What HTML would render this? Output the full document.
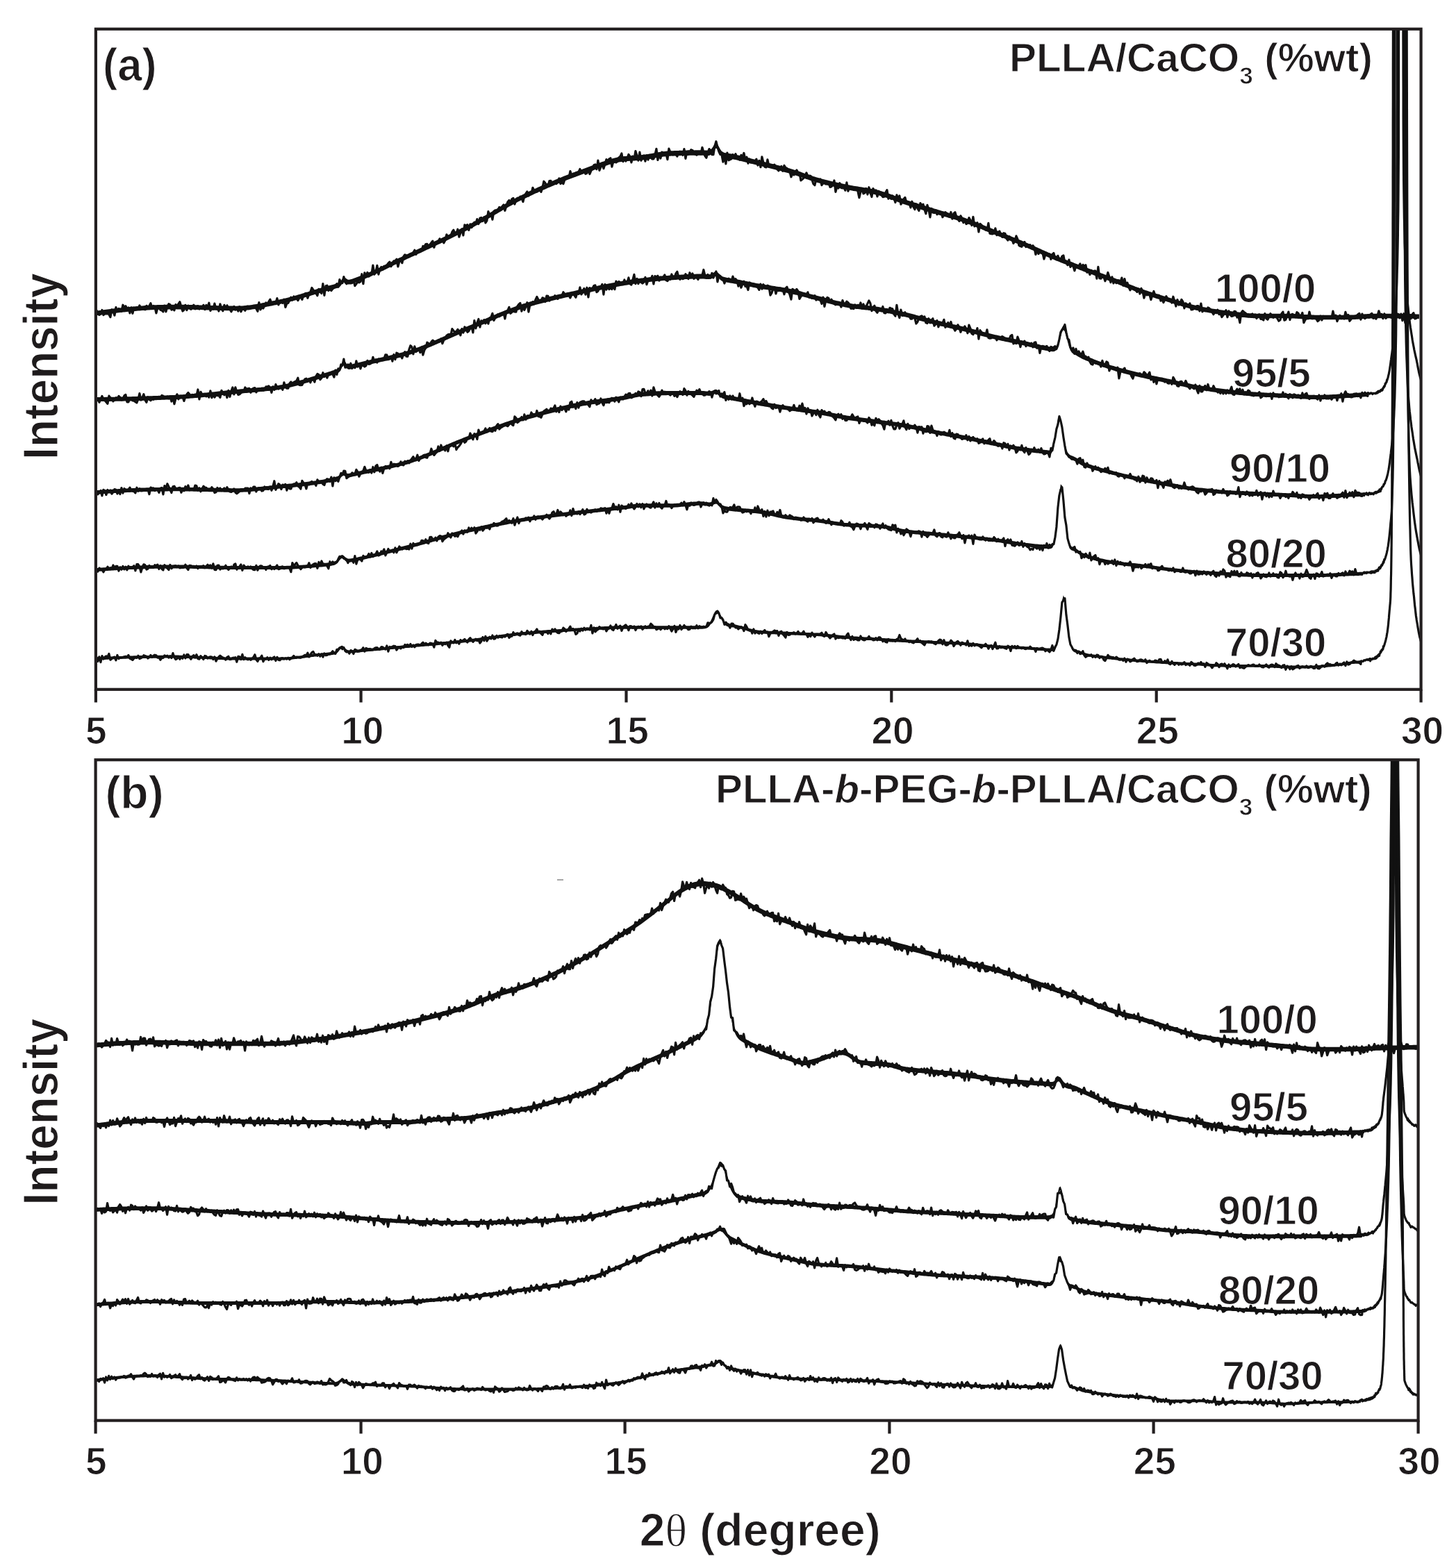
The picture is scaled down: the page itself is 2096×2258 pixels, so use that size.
<!DOCTYPE html>
<html><head><meta charset="utf-8"><title>XRD patterns</title><style>html,body{margin:0;padding:0;background:#fff}svg{display:block;filter:blur(0.55px)}</style></head><body>
<svg xmlns="http://www.w3.org/2000/svg" width="2096" height="2258" viewBox="0 0 2096 2258">
<style>
text{font-family:'Liberation Sans', Arial, Helvetica, sans-serif;font-weight:bold;fill:#1e1b1c;stroke:#fff;stroke-width:1.1px}
.tl{font-size:55px}
.lab{font-size:58px}
.ttl{font-size:58px}
.pan{font-size:66px}
.yl{font-size:70px}
.xl{font-size:66px}
</style>
<rect width="2096" height="2258" fill="#fff"/>
<defs><clipPath id="ca"><rect x="137.9" y="41.8" width="1907.6999999999998" height="951.0"/></clipPath>
<clipPath id="cb"><rect x="137.6" y="1094.2" width="1904.0" height="951.3999999999999"/></clipPath></defs>
<g clip-path="url(#ca)" stroke="#111" stroke-width="3.2" stroke-linejoin="round">
<path d="M138.9 447.7L140.9 447.4 142.9 447.1 144.9 446.9 146.9 446.6 148.9 446.3 150.9 446.1 152.9 445.8 154.9 445.6 156.9 445.3 158.9 445.1 160.9 444.8 162.9 444.6 164.9 444.3 166.9 444.1 168.9 443.9 170.9 443.6 172.9 443.4 174.9 443.2 176.9 443.0 178.9 442.8 180.9 442.6 182.9 442.3 184.9 442.1 186.9 442.0 188.9 441.8 190.9 441.6 192.9 441.4 194.9 441.2 196.9 441.0 198.9 440.9 200.9 440.7 202.9 440.6 204.9 440.4 206.9 440.3 208.9 440.1 210.9 440.0 212.9 439.9 214.9 439.7 216.9 439.6 218.9 439.5 220.9 439.4 222.9 439.3 224.9 439.2 226.9 439.1 228.9 439.1 230.9 439.0 232.9 438.9 234.9 438.9 236.9 438.8 238.9 438.8 240.9 438.7 242.9 438.7 244.9 438.7 246.9 438.7 248.9 438.7 250.9 438.7 252.9 438.7 254.9 438.7 256.9 438.7 258.9 438.7 260.9 438.7 262.9 438.8 264.9 438.8 266.9 438.8 268.9 438.9 270.9 438.9 272.9 439.0 274.9 439.0 276.9 439.1 278.9 439.1 280.9 439.2 282.9 439.3 284.9 439.3 286.9 439.4 288.9 439.4 290.9 439.5 292.9 439.6 294.9 439.6 296.9 439.7 298.9 439.8 300.9 439.8 302.9 439.9 304.9 440.0 306.9 440.0 308.9 440.1 310.9 440.1 312.9 440.2 314.9 440.3 316.9 440.3 318.9 440.4 320.9 440.4 322.9 440.5 324.9 440.5 326.9 440.5 328.9 440.6 330.9 440.6 332.9 440.6 334.9 440.6 336.9 440.7 338.9 440.7 340.9 440.7 342.9 440.6 344.9 440.6 346.9 440.5 348.9 440.4 350.9 440.3 352.9 440.1 354.9 439.9 356.9 439.7 358.9 439.5 360.9 439.2 362.9 438.9 364.9 438.6 366.9 438.3 368.9 438.0 370.9 437.6 372.9 437.3 374.9 436.9 376.9 436.5 378.9 436.1 380.9 435.7 382.9 435.3 384.9 434.9 386.9 434.5 388.9 434.1 390.9 433.7 392.9 433.3 394.9 432.9 396.9 432.5 398.9 432.1 400.9 431.7 402.9 431.3 404.9 430.8 406.9 430.4 408.9 430.0 410.9 429.5 412.9 429.0 414.9 428.5 416.9 428.0 418.9 427.4 420.9 426.9 422.9 426.3 424.9 425.8 426.9 425.2 428.9 424.6 430.9 424.0 432.9 423.4 434.9 422.8 436.9 422.2 438.9 421.6 440.9 421.0 442.9 420.4 444.9 419.7 446.9 419.1 448.9 418.5 450.9 417.9 452.9 417.3 454.9 416.7 456.9 416.1 458.9 415.5 460.9 414.9 462.9 414.4 464.9 413.8 466.9 413.2 468.9 412.7 470.9 412.1 472.9 411.6 474.9 411.0 476.9 410.5 478.9 409.9 480.9 409.4 482.9 408.8 484.9 408.3 486.9 407.6 488.9 406.4 490.9 404.2 492.9 401.3 494.9 399.4 496.9 399.9 498.9 401.6 500.9 402.7 502.9 402.8 504.9 402.3 506.9 401.7 508.9 401.0 510.9 400.3 512.9 399.6 514.9 398.8 516.9 398.1 518.9 397.3 520.9 396.5 522.9 395.7 524.9 394.9 526.9 394.0 528.9 393.2 530.9 392.3 532.9 391.4 534.9 390.5 536.9 389.6 538.9 388.7 540.9 387.8 542.9 386.8 544.9 385.9 546.9 384.9 548.9 384.0 550.9 383.0 552.9 382.0 554.9 381.1 556.9 380.1 558.9 379.1 560.9 378.2 562.9 377.2 564.9 376.2 566.9 375.2 568.9 374.2 570.9 373.3 572.9 372.3 574.9 371.3 576.9 370.4 578.9 369.4 580.9 368.5 582.9 367.5 584.9 366.6 586.9 365.7 588.9 364.7 590.9 363.8 592.9 362.9 594.9 361.9 596.9 361.0 598.9 360.1 600.9 359.2 602.9 358.2 604.9 357.3 606.9 356.4 608.9 355.4 610.9 354.5 612.9 353.6 614.9 352.7 616.9 351.7 618.9 350.8 620.9 349.9 622.9 348.9 624.9 348.0 626.9 347.0 628.9 346.1 630.9 345.1 632.9 344.2 634.9 343.2 636.9 342.3 638.9 341.3 640.9 340.4 642.9 339.4 644.9 338.5 646.9 337.5 648.9 336.5 650.9 335.5 652.9 334.6 654.9 333.6 656.9 332.6 658.9 331.6 660.9 330.6 662.9 329.6 664.9 328.6 666.9 327.6 668.9 326.5 670.9 325.5 672.9 324.5 674.9 323.4 676.9 322.4 678.9 321.3 680.9 320.2 682.9 319.1 684.9 318.0 686.9 316.9 688.9 315.8 690.9 314.7 692.9 313.5 694.9 312.4 696.9 311.2 698.9 310.1 700.9 308.9 702.9 307.7 704.9 306.6 706.9 305.4 708.9 304.2 710.9 303.1 712.9 301.9 714.9 300.7 716.9 299.6 718.9 298.4 720.9 297.3 722.9 296.1 724.9 295.0 726.9 293.8 728.9 292.7 730.9 291.6 732.9 290.4 734.9 289.3 736.9 288.2 738.9 287.1 740.9 286.1 742.9 285.0 744.9 284.0 746.9 282.9 748.9 281.9 750.9 280.9 752.9 279.9 754.9 278.9 756.9 278.0 758.9 277.0 760.9 276.1 762.9 275.1 764.9 274.2 766.9 273.3 768.9 272.3 770.9 271.4 772.9 270.5 774.9 269.6 776.9 268.7 778.9 267.8 780.9 266.9 782.9 266.0 784.9 265.1 786.9 264.2 788.9 263.4 790.9 262.5 792.9 261.6 794.9 260.8 796.9 259.9 798.9 259.1 800.9 258.2 802.9 257.4 804.9 256.6 806.9 255.7 808.9 254.9 810.9 254.1 812.9 253.3 814.9 252.5 816.9 251.7 818.9 250.9 820.9 250.2 822.9 249.4 824.9 248.6 826.9 247.9 828.9 247.1 830.9 246.4 832.9 245.6 834.9 244.9 836.9 244.2 838.9 243.4 840.9 242.7 842.9 242.0 844.9 241.3 846.9 240.6 848.9 239.8 850.9 239.1 852.9 238.3 854.9 237.6 856.9 236.8 858.9 236.1 860.9 235.3 862.9 234.6 864.9 233.8 866.9 233.1 868.9 232.4 870.9 231.7 872.9 231.0 874.9 230.4 876.9 229.8 878.9 229.2 880.9 228.6 882.9 228.1 884.9 227.5 886.9 227.1 888.9 226.6 890.9 226.2 892.9 225.9 894.9 225.6 896.9 225.3 898.9 225.1 900.9 224.9 902.9 224.8 904.9 224.6 906.9 224.5 908.9 224.3 910.9 224.2 912.9 224.1 914.9 224.0 916.9 223.8 918.9 223.7 920.9 223.5 922.9 223.3 924.9 223.1 926.9 222.9 928.9 222.6 930.9 222.3 932.9 222.0 934.9 221.6 936.9 221.3 938.9 220.9 940.9 220.6 942.9 220.2 944.9 219.8 946.9 219.5 948.9 219.2 950.9 218.8 952.9 218.5 954.9 218.2 956.9 218.0 958.9 217.8 960.9 217.6 962.9 217.4 964.9 217.3 966.9 217.2 968.9 217.2 970.9 217.1 972.9 217.0 974.9 216.9 976.9 216.9 978.9 216.8 980.9 216.7 982.9 216.7 984.9 216.6 986.9 216.6 988.9 216.5 990.9 216.5 992.9 216.5 994.9 216.4 996.9 216.4 998.9 216.4 1000.9 216.3 1002.9 216.3 1004.9 216.3 1006.9 216.3 1008.9 216.3 1010.9 216.3 1012.9 216.4 1014.9 216.5 1016.9 216.6 1018.9 216.7 1020.9 216.5 1022.9 215.6 1024.9 213.6 1026.9 210.5 1028.9 207.4 1030.9 206.1 1032.9 207.7 1034.9 211.3 1036.9 215.0 1038.9 217.7 1040.9 219.1 1042.9 219.9 1044.9 220.3 1046.9 220.7 1048.9 221.0 1050.9 221.3 1052.9 221.6 1054.9 222.0 1056.9 222.4 1058.9 222.8 1060.9 223.2 1062.9 223.6 1064.9 224.1 1066.9 224.6 1068.9 225.1 1070.9 225.6 1072.9 226.1 1074.9 226.6 1076.9 227.1 1078.9 227.7 1080.9 228.2 1082.9 228.7 1084.9 229.3 1086.9 229.8 1088.9 230.3 1090.9 230.8 1092.9 231.3 1094.9 231.8 1096.9 232.3 1098.9 232.8 1100.9 233.3 1102.9 233.8 1104.9 234.2 1106.9 234.7 1108.9 235.2 1110.9 235.7 1112.9 236.2 1114.9 236.7 1116.9 237.2 1118.9 237.7 1120.9 238.3 1122.9 238.8 1124.9 239.3 1126.9 239.8 1128.9 240.4 1130.9 240.9 1132.9 241.5 1134.9 242.0 1136.9 242.6 1138.9 243.2 1140.9 243.8 1142.9 244.5 1144.9 245.1 1146.9 245.8 1148.9 246.5 1150.9 247.1 1152.9 247.8 1154.9 248.5 1156.9 249.2 1158.9 249.9 1160.9 250.6 1162.9 251.3 1164.9 252.0 1166.9 252.7 1168.9 253.3 1170.9 254.0 1172.9 254.6 1174.9 255.2 1176.9 255.8 1178.9 256.3 1180.9 256.9 1182.9 257.4 1184.9 257.9 1186.9 258.5 1188.9 259.0 1190.9 259.5 1192.9 260.0 1194.9 260.4 1196.9 260.9 1198.9 261.4 1200.9 261.9 1202.9 262.3 1204.9 262.8 1206.9 263.2 1208.9 263.6 1210.9 264.1 1212.9 264.5 1214.9 264.9 1216.9 265.3 1218.9 265.8 1220.9 266.2 1222.9 266.6 1224.9 266.9 1226.9 267.3 1228.9 267.7 1230.9 268.0 1232.9 268.3 1234.9 268.6 1236.9 268.9 1238.9 269.3 1240.9 269.6 1242.9 269.9 1244.9 270.2 1246.9 270.5 1248.9 270.8 1250.9 271.2 1252.9 271.5 1254.9 271.9 1256.9 272.3 1258.9 272.7 1260.9 273.1 1262.9 273.6 1264.9 274.1 1266.9 274.7 1268.9 275.2 1270.9 275.9 1272.9 276.5 1274.9 277.2 1276.9 277.9 1278.9 278.6 1280.9 279.3 1282.9 280.1 1284.9 280.8 1286.9 281.6 1288.9 282.3 1290.9 283.1 1292.9 283.8 1294.9 284.6 1296.9 285.3 1298.9 286.0 1300.9 286.7 1302.9 287.4 1304.9 288.0 1306.9 288.7 1308.9 289.3 1310.9 289.9 1312.9 290.6 1314.9 291.2 1316.9 291.8 1318.9 292.5 1320.9 293.1 1322.9 293.7 1324.9 294.3 1326.9 294.9 1328.9 295.5 1330.9 296.1 1332.9 296.7 1334.9 297.4 1336.9 298.0 1338.9 298.6 1340.9 299.2 1342.9 299.8 1344.9 300.4 1346.9 301.0 1348.9 301.6 1350.9 302.2 1352.9 302.8 1354.9 303.4 1356.9 304.0 1358.9 304.5 1360.9 305.1 1362.9 305.7 1364.9 306.3 1366.9 306.9 1368.9 307.4 1370.9 308.0 1372.9 308.6 1374.9 309.2 1376.9 309.9 1378.9 310.5 1380.9 311.1 1382.9 311.8 1384.9 312.4 1386.9 313.1 1388.9 313.8 1390.9 314.5 1392.9 315.2 1394.9 315.9 1396.9 316.7 1398.9 317.4 1400.9 318.2 1402.9 319.0 1404.9 319.8 1406.9 320.6 1408.9 321.4 1410.9 322.2 1412.9 323.1 1414.9 323.9 1416.9 324.7 1418.9 325.5 1420.9 326.4 1422.9 327.2 1424.9 328.0 1426.9 328.8 1428.9 329.6 1430.9 330.4 1432.9 331.2 1434.9 332.0 1436.9 332.8 1438.9 333.6 1440.9 334.4 1442.9 335.2 1444.9 336.0 1446.9 336.8 1448.9 337.6 1450.9 338.4 1452.9 339.2 1454.9 340.0 1456.9 340.9 1458.9 341.7 1460.9 342.5 1462.9 343.3 1464.9 344.1 1466.9 345.0 1468.9 345.8 1470.9 346.6 1472.9 347.5 1474.9 348.3 1476.9 349.2 1478.9 350.1 1480.9 350.9 1482.9 351.8 1484.9 352.7 1486.9 353.6 1488.9 354.5 1490.9 355.4 1492.9 356.3 1494.9 357.2 1496.9 358.1 1498.9 359.0 1500.9 359.9 1502.9 360.8 1504.9 361.7 1506.9 362.6 1508.9 363.5 1510.9 364.4 1512.9 365.2 1514.9 366.1 1516.9 366.9 1518.9 367.7 1520.9 368.6 1522.9 369.4 1524.9 370.2 1526.9 371.0 1528.9 371.8 1530.9 372.6 1532.9 373.4 1534.9 374.2 1536.9 375.0 1538.9 375.8 1540.9 376.6 1542.9 377.3 1544.9 378.1 1546.9 378.9 1548.9 379.7 1550.9 380.5 1552.9 381.2 1554.9 382.0 1556.9 382.8 1558.9 383.5 1560.9 384.3 1562.9 385.1 1564.9 385.8 1566.9 386.6 1568.9 387.3 1570.9 388.0 1572.9 388.8 1574.9 389.5 1576.9 390.3 1578.9 391.0 1580.9 391.7 1582.9 392.5 1584.9 393.2 1586.9 393.9 1588.9 394.7 1590.9 395.4 1592.9 396.2 1594.9 396.9 1596.9 397.7 1598.9 398.4 1600.9 399.2 1602.9 399.9 1604.9 400.7 1606.9 401.5 1608.9 402.3 1610.9 403.1 1612.9 403.9 1614.9 404.7 1616.9 405.6 1618.9 406.4 1620.9 407.2 1622.9 408.0 1624.9 408.9 1626.9 409.7 1628.9 410.5 1630.9 411.3 1632.9 412.1 1634.9 412.9 1636.9 413.6 1638.9 414.4 1640.9 415.1 1642.9 415.9 1644.9 416.6 1646.9 417.3 1648.9 418.0 1650.9 418.6 1652.9 419.3 1654.9 420.0 1656.9 420.6 1658.9 421.3 1660.9 421.9 1662.9 422.5 1664.9 423.1 1666.9 423.8 1668.9 424.4 1670.9 425.0 1672.9 425.6 1674.9 426.2 1676.9 426.8 1678.9 427.4 1680.9 428.0 1682.9 428.6 1684.9 429.2 1686.9 429.8 1688.9 430.4 1690.9 431.1 1692.9 431.7 1694.9 432.3 1696.9 433.0 1698.9 433.6 1700.9 434.2 1702.9 434.8 1704.9 435.4 1706.9 436.0 1708.9 436.6 1710.9 437.2 1712.9 437.7 1714.9 438.3 1716.9 438.8 1718.9 439.3 1720.9 439.8 1722.9 440.2 1724.9 440.6 1726.9 441.1 1728.9 441.5 1730.9 441.9 1732.9 442.2 1734.9 442.6 1736.9 443.0 1738.9 443.4 1740.9 443.7 1742.9 444.0 1744.9 444.4 1746.9 444.7 1748.9 445.0 1750.9 445.3 1752.9 445.6 1754.9 445.9 1756.9 446.2 1758.9 446.5 1760.9 446.8 1762.9 447.0 1764.9 447.3 1766.9 447.5 1768.9 447.8 1770.9 448.0 1772.9 448.3 1774.9 448.5 1776.9 448.8 1778.9 449.0 1780.9 449.3 1782.9 449.5 1784.9 449.8 1786.9 450.0 1788.9 450.2 1790.9 450.5 1792.9 450.7 1794.9 450.9 1796.9 451.0 1798.9 451.2 1800.9 451.3 1802.9 451.5 1804.9 451.6 1806.9 451.6 1808.9 451.7 1810.9 451.7 1812.9 451.7 1814.9 451.7 1816.9 451.7 1818.9 451.7 1820.9 451.7 1822.9 451.7 1824.9 451.7 1826.9 451.7 1828.9 451.7 1830.9 451.7 1832.9 451.7 1834.9 451.7 1836.9 451.7 1838.9 451.7 1840.9 451.7 1842.9 451.7 1844.9 451.7 1846.9 451.7 1848.9 451.7 1850.9 451.7 1852.9 451.7 1854.9 451.7 1856.9 451.7 1858.9 451.8 1860.9 451.9 1862.9 452.0 1864.9 452.1 1866.9 452.2 1868.9 452.3 1870.9 452.4 1872.9 452.6 1874.9 452.7 1876.9 452.9 1878.9 453.0 1880.9 453.1 1882.9 453.2 1884.9 453.4 1886.9 453.5 1888.9 453.5 1890.9 453.6 1892.9 453.7 1894.9 453.7 1896.9 453.7 1898.9 453.7 1900.9 453.7 1902.9 453.7 1904.9 453.7 1906.9 453.7 1908.9 453.7 1910.9 453.7 1912.9 453.7 1914.9 453.7 1916.9 453.7 1918.9 453.7 1920.9 453.7 1922.9 453.7 1924.9 453.7 1926.9 453.7 1928.9 453.7 1930.9 453.7 1932.9 453.7 1934.9 453.7 1936.9 453.7 1938.9 453.7 1940.9 453.7 1942.9 453.6 1944.9 453.6 1946.9 453.5 1948.9 453.4 1950.9 453.3 1952.9 453.2 1954.9 453.0 1956.9 452.9 1958.9 452.8 1960.9 452.6 1962.9 452.5 1964.9 452.3 1966.9 452.2 1968.9 452.1 1970.9 452.0 1972.9 451.9 1974.9 451.8 1976.9 451.7 1978.9 451.7 1980.9 451.7 1982.9 451.7 1984.9 451.7 1986.9 451.7 1988.9 451.7 1990.9 451.7 1992.9 451.7 1994.9 451.7 1996.9 451.7 1998.9 451.7 2000.9 451.7 2002.9 451.7 2004.9 451.7 2006.9 451.7 2008.9 451.8 2010.9 451.8 2012.9 451.8 2014.9 451.8 2016.9 451.9 2018.9 451.9 2020.9 451.9 2022.9 451.9 2024.9 452.0 2026.9 452.0 2028.9 452.1 2030.9 452.1 2032.9 452.2 2034.9 452.3 2036.9 452.3 2038.9 452.4 2040.9 452.5 2042.9 452.5 2042.9 459.2 2040.9 459.1 2038.9 459.0 2036.9 459.0 2034.9 458.9 2032.9 458.8 2030.9 458.8 2028.9 458.7 2026.9 458.7 2024.9 458.6 2022.9 458.6 2020.9 458.5 2018.9 458.5 2016.9 458.5 2014.9 458.5 2012.9 458.4 2010.9 458.4 2008.9 458.4 2006.9 458.4 2004.9 458.4 2002.9 458.4 2000.9 458.3 1998.9 458.3 1996.9 458.3 1994.9 458.3 1992.9 458.3 1990.9 458.3 1988.9 458.3 1986.9 458.3 1984.9 458.3 1982.9 458.3 1980.9 458.3 1978.9 458.3 1976.9 458.4 1974.9 458.4 1972.9 458.5 1970.9 458.6 1968.9 458.7 1966.9 458.8 1964.9 459.0 1962.9 459.1 1960.9 459.3 1958.9 459.4 1956.9 459.5 1954.9 459.7 1952.9 459.8 1950.9 459.9 1948.9 460.0 1946.9 460.1 1944.9 460.2 1942.9 460.3 1940.9 460.3 1938.9 460.3 1936.9 460.3 1934.9 460.3 1932.9 460.3 1930.9 460.3 1928.9 460.3 1926.9 460.3 1924.9 460.3 1922.9 460.3 1920.9 460.3 1918.9 460.3 1916.9 460.3 1914.9 460.3 1912.9 460.3 1910.9 460.3 1908.9 460.3 1906.9 460.3 1904.9 460.3 1902.9 460.3 1900.9 460.3 1898.9 460.3 1896.9 460.3 1894.9 460.3 1892.9 460.3 1890.9 460.2 1888.9 460.2 1886.9 460.1 1884.9 460.0 1882.9 459.9 1880.9 459.7 1878.9 459.6 1876.9 459.5 1874.9 459.3 1872.9 459.2 1870.9 459.1 1868.9 458.9 1866.9 458.8 1864.9 458.7 1862.9 458.6 1860.9 458.5 1858.9 458.4 1856.9 458.4 1854.9 458.3 1852.9 458.3 1850.9 458.3 1848.9 458.3 1846.9 458.3 1844.9 458.3 1842.9 458.3 1840.9 458.3 1838.9 458.3 1836.9 458.3 1834.9 458.3 1832.9 458.3 1830.9 458.3 1828.9 458.3 1826.9 458.3 1824.9 458.3 1822.9 458.3 1820.9 458.3 1818.9 458.3 1816.9 458.3 1814.9 458.3 1812.9 458.3 1810.9 458.3 1808.9 458.3 1806.9 458.3 1804.9 458.2 1802.9 458.1 1800.9 458.0 1798.9 457.8 1796.9 457.7 1794.9 457.5 1792.9 457.3 1790.9 457.1 1788.9 456.9 1786.9 456.7 1784.9 456.4 1782.9 456.2 1780.9 455.9 1778.9 455.7 1776.9 455.4 1774.9 455.2 1772.9 454.9 1770.9 454.7 1768.9 454.4 1766.9 454.2 1764.9 453.9 1762.9 453.7 1760.9 453.4 1758.9 453.2 1756.9 452.9 1754.9 452.6 1752.9 452.3 1750.9 452.0 1748.9 451.7 1746.9 451.4 1744.9 451.0 1742.9 450.7 1740.9 450.4 1738.9 450.0 1736.9 449.7 1734.9 449.3 1732.9 448.9 1730.9 448.5 1728.9 448.1 1726.9 447.7 1724.9 447.3 1722.9 446.9 1720.9 446.4 1718.9 446.0 1716.9 445.5 1714.9 444.9 1712.9 444.4 1710.9 443.8 1708.9 443.3 1706.9 442.7 1704.9 442.1 1702.9 441.5 1700.9 440.9 1698.9 440.3 1696.9 439.7 1694.9 439.0 1692.9 438.4 1690.9 437.8 1688.9 437.2 1686.9 436.5 1684.9 435.9 1682.9 435.3 1680.9 434.7 1678.9 434.1 1676.9 433.5 1674.9 432.9 1672.9 432.3 1670.9 431.7 1668.9 431.1 1666.9 430.5 1664.9 429.9 1662.9 429.3 1660.9 428.6 1658.9 428.0 1656.9 427.4 1654.9 426.7 1652.9 426.1 1650.9 425.4 1648.9 424.7 1646.9 424.0 1644.9 423.3 1642.9 422.6 1640.9 421.9 1638.9 421.2 1636.9 420.4 1634.9 419.6 1632.9 418.9 1630.9 418.1 1628.9 417.3 1626.9 416.5 1624.9 415.6 1622.9 414.8 1620.9 414.0 1618.9 413.2 1616.9 412.4 1614.9 411.5 1612.9 410.7 1610.9 409.9 1608.9 409.1 1606.9 408.3 1604.9 407.5 1602.9 406.8 1600.9 406.0 1598.9 405.2 1596.9 404.5 1594.9 403.7 1592.9 403.0 1590.9 402.2 1588.9 401.5 1586.9 400.8 1584.9 400.0 1582.9 399.3 1580.9 398.6 1578.9 397.8 1576.9 397.1 1574.9 396.4 1572.9 395.6 1570.9 394.9 1568.9 394.2 1566.9 393.4 1564.9 392.7 1562.9 391.9 1560.9 391.2 1558.9 390.4 1556.9 389.6 1554.9 388.9 1552.9 388.1 1550.9 387.3 1548.9 386.6 1546.9 385.8 1544.9 385.0 1542.9 384.2 1540.9 383.5 1538.9 382.7 1536.9 381.9 1534.9 381.1 1532.9 380.3 1530.9 379.5 1528.9 378.7 1526.9 377.9 1524.9 377.1 1522.9 376.3 1520.9 375.5 1518.9 374.7 1516.9 373.8 1514.9 373.0 1512.9 372.2 1510.9 371.3 1508.9 370.4 1506.9 369.6 1504.9 368.7 1502.9 367.8 1500.9 366.9 1498.9 366.0 1496.9 365.1 1494.9 364.2 1492.9 363.3 1490.9 362.4 1488.9 361.5 1486.9 360.6 1484.9 359.7 1482.9 358.8 1480.9 357.9 1478.9 357.0 1476.9 356.2 1474.9 355.3 1472.9 354.4 1470.9 353.6 1468.9 352.8 1466.9 351.9 1464.9 351.1 1462.9 350.3 1460.9 349.5 1458.9 348.7 1456.9 347.9 1454.9 347.1 1452.9 346.2 1450.9 345.4 1448.9 344.6 1446.9 343.8 1444.9 343.1 1442.9 342.3 1440.9 341.5 1438.9 340.7 1436.9 339.9 1434.9 339.1 1432.9 338.3 1430.9 337.5 1428.9 336.7 1426.9 335.9 1424.9 335.1 1422.9 334.2 1420.9 333.4 1418.9 332.6 1416.9 331.8 1414.9 330.9 1412.9 330.1 1410.9 329.3 1408.9 328.5 1406.9 327.7 1404.9 326.9 1402.9 326.1 1400.9 325.3 1398.9 324.5 1396.9 323.8 1394.9 323.0 1392.9 322.3 1390.9 321.6 1388.9 320.9 1386.9 320.2 1384.9 319.5 1382.9 318.8 1380.9 318.2 1378.9 317.6 1376.9 317.0 1374.9 316.3 1372.9 315.7 1370.9 315.1 1368.9 314.6 1366.9 314.0 1364.9 313.4 1362.9 312.8 1360.9 312.2 1358.9 311.7 1356.9 311.1 1354.9 310.5 1352.9 309.9 1350.9 309.3 1348.9 308.7 1346.9 308.1 1344.9 307.5 1342.9 306.9 1340.9 306.3 1338.9 305.7 1336.9 305.1 1334.9 304.5 1332.9 303.9 1330.9 303.3 1328.9 302.7 1326.9 302.1 1324.9 301.5 1322.9 300.8 1320.9 300.2 1318.9 299.6 1316.9 299.0 1314.9 298.4 1312.9 297.7 1310.9 297.1 1308.9 296.5 1306.9 295.8 1304.9 295.2 1302.9 294.6 1300.9 293.9 1298.9 293.2 1296.9 292.5 1294.9 291.8 1292.9 291.0 1290.9 290.3 1288.9 289.5 1286.9 288.8 1284.9 288.0 1282.9 287.3 1280.9 286.5 1278.9 285.8 1276.9 285.1 1274.9 284.4 1272.9 283.7 1270.9 283.1 1268.9 282.4 1266.9 281.9 1264.9 281.3 1262.9 280.8 1260.9 280.4 1258.9 279.9 1256.9 279.5 1254.9 279.1 1252.9 278.8 1250.9 278.4 1248.9 278.1 1246.9 277.7 1244.9 277.4 1242.9 277.1 1240.9 276.8 1238.9 276.5 1236.9 276.2 1234.9 275.9 1232.9 275.5 1230.9 275.2 1228.9 274.9 1226.9 274.5 1224.9 274.2 1222.9 273.8 1220.9 273.4 1218.9 273.0 1216.9 272.6 1214.9 272.2 1212.9 271.8 1210.9 271.3 1208.9 270.9 1206.9 270.5 1204.9 270.0 1202.9 269.6 1200.9 269.1 1198.9 268.6 1196.9 268.2 1194.9 267.7 1192.9 267.2 1190.9 266.7 1188.9 266.2 1186.9 265.7 1184.9 265.2 1182.9 264.7 1180.9 264.1 1178.9 263.6 1176.9 263.0 1174.9 262.5 1172.9 261.9 1170.9 261.2 1168.9 260.6 1166.9 259.9 1164.9 259.3 1162.9 258.6 1160.9 257.9 1158.9 257.2 1156.9 256.5 1154.9 255.8 1152.9 255.1 1150.9 254.4 1148.9 253.7 1146.9 253.1 1144.9 252.4 1142.9 251.8 1140.9 251.1 1138.9 250.5 1136.9 249.9 1134.9 249.3 1132.9 248.8 1130.9 248.2 1128.9 247.7 1126.9 247.1 1124.9 246.6 1122.9 246.1 1120.9 245.6 1118.9 245.1 1116.9 244.6 1114.9 244.0 1112.9 243.5 1110.9 243.1 1108.9 242.6 1106.9 242.1 1104.9 241.6 1102.9 241.1 1100.9 240.6 1098.9 240.1 1096.9 239.6 1094.9 239.1 1092.9 238.6 1090.9 238.1 1088.9 237.6 1086.9 237.1 1084.9 236.6 1082.9 236.1 1080.9 235.5 1078.9 235.0 1076.9 234.5 1074.9 234.0 1072.9 233.4 1070.9 232.9 1068.9 232.4 1066.9 231.9 1064.9 231.5 1062.9 231.0 1060.9 230.6 1058.9 230.1 1056.9 229.7 1054.9 229.3 1052.9 229.0 1050.9 228.7 1048.9 228.4 1046.9 228.0 1044.9 227.7 1042.9 227.2 1040.9 226.5 1038.9 225.0 1036.9 222.4 1034.9 218.7 1032.9 215.1 1030.9 213.6 1028.9 214.8 1026.9 217.9 1024.9 221.0 1022.9 223.0 1020.9 223.9 1018.9 224.0 1016.9 224.0 1014.9 223.9 1012.9 223.8 1010.9 223.7 1008.9 223.7 1006.9 223.7 1004.9 223.7 1002.9 223.7 1000.9 223.7 998.9 223.7 996.9 223.8 994.9 223.8 992.9 223.8 990.9 223.9 988.9 223.9 986.9 224.0 984.9 224.0 982.9 224.1 980.9 224.1 978.9 224.2 976.9 224.3 974.9 224.3 972.9 224.4 970.9 224.5 968.9 224.5 966.9 224.6 964.9 224.7 962.9 224.8 960.9 224.9 958.9 225.1 956.9 225.4 954.9 225.6 952.9 225.9 950.9 226.2 948.9 226.5 946.9 226.9 944.9 227.2 942.9 227.6 940.9 227.9 938.9 228.3 936.9 228.7 934.9 229.0 932.9 229.3 930.9 229.7 928.9 230.0 926.9 230.2 924.9 230.5 922.9 230.7 920.9 230.9 918.9 231.0 916.9 231.2 914.9 231.3 912.9 231.4 910.9 231.6 908.9 231.7 906.9 231.8 904.9 232.0 902.9 232.1 900.9 232.3 898.9 232.5 896.9 232.7 894.9 232.9 892.9 233.3 890.9 233.6 888.9 234.0 886.9 234.4 884.9 234.9 882.9 235.4 880.9 235.9 878.9 236.5 876.9 237.1 874.9 237.7 872.9 238.4 870.9 239.1 868.9 239.7 866.9 240.5 864.9 241.2 862.9 241.9 860.9 242.6 858.9 243.4 856.9 244.1 854.9 244.9 852.9 245.7 850.9 246.4 848.9 247.2 846.9 247.9 844.9 248.6 842.9 249.3 840.9 250.0 838.9 250.8 836.9 251.5 834.9 252.2 832.9 252.9 830.9 253.7 828.9 254.4 826.9 255.2 824.9 255.9 822.9 256.7 820.9 257.4 818.9 258.2 816.9 259.0 814.9 259.8 812.9 260.6 810.9 261.4 808.9 262.2 806.9 263.0 804.9 263.8 802.9 264.7 800.9 265.5 798.9 266.3 796.9 267.2 794.9 268.0 792.9 268.9 790.9 269.7 788.9 270.6 786.9 271.5 784.9 272.4 782.9 273.2 780.9 274.1 778.9 275.0 776.9 275.9 774.9 276.8 772.9 277.7 770.9 278.6 768.9 279.6 766.9 280.5 764.9 281.4 762.9 282.3 760.9 283.3 758.9 284.2 756.9 285.2 754.9 286.1 752.9 287.1 750.9 288.1 748.9 289.1 746.9 290.1 744.9 291.1 742.9 292.2 740.9 293.2 738.9 294.3 736.9 295.4 734.9 296.5 732.9 297.6 730.9 298.7 728.9 299.8 726.9 301.0 724.9 302.1 722.9 303.3 720.9 304.4 718.9 305.6 716.9 306.7 714.9 307.9 712.9 309.0 710.9 310.2 708.9 311.4 706.9 312.5 704.9 313.7 702.9 314.9 700.9 316.0 698.9 317.2 696.9 318.3 694.9 319.5 692.9 320.6 690.9 321.7 688.9 322.9 686.9 324.0 684.9 325.1 682.9 326.2 680.9 327.3 678.9 328.4 676.9 329.4 674.9 330.5 672.9 331.5 670.9 332.6 668.9 333.6 666.9 334.6 664.9 335.6 662.9 336.6 660.9 337.6 658.9 338.6 656.9 339.6 654.9 340.6 652.9 341.6 650.9 342.6 648.9 343.5 646.9 344.5 644.9 345.5 642.9 346.4 640.9 347.4 638.9 348.3 636.9 349.3 634.9 350.2 632.9 351.2 630.9 352.1 628.9 353.1 626.9 354.0 624.9 355.0 622.9 355.9 620.9 356.8 618.9 357.8 616.9 358.7 614.9 359.6 612.9 360.6 610.9 361.5 608.9 362.4 606.9 363.3 604.9 364.3 602.9 365.2 600.9 366.1 598.9 367.0 596.9 368.0 594.9 368.9 592.9 369.8 590.9 370.7 588.9 371.7 586.9 372.6 584.9 373.5 582.9 374.4 580.9 375.4 578.9 376.3 576.9 377.3 574.9 378.2 572.9 379.2 570.9 380.2 568.9 381.1 566.9 382.1 564.9 383.1 562.9 384.1 560.9 385.0 558.9 386.0 556.9 387.0 554.9 388.0 552.9 388.9 550.9 389.9 548.9 390.8 546.9 391.8 544.9 392.7 542.9 393.7 540.9 394.6 538.9 395.5 536.9 396.4 534.9 397.4 532.9 398.2 530.9 399.1 528.9 400.0 526.9 400.8 524.9 401.7 522.9 402.5 520.9 403.3 518.9 404.1 516.9 404.9 514.9 405.6 512.9 406.4 510.9 407.1 508.9 407.8 506.9 408.5 504.9 409.1 502.9 409.6 500.9 409.5 498.9 408.5 496.9 406.7 494.9 406.2 492.9 408.1 490.9 411.0 488.9 413.2 486.9 414.4 484.9 415.1 482.9 415.6 480.9 416.2 478.9 416.7 476.9 417.3 474.9 417.8 472.9 418.4 470.9 418.9 468.9 419.5 466.9 420.0 464.9 420.6 462.9 421.1 460.9 421.7 458.9 422.3 456.9 422.9 454.9 423.5 452.9 424.1 450.9 424.7 448.9 425.3 446.9 425.9 444.9 426.5 442.9 427.1 440.9 427.7 438.9 428.3 436.9 428.9 434.9 429.5 432.9 430.1 430.9 430.7 428.9 431.3 426.9 431.9 424.9 432.5 422.9 433.0 420.9 433.6 418.9 434.1 416.9 434.7 414.9 435.2 412.9 435.7 410.9 436.2 408.9 436.7 406.9 437.1 404.9 437.6 402.9 438.0 400.9 438.4 398.9 438.8 396.9 439.2 394.9 439.6 392.9 440.0 390.9 440.4 388.9 440.8 386.9 441.2 384.9 441.6 382.9 442.0 380.9 442.4 378.9 442.8 376.9 443.2 374.9 443.6 372.9 444.0 370.9 444.3 368.9 444.7 366.9 445.0 364.9 445.3 362.9 445.6 360.9 445.9 358.9 446.1 356.9 446.4 354.9 446.6 352.9 446.8 350.9 446.9 348.9 447.1 346.9 447.2 344.9 447.3 342.9 447.3 340.9 447.3 338.9 447.3 336.9 447.3 334.9 447.3 332.9 447.3 330.9 447.3 328.9 447.2 326.9 447.2 324.9 447.2 322.9 447.1 320.9 447.1 318.9 447.0 316.9 447.0 314.9 446.9 312.9 446.9 310.9 446.8 308.9 446.8 306.9 446.7 304.9 446.6 302.9 446.6 300.9 446.5 298.9 446.5 296.9 446.4 294.9 446.3 292.9 446.3 290.9 446.2 288.9 446.1 286.9 446.1 284.9 446.0 282.9 445.9 280.9 445.9 278.9 445.8 276.9 445.8 274.9 445.7 272.9 445.7 270.9 445.6 268.9 445.6 266.9 445.5 264.9 445.5 262.9 445.4 260.9 445.4 258.9 445.4 256.9 445.4 254.9 445.4 252.9 445.3 250.9 445.3 248.9 445.3 246.9 445.4 244.9 445.4 242.9 445.4 240.9 445.4 238.9 445.5 236.9 445.5 234.9 445.6 232.9 445.6 230.9 445.7 228.9 445.7 226.9 445.8 224.9 445.9 222.9 446.0 220.9 446.1 218.9 446.2 216.9 446.3 214.9 446.4 212.9 446.5 210.9 446.7 208.9 446.8 206.9 446.9 204.9 447.1 202.9 447.2 200.9 447.4 198.9 447.6 196.9 447.7 194.9 447.9 192.9 448.1 190.9 448.2 188.9 448.4 186.9 448.6 184.9 448.8 182.9 449.0 180.9 449.2 178.9 449.4 176.9 449.6 174.9 449.9 172.9 450.1 170.9 450.3 168.9 450.5 166.9 450.8 164.9 451.0 162.9 451.2 160.9 451.5 158.9 451.7 156.9 452.0 154.9 452.2 152.9 452.5 150.9 452.7 148.9 453.0 146.9 453.3 144.9 453.5 142.9 453.8 140.9 454.1 138.9 454.3Z" fill="#111" stroke="none"/>
<path d="M138.9 446.7L140.9 451.8 142.9 453.4 144.9 452.2 146.9 446.4 148.9 453.6 150.9 452.0 152.9 451.8 154.9 451.6 156.9 452.7 158.9 456.7 160.9 445.9 162.9 448.1 164.9 454.2 166.9 442.5 168.9 448.4 170.9 444.4 172.9 446.7 174.9 448.3 176.9 439.2 178.9 442.4 180.9 440.7 182.9 444.8 184.9 442.9 186.9 450.9 188.9 442.9 190.9 451.3 192.9 443.2 194.9 445.6 196.9 444.5 198.9 444.3 200.9 439.9 202.9 445.1 204.9 445.2 206.9 444.5 208.9 445.8 210.9 440.3 212.9 442.1 214.9 440.6 216.9 436.6 218.9 444.2 220.9 440.4 222.9 442.4 224.9 450.9 226.9 443.3 228.9 442.8 230.9 446.3 232.9 446.9 234.9 448.9 236.9 440.2 238.9 448.8 240.9 441.6 242.9 437.7 244.9 438.6 246.9 446.1 248.9 444.8 250.9 446.8 252.9 438.6 254.9 440.8 256.9 437.6 258.9 434.7 260.9 442.0 262.9 448.0 264.9 446.3 266.9 439.3 268.9 446.6 270.9 440.1 272.9 443.5 274.9 445.4 276.9 440.9 278.9 439.2 280.9 444.9 282.9 441.9 284.9 440.6 286.9 445.1 288.9 442.0 290.9 444.3 292.9 439.3 294.9 445.7 296.9 439.5 298.9 441.7 300.9 436.2 302.9 447.5 304.9 443.7 306.9 445.1 308.9 437.1 310.9 444.1 312.9 442.1 314.9 448.0 316.9 437.8 318.9 445.0 320.9 447.7 322.9 439.4 324.9 444.2 326.9 439.8 328.9 444.1 330.9 445.2 332.9 448.8 334.9 444.6 336.9 441.4 338.9 446.1 340.9 444.0 342.9 448.0 344.9 441.7 346.9 448.8 348.9 444.4 350.9 444.5 352.9 447.2 354.9 441.3 356.9 441.1 358.9 444.7 360.9 442.2 362.9 442.4 364.9 440.5 366.9 440.5 368.9 444.5 370.9 448.3 372.9 435.5 374.9 445.9 376.9 442.6 378.9 444.0 380.9 439.8 382.9 435.9 384.9 437.5 386.9 434.4 388.9 431.2 390.9 436.8 392.9 437.6 394.9 435.2 396.9 436.5 398.9 429.6 400.9 439.0 402.9 434.0 404.9 434.4 406.9 436.4 408.9 431.2 410.9 442.5 412.9 437.0 414.9 436.4 416.9 431.9 418.9 428.1 420.9 432.1 422.9 427.0 424.9 430.0 426.9 429.4 428.9 432.6 430.9 429.0 432.9 427.3 434.9 431.4 436.9 425.1 438.9 423.0 440.9 422.4 442.9 429.2 444.9 423.2 446.9 420.3 448.9 414.5 450.9 417.4 452.9 421.8 454.9 422.3 456.9 425.7 458.9 416.3 460.9 420.2 462.9 422.6 464.9 408.6 466.9 425.3 468.9 411.8 470.9 411.2 472.9 418.5 474.9 416.0 476.9 418.5 478.9 415.8 480.9 413.9 482.9 411.8 484.9 408.7 486.9 413.2 488.9 402.6 490.9 406.9 492.9 407.7 494.9 398.5 496.9 406.5 498.9 408.8 500.9 406.4 502.9 405.6 504.9 407.8 506.9 407.5 508.9 403.4 510.9 411.5 512.9 408.7 514.9 406.0 516.9 406.8 518.9 405.7 520.9 394.7 522.9 408.7 524.9 392.8 526.9 398.2 528.9 392.4 530.9 398.1 532.9 396.5 534.9 394.9 536.9 382.1 538.9 395.2 540.9 392.2 542.9 382.4 544.9 395.1 546.9 387.8 548.9 384.5 550.9 388.1 552.9 383.4 554.9 386.0 556.9 382.2 558.9 379.1 560.9 377.2 562.9 383.7 564.9 380.0 566.9 375.8 568.9 375.5 570.9 373.3 572.9 384.0 574.9 376.3 576.9 374.5 578.9 378.7 580.9 369.4 582.9 366.8 584.9 368.1 586.9 369.8 588.9 367.4 590.9 365.9 592.9 366.9 594.9 363.7 596.9 360.2 598.9 366.4 600.9 361.5 602.9 360.5 604.9 362.7 606.9 361.4 608.9 354.5 610.9 355.1 612.9 351.5 614.9 351.4 616.9 356.3 618.9 352.3 620.9 349.6 622.9 347.1 624.9 356.3 626.9 348.8 628.9 350.4 630.9 348.2 632.9 343.8 634.9 348.3 636.9 346.1 638.9 349.8 640.9 346.0 642.9 337.8 644.9 341.3 646.9 340.4 648.9 339.5 650.9 334.0 652.9 331.3 654.9 336.4 656.9 337.2 658.9 330.2 660.9 341.2 662.9 335.5 664.9 330.0 666.9 338.9 668.9 323.9 670.9 324.9 672.9 323.6 674.9 331.4 676.9 322.8 678.9 327.6 680.9 324.6 682.9 320.2 684.9 321.9 686.9 315.6 688.9 322.5 690.9 314.1 692.9 313.4 694.9 318.5 696.9 312.7 698.9 320.9 700.9 317.8 702.9 304.6 704.9 310.6 706.9 308.3 708.9 316.2 710.9 304.3 712.9 302.9 714.9 303.4 716.9 302.2 718.9 298.3 720.9 301.7 722.9 297.4 724.9 295.0 726.9 303.3 728.9 296.7 730.9 290.8 732.9 288.4 734.9 291.5 736.9 286.7 738.9 285.4 740.9 294.0 742.9 287.9 744.9 285.2 746.9 287.1 748.9 283.1 750.9 284.7 752.9 290.6 754.9 282.3 756.9 279.0 758.9 276.0 760.9 282.1 762.9 278.0 764.9 279.3 766.9 270.3 768.9 274.3 770.9 275.3 772.9 276.1 774.9 274.1 776.9 271.1 778.9 276.4 780.9 270.3 782.9 261.2 784.9 263.5 786.9 267.6 788.9 267.8 790.9 260.6 792.9 260.3 794.9 265.8 796.9 264.5 798.9 264.1 800.9 264.7 802.9 261.2 804.9 256.9 806.9 264.5 808.9 262.7 810.9 264.7 812.9 258.8 814.9 256.8 816.9 256.4 818.9 256.0 820.9 246.6 822.9 252.7 824.9 251.1 826.9 253.3 828.9 252.3 830.9 249.0 832.9 247.8 834.9 243.4 836.9 249.2 838.9 245.5 840.9 245.2 842.9 250.3 844.9 249.5 846.9 243.2 848.9 250.6 850.9 245.9 852.9 242.4 854.9 237.8 856.9 237.0 858.9 243.7 860.9 231.1 862.9 245.3 864.9 240.4 866.9 235.4 868.9 242.7 870.9 236.4 872.9 229.6 874.9 231.3 876.9 228.9 878.9 227.8 880.9 240.2 882.9 232.0 884.9 230.3 886.9 233.9 888.9 232.5 890.9 226.9 892.9 225.3 894.9 221.0 896.9 232.6 898.9 227.5 900.9 232.0 902.9 228.3 904.9 222.4 906.9 225.3 908.9 233.9 910.9 225.1 912.9 229.5 914.9 217.6 916.9 224.0 918.9 231.1 920.9 219.2 922.9 231.2 924.9 224.6 926.9 223.9 928.9 232.1 930.9 223.8 932.9 230.1 934.9 223.7 936.9 226.6 938.9 229.0 940.9 228.8 942.9 223.0 944.9 214.3 946.9 230.5 948.9 220.7 950.9 228.0 952.9 219.1 954.9 220.4 956.9 222.3 958.9 221.6 960.9 229.6 962.9 214.2 964.9 219.0 966.9 222.3 968.9 222.9 970.9 221.2 972.9 221.8 974.9 225.1 976.9 218.5 978.9 218.4 980.9 220.2 982.9 223.5 984.9 214.6 986.9 228.3 988.9 218.9 990.9 217.8 992.9 218.9 994.9 215.7 996.9 216.4 998.9 218.9 1000.9 222.1 1002.9 223.2 1004.9 218.5 1006.9 218.9 1008.9 222.0 1010.9 212.3 1012.9 219.5 1014.9 224.6 1016.9 227.2 1018.9 219.6 1020.9 214.6 1022.9 216.9 1024.9 222.6 1026.9 222.7 1028.9 210.5 1030.9 203.7 1032.9 212.1 1034.9 218.3 1036.9 222.5 1038.9 223.0 1040.9 233.1 1042.9 223.6 1044.9 235.9 1046.9 220.0 1048.9 230.8 1050.9 229.7 1052.9 228.8 1054.9 222.6 1056.9 225.6 1058.9 221.6 1060.9 227.2 1062.9 228.6 1064.9 230.2 1066.9 223.4 1068.9 225.8 1070.9 220.4 1072.9 230.1 1074.9 226.1 1076.9 235.2 1078.9 229.1 1080.9 234.0 1082.9 230.9 1084.9 232.8 1086.9 232.6 1088.9 229.1 1090.9 238.0 1092.9 231.4 1094.9 240.7 1096.9 225.8 1098.9 234.4 1100.9 240.3 1102.9 240.9 1104.9 229.9 1106.9 239.1 1108.9 239.5 1110.9 240.4 1112.9 238.2 1114.9 237.1 1116.9 241.5 1118.9 243.6 1120.9 245.8 1122.9 242.0 1124.9 239.4 1126.9 246.3 1128.9 238.3 1130.9 241.5 1132.9 242.4 1134.9 245.5 1136.9 246.9 1138.9 254.8 1140.9 250.0 1142.9 251.9 1144.9 247.1 1146.9 245.0 1148.9 248.6 1150.9 248.6 1152.9 259.9 1154.9 258.2 1156.9 256.4 1158.9 253.3 1160.9 249.0 1162.9 253.7 1164.9 253.1 1166.9 253.3 1168.9 258.7 1170.9 264.8 1172.9 266.7 1174.9 258.2 1176.9 259.9 1178.9 261.4 1180.9 258.0 1182.9 266.6 1184.9 263.9 1186.9 262.7 1188.9 265.0 1190.9 261.4 1192.9 262.9 1194.9 269.4 1196.9 268.8 1198.9 265.9 1200.9 259.9 1202.9 276.3 1204.9 268.6 1206.9 271.0 1208.9 263.7 1210.9 270.4 1212.9 270.9 1214.9 270.3 1216.9 274.2 1218.9 262.8 1220.9 275.2 1222.9 269.1 1224.9 269.0 1226.9 271.3 1228.9 273.5 1230.9 272.9 1232.9 270.9 1234.9 275.1 1236.9 284.6 1238.9 276.1 1240.9 272.2 1242.9 278.9 1244.9 277.9 1246.9 271.5 1248.9 280.0 1250.9 269.7 1252.9 277.6 1254.9 283.5 1256.9 271.5 1258.9 274.9 1260.9 273.9 1262.9 283.0 1264.9 275.3 1266.9 278.2 1268.9 280.8 1270.9 283.7 1272.9 283.2 1274.9 277.2 1276.9 273.6 1278.9 286.2 1280.9 283.2 1282.9 286.3 1284.9 282.0 1286.9 285.2 1288.9 291.5 1290.9 280.8 1292.9 286.6 1294.9 282.0 1296.9 294.2 1298.9 290.3 1300.9 286.5 1302.9 284.4 1304.9 292.0 1306.9 292.8 1308.9 292.2 1310.9 298.9 1312.9 290.2 1314.9 297.9 1316.9 301.5 1318.9 293.7 1320.9 300.1 1322.9 303.4 1324.9 292.5 1326.9 296.0 1328.9 294.1 1330.9 301.8 1332.9 307.8 1334.9 295.4 1336.9 301.6 1338.9 312.8 1340.9 300.3 1342.9 305.9 1344.9 306.4 1346.9 302.6 1348.9 308.8 1350.9 307.3 1352.9 306.0 1354.9 305.9 1356.9 312.7 1358.9 308.7 1360.9 305.7 1362.9 307.3 1364.9 311.1 1366.9 312.2 1368.9 305.5 1370.9 315.2 1372.9 307.4 1374.9 305.6 1376.9 312.1 1378.9 315.4 1380.9 318.5 1382.9 310.8 1384.9 314.5 1386.9 320.7 1388.9 317.1 1390.9 322.5 1392.9 321.4 1394.9 313.6 1396.9 317.1 1398.9 324.5 1400.9 312.3 1402.9 325.9 1404.9 322.7 1406.9 320.7 1408.9 333.9 1410.9 322.3 1412.9 324.1 1414.9 326.3 1416.9 327.0 1418.9 331.2 1420.9 331.5 1422.9 321.4 1424.9 336.2 1426.9 336.7 1428.9 336.9 1430.9 335.9 1432.9 328.8 1434.9 338.6 1436.9 334.6 1438.9 333.0 1440.9 338.2 1442.9 341.4 1444.9 335.7 1446.9 336.2 1448.9 343.5 1450.9 346.0 1452.9 340.6 1454.9 344.4 1456.9 344.4 1458.9 350.4 1460.9 347.1 1462.9 339.8 1464.9 344.4 1466.9 353.3 1468.9 354.6 1470.9 355.3 1472.9 350.1 1474.9 348.4 1476.9 355.5 1478.9 353.1 1480.9 353.5 1482.9 352.7 1484.9 357.5 1486.9 353.6 1488.9 356.4 1490.9 366.5 1492.9 359.5 1494.9 365.5 1496.9 362.5 1498.9 364.1 1500.9 364.1 1502.9 373.0 1504.9 366.7 1506.9 367.2 1508.9 367.7 1510.9 365.9 1512.9 373.3 1514.9 366.4 1516.9 364.5 1518.9 372.2 1520.9 373.8 1522.9 368.3 1524.9 374.7 1526.9 374.4 1528.9 369.1 1530.9 367.9 1532.9 378.2 1534.9 377.7 1536.9 381.7 1538.9 374.1 1540.9 384.5 1542.9 381.2 1544.9 383.3 1546.9 389.8 1548.9 383.0 1550.9 383.2 1552.9 383.0 1554.9 379.9 1556.9 385.9 1558.9 381.3 1560.9 383.6 1562.9 381.6 1564.9 392.2 1566.9 389.6 1568.9 395.4 1570.9 389.3 1572.9 390.7 1574.9 390.2 1576.9 390.1 1578.9 401.1 1580.9 384.4 1582.9 400.7 1584.9 401.1 1586.9 395.6 1588.9 398.6 1590.9 404.8 1592.9 399.6 1594.9 392.5 1596.9 398.4 1598.9 406.7 1600.9 398.9 1602.9 408.0 1604.9 402.5 1606.9 407.7 1608.9 403.7 1610.9 403.9 1612.9 406.1 1614.9 400.1 1616.9 411.2 1618.9 401.6 1620.9 410.4 1622.9 407.2 1624.9 413.6 1626.9 417.9 1628.9 413.9 1630.9 413.5 1632.9 416.6 1634.9 418.0 1636.9 420.4 1638.9 416.0 1640.9 423.0 1642.9 415.4 1644.9 419.4 1646.9 429.1 1648.9 422.2 1650.9 424.9 1652.9 424.3 1654.9 424.5 1656.9 431.5 1658.9 424.9 1660.9 419.5 1662.9 425.2 1664.9 427.3 1666.9 425.1 1668.9 425.6 1670.9 433.2 1672.9 431.1 1674.9 435.6 1676.9 431.2 1678.9 426.7 1680.9 430.6 1682.9 430.9 1684.9 431.4 1686.9 436.1 1688.9 427.2 1690.9 433.9 1692.9 441.0 1694.9 431.5 1696.9 439.1 1698.9 437.1 1700.9 431.4 1702.9 434.7 1704.9 443.9 1706.9 436.8 1708.9 440.3 1710.9 440.2 1712.9 436.9 1714.9 446.0 1716.9 445.7 1718.9 444.2 1720.9 442.6 1722.9 440.5 1724.9 440.5 1726.9 447.9 1728.9 437.1 1730.9 448.9 1732.9 446.9 1734.9 447.8 1736.9 446.4 1738.9 443.0 1740.9 443.9 1742.9 446.9 1744.9 449.4 1746.9 452.7 1748.9 449.4 1750.9 450.7 1752.9 446.1 1754.9 452.6 1756.9 451.5 1758.9 456.6 1760.9 453.8 1762.9 450.6 1764.9 446.6 1766.9 456.8 1768.9 447.8 1770.9 452.6 1772.9 455.5 1774.9 455.0 1776.9 448.3 1778.9 448.9 1780.9 457.0 1782.9 455.5 1784.9 464.6 1786.9 450.5 1788.9 447.6 1790.9 449.5 1792.9 450.8 1794.9 452.8 1796.9 455.6 1798.9 455.7 1800.9 453.7 1802.9 452.0 1804.9 456.0 1806.9 453.1 1808.9 458.5 1810.9 453.8 1812.9 452.8 1814.9 459.5 1816.9 459.5 1818.9 461.0 1820.9 451.6 1822.9 458.8 1824.9 460.2 1826.9 456.0 1828.9 451.7 1830.9 454.6 1832.9 457.4 1834.9 455.5 1836.9 455.5 1838.9 458.7 1840.9 462.2 1842.9 460.8 1844.9 451.8 1846.9 449.1 1848.9 461.2 1850.9 460.3 1852.9 454.8 1854.9 449.1 1856.9 460.6 1858.9 453.3 1860.9 452.3 1862.9 454.5 1864.9 455.8 1866.9 449.7 1868.9 451.0 1870.9 455.7 1872.9 456.1 1874.9 450.4 1876.9 464.7 1878.9 460.6 1880.9 458.4 1882.9 458.9 1884.9 449.0 1886.9 457.1 1888.9 458.8 1890.9 457.3 1892.9 458.2 1894.9 459.2 1896.9 462.6 1898.9 461.0 1900.9 455.1 1902.9 461.0 1904.9 455.3 1906.9 457.8 1908.9 458.2 1910.9 457.0 1912.9 456.3 1914.9 458.0 1916.9 458.3 1918.9 448.0 1920.9 456.6 1922.9 454.1 1924.9 462.6 1926.9 457.6 1928.9 454.3 1930.9 458.7 1932.9 457.5 1934.9 459.0 1936.9 449.4 1938.9 455.7 1940.9 453.4 1942.9 462.3 1944.9 459.7 1946.9 455.9 1948.9 456.3 1950.9 456.2 1952.9 454.6 1954.9 452.8 1956.9 451.4 1958.9 460.2 1960.9 452.1 1962.9 457.3 1964.9 458.7 1966.9 457.5 1968.9 455.1 1970.9 457.4 1972.9 452.9 1974.9 451.4 1976.9 458.4 1978.9 457.3 1980.9 459.2 1982.9 455.0 1984.9 447.8 1986.9 453.2 1988.9 452.4 1990.9 458.7 1992.9 451.9 1994.9 458.4 1996.9 455.9 1998.9 456.1 2000.9 456.0 2002.9 457.3 2004.9 451.1 2006.9 459.5 2008.9 449.1 2010.9 452.5 2012.9 452.4 2014.9 457.9 2016.9 452.1 2018.9 461.7 2020.9 451.7 2022.9 465.1 2024.9 457.8 2026.9 458.7 2028.9 456.8 2030.9 458.9 2032.9 453.0 2034.9 450.6 2036.9 459.0 2038.9 458.3 2040.9 455.3 2042.9 455.0" fill="none"/>
<path d="M138.9 571.9L140.9 571.9 142.9 571.9 144.9 571.9 146.9 571.9 148.9 571.9 150.9 571.9 152.9 571.8 154.9 571.8 156.9 571.8 158.9 571.8 160.9 571.7 162.9 571.7 164.9 571.7 166.9 571.7 168.9 571.6 170.9 571.6 172.9 571.5 174.9 571.5 176.9 571.5 178.9 571.4 180.9 571.4 182.9 571.3 184.9 571.3 186.9 571.2 188.9 571.2 190.9 571.1 192.9 571.1 194.9 571.0 196.9 570.9 198.9 570.9 200.9 570.8 202.9 570.7 204.9 570.7 206.9 570.6 208.9 570.5 210.9 570.5 212.9 570.4 214.9 570.3 216.9 570.3 218.9 570.2 220.9 570.1 222.9 570.0 224.9 570.0 226.9 569.9 228.9 569.8 230.9 569.7 232.9 569.6 234.9 569.6 236.9 569.5 238.9 569.4 240.9 569.3 242.9 569.2 244.9 569.2 246.9 569.1 248.9 569.0 250.9 568.9 252.9 568.8 254.9 568.7 256.9 568.6 258.9 568.5 260.9 568.4 262.9 568.3 264.9 568.1 266.9 568.0 268.9 567.9 270.9 567.7 272.9 567.6 274.9 567.4 276.9 567.2 278.9 567.1 280.9 566.9 282.9 566.7 284.9 566.5 286.9 566.4 288.9 566.2 290.9 566.0 292.9 565.8 294.9 565.6 296.9 565.4 298.9 565.2 300.9 565.0 302.9 564.8 304.9 564.6 306.9 564.4 308.9 564.2 310.9 564.0 312.9 563.7 314.9 563.5 316.9 563.3 318.9 563.1 320.9 562.9 322.9 562.7 324.9 562.5 326.9 562.3 328.9 562.1 330.9 561.9 332.9 561.7 334.9 561.5 336.9 561.3 338.9 561.1 340.9 560.9 342.9 560.7 344.9 560.5 346.9 560.3 348.9 560.2 350.9 560.0 352.9 559.8 354.9 559.6 356.9 559.5 358.9 559.3 360.9 559.1 362.9 559.0 364.9 558.8 366.9 558.6 368.9 558.4 370.9 558.3 372.9 558.1 374.9 557.9 376.9 557.7 378.9 557.5 380.9 557.3 382.9 557.1 384.9 556.9 386.9 556.7 388.9 556.4 390.9 556.2 392.9 556.0 394.9 555.7 396.9 555.4 398.9 555.2 400.9 554.9 402.9 554.6 404.9 554.3 406.9 553.9 408.9 553.5 410.9 553.1 412.9 552.7 414.9 552.3 416.9 551.8 418.9 551.3 420.9 550.8 422.9 550.3 424.9 549.8 426.9 549.2 428.9 548.7 430.9 548.1 432.9 547.5 434.9 547.0 436.9 546.4 438.9 545.8 440.9 545.2 442.9 544.6 444.9 544.0 446.9 543.3 448.9 542.7 450.9 542.1 452.9 541.5 454.9 540.9 456.9 540.3 458.9 539.7 460.9 539.2 462.9 538.6 464.9 538.0 466.9 537.4 468.9 536.8 470.9 536.2 472.9 535.5 474.9 534.9 476.9 534.2 478.9 533.6 480.9 532.9 482.9 532.3 484.9 531.6 486.9 530.7 488.9 528.9 490.9 525.6 492.9 521.5 494.9 519.4 496.9 520.8 498.9 523.7 500.9 525.4 502.9 525.6 504.9 525.2 506.9 524.7 508.9 524.1 510.9 523.6 512.9 523.0 514.9 522.5 516.9 522.0 518.9 521.5 520.9 521.0 522.9 520.5 524.9 520.0 526.9 519.6 528.9 519.1 530.9 518.7 532.9 518.2 534.9 517.8 536.9 517.3 538.9 516.9 540.9 516.5 542.9 516.0 544.9 515.6 546.9 515.2 548.9 514.7 550.9 514.3 552.9 513.9 554.9 513.4 556.9 513.0 558.9 512.5 560.9 512.1 562.9 511.6 564.9 511.1 566.9 510.6 568.9 510.2 570.9 509.7 572.9 509.1 574.9 508.6 576.9 508.1 578.9 507.5 580.9 507.0 582.9 506.4 584.9 505.8 586.9 505.2 588.9 504.6 590.9 503.9 592.9 503.3 594.9 502.6 596.9 501.9 598.9 501.1 600.9 500.4 602.9 499.7 604.9 498.9 606.9 498.1 608.9 497.4 610.9 496.6 612.9 495.7 614.9 494.9 616.9 494.1 618.9 493.3 620.9 492.4 622.9 491.6 624.9 490.7 626.9 489.8 628.9 489.0 630.9 488.1 632.9 487.2 634.9 486.3 636.9 485.4 638.9 484.6 640.9 483.7 642.9 482.8 644.9 481.9 646.9 481.0 648.9 480.1 650.9 479.3 652.9 478.4 654.9 477.5 656.9 476.6 658.9 475.8 660.9 474.9 662.9 474.1 664.9 473.2 666.9 472.4 668.9 471.6 670.9 470.8 672.9 469.9 674.9 469.1 676.9 468.3 678.9 467.5 680.9 466.6 682.9 465.8 684.9 464.9 686.9 464.1 688.9 463.2 690.9 462.4 692.9 461.5 694.9 460.6 696.9 459.8 698.9 458.9 700.9 458.0 702.9 457.2 704.9 456.3 706.9 455.4 708.9 454.6 710.9 453.7 712.9 452.9 714.9 452.0 716.9 451.2 718.9 450.3 720.9 449.5 722.9 448.7 724.9 447.9 726.9 447.1 728.9 446.3 730.9 445.5 732.9 444.7 734.9 443.9 736.9 443.2 738.9 442.4 740.9 441.7 742.9 441.0 744.9 440.3 746.9 439.6 748.9 438.9 750.9 438.3 752.9 437.6 754.9 437.0 756.9 436.4 758.9 435.8 760.9 435.2 762.9 434.6 764.9 434.0 766.9 433.5 768.9 432.9 770.9 432.4 772.9 431.8 774.9 431.3 776.9 430.7 778.9 430.2 780.9 429.7 782.9 429.2 784.9 428.7 786.9 428.2 788.9 427.7 790.9 427.2 792.9 426.7 794.9 426.2 796.9 425.7 798.9 425.2 800.9 424.8 802.9 424.3 804.9 423.8 806.9 423.4 808.9 422.9 810.9 422.5 812.9 422.0 814.9 421.6 816.9 421.1 818.9 420.7 820.9 420.2 822.9 419.8 824.9 419.4 826.9 418.9 828.9 418.5 830.9 418.0 832.9 417.6 834.9 417.2 836.9 416.7 838.9 416.3 840.9 415.9 842.9 415.4 844.9 415.0 846.9 414.6 848.9 414.1 850.9 413.7 852.9 413.3 854.9 412.8 856.9 412.4 858.9 412.0 860.9 411.6 862.9 411.1 864.9 410.7 866.9 410.3 868.9 409.9 870.9 409.5 872.9 409.1 874.9 408.7 876.9 408.3 878.9 407.9 880.9 407.5 882.9 407.2 884.9 406.8 886.9 406.4 888.9 406.0 890.9 405.7 892.9 405.3 894.9 405.0 896.9 404.6 898.9 404.3 900.9 403.9 902.9 403.6 904.9 403.3 906.9 402.9 908.9 402.6 910.9 402.3 912.9 402.0 914.9 401.7 916.9 401.4 918.9 401.1 920.9 400.9 922.9 400.6 924.9 400.4 926.9 400.1 928.9 399.9 930.9 399.7 932.9 399.4 934.9 399.2 936.9 399.0 938.9 398.8 940.9 398.6 942.9 398.4 944.9 398.2 946.9 398.0 948.9 397.8 950.9 397.7 952.9 397.5 954.9 397.3 956.9 397.2 958.9 397.0 960.9 396.9 962.9 396.7 964.9 396.6 966.9 396.5 968.9 396.3 970.9 396.2 972.9 396.1 974.9 396.0 976.9 395.8 978.9 395.7 980.9 395.6 982.9 395.5 984.9 395.3 986.9 395.2 988.9 395.1 990.9 395.0 992.9 394.9 994.9 394.9 996.9 394.8 998.9 394.7 1000.9 394.7 1002.9 394.6 1004.9 394.6 1006.9 394.6 1008.9 394.6 1010.9 394.6 1012.9 394.7 1014.9 394.8 1016.9 395.0 1018.9 395.2 1020.9 395.2 1022.9 394.9 1024.9 394.1 1026.9 392.7 1028.9 391.4 1030.9 391.0 1032.9 391.9 1034.9 393.9 1036.9 396.0 1038.9 397.6 1040.9 398.5 1042.9 399.1 1044.9 399.5 1046.9 399.9 1048.9 400.2 1050.9 400.6 1052.9 400.9 1054.9 401.2 1056.9 401.6 1058.9 402.0 1060.9 402.3 1062.9 402.7 1064.9 403.1 1066.9 403.5 1068.9 403.9 1070.9 404.3 1072.9 404.7 1074.9 405.1 1076.9 405.5 1078.9 405.9 1080.9 406.3 1082.9 406.7 1084.9 407.1 1086.9 407.5 1088.9 407.9 1090.9 408.2 1092.9 408.6 1094.9 408.9 1096.9 409.3 1098.9 409.6 1100.9 409.9 1102.9 410.2 1104.9 410.5 1106.9 410.8 1108.9 411.1 1110.9 411.4 1112.9 411.7 1114.9 412.0 1116.9 412.4 1118.9 412.7 1120.9 413.0 1122.9 413.3 1124.9 413.6 1126.9 414.0 1128.9 414.3 1130.9 414.7 1132.9 415.0 1134.9 415.4 1136.9 415.8 1138.9 416.2 1140.9 416.7 1142.9 417.1 1144.9 417.6 1146.9 418.1 1148.9 418.6 1150.9 419.1 1152.9 419.6 1154.9 420.2 1156.9 420.7 1158.9 421.3 1160.9 421.8 1162.9 422.4 1164.9 422.9 1166.9 423.5 1168.9 424.0 1170.9 424.6 1172.9 425.1 1174.9 425.6 1176.9 426.1 1178.9 426.6 1180.9 427.1 1182.9 427.6 1184.9 428.1 1186.9 428.6 1188.9 429.1 1190.9 429.6 1192.9 430.2 1194.9 430.7 1196.9 431.2 1198.9 431.7 1200.9 432.2 1202.9 432.7 1204.9 433.2 1206.9 433.6 1208.9 434.1 1210.9 434.5 1212.9 435.0 1214.9 435.4 1216.9 435.8 1218.9 436.1 1220.9 436.5 1222.9 436.8 1224.9 437.1 1226.9 437.4 1228.9 437.7 1230.9 437.9 1232.9 438.2 1234.9 438.4 1236.9 438.6 1238.9 438.9 1240.9 439.1 1242.9 439.3 1244.9 439.5 1246.9 439.7 1248.9 440.0 1250.9 440.2 1252.9 440.4 1254.9 440.7 1256.9 440.9 1258.9 441.2 1260.9 441.5 1262.9 441.8 1264.9 442.1 1266.9 442.4 1268.9 442.8 1270.9 443.1 1272.9 443.5 1274.9 443.8 1276.9 444.2 1278.9 444.6 1280.9 445.0 1282.9 445.4 1284.9 445.8 1286.9 446.2 1288.9 446.6 1290.9 447.0 1292.9 447.5 1294.9 447.9 1296.9 448.3 1298.9 448.8 1300.9 449.2 1302.9 449.7 1304.9 450.1 1306.9 450.6 1308.9 451.1 1310.9 451.6 1312.9 452.1 1314.9 452.6 1316.9 453.1 1318.9 453.7 1320.9 454.2 1322.9 454.8 1324.9 455.3 1326.9 455.9 1328.9 456.4 1330.9 457.0 1332.9 457.5 1334.9 458.1 1336.9 458.6 1338.9 459.1 1340.9 459.7 1342.9 460.2 1344.9 460.7 1346.9 461.2 1348.9 461.6 1350.9 462.1 1352.9 462.6 1354.9 463.1 1356.9 463.5 1358.9 464.0 1360.9 464.4 1362.9 464.9 1364.9 465.4 1366.9 465.8 1368.9 466.3 1370.9 466.7 1372.9 467.2 1374.9 467.6 1376.9 468.1 1378.9 468.6 1380.9 469.0 1382.9 469.5 1384.9 470.0 1386.9 470.4 1388.9 470.9 1390.9 471.4 1392.9 471.9 1394.9 472.4 1396.9 473.0 1398.9 473.5 1400.9 474.0 1402.9 474.5 1404.9 475.1 1406.9 475.6 1408.9 476.1 1410.9 476.7 1412.9 477.2 1414.9 477.7 1416.9 478.2 1418.9 478.7 1420.9 479.3 1422.9 479.8 1424.9 480.3 1426.9 480.8 1428.9 481.2 1430.9 481.7 1432.9 482.2 1434.9 482.6 1436.9 483.1 1438.9 483.5 1440.9 484.0 1442.9 484.4 1444.9 484.8 1446.9 485.2 1448.9 485.7 1450.9 486.1 1452.9 486.5 1454.9 486.9 1456.9 487.3 1458.9 487.7 1460.9 488.2 1462.9 488.6 1464.9 489.0 1466.9 489.4 1468.9 489.9 1470.9 490.3 1472.9 490.7 1474.9 491.2 1476.9 491.6 1478.9 492.1 1480.9 492.6 1482.9 493.1 1484.9 493.6 1486.9 494.1 1488.9 494.6 1490.9 495.1 1492.9 495.6 1494.9 496.0 1496.9 496.5 1498.9 497.0 1500.9 497.4 1502.9 497.8 1504.9 498.2 1506.9 498.6 1508.9 498.9 1510.9 499.2 1512.9 499.5 1514.9 499.7 1516.9 499.7 1518.9 499.2 1520.9 497.4 1522.9 493.6 1524.9 487.1 1526.9 478.8 1528.9 471.4 1530.9 468.4 1532.9 470.9 1534.9 477.6 1536.9 485.8 1538.9 493.1 1540.9 498.3 1542.9 501.4 1544.9 503.1 1546.9 504.1 1548.9 505.2 1550.9 506.3 1552.9 507.4 1554.9 508.6 1556.9 509.8 1558.9 510.7 1560.9 511.6 1562.9 512.5 1564.9 513.3 1566.9 514.2 1568.9 515.0 1570.9 515.8 1572.9 516.6 1574.9 517.4 1576.9 518.2 1578.9 518.9 1580.9 519.7 1582.9 520.4 1584.9 521.1 1586.9 521.9 1588.9 522.6 1590.9 523.2 1592.9 523.9 1594.9 524.6 1596.9 525.2 1598.9 525.9 1600.9 526.5 1602.9 527.1 1604.9 527.7 1606.9 528.3 1608.9 528.8 1610.9 529.4 1612.9 530.0 1614.9 530.5 1616.9 531.0 1618.9 531.5 1620.9 532.1 1622.9 532.6 1624.9 533.1 1626.9 533.6 1628.9 534.1 1630.9 534.5 1632.9 535.0 1634.9 535.5 1636.9 536.0 1638.9 536.4 1640.9 536.9 1642.9 537.4 1644.9 537.8 1646.9 538.3 1648.9 538.7 1650.9 539.2 1652.9 539.6 1654.9 540.0 1656.9 540.5 1658.9 540.9 1660.9 541.3 1662.9 541.7 1664.9 542.1 1666.9 542.5 1668.9 542.9 1670.9 543.3 1672.9 543.8 1674.9 544.2 1676.9 544.6 1678.9 545.0 1680.9 545.4 1682.9 545.8 1684.9 546.3 1686.9 546.7 1688.9 547.1 1690.9 547.6 1692.9 548.0 1694.9 548.5 1696.9 549.0 1698.9 549.4 1700.9 549.9 1702.9 550.3 1704.9 550.8 1706.9 551.2 1708.9 551.7 1710.9 552.1 1712.9 552.5 1714.9 553.0 1716.9 553.4 1718.9 553.8 1720.9 554.1 1722.9 554.5 1724.9 554.9 1726.9 555.2 1728.9 555.5 1730.9 555.8 1732.9 556.2 1734.9 556.5 1736.9 556.8 1738.9 557.1 1740.9 557.4 1742.9 557.7 1744.9 558.0 1746.9 558.2 1748.9 558.5 1750.9 558.8 1752.9 559.1 1754.9 559.3 1756.9 559.6 1758.9 559.8 1760.9 560.1 1762.9 560.3 1764.9 560.5 1766.9 560.8 1768.9 561.0 1770.9 561.2 1772.9 561.4 1774.9 561.6 1776.9 561.9 1778.9 562.1 1780.9 562.3 1782.9 562.5 1784.9 562.7 1786.9 562.9 1788.9 563.1 1790.9 563.3 1792.9 563.5 1794.9 563.7 1796.9 563.8 1798.9 564.0 1800.9 564.2 1802.9 564.3 1804.9 564.5 1806.9 564.6 1808.9 564.8 1810.9 564.9 1812.9 565.0 1814.9 565.1 1816.9 565.2 1818.9 565.3 1820.9 565.5 1822.9 565.6 1824.9 565.7 1826.9 565.7 1828.9 565.8 1830.9 565.9 1832.9 566.0 1834.9 566.1 1836.9 566.2 1838.9 566.3 1840.9 566.4 1842.9 566.4 1844.9 566.5 1846.9 566.6 1848.9 566.7 1850.9 566.8 1852.9 566.9 1854.9 567.0 1856.9 567.1 1858.9 567.2 1860.9 567.3 1862.9 567.4 1864.9 567.6 1866.9 567.7 1868.9 567.8 1870.9 567.9 1872.9 568.1 1874.9 568.2 1876.9 568.3 1878.9 568.4 1880.9 568.5 1882.9 568.6 1884.9 568.7 1886.9 568.7 1888.9 568.8 1890.9 568.8 1892.9 568.9 1894.9 568.9 1896.9 568.9 1898.9 568.9 1900.9 568.9 1902.9 568.8 1904.9 568.8 1906.9 568.7 1908.9 568.6 1910.9 568.5 1912.9 568.4 1914.9 568.3 1916.9 568.2 1918.9 568.1 1920.9 568.0 1922.9 567.9 1924.9 567.7 1926.9 567.6 1928.9 567.5 1930.9 567.4 1932.9 567.2 1934.9 567.1 1936.9 567.0 1938.9 566.9 1940.9 566.8 1942.9 566.7 1944.9 566.5 1946.9 566.4 1948.9 566.2 1950.9 566.1 1952.9 565.9 1954.9 565.8 1956.9 565.6 1958.9 565.5 1960.9 565.3 1962.9 565.2 1964.9 565.1 1966.9 565.0 1968.9 564.9 1969.4 566.3 1970.2 566.3 1971.1 566.2 1971.9 566.1 1972.7 566.1 1973.4 566.0 1974.2 565.9 1974.9 565.9 1975.7 565.8 1976.4 565.7 1977.1 565.6 1977.8 565.5 1978.5 565.5 1979.2 565.4 1979.8 565.3 1980.5 565.2 1981.1 565.0 1981.8 564.9 1982.4 564.8 1982.8 564.7 1983.2 564.5 1983.6 564.4 1983.9 564.3 1984.3 564.1 1984.7 563.9 1985.0 563.8 1985.4 563.6 1985.8 563.4 1986.1 563.2 1986.5 563.0 1986.8 562.8 1987.1 562.5 1987.5 562.3 1987.8 562.0 1988.1 561.8 1988.5 561.5 1988.8 561.2 1989.1 560.9 1989.4 560.5 1989.7 560.2 1990.0 559.8 1990.3 559.4 1990.6 559.0 1990.9 558.6 1991.2 558.1 1991.5 557.7 1991.8 557.2 1992.1 556.7 1992.3 556.1 1992.6 555.5 1993.0 554.9 1993.4 554.3 1993.8 553.6 1994.2 552.9 1994.6 552.2 1995.0 551.4 1995.4 550.6 1995.7 549.7 1996.1 548.8 1996.5 547.8 1996.8 547.6 1997.2 546.5 1997.5 545.4 1997.9 544.2 1998.2 543.0 1998.5 541.7 1998.8 540.3 1999.2 538.9 1999.5 537.4 1999.8 535.8 2000.1 534.2 2000.4 532.4 2000.7 530.6 2001.0 528.6 2001.3 526.6 2001.6 524.5 2001.9 522.2 2002.2 519.8 2002.6 517.3 2002.9 514.7 2003.3 512.0 2003.7 509.1 2004.1 506.0 2004.5 502.8 2004.9 499.5 2005.3 495.9 2005.8 492.2 2006.3 488.3 2006.7 484.2 2007.2 479.8 2007.6 475.3 2007.9 470.5 2008.2 465.4 2008.5 460.1 2008.8 454.6 2009.1 448.7 2009.4 442.5 2009.7 436.0 2010.0 429.2 2010.3 422.0 2010.6 414.5 2010.9 406.6 2011.1 398.2 2011.3 389.4 2011.6 380.2 2011.8 370.5 2012.0 360.3 2012.2 349.6 2012.4 338.3 2012.5 326.4 2012.7 313.9 2012.9 300.8 2013.0 286.9 2013.1 272.4 2013.2 257.1 2013.3 241.1 2013.4 224.2 2013.5 206.4 2013.5 187.7 2013.5 168.1 2013.6 147.4 2013.6 125.6 2013.6 102.8 2013.6 78.7 2013.6 53.5 2013.7 26.9 2013.7 11.8 2013.7 11.8 2013.7 11.8 2013.7 11.8 2013.7 11.8 2013.8 11.8 2013.8 11.8 2013.8 11.8 2013.8 11.8 2013.8 11.8 2013.8 11.8 2013.8 11.8 2013.9 11.8 2013.9 11.8 2013.9 11.8 2013.9 11.8 2013.9 11.8 2014.0 11.8 2014.0 11.8 2014.0 11.8 2014.0 11.8 2014.0 11.8 2014.1 11.8 2014.1 11.8 2014.1 11.8 2014.1 11.8 2014.1 11.8 2014.2 11.8 2014.2 11.8 2014.2 11.8 2014.2 11.8 2014.2 11.8 2014.2 11.8 2014.3 11.8 2019.0 11.8 2019.1 11.8 2019.1 11.8 2019.1 11.8 2019.1 11.8 2019.1 11.8 2019.2 11.8 2019.2 11.8 2019.2 11.8 2019.2 11.8 2019.2 11.8 2019.3 11.8 2019.3 11.8 2019.3 11.8 2019.3 11.8 2019.4 11.8 2019.4 11.8 2019.4 11.8 2019.4 11.8 2019.4 11.8 2019.5 11.8 2019.5 11.8 2019.5 11.8 2019.5 11.8 2019.6 11.8 2019.6 11.8 2019.6 11.8 2019.6 11.8 2019.7 11.8 2019.7 11.8 2019.7 11.8 2019.8 11.8 2019.8 11.8 2019.8 11.8 2019.9 27.0 2019.9 53.6 2020.0 78.9 2020.0 103.0 2020.1 125.8 2020.1 147.6 2020.1 168.2 2020.2 187.9 2020.3 206.6 2020.4 224.4 2020.5 241.3 2020.6 257.4 2020.8 272.6 2021.0 287.2 2021.2 301.0 2021.4 314.2 2021.7 326.7 2022.0 338.6 2022.2 349.9 2022.6 360.6 2022.9 370.8 2023.2 380.6 2023.6 389.8 2024.0 398.6 2024.4 407.0 2024.8 414.9 2025.3 422.5 2025.9 429.7 2026.4 436.6 2027.1 443.1 2027.7 449.3 2028.3 455.2 2029.0 460.8 2029.7 466.2 2030.4 471.2 2031.2 476.1 2031.9 480.7 2032.6 485.1 2033.2 489.2 2033.9 493.2 2034.6 497.0 2035.3 500.5 2035.9 504.0 2036.6 507.2 2037.3 510.3 2037.9 513.2 2038.6 516.0 2039.2 518.7 2039.7 521.2 2040.2 523.6 2040.6 525.9 2041.0 528.1 2041.4 530.2 2041.8 532.1 2042.2 534.0 2042.5 535.8 2042.9 537.5 2043.3 539.1 2043.7 540.6 2044.1 542.1 2044.4 543.5 2044.8 544.8 2045.2 546.1 2045.5 547.3 2045.9 548.4 2046.3 549.5 2046.7 549.8 2047.1 550.7 2047.5 551.6 2047.9 552.5 2048.4 553.3 2048.8 554.1 2049.2 554.9 2049.6 555.6 2050.1 556.2 2050.5 556.9 2051.0 557.5 2051.4 558.1 2051.9 558.6 2052.4 559.1 2052.9 559.6 2053.6 560.1 2054.2 560.6 2054.8 561.0 2055.5 561.4 2056.2 561.8 2056.9 562.2 2057.5 562.5 2058.2 562.8 2059.0 563.2 2059.7 563.5 2060.4 563.7 2061.2 564.0 2061.9 564.3 2062.7 564.5 2063.5 564.8 2064.3 565.0 2065.1 565.2 2066.0 565.4 2066.8 565.6 2067.7 565.8 2068.5 565.9 2069.4 566.1 2070.3 566.3 2070.5 566.4 2070.5 566.5 2070.5 566.7 2070.5 566.8 2070.5 566.9 2070.5 567.0 2070.5 567.2 2070.5 567.3 2070.5 567.4 2070.5 567.5 2070.5 567.5 2070.5 567.6 2070.5 567.7 2070.5 567.8 2070.5 567.9 2070.5 567.9 2070.5 568.0 2070.5 568.1 2070.5 568.1 2070.5 568.2 2070.5 568.2 2070.5 568.3 2070.5 569.7 2070.5 569.7 2070.5 569.6 2070.5 569.6 2070.5 569.5 2070.5 569.4 2070.5 569.4 2070.5 569.3 2070.5 569.2 2070.5 569.1 2070.5 569.1 2070.5 569.0 2070.5 568.9 2070.5 568.8 2070.5 568.7 2070.5 568.6 2070.5 568.5 2070.5 568.4 2070.5 568.2 2070.5 568.1 2070.5 568.0 2070.5 567.8 2070.3 567.7 2069.4 567.5 2068.5 567.4 2067.7 567.2 2066.8 567.0 2066.0 566.8 2065.1 566.6 2064.3 566.4 2063.5 566.2 2062.7 566.0 2061.9 565.7 2061.2 565.5 2060.4 565.2 2059.7 564.9 2059.0 564.6 2058.2 564.3 2057.5 563.9 2056.9 563.6 2056.2 563.2 2055.5 562.8 2054.8 562.4 2054.2 562.0 2053.6 561.6 2052.9 561.1 2052.4 560.6 2051.9 560.1 2051.4 559.5 2051.0 558.9 2050.5 558.3 2050.1 557.7 2049.6 557.0 2049.2 556.3 2048.8 555.6 2048.4 554.8 2047.9 553.9 2047.5 553.1 2047.1 552.2 2046.7 551.2 2046.3 549.5 2045.9 548.4 2045.5 547.3 2045.2 546.1 2044.8 544.8 2044.4 543.5 2044.1 542.1 2043.7 540.6 2043.3 539.1 2042.9 537.5 2042.5 535.8 2042.2 534.0 2041.8 532.1 2041.4 530.2 2041.0 528.1 2040.6 525.9 2040.2 523.6 2039.7 521.2 2039.2 518.7 2038.6 516.0 2037.9 513.2 2037.3 510.3 2036.6 507.2 2035.9 504.0 2035.3 500.5 2034.6 497.0 2033.9 493.2 2033.2 489.2 2032.6 485.1 2031.9 480.7 2031.2 476.1 2030.4 471.2 2029.7 466.2 2029.0 460.8 2028.3 455.2 2027.7 449.3 2027.1 443.1 2026.4 436.6 2025.9 429.7 2025.3 422.5 2024.8 414.9 2024.4 407.0 2024.0 398.6 2023.6 389.8 2023.2 380.6 2022.9 370.8 2022.6 360.6 2022.2 349.9 2022.0 338.6 2021.7 326.7 2021.4 314.2 2021.2 301.0 2021.0 287.2 2020.8 272.6 2020.6 257.4 2020.5 241.3 2020.4 224.4 2020.3 206.6 2020.2 187.9 2020.1 168.2 2020.1 147.6 2020.1 125.8 2020.0 103.0 2020.0 78.9 2019.9 53.6 2019.9 27.0 2019.8 11.8 2019.8 11.8 2019.8 11.8 2019.7 11.8 2019.7 11.8 2019.7 11.8 2019.6 11.8 2019.6 11.8 2019.6 11.8 2019.6 11.8 2019.5 11.8 2019.5 11.8 2019.5 11.8 2019.5 11.8 2019.4 11.8 2019.4 11.8 2019.4 11.8 2019.4 11.8 2019.4 11.8 2019.3 11.8 2019.3 11.8 2019.3 11.8 2019.3 11.8 2019.2 11.8 2019.2 11.8 2019.2 11.8 2019.2 11.8 2019.2 11.8 2019.1 11.8 2019.1 11.8 2019.1 11.8 2019.1 11.8 2019.1 11.8 2019.0 11.8 2014.3 11.8 2014.2 11.8 2014.2 11.8 2014.2 11.8 2014.2 11.8 2014.2 11.8 2014.2 11.8 2014.1 11.8 2014.1 11.8 2014.1 11.8 2014.1 11.8 2014.1 11.8 2014.0 11.8 2014.0 11.8 2014.0 11.8 2014.0 11.8 2014.0 11.8 2013.9 11.8 2013.9 11.8 2013.9 11.8 2013.9 11.8 2013.9 11.8 2013.8 11.8 2013.8 11.8 2013.8 11.8 2013.8 11.8 2013.8 11.8 2013.8 11.8 2013.8 11.8 2013.7 11.8 2013.7 11.8 2013.7 11.8 2013.7 11.8 2013.7 11.8 2013.7 26.9 2013.6 53.5 2013.6 78.7 2013.6 102.8 2013.6 125.6 2013.6 147.4 2013.5 168.1 2013.5 187.7 2013.5 206.4 2013.4 224.2 2013.3 241.1 2013.2 257.1 2013.1 272.4 2013.0 286.9 2012.9 300.8 2012.7 313.9 2012.5 326.4 2012.4 338.3 2012.2 349.6 2012.0 360.3 2011.8 370.5 2011.6 380.2 2011.3 389.4 2011.1 398.2 2010.9 406.6 2010.6 414.5 2010.3 422.0 2010.0 429.2 2009.7 436.0 2009.4 442.5 2009.1 448.7 2008.8 454.6 2008.5 460.1 2008.2 465.4 2007.9 470.5 2007.6 475.3 2007.2 479.8 2006.7 484.2 2006.3 488.3 2005.8 492.2 2005.3 495.9 2004.9 499.5 2004.5 502.8 2004.1 506.0 2003.7 509.1 2003.3 512.0 2002.9 514.7 2002.6 517.3 2002.2 519.8 2001.9 522.2 2001.6 524.5 2001.3 526.6 2001.0 528.6 2000.7 530.6 2000.4 532.4 2000.1 534.2 1999.8 535.8 1999.5 537.4 1999.2 538.9 1998.8 540.3 1998.5 541.7 1998.2 543.0 1997.9 544.2 1997.5 545.4 1997.2 546.5 1996.8 547.6 1996.5 549.3 1996.1 550.2 1995.7 551.1 1995.4 552.0 1995.0 552.8 1994.6 553.6 1994.2 554.3 1993.8 555.1 1993.4 555.7 1993.0 556.4 1992.6 557.0 1992.3 557.5 1992.1 558.1 1991.8 558.6 1991.5 559.1 1991.2 559.6 1990.9 560.0 1990.6 560.5 1990.3 560.9 1990.0 561.3 1989.7 561.6 1989.4 562.0 1989.1 562.3 1988.8 562.6 1988.5 562.9 1988.1 563.2 1987.8 563.5 1987.5 563.7 1987.1 564.0 1986.8 564.2 1986.5 564.4 1986.1 564.6 1985.8 564.8 1985.4 565.0 1985.0 565.2 1984.7 565.4 1984.3 565.5 1983.9 565.7 1983.6 565.8 1983.2 566.0 1982.8 566.1 1982.4 566.2 1981.8 566.4 1981.1 566.5 1980.5 566.6 1979.8 566.7 1979.2 566.8 1978.5 566.9 1977.8 567.0 1977.1 567.1 1976.4 567.1 1975.7 567.2 1974.9 567.3 1974.2 567.4 1973.4 567.4 1972.7 567.5 1971.9 567.6 1971.1 567.6 1970.2 567.7 1969.4 567.8 1968.9 571.2 1966.9 571.2 1964.9 571.3 1962.9 571.4 1960.9 571.5 1958.9 571.7 1956.9 571.8 1954.9 572.0 1952.9 572.1 1950.9 572.3 1948.9 572.4 1946.9 572.6 1944.9 572.7 1942.9 572.9 1940.9 573.0 1938.9 573.1 1936.9 573.2 1934.9 573.3 1932.9 573.4 1930.9 573.6 1928.9 573.7 1926.9 573.8 1924.9 573.9 1922.9 574.1 1920.9 574.2 1918.9 574.3 1916.9 574.4 1914.9 574.5 1912.9 574.6 1910.9 574.7 1908.9 574.8 1906.9 574.9 1904.9 575.0 1902.9 575.0 1900.9 575.1 1898.9 575.1 1896.9 575.1 1894.9 575.1 1892.9 575.1 1890.9 575.0 1888.9 575.0 1886.9 574.9 1884.9 574.9 1882.9 574.8 1880.9 574.7 1878.9 574.6 1876.9 574.5 1874.9 574.4 1872.9 574.3 1870.9 574.1 1868.9 574.0 1866.9 573.9 1864.9 573.8 1862.9 573.6 1860.9 573.5 1858.9 573.4 1856.9 573.3 1854.9 573.2 1852.9 573.1 1850.9 573.0 1848.9 572.9 1846.9 572.8 1844.9 572.7 1842.9 572.7 1840.9 572.6 1838.9 572.5 1836.9 572.4 1834.9 572.3 1832.9 572.2 1830.9 572.1 1828.9 572.1 1826.9 572.0 1824.9 571.9 1822.9 571.8 1820.9 571.7 1818.9 571.6 1816.9 571.5 1814.9 571.3 1812.9 571.2 1810.9 571.1 1808.9 571.0 1806.9 570.8 1804.9 570.7 1802.9 570.5 1800.9 570.4 1798.9 570.2 1796.9 570.0 1794.9 569.9 1792.9 569.7 1790.9 569.5 1788.9 569.3 1786.9 569.1 1784.9 568.9 1782.9 568.7 1780.9 568.5 1778.9 568.3 1776.9 568.1 1774.9 567.9 1772.9 567.7 1770.9 567.4 1768.9 567.2 1766.9 567.0 1764.9 566.8 1762.9 566.5 1760.9 566.3 1758.9 566.1 1756.9 565.8 1754.9 565.6 1752.9 565.3 1750.9 565.0 1748.9 564.8 1746.9 564.5 1744.9 564.2 1742.9 563.9 1740.9 563.6 1738.9 563.3 1736.9 563.0 1734.9 562.7 1732.9 562.4 1730.9 562.1 1728.9 561.8 1726.9 561.4 1724.9 561.1 1722.9 560.8 1720.9 560.4 1718.9 560.0 1716.9 559.6 1714.9 559.2 1712.9 558.8 1710.9 558.4 1708.9 558.0 1706.9 557.5 1704.9 557.1 1702.9 556.6 1700.9 556.2 1698.9 555.7 1696.9 555.2 1694.9 554.8 1692.9 554.3 1690.9 553.9 1688.9 553.4 1686.9 553.0 1684.9 552.6 1682.9 552.1 1680.9 551.7 1678.9 551.3 1676.9 550.9 1674.9 550.5 1672.9 550.1 1670.9 549.6 1668.9 549.2 1666.9 548.8 1664.9 548.4 1662.9 548.0 1660.9 547.6 1658.9 547.2 1656.9 546.8 1654.9 546.3 1652.9 545.9 1650.9 545.5 1648.9 545.0 1646.9 544.6 1644.9 544.1 1642.9 543.7 1640.9 543.2 1638.9 542.8 1636.9 542.3 1634.9 541.8 1632.9 541.3 1630.9 540.9 1628.9 540.4 1626.9 539.9 1624.9 539.4 1622.9 538.9 1620.9 538.4 1618.9 537.9 1616.9 537.4 1614.9 536.8 1612.9 536.3 1610.9 535.8 1608.9 535.2 1606.9 534.6 1604.9 534.0 1602.9 533.5 1600.9 532.8 1598.9 532.2 1596.9 531.6 1594.9 530.9 1592.9 530.3 1590.9 529.6 1588.9 528.9 1586.9 528.2 1584.9 527.5 1582.9 526.8 1580.9 526.1 1578.9 525.3 1576.9 524.6 1574.9 523.8 1572.9 523.0 1570.9 522.2 1568.9 521.4 1566.9 520.6 1564.9 519.7 1562.9 518.9 1560.9 518.0 1558.9 517.2 1556.9 516.2 1554.9 515.1 1552.9 513.9 1550.9 512.7 1548.9 511.6 1546.9 510.6 1544.9 509.5 1542.9 507.8 1540.9 504.7 1538.9 499.6 1536.9 492.3 1534.9 484.1 1532.9 477.5 1530.9 475.0 1528.9 478.0 1526.9 485.3 1524.9 493.6 1522.9 500.1 1520.9 503.9 1518.9 505.6 1516.9 506.2 1514.9 506.2 1512.9 506.0 1510.9 505.7 1508.9 505.4 1506.9 505.0 1504.9 504.7 1502.9 504.3 1500.9 503.9 1498.9 503.4 1496.9 503.0 1494.9 502.5 1492.9 502.0 1490.9 501.6 1488.9 501.1 1486.9 500.6 1484.9 500.1 1482.9 499.6 1480.9 499.1 1478.9 498.6 1476.9 498.1 1474.9 497.7 1472.9 497.2 1470.9 496.8 1468.9 496.4 1466.9 495.9 1464.9 495.5 1462.9 495.1 1460.9 494.7 1458.9 494.2 1456.9 493.8 1454.9 493.4 1452.9 493.0 1450.9 492.6 1448.9 492.2 1446.9 491.8 1444.9 491.3 1442.9 490.9 1440.9 490.5 1438.9 490.0 1436.9 489.6 1434.9 489.2 1432.9 488.7 1430.9 488.2 1428.9 487.8 1426.9 487.3 1424.9 486.8 1422.9 486.3 1420.9 485.8 1418.9 485.3 1416.9 484.8 1414.9 484.3 1412.9 483.7 1410.9 483.2 1408.9 482.7 1406.9 482.1 1404.9 481.6 1402.9 481.1 1400.9 480.6 1398.9 480.0 1396.9 479.5 1394.9 479.0 1392.9 478.5 1390.9 478.0 1388.9 477.5 1386.9 477.0 1384.9 476.5 1382.9 476.1 1380.9 475.6 1378.9 475.1 1376.9 474.7 1374.9 474.2 1372.9 473.8 1370.9 473.3 1368.9 472.9 1366.9 472.4 1364.9 471.9 1362.9 471.5 1360.9 471.0 1358.9 470.6 1356.9 470.1 1354.9 469.7 1352.9 469.2 1350.9 468.7 1348.9 468.2 1346.9 467.8 1344.9 467.3 1342.9 466.8 1340.9 466.3 1338.9 465.7 1336.9 465.2 1334.9 464.7 1332.9 464.1 1330.9 463.6 1328.9 463.0 1326.9 462.5 1324.9 461.9 1322.9 461.4 1320.9 460.8 1318.9 460.3 1316.9 459.8 1314.9 459.2 1312.9 458.7 1310.9 458.2 1308.9 457.7 1306.9 457.2 1304.9 456.8 1302.9 456.3 1300.9 455.9 1298.9 455.4 1296.9 455.0 1294.9 454.5 1292.9 454.1 1290.9 453.7 1288.9 453.3 1286.9 452.9 1284.9 452.4 1282.9 452.0 1280.9 451.6 1278.9 451.3 1276.9 450.9 1274.9 450.5 1272.9 450.1 1270.9 449.8 1268.9 449.4 1266.9 449.1 1264.9 448.8 1262.9 448.5 1260.9 448.2 1258.9 447.9 1256.9 447.6 1254.9 447.4 1252.9 447.1 1250.9 446.9 1248.9 446.6 1246.9 446.4 1244.9 446.2 1242.9 446.0 1240.9 445.8 1238.9 445.5 1236.9 445.3 1234.9 445.1 1232.9 444.9 1230.9 444.6 1228.9 444.4 1226.9 444.1 1224.9 443.8 1222.9 443.5 1220.9 443.2 1218.9 442.8 1216.9 442.4 1214.9 442.1 1212.9 441.6 1210.9 441.2 1208.9 440.8 1206.9 440.3 1204.9 439.9 1202.9 439.4 1200.9 438.9 1198.9 438.4 1196.9 437.9 1194.9 437.4 1192.9 436.9 1190.9 436.4 1188.9 435.8 1186.9 435.3 1184.9 434.8 1182.9 434.3 1180.9 433.8 1178.9 433.3 1176.9 432.8 1174.9 432.3 1172.9 431.8 1170.9 431.3 1168.9 430.8 1166.9 430.2 1164.9 429.7 1162.9 429.1 1160.9 428.6 1158.9 428.0 1156.9 427.5 1154.9 426.9 1152.9 426.4 1150.9 425.9 1148.9 425.3 1146.9 424.8 1144.9 424.4 1142.9 423.9 1140.9 423.4 1138.9 423.0 1136.9 422.6 1134.9 422.2 1132.9 421.8 1130.9 421.4 1128.9 421.1 1126.9 420.7 1124.9 420.4 1122.9 420.1 1120.9 419.7 1118.9 419.4 1116.9 419.1 1114.9 418.8 1112.9 418.5 1110.9 418.2 1108.9 417.9 1106.9 417.6 1104.9 417.3 1102.9 417.0 1100.9 416.7 1098.9 416.4 1096.9 416.1 1094.9 415.7 1092.9 415.4 1090.9 415.0 1088.9 414.7 1086.9 414.3 1084.9 413.9 1082.9 413.5 1080.9 413.1 1078.9 412.7 1076.9 412.3 1074.9 411.9 1072.9 411.5 1070.9 411.1 1068.9 410.7 1066.9 410.3 1064.9 409.9 1062.9 409.5 1060.9 409.1 1058.9 408.8 1056.9 408.4 1054.9 408.1 1052.9 407.7 1050.9 407.4 1048.9 407.1 1046.9 406.7 1044.9 406.3 1042.9 405.9 1040.9 405.3 1038.9 404.4 1036.9 402.9 1034.9 400.8 1032.9 398.8 1030.9 397.8 1028.9 398.2 1026.9 399.6 1024.9 400.9 1022.9 401.8 1020.9 402.0 1018.9 402.0 1016.9 401.8 1014.9 401.7 1012.9 401.6 1010.9 401.5 1008.9 401.4 1006.9 401.4 1004.9 401.4 1002.9 401.5 1000.9 401.5 998.9 401.6 996.9 401.6 994.9 401.7 992.9 401.8 990.9 401.9 988.9 402.0 986.9 402.1 984.9 402.2 982.9 402.3 980.9 402.4 978.9 402.5 976.9 402.6 974.9 402.8 972.9 402.9 970.9 403.0 968.9 403.2 966.9 403.3 964.9 403.4 962.9 403.5 960.9 403.7 958.9 403.8 956.9 404.0 954.9 404.1 952.9 404.3 950.9 404.5 948.9 404.6 946.9 404.8 944.9 405.0 942.9 405.2 940.9 405.4 938.9 405.6 936.9 405.8 934.9 406.0 932.9 406.3 930.9 406.5 928.9 406.7 926.9 406.9 924.9 407.2 922.9 407.4 920.9 407.7 918.9 407.9 916.9 408.2 914.9 408.5 912.9 408.8 910.9 409.1 908.9 409.4 906.9 409.7 904.9 410.1 902.9 410.4 900.9 410.7 898.9 411.1 896.9 411.4 894.9 411.8 892.9 412.1 890.9 412.5 888.9 412.8 886.9 413.2 884.9 413.6 882.9 413.9 880.9 414.3 878.9 414.7 876.9 415.1 874.9 415.5 872.9 415.9 870.9 416.3 868.9 416.7 866.9 417.1 864.9 417.5 862.9 417.9 860.9 418.3 858.9 418.8 856.9 419.2 854.9 419.6 852.9 420.0 850.9 420.5 848.9 420.9 846.9 421.3 844.9 421.7 842.9 422.2 840.9 422.6 838.9 423.1 836.9 423.5 834.9 423.9 832.9 424.4 830.9 424.8 828.9 425.2 826.9 425.7 824.9 426.1 822.9 426.5 820.9 427.0 818.9 427.4 816.9 427.9 814.9 428.3 812.9 428.8 810.9 429.2 808.9 429.7 806.9 430.1 804.9 430.6 802.9 431.0 800.9 431.5 798.9 432.0 796.9 432.4 794.9 432.9 792.9 433.4 790.9 433.9 788.9 434.4 786.9 434.9 784.9 435.4 782.9 435.9 780.9 436.4 778.9 436.9 776.9 437.4 774.9 438.0 772.9 438.5 770.9 439.1 768.9 439.6 766.9 440.2 764.9 440.7 762.9 441.3 760.9 441.9 758.9 442.5 756.9 443.1 754.9 443.7 752.9 444.3 750.9 444.9 748.9 445.6 746.9 446.3 744.9 447.0 742.9 447.7 740.9 448.4 738.9 449.1 736.9 449.9 734.9 450.6 732.9 451.4 730.9 452.1 728.9 452.9 726.9 453.7 724.9 454.5 722.9 455.3 720.9 456.2 718.9 457.0 716.9 457.8 714.9 458.7 712.9 459.5 710.9 460.4 708.9 461.2 706.9 462.1 704.9 462.9 702.9 463.8 700.9 464.6 698.9 465.5 696.9 466.4 694.9 467.2 692.9 468.1 690.9 469.0 688.9 469.8 686.9 470.7 684.9 471.5 682.9 472.4 680.9 473.2 678.9 474.0 676.9 474.9 674.9 475.7 672.9 476.5 670.9 477.3 668.9 478.1 666.9 479.0 664.9 479.8 662.9 480.6 660.9 481.5 658.9 482.3 656.9 483.2 654.9 484.0 652.9 484.9 650.9 485.8 648.9 486.7 646.9 487.5 644.9 488.4 642.9 489.3 640.9 490.2 638.9 491.1 636.9 492.0 634.9 492.8 632.9 493.7 630.9 494.6 628.9 495.5 626.9 496.3 624.9 497.2 622.9 498.1 620.9 498.9 618.9 499.7 616.9 500.6 614.9 501.4 612.9 502.2 610.9 503.0 608.9 503.8 606.9 504.6 604.9 505.4 602.9 506.1 600.9 506.9 598.9 507.6 596.9 508.3 594.9 509.0 592.9 509.7 590.9 510.4 588.9 511.0 586.9 511.6 584.9 512.3 582.9 512.8 580.9 513.4 578.9 514.0 576.9 514.5 574.9 515.1 572.9 515.6 570.9 516.1 568.9 516.6 566.9 517.1 564.9 517.5 562.9 518.0 560.9 518.5 558.9 518.9 556.9 519.4 554.9 519.8 552.9 520.3 550.9 520.7 548.9 521.1 546.9 521.6 544.9 522.0 542.9 522.4 540.9 522.9 538.9 523.3 536.9 523.7 534.9 524.2 532.9 524.6 530.9 525.1 528.9 525.5 526.9 526.0 524.9 526.4 522.9 526.9 520.9 527.4 518.9 527.9 516.9 528.4 514.9 528.9 512.9 529.4 510.9 529.9 508.9 530.5 506.9 531.1 504.9 531.6 502.9 532.0 500.9 531.8 498.9 530.1 496.9 527.2 494.9 525.7 492.9 527.9 490.9 532.0 488.9 535.3 486.9 537.0 484.9 537.9 482.9 538.6 480.9 539.3 478.9 539.9 476.9 540.6 474.9 541.2 472.9 541.9 470.9 542.5 468.9 543.1 466.9 543.7 464.9 544.3 462.9 544.9 460.9 545.5 458.9 546.1 456.9 546.6 454.9 547.2 452.9 547.8 450.9 548.4 448.9 549.0 446.9 549.6 444.9 550.3 442.9 550.9 440.9 551.5 438.9 552.1 436.9 552.7 434.9 553.2 432.9 553.8 430.9 554.4 428.9 555.0 426.9 555.5 424.9 556.0 422.9 556.6 420.9 557.1 418.9 557.6 416.9 558.1 414.9 558.5 412.9 559.0 410.9 559.4 408.9 559.8 406.9 560.2 404.9 560.5 402.9 560.8 400.9 561.1 398.9 561.4 396.9 561.7 394.9 562.0 392.9 562.2 390.9 562.5 388.9 562.7 386.9 562.9 384.9 563.1 382.9 563.3 380.9 563.6 378.9 563.8 376.9 564.0 374.9 564.1 372.9 564.3 370.9 564.5 368.9 564.7 366.9 564.9 364.9 565.0 362.9 565.2 360.9 565.4 358.9 565.5 356.9 565.7 354.9 565.9 352.9 566.1 350.9 566.2 348.9 566.4 346.9 566.6 344.9 566.8 342.9 566.9 340.9 567.1 338.9 567.3 336.9 567.5 334.9 567.7 332.9 567.9 330.9 568.1 328.9 568.3 326.9 568.5 324.9 568.7 322.9 568.9 320.9 569.1 318.9 569.3 316.9 569.5 314.9 569.8 312.9 570.0 310.9 570.2 308.9 570.4 306.9 570.6 304.9 570.8 302.9 571.0 300.9 571.2 298.9 571.4 296.9 571.6 294.9 571.8 292.9 572.0 290.9 572.2 288.9 572.4 286.9 572.6 284.9 572.8 282.9 572.9 280.9 573.1 278.9 573.3 276.9 573.4 274.9 573.6 272.9 573.8 270.9 573.9 268.9 574.1 266.9 574.2 264.9 574.3 262.9 574.5 260.9 574.6 258.9 574.7 256.9 574.8 254.9 574.9 252.9 575.0 250.9 575.1 248.9 575.2 246.9 575.3 244.9 575.4 242.9 575.4 240.9 575.5 238.9 575.6 236.9 575.7 234.9 575.8 232.9 575.8 230.9 575.9 228.9 576.0 226.9 576.1 224.9 576.2 222.9 576.2 220.9 576.3 218.9 576.4 216.9 576.5 214.9 576.5 212.9 576.6 210.9 576.7 208.9 576.7 206.9 576.8 204.9 576.9 202.9 576.9 200.9 577.0 198.9 577.1 196.9 577.1 194.9 577.2 192.9 577.2 190.9 577.3 188.9 577.4 186.9 577.4 184.9 577.5 182.9 577.5 180.9 577.6 178.9 577.6 176.9 577.7 174.9 577.7 172.9 577.7 170.9 577.8 168.9 577.8 166.9 577.8 164.9 577.9 162.9 577.9 160.9 577.9 158.9 578.0 156.9 578.0 154.9 578.0 152.9 578.0 150.9 578.0 148.9 578.1 146.9 578.1 144.9 578.1 142.9 578.1 140.9 578.1 138.9 578.1Z" fill="#111" stroke="none"/>
<path d="M138.9 575.9L140.9 575.5 142.9 579.3 144.9 574.9 146.9 570.4 148.9 574.9 150.9 576.7 152.9 579.1 154.9 581.4 156.9 570.2 158.9 572.9 160.9 574.3 162.9 577.9 164.9 574.2 166.9 572.7 168.9 574.0 170.9 570.5 172.9 572.5 174.9 575.9 176.9 574.3 178.9 569.8 180.9 568.4 182.9 578.8 184.9 579.0 186.9 573.9 188.9 573.5 190.9 577.0 192.9 577.2 194.9 578.6 196.9 580.0 198.9 574.9 200.9 566.6 202.9 576.2 204.9 572.7 206.9 567.7 208.9 576.2 210.9 579.4 212.9 571.7 214.9 575.3 216.9 576.8 218.9 574.4 220.9 575.4 222.9 572.2 224.9 572.3 226.9 572.7 228.9 574.4 230.9 573.2 232.9 569.4 234.9 570.3 236.9 573.5 238.9 573.0 240.9 571.2 242.9 573.8 244.9 570.7 246.9 578.0 248.9 572.0 250.9 581.8 252.9 574.0 254.9 567.8 256.9 574.9 258.9 570.4 260.9 570.1 262.9 571.0 264.9 577.4 266.9 571.3 268.9 567.8 270.9 565.4 272.9 567.9 274.9 569.8 276.9 568.4 278.9 570.3 280.9 568.0 282.9 569.7 284.9 561.0 286.9 575.0 288.9 564.3 290.9 568.3 292.9 568.2 294.9 569.1 296.9 570.9 298.9 568.6 300.9 572.1 302.9 562.9 304.9 572.7 306.9 566.9 308.9 572.1 310.9 568.6 312.9 569.7 314.9 569.3 316.9 572.5 318.9 562.3 320.9 566.0 322.9 568.7 324.9 565.3 326.9 572.5 328.9 562.4 330.9 571.3 332.9 563.1 334.9 557.9 336.9 567.9 338.9 557.9 340.9 563.9 342.9 568.4 344.9 567.7 346.9 565.9 348.9 562.1 350.9 563.2 352.9 557.9 354.9 560.5 356.9 559.6 358.9 559.4 360.9 565.3 362.9 560.3 364.9 559.1 366.9 558.6 368.9 564.9 370.9 560.1 372.9 561.2 374.9 560.9 376.9 559.1 378.9 562.2 380.9 561.2 382.9 556.8 384.9 557.0 386.9 555.9 388.9 558.4 390.9 565.3 392.9 556.9 394.9 561.3 396.9 553.6 398.9 557.8 400.9 560.0 402.9 556.7 404.9 557.0 406.9 561.3 408.9 550.8 410.9 556.9 412.9 559.1 414.9 559.1 416.9 552.0 418.9 549.9 420.9 553.3 422.9 550.4 424.9 549.6 426.9 548.4 428.9 544.2 430.9 554.4 432.9 554.6 434.9 554.4 436.9 550.1 438.9 546.0 440.9 545.2 442.9 548.8 444.9 546.0 446.9 550.9 448.9 544.4 450.9 545.6 452.9 550.1 454.9 541.9 456.9 538.5 458.9 539.4 460.9 546.6 462.9 544.3 464.9 536.7 466.9 542.5 468.9 538.9 470.9 544.2 472.9 538.9 474.9 537.6 476.9 536.8 478.9 538.7 480.9 543.1 482.9 533.1 484.9 539.4 486.9 530.8 488.9 532.8 490.9 525.0 492.9 526.4 494.9 517.1 496.9 529.2 498.9 528.6 500.9 524.9 502.9 526.8 504.9 523.3 506.9 530.5 508.9 525.5 510.9 529.7 512.9 519.9 514.9 528.1 516.9 524.3 518.9 530.9 520.9 525.3 522.9 526.5 524.9 528.0 526.9 526.6 528.9 519.3 530.9 524.4 532.9 524.0 534.9 522.3 536.9 514.4 538.9 520.1 540.9 517.9 542.9 522.0 544.9 517.1 546.9 517.3 548.9 518.0 550.9 518.1 552.9 516.4 554.9 510.8 556.9 511.1 558.9 517.6 560.9 516.5 562.9 513.5 564.9 520.1 566.9 510.5 568.9 517.6 570.9 508.2 572.9 509.2 574.9 513.1 576.9 512.0 578.9 515.9 580.9 509.0 582.9 506.7 584.9 513.2 586.9 513.3 588.9 503.3 590.9 497.7 592.9 499.7 594.9 510.0 596.9 498.8 598.9 506.6 600.9 504.1 602.9 502.0 604.9 507.7 606.9 500.5 608.9 511.1 610.9 504.2 612.9 501.2 614.9 493.2 616.9 494.5 618.9 497.1 620.9 492.3 622.9 490.1 624.9 491.6 626.9 492.3 628.9 493.3 630.9 489.9 632.9 491.6 634.9 487.8 636.9 494.7 638.9 489.4 640.9 487.8 642.9 483.2 644.9 481.8 646.9 481.4 648.9 482.5 650.9 473.6 652.9 476.3 654.9 478.2 656.9 477.5 658.9 474.4 660.9 477.8 662.9 482.8 664.9 473.5 666.9 479.1 668.9 470.8 670.9 472.8 672.9 478.3 674.9 476.7 676.9 472.3 678.9 470.4 680.9 478.9 682.9 461.5 684.9 472.9 686.9 464.7 688.9 459.5 690.9 471.1 692.9 461.8 694.9 465.7 696.9 460.7 698.9 465.8 700.9 461.9 702.9 466.2 704.9 457.8 706.9 456.7 708.9 451.3 710.9 461.4 712.9 457.7 714.9 454.9 716.9 452.6 718.9 455.7 720.9 452.5 722.9 452.3 724.9 450.1 726.9 459.0 728.9 449.1 730.9 447.2 732.9 442.3 734.9 451.3 736.9 449.5 738.9 448.0 740.9 449.0 742.9 449.1 744.9 441.0 746.9 438.3 748.9 436.5 750.9 448.2 752.9 440.6 754.9 446.5 756.9 441.7 758.9 435.7 760.9 449.1 762.9 439.0 764.9 438.8 766.9 434.7 768.9 438.0 770.9 431.7 772.9 427.5 774.9 431.5 776.9 434.2 778.9 433.8 780.9 428.8 782.9 429.7 784.9 434.5 786.9 426.1 788.9 426.3 790.9 433.1 792.9 428.5 794.9 430.5 796.9 430.3 798.9 425.7 800.9 428.3 802.9 430.3 804.9 427.6 806.9 428.7 808.9 425.9 810.9 420.7 812.9 423.6 814.9 425.8 816.9 423.3 818.9 425.1 820.9 428.9 822.9 424.3 824.9 421.9 826.9 425.4 828.9 428.2 830.9 421.5 832.9 423.3 834.9 413.9 836.9 424.0 838.9 419.8 840.9 415.4 842.9 424.1 844.9 414.2 846.9 427.9 848.9 414.5 850.9 417.0 852.9 415.5 854.9 411.5 856.9 410.8 858.9 420.7 860.9 419.2 862.9 414.6 864.9 413.5 866.9 409.4 868.9 424.1 870.9 409.5 872.9 417.2 874.9 412.3 876.9 416.6 878.9 414.9 880.9 416.5 882.9 411.4 884.9 416.7 886.9 405.1 888.9 407.7 890.9 405.5 892.9 407.3 894.9 408.0 896.9 408.3 898.9 403.0 900.9 407.8 902.9 407.2 904.9 399.9 906.9 408.7 908.9 410.1 910.9 403.0 912.9 395.4 914.9 408.6 916.9 401.3 918.9 408.5 920.9 402.8 922.9 406.2 924.9 408.0 926.9 406.3 928.9 399.4 930.9 409.7 932.9 403.8 934.9 401.1 936.9 402.5 938.9 397.3 940.9 409.0 942.9 397.6 944.9 399.0 946.9 397.2 948.9 404.1 950.9 399.1 952.9 401.7 954.9 399.2 956.9 395.9 958.9 403.6 960.9 404.5 962.9 401.6 964.9 402.4 966.9 395.0 968.9 401.2 970.9 400.2 972.9 393.9 974.9 391.3 976.9 399.3 978.9 402.4 980.9 399.6 982.9 401.7 984.9 400.4 986.9 394.7 988.9 398.0 990.9 401.5 992.9 392.7 994.9 397.4 996.9 394.0 998.9 401.3 1000.9 399.2 1002.9 399.4 1004.9 402.5 1006.9 397.3 1008.9 399.6 1010.9 396.5 1012.9 388.5 1014.9 397.0 1016.9 400.4 1018.9 395.5 1020.9 397.9 1022.9 399.9 1024.9 393.3 1026.9 400.0 1028.9 395.6 1030.9 391.0 1032.9 405.8 1034.9 396.4 1036.9 397.6 1038.9 401.2 1040.9 402.3 1042.9 408.1 1044.9 401.9 1046.9 402.2 1048.9 401.2 1050.9 404.3 1052.9 405.2 1054.9 398.1 1056.9 402.8 1058.9 401.7 1060.9 404.7 1062.9 412.1 1064.9 407.2 1066.9 414.2 1068.9 409.1 1070.9 405.2 1072.9 412.4 1074.9 411.7 1076.9 417.5 1078.9 406.8 1080.9 408.5 1082.9 409.5 1084.9 412.1 1086.9 410.1 1088.9 411.3 1090.9 413.9 1092.9 417.4 1094.9 409.1 1096.9 416.1 1098.9 409.7 1100.9 412.2 1102.9 414.4 1104.9 411.1 1106.9 412.2 1108.9 425.1 1110.9 421.9 1112.9 415.6 1114.9 413.6 1116.9 422.9 1118.9 416.5 1120.9 418.5 1122.9 415.0 1124.9 416.4 1126.9 416.9 1128.9 423.8 1130.9 415.1 1132.9 413.3 1134.9 419.7 1136.9 424.1 1138.9 431.1 1140.9 416.3 1142.9 417.7 1144.9 418.7 1146.9 416.4 1148.9 419.4 1150.9 430.5 1152.9 427.0 1154.9 424.8 1156.9 424.6 1158.9 424.3 1160.9 424.9 1162.9 420.8 1164.9 428.2 1166.9 428.0 1168.9 429.5 1170.9 428.1 1172.9 425.6 1174.9 432.1 1176.9 429.6 1178.9 431.7 1180.9 431.7 1182.9 437.5 1184.9 428.0 1186.9 441.4 1188.9 432.3 1190.9 428.5 1192.9 429.5 1194.9 435.2 1196.9 431.2 1198.9 435.1 1200.9 437.7 1202.9 438.8 1204.9 438.2 1206.9 437.1 1208.9 436.5 1210.9 442.1 1212.9 432.5 1214.9 438.1 1216.9 437.3 1218.9 434.2 1220.9 435.7 1222.9 438.7 1224.9 444.3 1226.9 444.0 1228.9 444.6 1230.9 438.9 1232.9 443.4 1234.9 439.3 1236.9 441.7 1238.9 435.9 1240.9 444.2 1242.9 438.0 1244.9 442.8 1246.9 441.4 1248.9 437.1 1250.9 432.9 1252.9 436.8 1254.9 447.7 1256.9 442.4 1258.9 440.3 1260.9 447.7 1262.9 450.3 1264.9 445.7 1266.9 446.8 1268.9 447.6 1270.9 441.5 1272.9 450.7 1274.9 451.0 1276.9 445.4 1278.9 449.6 1280.9 443.3 1282.9 444.2 1284.9 444.8 1286.9 452.3 1288.9 455.2 1290.9 439.3 1292.9 451.9 1294.9 457.6 1296.9 446.1 1298.9 454.5 1300.9 453.4 1302.9 449.8 1304.9 454.7 1306.9 454.7 1308.9 454.8 1310.9 459.2 1312.9 459.1 1314.9 454.6 1316.9 458.3 1318.9 466.0 1320.9 463.5 1322.9 457.1 1324.9 455.8 1326.9 454.9 1328.9 457.2 1330.9 455.9 1332.9 464.8 1334.9 465.5 1336.9 458.7 1338.9 464.9 1340.9 461.0 1342.9 458.7 1344.9 469.1 1346.9 467.0 1348.9 461.6 1350.9 470.8 1352.9 464.2 1354.9 464.5 1356.9 465.4 1358.9 460.3 1360.9 471.5 1362.9 467.8 1364.9 464.5 1366.9 469.3 1368.9 463.5 1370.9 471.4 1372.9 472.5 1374.9 476.1 1376.9 473.6 1378.9 467.8 1380.9 471.3 1382.9 478.2 1384.9 472.2 1386.9 473.4 1388.9 469.9 1390.9 473.6 1392.9 479.8 1394.9 468.1 1396.9 472.8 1398.9 480.4 1400.9 481.6 1402.9 477.6 1404.9 479.4 1406.9 472.6 1408.9 488.1 1410.9 475.7 1412.9 478.4 1414.9 480.3 1416.9 480.2 1418.9 483.0 1420.9 474.8 1422.9 486.5 1424.9 487.1 1426.9 486.8 1428.9 484.8 1430.9 486.1 1432.9 485.2 1434.9 489.8 1436.9 486.8 1438.9 486.8 1440.9 485.6 1442.9 484.5 1444.9 485.8 1446.9 489.8 1448.9 488.8 1450.9 490.0 1452.9 488.7 1454.9 483.6 1456.9 482.5 1458.9 495.0 1460.9 493.5 1462.9 494.6 1464.9 485.1 1466.9 490.4 1468.9 499.6 1470.9 491.8 1472.9 493.7 1474.9 491.1 1476.9 498.7 1478.9 493.9 1480.9 497.5 1482.9 497.9 1484.9 494.2 1486.9 499.9 1488.9 493.4 1490.9 492.9 1492.9 501.3 1494.9 497.3 1496.9 508.5 1498.9 499.4 1500.9 498.3 1502.9 499.2 1504.9 499.4 1506.9 498.5 1508.9 503.0 1510.9 505.6 1512.9 499.5 1514.9 500.6 1516.9 500.0 1518.9 498.6 1520.9 502.5 1522.9 497.4 1524.9 488.6 1526.9 478.2 1528.9 474.7 1530.9 472.9 1532.9 467.5 1534.9 478.6 1536.9 487.6 1538.9 489.5 1540.9 500.1 1542.9 503.5 1544.9 500.9 1546.9 509.3 1548.9 502.4 1550.9 508.7 1552.9 505.9 1554.9 509.6 1556.9 510.1 1558.9 506.2 1560.9 512.7 1562.9 513.1 1564.9 515.9 1566.9 514.1 1568.9 520.7 1570.9 524.3 1572.9 525.0 1574.9 520.5 1576.9 523.1 1578.9 522.0 1580.9 523.4 1582.9 522.6 1584.9 528.1 1586.9 519.4 1588.9 527.1 1590.9 525.5 1592.9 520.9 1594.9 522.4 1596.9 533.9 1598.9 528.6 1600.9 528.7 1602.9 528.9 1604.9 529.9 1606.9 533.2 1608.9 529.2 1610.9 545.0 1612.9 535.5 1614.9 534.2 1616.9 532.6 1618.9 530.1 1620.9 536.0 1622.9 534.5 1624.9 537.4 1626.9 536.6 1628.9 541.9 1630.9 545.1 1632.9 538.8 1634.9 537.9 1636.9 540.5 1638.9 538.5 1640.9 537.6 1642.9 541.6 1644.9 540.8 1646.9 535.8 1648.9 537.6 1650.9 540.4 1652.9 539.5 1654.9 536.1 1656.9 547.0 1658.9 543.1 1660.9 550.3 1662.9 543.7 1664.9 552.8 1666.9 545.3 1668.9 547.4 1670.9 547.0 1672.9 545.2 1674.9 546.1 1676.9 550.0 1678.9 548.3 1680.9 551.8 1682.9 552.2 1684.9 548.3 1686.9 553.3 1688.9 543.4 1690.9 546.9 1692.9 551.3 1694.9 555.9 1696.9 556.3 1698.9 549.6 1700.9 549.3 1702.9 553.3 1704.9 553.1 1706.9 548.4 1708.9 552.8 1710.9 557.4 1712.9 559.7 1714.9 555.7 1716.9 558.2 1718.9 559.9 1720.9 554.1 1722.9 561.3 1724.9 566.1 1726.9 555.4 1728.9 563.9 1730.9 563.8 1732.9 557.8 1734.9 555.4 1736.9 561.8 1738.9 553.5 1740.9 560.1 1742.9 561.8 1744.9 561.4 1746.9 555.7 1748.9 560.0 1750.9 561.9 1752.9 565.0 1754.9 564.0 1756.9 566.6 1758.9 561.6 1760.9 567.0 1762.9 562.7 1764.9 566.8 1766.9 562.0 1768.9 566.0 1770.9 561.8 1772.9 557.2 1774.9 567.9 1776.9 568.4 1778.9 563.3 1780.9 560.2 1782.9 563.5 1784.9 559.8 1786.9 567.2 1788.9 561.2 1790.9 567.9 1792.9 564.7 1794.9 565.6 1796.9 562.1 1798.9 563.4 1800.9 568.7 1802.9 569.5 1804.9 570.0 1806.9 568.7 1808.9 568.9 1810.9 566.6 1812.9 564.7 1814.9 572.8 1816.9 571.2 1818.9 568.3 1820.9 570.0 1822.9 570.7 1824.9 569.6 1826.9 570.0 1828.9 566.9 1830.9 574.4 1832.9 565.8 1834.9 570.3 1836.9 570.4 1838.9 569.4 1840.9 571.8 1842.9 571.4 1844.9 570.9 1846.9 564.9 1848.9 570.1 1850.9 567.2 1852.9 571.5 1854.9 573.7 1856.9 567.7 1858.9 569.4 1860.9 572.8 1862.9 568.0 1864.9 569.0 1866.9 572.3 1868.9 569.0 1870.9 572.8 1872.9 573.4 1874.9 565.9 1876.9 572.2 1878.9 567.6 1880.9 566.2 1882.9 572.2 1884.9 574.6 1886.9 572.9 1888.9 572.0 1890.9 570.3 1892.9 570.3 1894.9 573.7 1896.9 575.1 1898.9 569.0 1900.9 577.0 1902.9 570.3 1904.9 573.7 1906.9 569.0 1908.9 573.8 1910.9 573.9 1912.9 574.0 1914.9 572.4 1916.9 575.3 1918.9 572.0 1920.9 570.9 1922.9 569.9 1924.9 576.7 1926.9 569.6 1928.9 570.6 1930.9 566.7 1932.9 578.2 1934.9 568.0 1936.9 563.8 1938.9 567.7 1940.9 567.7 1942.9 569.7 1944.9 572.0 1946.9 571.6 1948.9 567.3 1950.9 567.0 1952.9 566.8 1954.9 570.5 1956.9 568.5 1958.9 572.8 1960.9 565.4 1962.9 569.3 1964.9 565.1 1966.9 569.0 1968.9 570.3 1969.4 565.6 1970.2 567.0 1971.1 567.0 1971.9 567.2 1972.7 566.0 1973.4 565.9 1974.2 566.2 1974.9 566.2 1975.7 567.5 1976.4 567.1 1977.1 566.7 1977.8 566.1 1978.5 566.4 1979.2 566.6 1979.8 566.4 1980.5 566.9 1981.1 565.7 1981.8 565.1 1982.4 566.1 1982.8 564.4 1983.2 565.0 1983.6 565.5 1983.9 563.4 1984.3 564.8 1984.7 563.3 1985.0 563.1 1985.4 564.3 1985.8 563.3 1986.1 564.0 1986.5 563.5 1986.8 563.9 1987.1 562.6 1987.5 562.1 1987.8 562.2 1988.1 561.3 1988.5 562.0 1988.8 562.4 1989.1 561.3 1989.4 562.4 1989.7 560.6 1990.0 561.0 1990.3 561.3 1990.6 560.0 1990.9 559.0 1991.2 558.7 1991.5 558.2 1991.8 557.8 1992.1 558.2 1992.3 556.3 1992.6 556.9 1993.0 556.7 1993.4 555.8 1993.8 554.1 1994.2 552.4 1994.6 552.8 1995.0 551.5 1995.4 551.1 1995.7 550.3 1996.1 550.2 1996.5 547.2 1996.8 547.6 1997.2 546.5 1997.5 545.4 1997.9 544.2 1998.2 543.0 1998.5 541.7 1998.8 540.3 1999.2 538.9 1999.5 537.4 1999.8 535.8 2000.1 534.2 2000.4 532.4 2000.7 530.6 2001.0 528.6 2001.3 526.6 2001.6 524.5 2001.9 522.2 2002.2 519.8 2002.6 517.3 2002.9 514.7 2003.3 512.0 2003.7 509.1 2004.1 506.0 2004.5 502.8 2004.9 499.5 2005.3 495.9 2005.8 492.2 2006.3 488.3 2006.7 484.2 2007.2 479.8 2007.6 475.3 2007.9 470.5 2008.2 465.4 2008.5 460.1 2008.8 454.6 2009.1 448.7 2009.4 442.5 2009.7 436.0 2010.0 429.2 2010.3 422.0 2010.6 414.5 2010.9 406.6 2011.1 398.2 2011.3 389.4 2011.6 380.2 2011.8 370.5 2012.0 360.3 2012.2 349.6 2012.4 338.3 2012.5 326.4 2012.7 313.9 2012.9 300.8 2013.0 286.9 2013.1 272.4 2013.2 257.1 2013.3 241.1 2013.4 224.2 2013.5 206.4 2013.5 187.7 2013.5 168.1 2013.6 147.4 2013.6 125.6 2013.6 102.8 2013.6 78.7 2013.6 53.5 2013.7 26.9 2013.7 11.8 2013.7 11.8 2013.7 11.8 2013.7 11.8 2013.7 11.8 2013.8 11.8 2013.8 11.8 2013.8 11.8 2013.8 11.8 2013.8 11.8 2013.8 11.8 2013.8 11.8 2013.9 11.8 2013.9 11.8 2013.9 11.8 2013.9 11.8 2013.9 11.8 2014.0 11.8 2014.0 11.8 2014.0 11.8 2014.0 11.8 2014.0 11.8 2014.1 11.8 2014.1 11.8 2014.1 11.8 2014.1 11.8 2014.1 11.8 2014.2 11.8 2014.2 11.8 2014.2 11.8 2014.2 11.8 2014.2 11.8 2014.2 11.8 2014.3 11.8 2019.0 11.8 2019.1 11.8 2019.1 11.8 2019.1 11.8 2019.1 11.8 2019.1 11.8 2019.2 11.8 2019.2 11.8 2019.2 11.8 2019.2 11.8 2019.2 11.8 2019.3 11.8 2019.3 11.8 2019.3 11.8 2019.3 11.8 2019.4 11.8 2019.4 11.8 2019.4 11.8 2019.4 11.8 2019.4 11.8 2019.5 11.8 2019.5 11.8 2019.5 11.8 2019.5 11.8 2019.6 11.8 2019.6 11.8 2019.6 11.8 2019.6 11.8 2019.7 11.8 2019.7 11.8 2019.7 11.8 2019.8 11.8 2019.8 11.8 2019.8 11.8 2019.9 27.0 2019.9 53.6 2020.0 78.9 2020.0 103.0 2020.1 125.8 2020.1 147.6 2020.1 168.2 2020.2 187.9 2020.3 206.6 2020.4 224.4 2020.5 241.3 2020.6 257.4 2020.8 272.6 2021.0 287.2 2021.2 301.0 2021.4 314.2 2021.7 326.7 2022.0 338.6 2022.2 349.9 2022.6 360.6 2022.9 370.8 2023.2 380.6 2023.6 389.8 2024.0 398.6 2024.4 407.0 2024.8 414.9 2025.3 422.5 2025.9 429.7 2026.4 436.6 2027.1 443.1 2027.7 449.3 2028.3 455.2 2029.0 460.8 2029.7 466.2 2030.4 471.2 2031.2 476.1 2031.9 480.7 2032.6 485.1 2033.2 489.2 2033.9 493.2 2034.6 497.0 2035.3 500.5 2035.9 504.0 2036.6 507.2 2037.3 510.3 2037.9 513.2 2038.6 516.0 2039.2 518.7 2039.7 521.2 2040.2 523.6 2040.6 525.9 2041.0 528.1 2041.4 530.2 2041.8 532.1 2042.2 534.0 2042.5 535.8 2042.9 537.5 2043.3 539.1 2043.7 540.6 2044.1 542.1 2044.4 543.5 2044.8 544.8 2045.2 546.1 2045.5 547.3 2045.9 548.4 2046.3 549.5 2046.7 549.5 2047.1 551.7 2047.5 552.7 2047.9 553.3 2048.4 554.5 2048.8 554.1 2049.2 555.3 2049.6 556.2 2050.1 556.3 2050.5 559.6 2051.0 557.9 2051.4 559.3 2051.9 560.1 2052.4 560.5 2052.9 560.8 2053.6 562.2 2054.2 560.7 2054.8 561.7 2055.5 561.7 2056.2 561.3 2056.9 562.0 2057.5 562.6 2058.2 563.5 2059.0 563.7 2059.7 564.1 2060.4 564.2 2061.2 564.9 2061.9 563.2 2062.7 565.3 2063.5 566.6 2064.3 565.3 2065.1 564.4 2066.0 565.0 2066.8 567.6 2067.7 566.9 2068.5 566.9 2069.4 566.3 2070.3 566.8 2070.5 566.5 2070.5 566.6 2070.5 565.3 2070.5 566.3 2070.5 568.2 2070.5 567.7 2070.5 567.2 2070.5 568.7 2070.5 566.8 2070.5 568.9 2070.5 569.3 2070.5 567.9 2070.5 568.2 2070.5 568.5 2070.5 567.8 2070.5 567.9 2070.5 570.1 2070.5 567.6 2070.5 569.1 2070.5 568.7 2070.5 569.7 2070.5 570.1" fill="none"/>
<path d="M138.9 706.2L140.9 706.1 142.9 705.9 144.9 705.8 146.9 705.6 148.9 705.5 150.9 705.4 152.9 705.2 154.9 705.1 156.9 705.0 158.9 704.9 160.9 704.7 162.9 704.6 164.9 704.5 166.9 704.4 168.9 704.2 170.9 704.1 172.9 704.0 174.9 703.9 176.9 703.8 178.9 703.7 180.9 703.6 182.9 703.5 184.9 703.4 186.9 703.3 188.9 703.2 190.9 703.1 192.9 703.0 194.9 702.9 196.9 702.9 198.9 702.8 200.9 702.7 202.9 702.6 204.9 702.5 206.9 702.5 208.9 702.4 210.9 702.3 212.9 702.3 214.9 702.2 216.9 702.2 218.9 702.1 220.9 702.1 222.9 702.0 224.9 702.0 226.9 701.9 228.9 701.9 230.9 701.9 232.9 701.8 234.9 701.8 236.9 701.8 238.9 701.7 240.9 701.7 242.9 701.7 244.9 701.7 246.9 701.7 248.9 701.7 250.9 701.7 252.9 701.7 254.9 701.7 256.9 701.7 258.9 701.7 260.9 701.7 262.9 701.8 264.9 701.8 266.9 701.8 268.9 701.8 270.9 701.9 272.9 701.9 274.9 701.9 276.9 702.0 278.9 702.0 280.9 702.1 282.9 702.1 284.9 702.2 286.9 702.2 288.9 702.3 290.9 702.3 292.9 702.4 294.9 702.4 296.9 702.5 298.9 702.5 300.9 702.6 302.9 702.6 304.9 702.7 306.9 702.7 308.9 702.8 310.9 702.8 312.9 702.8 314.9 702.9 316.9 702.9 318.9 703.0 320.9 703.0 322.9 703.0 324.9 703.1 326.9 703.1 328.9 703.1 330.9 703.1 332.9 703.2 334.9 703.2 336.9 703.2 338.9 703.2 340.9 703.2 342.9 703.2 344.9 703.2 346.9 703.1 348.9 703.0 350.9 703.0 352.9 702.9 354.9 702.7 356.9 702.6 358.9 702.5 360.9 702.3 362.9 702.2 364.9 702.0 366.9 701.8 368.9 701.6 370.9 701.4 372.9 701.2 374.9 701.0 376.9 700.8 378.9 700.6 380.9 700.3 382.9 700.1 384.9 699.9 386.9 699.7 388.9 699.5 390.9 699.2 392.9 699.0 394.9 698.8 396.9 698.6 398.9 698.4 400.9 698.2 402.9 698.0 404.9 697.8 406.9 697.6 408.9 697.4 410.9 697.2 412.9 697.0 414.9 696.8 416.9 696.6 418.9 696.4 420.9 696.2 422.9 696.0 424.9 695.8 426.9 695.6 428.9 695.4 430.9 695.2 432.9 695.0 434.9 694.7 436.9 694.5 438.9 694.3 440.9 694.0 442.9 693.8 444.9 693.5 446.9 693.3 448.9 693.0 450.9 692.8 452.9 692.5 454.9 692.2 456.9 691.9 458.9 691.6 460.9 691.3 462.9 691.0 464.9 690.7 466.9 690.3 468.9 690.0 470.9 689.6 472.9 689.1 474.9 688.7 476.9 688.3 478.9 687.8 480.9 687.3 482.9 686.8 484.9 686.3 486.9 685.6 488.9 684.2 490.9 681.9 492.9 679.7 494.9 679.0 496.9 680.2 498.9 681.5 500.9 682.0 502.9 681.8 504.9 681.3 506.9 680.9 508.9 680.4 510.9 679.9 512.9 679.5 514.9 679.0 516.9 678.6 518.9 678.2 520.9 677.7 522.9 677.3 524.9 676.9 526.9 676.5 528.9 676.0 530.9 675.6 532.9 675.2 534.9 674.8 536.9 674.4 538.9 674.0 540.9 673.5 542.9 673.1 544.9 672.7 546.9 672.3 548.9 671.9 550.9 671.4 552.9 671.0 554.9 670.6 556.9 670.1 558.9 669.7 560.9 669.2 562.9 668.8 564.9 668.3 566.9 667.8 568.9 667.3 570.9 666.9 572.9 666.4 574.9 665.8 576.9 665.3 578.9 664.8 580.9 664.2 582.9 663.7 584.9 663.1 586.9 662.5 588.9 661.9 590.9 661.3 592.9 660.7 594.9 660.0 596.9 659.3 598.9 658.6 600.9 657.9 602.9 657.2 604.9 656.4 606.9 655.7 608.9 654.9 610.9 654.1 612.9 653.3 614.9 652.5 616.9 651.7 618.9 650.8 620.9 650.0 622.9 649.2 624.9 648.3 626.9 647.5 628.9 646.6 630.9 645.7 632.9 644.9 634.9 644.0 636.9 643.1 638.9 642.3 640.9 641.4 642.9 640.5 644.9 639.7 646.9 638.8 648.9 638.0 650.9 637.1 652.9 636.3 654.9 635.4 656.9 634.6 658.9 633.8 660.9 633.0 662.9 632.2 664.9 631.4 666.9 630.6 668.9 629.8 670.9 629.1 672.9 628.3 674.9 627.6 676.9 626.8 678.9 626.1 680.9 625.3 682.9 624.5 684.9 623.8 686.9 623.0 688.9 622.3 690.9 621.5 692.9 620.8 694.9 620.0 696.9 619.3 698.9 618.5 700.9 617.8 702.9 617.0 704.9 616.3 706.9 615.5 708.9 614.8 710.9 614.0 712.9 613.3 714.9 612.6 716.9 611.9 718.9 611.1 720.9 610.4 722.9 609.7 724.9 609.0 726.9 608.3 728.9 607.6 730.9 606.9 732.9 606.2 734.9 605.6 736.9 604.9 738.9 604.2 740.9 603.6 742.9 603.0 744.9 602.3 746.9 601.7 748.9 601.1 750.9 600.5 752.9 599.9 754.9 599.3 756.9 598.7 758.9 598.1 760.9 597.5 762.9 597.0 764.9 596.4 766.9 595.8 768.9 595.3 770.9 594.7 772.9 594.2 774.9 593.6 776.9 593.1 778.9 592.5 780.9 592.0 782.9 591.4 784.9 590.9 786.9 590.4 788.9 589.8 790.9 589.3 792.9 588.8 794.9 588.3 796.9 587.8 798.9 587.3 800.9 586.8 802.9 586.3 804.9 585.8 806.9 585.3 808.9 584.8 810.9 584.4 812.9 583.9 814.9 583.5 816.9 583.0 818.9 582.6 820.9 582.1 822.9 581.7 824.9 581.3 826.9 580.8 828.9 580.4 830.9 580.0 832.9 579.6 834.9 579.2 836.9 578.9 838.9 578.5 840.9 578.1 842.9 577.8 844.9 577.4 846.9 577.1 848.9 576.8 850.9 576.4 852.9 576.1 854.9 575.8 856.9 575.5 858.9 575.3 860.9 575.0 862.9 574.7 864.9 574.4 866.9 574.2 868.9 573.9 870.9 573.7 872.9 573.4 874.9 573.1 876.9 572.9 878.9 572.6 880.9 572.3 882.9 572.0 884.9 571.8 886.9 571.5 888.9 571.2 890.9 570.9 892.9 570.6 894.9 570.2 896.9 569.9 898.9 569.6 900.9 569.2 902.9 568.7 904.9 568.3 906.9 567.8 908.9 567.4 910.9 566.9 912.9 566.5 914.9 566.1 916.9 565.7 918.9 565.4 920.9 565.1 922.9 564.9 924.9 564.7 926.9 564.6 928.9 564.4 930.9 564.3 932.9 564.1 934.9 564.0 936.9 563.9 938.9 563.8 940.9 563.6 942.9 563.5 944.9 563.4 946.9 563.3 948.9 563.2 950.9 563.2 952.9 563.1 954.9 563.0 956.9 563.0 958.9 562.9 960.9 562.9 962.9 562.9 964.9 562.9 966.9 562.9 968.9 562.9 970.9 562.9 972.9 562.9 974.9 562.9 976.9 562.9 978.9 562.9 980.9 562.9 982.9 562.9 984.9 562.9 986.9 562.9 988.9 562.9 990.9 562.9 992.9 562.9 994.9 562.9 996.9 562.9 998.9 562.9 1000.9 562.9 1002.9 562.9 1004.9 562.9 1006.9 562.9 1008.9 562.9 1010.9 562.9 1012.9 563.1 1014.9 563.2 1016.9 563.4 1018.9 563.6 1020.9 563.7 1022.9 563.6 1024.9 563.0 1026.9 562.0 1028.9 561.0 1030.9 560.7 1032.9 561.7 1034.9 563.5 1036.9 565.3 1038.9 566.7 1040.9 567.6 1042.9 568.2 1044.9 568.7 1046.9 569.1 1048.9 569.5 1050.9 569.9 1052.9 570.2 1054.9 570.6 1056.9 571.0 1058.9 571.3 1060.9 571.7 1062.9 572.1 1064.9 572.5 1066.9 572.9 1068.9 573.3 1070.9 573.7 1072.9 574.1 1074.9 574.5 1076.9 574.9 1078.9 575.3 1080.9 575.7 1082.9 576.0 1084.9 576.4 1086.9 576.8 1088.9 577.2 1090.9 577.5 1092.9 577.9 1094.9 578.2 1096.9 578.6 1098.9 578.9 1100.9 579.3 1102.9 579.6 1104.9 580.0 1106.9 580.3 1108.9 580.6 1110.9 581.0 1112.9 581.3 1114.9 581.6 1116.9 581.9 1118.9 582.3 1120.9 582.6 1122.9 582.9 1124.9 583.2 1126.9 583.5 1128.9 583.8 1130.9 584.2 1132.9 584.5 1134.9 584.8 1136.9 585.1 1138.9 585.4 1140.9 585.6 1142.9 585.9 1144.9 586.2 1146.9 586.5 1148.9 586.7 1150.9 587.0 1152.9 587.3 1154.9 587.5 1156.9 587.8 1158.9 588.1 1160.9 588.3 1162.9 588.6 1164.9 588.9 1166.9 589.2 1168.9 589.4 1170.9 589.7 1172.9 590.0 1174.9 590.3 1176.9 590.6 1178.9 590.9 1180.9 591.3 1182.9 591.6 1184.9 591.9 1186.9 592.3 1188.9 592.7 1190.9 593.1 1192.9 593.5 1194.9 593.9 1196.9 594.3 1198.9 594.7 1200.9 595.1 1202.9 595.5 1204.9 595.9 1206.9 596.3 1208.9 596.6 1210.9 597.0 1212.9 597.4 1214.9 597.8 1216.9 598.1 1218.9 598.5 1220.9 598.8 1222.9 599.1 1224.9 599.4 1226.9 599.7 1228.9 600.0 1230.9 600.2 1232.9 600.5 1234.9 600.8 1236.9 601.0 1238.9 601.3 1240.9 601.6 1242.9 601.8 1244.9 602.1 1246.9 602.3 1248.9 602.5 1250.9 602.8 1252.9 603.0 1254.9 603.3 1256.9 603.5 1258.9 603.8 1260.9 604.0 1262.9 604.3 1264.9 604.6 1266.9 604.8 1268.9 605.1 1270.9 605.4 1272.9 605.6 1274.9 605.9 1276.9 606.2 1278.9 606.4 1280.9 606.7 1282.9 607.0 1284.9 607.2 1286.9 607.5 1288.9 607.8 1290.9 608.1 1292.9 608.4 1294.9 608.7 1296.9 609.0 1298.9 609.3 1300.9 609.6 1302.9 610.0 1304.9 610.3 1306.9 610.7 1308.9 611.1 1310.9 611.5 1312.9 611.9 1314.9 612.3 1316.9 612.7 1318.9 613.2 1320.9 613.6 1322.9 614.1 1324.9 614.5 1326.9 615.0 1328.9 615.5 1330.9 615.9 1332.9 616.4 1334.9 616.8 1336.9 617.3 1338.9 617.7 1340.9 618.2 1342.9 618.6 1344.9 619.0 1346.9 619.4 1348.9 619.8 1350.9 620.2 1352.9 620.5 1354.9 620.9 1356.9 621.3 1358.9 621.6 1360.9 622.0 1362.9 622.4 1364.9 622.7 1366.9 623.1 1368.9 623.5 1370.9 623.8 1372.9 624.2 1374.9 624.5 1376.9 624.9 1378.9 625.3 1380.9 625.7 1382.9 626.0 1384.9 626.4 1386.9 626.8 1388.9 627.2 1390.9 627.6 1392.9 628.0 1394.9 628.4 1396.9 628.8 1398.9 629.2 1400.9 629.7 1402.9 630.1 1404.9 630.5 1406.9 631.0 1408.9 631.4 1410.9 631.8 1412.9 632.2 1414.9 632.7 1416.9 633.1 1418.9 633.5 1420.9 634.0 1422.9 634.4 1424.9 634.8 1426.9 635.2 1428.9 635.6 1430.9 636.0 1432.9 636.4 1434.9 636.8 1436.9 637.2 1438.9 637.6 1440.9 638.0 1442.9 638.5 1444.9 638.9 1446.9 639.3 1448.9 639.7 1450.9 640.1 1452.9 640.5 1454.9 640.9 1456.9 641.2 1458.9 641.6 1460.9 642.0 1462.9 642.4 1464.9 642.7 1466.9 643.1 1468.9 643.4 1470.9 643.7 1472.9 644.0 1474.9 644.3 1476.9 644.6 1478.9 644.9 1480.9 645.1 1482.9 645.4 1484.9 645.6 1486.9 645.9 1488.9 646.1 1490.9 646.3 1492.9 646.5 1494.9 646.8 1496.9 647.0 1498.9 647.2 1500.9 647.5 1502.9 647.7 1504.9 648.0 1506.9 648.2 1508.9 648.5 1510.9 648.4 1512.9 647.6 1514.9 644.9 1516.9 638.9 1518.9 628.7 1520.9 615.6 1522.9 604.1 1524.9 599.4 1526.9 603.4 1528.9 613.9 1530.9 626.9 1532.9 638.4 1534.9 646.6 1536.9 651.4 1538.9 654.0 1540.9 655.4 1542.9 656.3 1544.9 657.0 1546.9 657.9 1548.9 659.0 1550.9 660.3 1552.9 661.6 1554.9 662.9 1556.9 664.1 1558.9 665.1 1560.9 665.9 1562.9 666.7 1564.9 667.4 1566.9 668.1 1568.9 668.8 1570.9 669.5 1572.9 670.2 1574.9 670.8 1576.9 671.4 1578.9 672.0 1580.9 672.6 1582.9 673.1 1584.9 673.7 1586.9 674.2 1588.9 674.7 1590.9 675.3 1592.9 675.8 1594.9 676.3 1596.9 676.8 1598.9 677.3 1600.9 677.8 1602.9 678.4 1604.9 678.9 1606.9 679.4 1608.9 679.9 1610.9 680.4 1612.9 680.9 1614.9 681.4 1616.9 681.9 1618.9 682.4 1620.9 682.8 1622.9 683.3 1624.9 683.8 1626.9 684.2 1628.9 684.7 1630.9 685.1 1632.9 685.6 1634.9 686.0 1636.9 686.4 1638.9 686.9 1640.9 687.3 1642.9 687.7 1644.9 688.1 1646.9 688.5 1648.9 688.9 1650.9 689.3 1652.9 689.7 1654.9 690.1 1656.9 690.5 1658.9 690.9 1660.9 691.2 1662.9 691.6 1664.9 692.0 1666.9 692.3 1668.9 692.7 1670.9 693.0 1672.9 693.4 1674.9 693.7 1676.9 694.1 1678.9 694.5 1680.9 694.8 1682.9 695.2 1684.9 695.5 1686.9 695.9 1688.9 696.2 1690.9 696.6 1692.9 697.0 1694.9 697.3 1696.9 697.7 1698.9 698.1 1700.9 698.4 1702.9 698.8 1704.9 699.1 1706.9 699.5 1708.9 699.8 1710.9 700.2 1712.9 700.5 1714.9 700.8 1716.9 701.1 1718.9 701.4 1720.9 701.7 1722.9 701.9 1724.9 702.2 1726.9 702.4 1728.9 702.6 1730.9 702.9 1732.9 703.1 1734.9 703.3 1736.9 703.5 1738.9 703.7 1740.9 704.0 1742.9 704.2 1744.9 704.3 1746.9 704.5 1748.9 704.7 1750.9 704.9 1752.9 705.1 1754.9 705.2 1756.9 705.4 1758.9 705.6 1760.9 705.7 1762.9 705.9 1764.9 706.0 1766.9 706.1 1768.9 706.3 1770.9 706.4 1772.9 706.5 1774.9 706.6 1776.9 706.7 1778.9 706.8 1780.9 706.9 1782.9 707.0 1784.9 707.1 1786.9 707.2 1788.9 707.3 1790.9 707.3 1792.9 707.4 1794.9 707.5 1796.9 707.6 1798.9 707.7 1800.9 707.8 1802.9 707.8 1804.9 707.9 1806.9 708.0 1808.9 708.1 1810.9 708.2 1812.9 708.3 1814.9 708.4 1816.9 708.5 1818.9 708.6 1820.9 708.7 1822.9 708.8 1824.9 708.9 1826.9 709.0 1828.9 709.1 1830.9 709.1 1832.9 709.2 1834.9 709.3 1836.9 709.4 1838.9 709.5 1840.9 709.6 1842.9 709.7 1844.9 709.8 1846.9 709.9 1848.9 710.0 1850.9 710.1 1852.9 710.2 1854.9 710.3 1856.9 710.4 1858.9 710.5 1860.9 710.6 1862.9 710.8 1864.9 710.9 1866.9 711.0 1868.9 711.1 1870.9 711.2 1872.9 711.4 1874.9 711.5 1876.9 711.6 1878.9 711.7 1880.9 711.8 1882.9 711.9 1884.9 712.0 1886.9 712.1 1888.9 712.1 1890.9 712.2 1892.9 712.2 1894.9 712.2 1896.9 712.2 1898.9 712.2 1900.9 712.2 1902.9 712.1 1904.9 712.0 1906.9 712.0 1908.9 711.9 1910.9 711.8 1912.9 711.7 1914.9 711.6 1916.9 711.4 1918.9 711.3 1920.9 711.2 1922.9 711.1 1924.9 710.9 1926.9 710.8 1928.9 710.7 1930.9 710.6 1932.9 710.5 1934.9 710.4 1936.9 710.3 1938.9 710.2 1940.9 710.1 1942.9 710.1 1944.9 710.0 1946.9 709.9 1948.9 709.8 1950.9 709.7 1952.9 709.7 1954.9 709.6 1956.9 709.5 1958.9 709.5 1960.9 709.4 1962.9 709.3 1964.9 709.3 1966.1 710.3 1967.0 710.3 1967.9 710.2 1968.7 710.1 1969.6 710.1 1970.4 710.0 1971.2 709.9 1972.0 709.9 1972.8 709.8 1973.6 709.7 1974.3 709.6 1975.0 709.5 1975.8 709.5 1976.5 709.4 1977.2 709.3 1977.9 709.2 1978.6 709.0 1979.2 708.9 1979.9 708.8 1980.3 708.7 1980.7 708.5 1981.1 708.4 1981.5 708.3 1981.9 708.1 1982.3 707.9 1982.7 707.8 1983.1 707.6 1983.5 707.4 1983.8 707.2 1984.2 707.0 1984.6 706.8 1984.9 706.5 1985.3 706.3 1985.6 706.0 1986.0 705.7 1986.3 705.5 1986.6 705.2 1987.0 704.8 1987.3 704.5 1987.6 704.2 1988.0 703.8 1988.3 703.4 1988.6 703.0 1988.9 702.6 1989.2 702.1 1989.5 701.6 1989.8 701.1 1990.1 700.6 1990.4 700.1 1990.7 699.5 1991.1 698.9 1991.5 698.2 1992.0 697.6 1992.4 696.9 1992.8 696.1 1993.2 695.3 1993.6 694.5 1994.0 693.6 1994.4 692.7 1994.8 691.8 1995.2 691.5 1995.5 690.4 1995.9 689.3 1996.3 688.1 1996.6 686.9 1996.9 685.6 1997.3 684.2 1997.6 682.8 1998.0 681.3 1998.3 679.7 1998.6 678.1 1999.0 676.3 1999.3 674.5 1999.6 672.5 1999.9 670.5 2000.2 668.3 2000.5 666.1 2000.8 663.7 2001.1 661.2 2001.5 658.6 2001.8 655.8 2002.2 652.9 2002.5 649.9 2002.9 646.7 2003.3 643.3 2003.7 639.7 2004.1 636.0 2004.5 632.1 2005.0 628.0 2005.4 623.6 2005.7 619.1 2006.0 614.3 2006.2 609.2 2006.5 603.9 2006.8 598.3 2007.0 592.5 2007.3 586.3 2007.5 579.8 2007.8 573.0 2008.0 565.8 2008.2 558.2 2008.4 550.3 2008.6 541.9 2008.8 533.2 2009.0 523.9 2009.2 514.2 2009.3 504.0 2009.5 493.2 2009.7 482.0 2009.8 470.1 2009.9 457.6 2010.1 444.4 2010.2 430.6 2010.3 416.1 2010.4 400.8 2010.5 384.7 2010.6 367.8 2010.6 350.1 2010.7 331.4 2010.7 311.7 2010.8 291.0 2010.8 269.3 2010.8 246.4 2010.9 222.4 2010.9 197.1 2010.9 170.5 2011.0 142.6 2011.0 113.1 2011.0 82.2 2011.0 49.7 2011.1 15.5 2011.1 11.8 2011.1 11.8 2011.1 11.8 2011.2 11.8 2011.2 11.8 2011.2 11.8 2011.2 11.8 2011.3 11.8 2011.3 11.8 2011.4 11.8 2011.4 11.8 2011.4 11.8 2011.5 11.8 2011.5 11.8 2011.5 11.8 2011.6 11.8 2011.6 11.8 2011.6 11.8 2011.7 11.8 2011.7 11.8 2011.7 11.8 2011.8 11.8 2011.8 11.8 2011.8 11.8 2011.9 11.8 2011.9 11.8 2011.9 11.8 2012.0 11.8 2012.0 11.8 2020.2 11.8 2020.3 11.8 2020.3 11.8 2020.3 11.8 2020.4 11.8 2020.4 11.8 2020.4 11.8 2020.5 11.8 2020.5 11.8 2020.5 11.8 2020.6 11.8 2020.6 11.8 2020.6 11.8 2020.7 11.8 2020.7 11.8 2020.8 11.8 2020.8 11.8 2020.8 11.8 2020.9 11.8 2020.9 11.8 2020.9 11.8 2021.0 11.8 2021.0 11.8 2021.1 11.8 2021.1 11.8 2021.2 11.8 2021.2 11.8 2021.2 11.8 2021.3 11.8 2021.3 15.5 2021.4 49.7 2021.5 82.2 2021.5 113.1 2021.6 142.6 2021.6 170.5 2021.7 197.1 2021.8 222.4 2021.8 246.4 2021.9 269.3 2022.0 291.0 2022.1 311.7 2022.1 331.4 2022.2 350.1 2022.4 367.8 2022.5 384.7 2022.6 400.8 2022.8 416.1 2023.0 430.6 2023.2 444.4 2023.4 457.6 2023.7 470.1 2024.0 482.0 2024.2 493.2 2024.5 504.0 2024.8 514.2 2025.2 523.9 2025.5 533.2 2025.9 541.9 2026.2 550.3 2026.6 558.2 2027.1 565.8 2027.6 573.0 2028.2 579.8 2028.7 586.3 2029.3 592.5 2030.0 598.3 2030.6 603.9 2031.3 609.2 2031.9 614.3 2032.6 619.1 2033.3 623.6 2033.9 628.0 2034.5 632.1 2035.2 636.0 2035.8 639.7 2036.4 643.3 2037.0 646.7 2037.7 649.9 2038.3 652.9 2038.9 655.8 2039.5 658.6 2040.1 661.2 2040.6 663.7 2041.0 666.1 2041.5 668.3 2041.9 670.5 2042.3 672.5 2042.7 674.5 2043.1 676.3 2043.5 678.1 2043.9 679.7 2044.3 681.3 2044.7 682.8 2045.1 684.2 2045.5 685.6 2045.9 686.9 2046.3 688.1 2046.7 689.3 2047.1 690.4 2047.5 691.5 2047.9 691.8 2048.3 692.7 2048.8 693.6 2049.2 694.5 2049.6 695.3 2050.1 696.1 2050.5 696.9 2051.0 697.6 2051.4 698.2 2051.9 698.9 2052.4 699.5 2052.9 700.1 2053.4 700.6 2053.9 701.1 2054.5 701.6 2055.1 702.1 2055.8 702.6 2056.5 703.0 2057.2 703.4 2057.9 703.8 2058.6 704.2 2059.3 704.5 2060.1 704.8 2060.8 705.2 2061.6 705.5 2062.4 705.7 2063.2 706.0 2064.0 706.3 2064.8 706.5 2065.6 706.8 2066.5 707.0 2067.3 707.2 2068.2 707.4 2069.1 707.6 2070.0 707.8 2070.9 707.9 2071.9 708.1 2072.8 708.3 2073.0 708.4 2073.0 708.5 2073.0 708.7 2073.0 708.8 2073.0 708.9 2073.0 709.0 2073.0 709.2 2073.0 709.3 2073.0 709.4 2073.0 709.5 2073.0 709.5 2073.0 709.6 2073.0 709.7 2073.0 709.8 2073.0 709.9 2073.0 709.9 2073.0 710.0 2073.0 710.1 2073.0 710.1 2073.0 710.2 2073.0 710.2 2073.0 710.3 2073.0 711.7 2073.0 711.7 2073.0 711.6 2073.0 711.6 2073.0 711.5 2073.0 711.4 2073.0 711.4 2073.0 711.3 2073.0 711.2 2073.0 711.1 2073.0 711.1 2073.0 711.0 2073.0 710.9 2073.0 710.8 2073.0 710.7 2073.0 710.6 2073.0 710.5 2073.0 710.4 2073.0 710.2 2073.0 710.1 2073.0 710.0 2073.0 709.8 2072.8 709.7 2071.9 709.5 2070.9 709.4 2070.0 709.2 2069.1 709.0 2068.2 708.8 2067.3 708.6 2066.5 708.4 2065.6 708.2 2064.8 708.0 2064.0 707.7 2063.2 707.5 2062.4 707.2 2061.6 706.9 2060.8 706.6 2060.1 706.3 2059.3 705.9 2058.6 705.6 2057.9 705.2 2057.2 704.8 2056.5 704.4 2055.8 704.0 2055.1 703.6 2054.5 703.1 2053.9 702.6 2053.4 702.1 2052.9 701.5 2052.4 700.9 2051.9 700.3 2051.4 699.7 2051.0 699.0 2050.5 698.3 2050.1 697.6 2049.6 696.8 2049.2 695.9 2048.8 695.1 2048.3 694.2 2047.9 693.2 2047.5 691.5 2047.1 690.4 2046.7 689.3 2046.3 688.1 2045.9 686.9 2045.5 685.6 2045.1 684.2 2044.7 682.8 2044.3 681.3 2043.9 679.7 2043.5 678.1 2043.1 676.3 2042.7 674.5 2042.3 672.5 2041.9 670.5 2041.5 668.3 2041.0 666.1 2040.6 663.7 2040.1 661.2 2039.5 658.6 2038.9 655.8 2038.3 652.9 2037.7 649.9 2037.0 646.7 2036.4 643.3 2035.8 639.7 2035.2 636.0 2034.5 632.1 2033.9 628.0 2033.3 623.6 2032.6 619.1 2031.9 614.3 2031.3 609.2 2030.6 603.9 2030.0 598.3 2029.3 592.5 2028.7 586.3 2028.2 579.8 2027.6 573.0 2027.1 565.8 2026.6 558.2 2026.2 550.3 2025.9 541.9 2025.5 533.2 2025.2 523.9 2024.8 514.2 2024.5 504.0 2024.2 493.2 2024.0 482.0 2023.7 470.1 2023.4 457.6 2023.2 444.4 2023.0 430.6 2022.8 416.1 2022.6 400.8 2022.5 384.7 2022.4 367.8 2022.2 350.1 2022.1 331.4 2022.1 311.7 2022.0 291.0 2021.9 269.3 2021.8 246.4 2021.8 222.4 2021.7 197.1 2021.6 170.5 2021.6 142.6 2021.5 113.1 2021.5 82.2 2021.4 49.7 2021.3 15.5 2021.3 11.8 2021.2 11.8 2021.2 11.8 2021.2 11.8 2021.1 11.8 2021.1 11.8 2021.0 11.8 2021.0 11.8 2020.9 11.8 2020.9 11.8 2020.9 11.8 2020.8 11.8 2020.8 11.8 2020.8 11.8 2020.7 11.8 2020.7 11.8 2020.6 11.8 2020.6 11.8 2020.6 11.8 2020.5 11.8 2020.5 11.8 2020.5 11.8 2020.4 11.8 2020.4 11.8 2020.4 11.8 2020.3 11.8 2020.3 11.8 2020.3 11.8 2020.2 11.8 2012.0 11.8 2012.0 11.8 2011.9 11.8 2011.9 11.8 2011.9 11.8 2011.8 11.8 2011.8 11.8 2011.8 11.8 2011.7 11.8 2011.7 11.8 2011.7 11.8 2011.6 11.8 2011.6 11.8 2011.6 11.8 2011.5 11.8 2011.5 11.8 2011.5 11.8 2011.4 11.8 2011.4 11.8 2011.4 11.8 2011.3 11.8 2011.3 11.8 2011.2 11.8 2011.2 11.8 2011.2 11.8 2011.2 11.8 2011.1 11.8 2011.1 11.8 2011.1 11.8 2011.1 15.5 2011.0 49.7 2011.0 82.2 2011.0 113.1 2011.0 142.6 2010.9 170.5 2010.9 197.1 2010.9 222.4 2010.8 246.4 2010.8 269.3 2010.8 291.0 2010.7 311.7 2010.7 331.4 2010.6 350.1 2010.6 367.8 2010.5 384.7 2010.4 400.8 2010.3 416.1 2010.2 430.6 2010.1 444.4 2009.9 457.6 2009.8 470.1 2009.7 482.0 2009.5 493.2 2009.3 504.0 2009.2 514.2 2009.0 523.9 2008.8 533.2 2008.6 541.9 2008.4 550.3 2008.2 558.2 2008.0 565.8 2007.8 573.0 2007.5 579.8 2007.3 586.3 2007.0 592.5 2006.8 598.3 2006.5 603.9 2006.2 609.2 2006.0 614.3 2005.7 619.1 2005.4 623.6 2005.0 628.0 2004.5 632.1 2004.1 636.0 2003.7 639.7 2003.3 643.3 2002.9 646.7 2002.5 649.9 2002.2 652.9 2001.8 655.8 2001.5 658.6 2001.1 661.2 2000.8 663.7 2000.5 666.1 2000.2 668.3 1999.9 670.5 1999.6 672.5 1999.3 674.5 1999.0 676.3 1998.6 678.1 1998.3 679.7 1998.0 681.3 1997.6 682.8 1997.3 684.2 1996.9 685.6 1996.6 686.9 1996.3 688.1 1995.9 689.3 1995.5 690.4 1995.2 691.5 1994.8 693.2 1994.4 694.2 1994.0 695.1 1993.6 695.9 1993.2 696.8 1992.8 697.6 1992.4 698.3 1992.0 699.0 1991.5 699.7 1991.1 700.3 1990.7 700.9 1990.4 701.5 1990.1 702.1 1989.8 702.6 1989.5 703.1 1989.2 703.6 1988.9 704.0 1988.6 704.4 1988.3 704.8 1988.0 705.2 1987.6 705.6 1987.3 705.9 1987.0 706.3 1986.6 706.6 1986.3 706.9 1986.0 707.2 1985.6 707.5 1985.3 707.7 1984.9 708.0 1984.6 708.2 1984.2 708.4 1983.8 708.6 1983.5 708.8 1983.1 709.0 1982.7 709.2 1982.3 709.4 1981.9 709.5 1981.5 709.7 1981.1 709.8 1980.7 710.0 1980.3 710.1 1979.9 710.2 1979.2 710.4 1978.6 710.5 1977.9 710.6 1977.2 710.7 1976.5 710.8 1975.8 710.9 1975.0 711.0 1974.3 711.1 1973.6 711.1 1972.8 711.2 1972.0 711.3 1971.2 711.4 1970.4 711.4 1969.6 711.5 1968.7 711.6 1967.9 711.7 1967.0 711.7 1966.1 711.8 1964.9 714.9 1962.9 714.9 1960.9 715.0 1958.9 715.0 1956.9 715.1 1954.9 715.2 1952.9 715.3 1950.9 715.3 1948.9 715.4 1946.9 715.5 1944.9 715.6 1942.9 715.6 1940.9 715.7 1938.9 715.8 1936.9 715.9 1934.9 716.0 1932.9 716.1 1930.9 716.2 1928.9 716.3 1926.9 716.4 1924.9 716.5 1922.9 716.6 1920.9 716.8 1918.9 716.9 1916.9 717.0 1914.9 717.1 1912.9 717.3 1910.9 717.4 1908.9 717.5 1906.9 717.5 1904.9 717.6 1902.9 717.7 1900.9 717.7 1898.9 717.8 1896.9 717.8 1894.9 717.8 1892.9 717.8 1890.9 717.7 1888.9 717.7 1886.9 717.6 1884.9 717.6 1882.9 717.5 1880.9 717.4 1878.9 717.3 1876.9 717.2 1874.9 717.1 1872.9 717.0 1870.9 716.8 1868.9 716.7 1866.9 716.6 1864.9 716.5 1862.9 716.3 1860.9 716.2 1858.9 716.1 1856.9 716.0 1854.9 715.9 1852.9 715.8 1850.9 715.7 1848.9 715.6 1846.9 715.5 1844.9 715.4 1842.9 715.3 1840.9 715.2 1838.9 715.1 1836.9 715.0 1834.9 714.9 1832.9 714.8 1830.9 714.7 1828.9 714.6 1826.9 714.6 1824.9 714.5 1822.9 714.4 1820.9 714.3 1818.9 714.2 1816.9 714.1 1814.9 714.0 1812.9 713.9 1810.9 713.8 1808.9 713.7 1806.9 713.6 1804.9 713.5 1802.9 713.4 1800.9 713.4 1798.9 713.3 1796.9 713.2 1794.9 713.1 1792.9 713.0 1790.9 712.9 1788.9 712.9 1786.9 712.8 1784.9 712.7 1782.9 712.6 1780.9 712.5 1778.9 712.4 1776.9 712.3 1774.9 712.2 1772.9 712.1 1770.9 712.0 1768.9 711.9 1766.9 711.7 1764.9 711.6 1762.9 711.5 1760.9 711.3 1758.9 711.2 1756.9 711.0 1754.9 710.9 1752.9 710.7 1750.9 710.5 1748.9 710.3 1746.9 710.2 1744.9 710.0 1742.9 709.8 1740.9 709.6 1738.9 709.4 1736.9 709.2 1734.9 708.9 1732.9 708.7 1730.9 708.5 1728.9 708.3 1726.9 708.0 1724.9 707.8 1722.9 707.6 1720.9 707.3 1718.9 707.0 1716.9 706.7 1714.9 706.4 1712.9 706.1 1710.9 705.8 1708.9 705.5 1706.9 705.1 1704.9 704.8 1702.9 704.4 1700.9 704.1 1698.9 703.7 1696.9 703.3 1694.9 703.0 1692.9 702.6 1690.9 702.2 1688.9 701.9 1686.9 701.5 1684.9 701.2 1682.9 700.8 1680.9 700.5 1678.9 700.1 1676.9 699.8 1674.9 699.4 1672.9 699.1 1670.9 698.7 1668.9 698.4 1666.9 698.0 1664.9 697.6 1662.9 697.3 1660.9 696.9 1658.9 696.5 1656.9 696.2 1654.9 695.8 1652.9 695.4 1650.9 695.0 1648.9 694.6 1646.9 694.2 1644.9 693.8 1642.9 693.4 1640.9 693.0 1638.9 692.6 1636.9 692.2 1634.9 691.7 1632.9 691.3 1630.9 690.8 1628.9 690.4 1626.9 689.9 1624.9 689.5 1622.9 689.0 1620.9 688.6 1618.9 688.1 1616.9 687.6 1614.9 687.1 1612.9 686.6 1610.9 686.1 1608.9 685.6 1606.9 685.1 1604.9 684.6 1602.9 684.1 1600.9 683.6 1598.9 683.1 1596.9 682.5 1594.9 682.0 1592.9 681.5 1590.9 681.0 1588.9 680.5 1586.9 680.0 1584.9 679.4 1582.9 678.9 1580.9 678.3 1578.9 677.8 1576.9 677.2 1574.9 676.6 1572.9 675.9 1570.9 675.3 1568.9 674.6 1566.9 673.9 1564.9 673.2 1562.9 672.5 1560.9 671.7 1558.9 670.9 1556.9 669.9 1554.9 668.7 1552.9 667.4 1550.9 666.1 1548.9 664.8 1546.9 663.7 1544.9 662.9 1542.9 662.1 1540.9 661.2 1538.9 659.8 1536.9 657.3 1534.9 652.4 1532.9 644.3 1530.9 632.8 1528.9 620.0 1526.9 609.5 1524.9 605.5 1522.9 610.2 1520.9 621.7 1518.9 634.6 1516.9 644.8 1514.9 650.8 1512.9 653.5 1510.9 654.3 1508.9 654.3 1506.9 654.1 1504.9 653.9 1502.9 653.6 1500.9 653.3 1498.9 653.1 1496.9 652.9 1494.9 652.6 1492.9 652.4 1490.9 652.2 1488.9 652.0 1486.9 651.7 1484.9 651.5 1482.9 651.3 1480.9 651.0 1478.9 650.8 1476.9 650.5 1474.9 650.2 1472.9 649.9 1470.9 649.6 1468.9 649.3 1466.9 649.0 1464.9 648.6 1462.9 648.3 1460.9 647.9 1458.9 647.5 1456.9 647.1 1454.9 646.8 1452.9 646.4 1450.9 646.0 1448.9 645.6 1446.9 645.2 1444.9 644.8 1442.9 644.4 1440.9 644.0 1438.9 643.6 1436.9 643.2 1434.9 642.7 1432.9 642.3 1430.9 641.9 1428.9 641.5 1426.9 641.1 1424.9 640.7 1422.9 640.3 1420.9 639.9 1418.9 639.5 1416.9 639.0 1414.9 638.6 1412.9 638.2 1410.9 637.8 1408.9 637.3 1406.9 636.9 1404.9 636.5 1402.9 636.0 1400.9 635.6 1398.9 635.2 1396.9 634.8 1394.9 634.4 1392.9 634.0 1390.9 633.6 1388.9 633.2 1386.9 632.8 1384.9 632.4 1382.9 632.0 1380.9 631.6 1378.9 631.3 1376.9 630.9 1374.9 630.5 1372.9 630.2 1370.9 629.8 1368.9 629.4 1366.9 629.1 1364.9 628.7 1362.9 628.4 1360.9 628.0 1358.9 627.6 1356.9 627.3 1354.9 626.9 1352.9 626.5 1350.9 626.1 1348.9 625.8 1346.9 625.4 1344.9 625.0 1342.9 624.6 1340.9 624.2 1338.9 623.7 1336.9 623.3 1334.9 622.8 1332.9 622.4 1330.9 621.9 1328.9 621.5 1326.9 621.0 1324.9 620.6 1322.9 620.1 1320.9 619.7 1318.9 619.2 1316.9 618.8 1314.9 618.3 1312.9 617.9 1310.9 617.5 1308.9 617.1 1306.9 616.7 1304.9 616.4 1302.9 616.0 1300.9 615.7 1298.9 615.3 1296.9 615.0 1294.9 614.7 1292.9 614.4 1290.9 614.1 1288.9 613.8 1286.9 613.6 1284.9 613.3 1282.9 613.0 1280.9 612.8 1278.9 612.5 1276.9 612.2 1274.9 612.0 1272.9 611.7 1270.9 611.4 1268.9 611.2 1266.9 610.9 1264.9 610.6 1262.9 610.4 1260.9 610.1 1258.9 609.8 1256.9 609.6 1254.9 609.3 1252.9 609.1 1250.9 608.9 1248.9 608.6 1246.9 608.4 1244.9 608.1 1242.9 607.9 1240.9 607.6 1238.9 607.4 1236.9 607.1 1234.9 606.9 1232.9 606.6 1230.9 606.3 1228.9 606.0 1226.9 605.8 1224.9 605.5 1222.9 605.2 1220.9 604.9 1218.9 604.5 1216.9 604.2 1214.9 603.9 1212.9 603.5 1210.9 603.1 1208.9 602.7 1206.9 602.4 1204.9 602.0 1202.9 601.6 1200.9 601.2 1198.9 600.8 1196.9 600.4 1194.9 600.0 1192.9 599.6 1190.9 599.2 1188.9 598.8 1186.9 598.4 1184.9 598.1 1182.9 597.7 1180.9 597.4 1178.9 597.0 1176.9 596.7 1174.9 596.4 1172.9 596.1 1170.9 595.8 1168.9 595.6 1166.9 595.3 1164.9 595.0 1162.9 594.7 1160.9 594.5 1158.9 594.2 1156.9 593.9 1154.9 593.7 1152.9 593.4 1150.9 593.1 1148.9 592.9 1146.9 592.6 1144.9 592.3 1142.9 592.1 1140.9 591.8 1138.9 591.5 1136.9 591.2 1134.9 590.9 1132.9 590.6 1130.9 590.3 1128.9 590.0 1126.9 589.7 1124.9 589.4 1122.9 589.1 1120.9 588.7 1118.9 588.4 1116.9 588.1 1114.9 587.8 1112.9 587.5 1110.9 587.1 1108.9 586.8 1106.9 586.5 1104.9 586.1 1102.9 585.8 1100.9 585.4 1098.9 585.1 1096.9 584.8 1094.9 584.4 1092.9 584.1 1090.9 583.7 1088.9 583.3 1086.9 583.0 1084.9 582.6 1082.9 582.2 1080.9 581.8 1078.9 581.4 1076.9 581.1 1074.9 580.7 1072.9 580.3 1070.9 579.9 1068.9 579.5 1066.9 579.1 1064.9 578.7 1062.9 578.3 1060.9 577.9 1058.9 577.5 1056.9 577.2 1054.9 576.8 1052.9 576.4 1050.9 576.1 1048.9 575.7 1046.9 575.3 1044.9 574.9 1042.9 574.5 1040.9 573.9 1038.9 572.9 1036.9 571.5 1034.9 569.7 1032.9 567.9 1030.9 567.0 1028.9 567.2 1026.9 568.2 1024.9 569.2 1022.9 569.8 1020.9 569.9 1018.9 569.8 1016.9 569.6 1014.9 569.4 1012.9 569.3 1010.9 569.2 1008.9 569.1 1006.9 569.1 1004.9 569.1 1002.9 569.1 1000.9 569.1 998.9 569.1 996.9 569.1 994.9 569.1 992.9 569.1 990.9 569.1 988.9 569.1 986.9 569.1 984.9 569.1 982.9 569.1 980.9 569.1 978.9 569.1 976.9 569.1 974.9 569.1 972.9 569.1 970.9 569.1 968.9 569.1 966.9 569.1 964.9 569.1 962.9 569.1 960.9 569.1 958.9 569.2 956.9 569.2 954.9 569.3 952.9 569.3 950.9 569.4 948.9 569.5 946.9 569.6 944.9 569.6 942.9 569.7 940.9 569.9 938.9 570.0 936.9 570.1 934.9 570.2 932.9 570.4 930.9 570.5 928.9 570.7 926.9 570.8 924.9 571.0 922.9 571.1 920.9 571.3 918.9 571.6 916.9 571.9 914.9 572.3 912.9 572.7 910.9 573.1 908.9 573.6 906.9 574.0 904.9 574.5 902.9 574.9 900.9 575.4 898.9 575.8 896.9 576.1 894.9 576.4 892.9 576.8 890.9 577.1 888.9 577.4 886.9 577.7 884.9 578.0 882.9 578.2 880.9 578.5 878.9 578.8 876.9 579.0 874.9 579.3 872.9 579.6 870.9 579.8 868.9 580.1 866.9 580.4 864.9 580.6 862.9 580.9 860.9 581.2 858.9 581.4 856.9 581.7 854.9 582.0 852.9 582.3 850.9 582.6 848.9 582.9 846.9 583.2 844.9 583.6 842.9 583.9 840.9 584.3 838.9 584.6 836.9 585.0 834.9 585.4 832.9 585.8 830.9 586.2 828.9 586.6 826.9 587.0 824.9 587.4 822.9 587.8 820.9 588.3 818.9 588.7 816.9 589.2 814.9 589.6 812.9 590.1 810.9 590.5 808.9 591.0 806.9 591.5 804.9 591.9 802.9 592.4 800.9 592.9 798.9 593.4 796.9 593.9 794.9 594.4 792.9 594.9 790.9 595.4 788.9 596.0 786.9 596.5 784.9 597.0 782.9 597.5 780.9 598.1 778.9 598.6 776.9 599.2 774.9 599.7 772.9 600.3 770.9 600.8 768.9 601.4 766.9 601.9 764.9 602.5 762.9 603.1 760.9 603.6 758.9 604.2 756.9 604.8 754.9 605.4 752.9 605.9 750.9 606.5 748.9 607.1 746.9 607.8 744.9 608.4 742.9 609.0 740.9 609.7 738.9 610.3 736.9 611.0 734.9 611.6 732.9 612.3 730.9 613.0 728.9 613.7 726.9 614.4 724.9 615.1 722.9 615.8 720.9 616.5 718.9 617.2 716.9 617.9 714.9 618.6 712.9 619.3 710.9 620.1 708.9 620.8 706.9 621.5 704.9 622.3 702.9 623.0 700.9 623.8 698.9 624.5 696.9 625.3 694.9 626.0 692.9 626.8 690.9 627.5 688.9 628.3 686.9 629.0 684.9 629.8 682.9 630.5 680.9 631.3 678.9 632.0 676.9 632.8 674.9 633.5 672.9 634.3 670.9 635.0 668.9 635.8 666.9 636.5 664.9 637.3 662.9 638.1 660.9 638.9 658.9 639.7 656.9 640.5 654.9 641.4 652.9 642.2 650.9 643.0 648.9 643.9 646.9 644.7 644.9 645.6 642.9 646.5 640.9 647.3 638.9 648.2 636.9 649.0 634.9 649.9 632.9 650.8 630.9 651.6 628.9 652.5 626.9 653.3 624.9 654.2 622.9 655.0 620.9 655.9 618.9 656.7 616.9 657.5 614.9 658.3 612.9 659.1 610.9 659.9 608.9 660.7 606.9 661.5 604.9 662.3 602.9 663.0 600.9 663.7 598.9 664.4 596.9 665.1 594.9 665.8 592.9 666.5 590.9 667.1 588.9 667.7 586.9 668.4 584.9 668.9 582.9 669.5 580.9 670.0 578.9 670.6 576.9 671.1 574.9 671.6 572.9 672.1 570.9 672.6 568.9 673.1 566.9 673.6 564.9 674.1 562.9 674.6 560.9 675.0 558.9 675.5 556.9 675.9 554.9 676.3 552.9 676.8 550.9 677.2 548.9 677.6 546.9 678.1 544.9 678.5 542.9 678.9 540.9 679.3 538.9 679.7 536.9 680.1 534.9 680.5 532.9 681.0 530.9 681.4 528.9 681.8 526.9 682.2 524.9 682.6 522.9 683.0 520.9 683.5 518.9 683.9 516.9 684.3 514.9 684.8 512.9 685.2 510.9 685.7 508.9 686.1 506.9 686.6 504.9 687.1 502.9 687.5 500.9 687.7 498.9 687.2 496.9 685.9 494.9 684.8 492.9 685.4 490.9 687.6 488.9 689.9 486.9 691.3 484.9 692.0 482.9 692.5 480.9 693.0 478.9 693.5 476.9 694.0 474.9 694.4 472.9 694.8 470.9 695.2 468.9 695.6 466.9 696.0 464.9 696.4 462.9 696.7 460.9 697.0 458.9 697.3 456.9 697.6 454.9 697.9 452.9 698.2 450.9 698.4 448.9 698.7 446.9 699.0 444.9 699.2 442.9 699.5 440.9 699.7 438.9 699.9 436.9 700.2 434.9 700.4 432.9 700.6 430.9 700.8 428.9 701.1 426.9 701.3 424.9 701.5 422.9 701.7 420.9 701.9 418.9 702.1 416.9 702.3 414.9 702.5 412.9 702.7 410.9 702.9 408.9 703.1 406.9 703.3 404.9 703.4 402.9 703.6 400.9 703.8 398.9 704.0 396.9 704.2 394.9 704.4 392.9 704.7 390.9 704.9 388.9 705.1 386.9 705.3 384.9 705.5 382.9 705.8 380.9 706.0 378.9 706.2 376.9 706.4 374.9 706.6 372.9 706.8 370.9 707.0 368.9 707.2 366.9 707.4 364.9 707.6 362.9 707.8 360.9 708.0 358.9 708.1 356.9 708.2 354.9 708.4 352.9 708.5 350.9 708.6 348.9 708.7 346.9 708.7 344.9 708.8 342.9 708.8 340.9 708.8 338.9 708.8 336.9 708.8 334.9 708.8 332.9 708.8 330.9 708.8 328.9 708.7 326.9 708.7 324.9 708.7 322.9 708.7 320.9 708.6 318.9 708.6 316.9 708.5 314.9 708.5 312.9 708.5 310.9 708.4 308.9 708.4 306.9 708.3 304.9 708.3 302.9 708.2 300.9 708.2 298.9 708.1 296.9 708.1 294.9 708.0 292.9 708.0 290.9 707.9 288.9 707.9 286.9 707.8 284.9 707.8 282.9 707.7 280.9 707.7 278.9 707.7 276.9 707.6 274.9 707.6 272.9 707.5 270.9 707.5 268.9 707.5 266.9 707.4 264.9 707.4 262.9 707.4 260.9 707.4 258.9 707.3 256.9 707.3 254.9 707.3 252.9 707.3 250.9 707.3 248.9 707.3 246.9 707.3 244.9 707.3 242.9 707.3 240.9 707.4 238.9 707.4 236.9 707.4 234.9 707.4 232.9 707.5 230.9 707.5 228.9 707.5 226.9 707.6 224.9 707.6 222.9 707.6 220.9 707.7 218.9 707.7 216.9 707.8 214.9 707.8 212.9 707.9 210.9 708.0 208.9 708.0 206.9 708.1 204.9 708.2 202.9 708.2 200.9 708.3 198.9 708.4 196.9 708.5 194.9 708.6 192.9 708.6 190.9 708.7 188.9 708.8 186.9 708.9 184.9 709.0 182.9 709.1 180.9 709.2 178.9 709.3 176.9 709.4 174.9 709.5 172.9 709.6 170.9 709.8 168.9 709.9 166.9 710.0 164.9 710.1 162.9 710.2 160.9 710.3 158.9 710.5 156.9 710.6 154.9 710.7 152.9 710.9 150.9 711.0 148.9 711.1 146.9 711.3 144.9 711.4 142.9 711.5 140.9 711.7 138.9 711.8Z" fill="#111" stroke="none"/>
<path d="M138.9 707.0L140.9 711.8 142.9 708.8 144.9 706.4 146.9 713.9 148.9 705.4 150.9 706.9 152.9 712.6 154.9 705.5 156.9 708.3 158.9 705.9 160.9 711.2 162.9 708.5 164.9 704.6 166.9 705.2 168.9 711.1 170.9 707.2 172.9 711.5 174.9 702.5 176.9 710.1 178.9 703.6 180.9 705.5 182.9 705.6 184.9 705.1 186.9 702.1 188.9 705.9 190.9 706.9 192.9 707.7 194.9 709.8 196.9 702.2 198.9 707.2 200.9 703.6 202.9 706.7 204.9 706.7 206.9 704.6 208.9 706.0 210.9 705.0 212.9 704.6 214.9 711.7 216.9 702.0 218.9 703.1 220.9 702.9 222.9 706.6 224.9 704.3 226.9 705.2 228.9 709.4 230.9 703.0 232.9 702.5 234.9 711.9 236.9 699.5 238.9 702.9 240.9 696.7 242.9 700.9 244.9 705.2 246.9 709.5 248.9 700.8 250.9 700.2 252.9 703.5 254.9 704.6 256.9 702.8 258.9 702.3 260.9 709.2 262.9 705.0 264.9 706.8 266.9 700.6 268.9 703.5 270.9 698.9 272.9 705.8 274.9 703.7 276.9 703.8 278.9 705.4 280.9 699.1 282.9 699.6 284.9 706.2 286.9 702.8 288.9 707.8 290.9 703.7 292.9 700.2 294.9 702.0 296.9 702.3 298.9 705.1 300.9 704.2 302.9 704.9 304.9 701.7 306.9 704.0 308.9 709.5 310.9 708.8 312.9 702.5 314.9 704.6 316.9 703.0 318.9 706.5 320.9 704.9 322.9 702.9 324.9 706.2 326.9 701.7 328.9 705.2 330.9 708.0 332.9 708.5 334.9 706.9 336.9 704.0 338.9 709.2 340.9 710.8 342.9 709.3 344.9 707.4 346.9 704.8 348.9 704.9 350.9 705.8 352.9 703.2 354.9 703.2 356.9 703.1 358.9 710.5 360.9 702.9 362.9 704.6 364.9 701.1 366.9 701.1 368.9 708.0 370.9 703.2 372.9 702.6 374.9 704.1 376.9 707.1 378.9 706.4 380.9 701.0 382.9 703.4 384.9 704.3 386.9 704.3 388.9 701.0 390.9 706.3 392.9 700.5 394.9 692.7 396.9 705.3 398.9 701.2 400.9 696.6 402.9 698.2 404.9 704.5 406.9 698.1 408.9 698.8 410.9 697.4 412.9 706.1 414.9 700.1 416.9 703.8 418.9 703.9 420.9 698.5 422.9 696.9 424.9 697.4 426.9 694.7 428.9 700.0 430.9 701.4 432.9 704.1 434.9 692.3 436.9 695.3 438.9 697.3 440.9 703.8 442.9 696.2 444.9 697.9 446.9 694.6 448.9 693.4 450.9 696.1 452.9 695.4 454.9 699.4 456.9 690.8 458.9 693.8 460.9 693.5 462.9 694.1 464.9 697.1 466.9 698.5 468.9 691.7 470.9 689.7 472.9 690.2 474.9 693.3 476.9 687.1 478.9 700.0 480.9 687.8 482.9 692.6 484.9 690.3 486.9 693.4 488.9 686.7 490.9 681.3 492.9 683.8 494.9 678.0 496.9 678.3 498.9 688.7 500.9 687.0 502.9 685.0 504.9 685.0 506.9 680.8 508.9 682.9 510.9 682.8 512.9 676.4 514.9 679.7 516.9 686.2 518.9 682.1 520.9 679.4 522.9 678.0 524.9 672.3 526.9 677.5 528.9 679.4 530.9 680.2 532.9 676.5 534.9 681.0 536.9 672.5 538.9 679.8 540.9 671.0 542.9 669.5 544.9 676.2 546.9 679.1 548.9 673.1 550.9 681.4 552.9 674.2 554.9 671.4 556.9 673.3 558.9 672.3 560.9 674.7 562.9 665.3 564.9 671.1 566.9 668.2 568.9 668.6 570.9 670.7 572.9 671.4 574.9 669.9 576.9 664.8 578.9 669.3 580.9 669.9 582.9 664.2 584.9 665.9 586.9 663.8 588.9 666.9 590.9 663.4 592.9 660.5 594.9 657.8 596.9 660.8 598.9 661.1 600.9 655.2 602.9 663.4 604.9 659.9 606.9 658.7 608.9 656.2 610.9 655.2 612.9 658.8 614.9 659.3 616.9 654.0 618.9 653.4 620.9 646.2 622.9 652.2 624.9 655.4 626.9 652.8 628.9 650.9 630.9 642.9 632.9 649.5 634.9 641.0 636.9 647.5 638.9 645.5 640.9 648.8 642.9 642.0 644.9 649.8 646.9 641.4 648.9 640.9 650.9 640.7 652.9 642.8 654.9 638.5 656.9 647.5 658.9 644.2 660.9 642.4 662.9 639.6 664.9 636.0 666.9 633.3 668.9 637.4 670.9 635.7 672.9 630.8 674.9 631.1 676.9 624.0 678.9 628.3 680.9 632.8 682.9 624.6 684.9 626.2 686.9 632.6 688.9 619.1 690.9 625.3 692.9 623.9 694.9 621.8 696.9 620.9 698.9 617.0 700.9 622.2 702.9 619.2 704.9 616.5 706.9 621.1 708.9 621.5 710.9 618.6 712.9 620.2 714.9 613.1 716.9 610.6 718.9 618.0 720.9 615.7 722.9 614.8 724.9 613.2 726.9 610.4 728.9 612.8 730.9 613.7 732.9 611.2 734.9 608.6 736.9 611.1 738.9 612.6 740.9 599.9 742.9 601.8 744.9 608.5 746.9 607.0 748.9 603.7 750.9 600.5 752.9 604.9 754.9 596.8 756.9 604.1 758.9 598.8 760.9 598.6 762.9 599.8 764.9 594.0 766.9 597.2 768.9 596.4 770.9 598.7 772.9 591.5 774.9 599.6 776.9 599.9 778.9 601.3 780.9 596.4 782.9 592.1 784.9 590.7 786.9 589.3 788.9 592.6 790.9 593.1 792.9 588.1 794.9 588.7 796.9 588.0 798.9 583.9 800.9 593.0 802.9 588.2 804.9 593.6 806.9 585.1 808.9 590.5 810.9 586.5 812.9 588.3 814.9 592.8 816.9 587.0 818.9 590.0 820.9 579.6 822.9 578.3 824.9 586.1 826.9 584.0 828.9 588.5 830.9 579.6 832.9 587.1 834.9 579.4 836.9 578.6 838.9 577.8 840.9 577.9 842.9 582.2 844.9 579.9 846.9 583.1 848.9 585.7 850.9 575.9 852.9 579.1 854.9 578.1 856.9 574.6 858.9 582.5 860.9 581.5 862.9 580.7 864.9 574.0 866.9 579.7 868.9 583.7 870.9 577.2 872.9 579.7 874.9 579.1 876.9 579.8 878.9 575.9 880.9 573.3 882.9 574.9 884.9 578.1 886.9 572.2 888.9 575.2 890.9 578.9 892.9 572.2 894.9 572.7 896.9 575.0 898.9 571.4 900.9 568.1 902.9 569.7 904.9 566.5 906.9 566.4 908.9 572.8 910.9 571.8 912.9 570.1 914.9 566.4 916.9 568.1 918.9 564.0 920.9 565.0 922.9 570.7 924.9 560.7 926.9 560.4 928.9 565.7 930.9 566.9 932.9 562.8 934.9 568.4 936.9 562.1 938.9 570.0 940.9 557.8 942.9 564.1 944.9 566.2 946.9 569.4 948.9 571.2 950.9 567.4 952.9 562.1 954.9 565.2 956.9 564.2 958.9 566.9 960.9 564.8 962.9 567.3 964.9 569.0 966.9 567.0 968.9 566.1 970.9 570.4 972.9 568.1 974.9 571.6 976.9 566.9 978.9 563.7 980.9 567.0 982.9 568.5 984.9 559.6 986.9 562.6 988.9 569.1 990.9 563.4 992.9 566.2 994.9 567.8 996.9 569.3 998.9 571.4 1000.9 566.9 1002.9 562.2 1004.9 564.0 1006.9 560.6 1008.9 565.5 1010.9 564.6 1012.9 569.2 1014.9 569.1 1016.9 566.5 1018.9 566.9 1020.9 563.7 1022.9 564.8 1024.9 572.1 1026.9 565.4 1028.9 563.8 1030.9 567.0 1032.9 565.0 1034.9 562.5 1036.9 571.0 1038.9 567.0 1040.9 567.9 1042.9 564.7 1044.9 576.4 1046.9 571.5 1048.9 575.3 1050.9 569.9 1052.9 574.9 1054.9 570.1 1056.9 574.0 1058.9 574.8 1060.9 573.8 1062.9 575.9 1064.9 566.7 1066.9 577.0 1068.9 573.2 1070.9 584.7 1072.9 580.9 1074.9 581.8 1076.9 579.3 1078.9 581.8 1080.9 579.8 1082.9 573.0 1084.9 580.3 1086.9 585.3 1088.9 578.1 1090.9 578.6 1092.9 582.4 1094.9 579.0 1096.9 577.5 1098.9 574.6 1100.9 579.7 1102.9 577.4 1104.9 581.4 1106.9 583.5 1108.9 584.1 1110.9 587.6 1112.9 588.8 1114.9 582.3 1116.9 587.6 1118.9 585.8 1120.9 585.6 1122.9 593.1 1124.9 586.3 1126.9 583.6 1128.9 586.4 1130.9 587.6 1132.9 587.7 1134.9 589.5 1136.9 591.8 1138.9 590.4 1140.9 589.3 1142.9 583.3 1144.9 589.5 1146.9 590.8 1148.9 590.1 1150.9 584.2 1152.9 588.0 1154.9 581.1 1156.9 589.6 1158.9 587.4 1160.9 596.0 1162.9 587.9 1164.9 591.3 1166.9 590.7 1168.9 599.0 1170.9 595.3 1172.9 593.7 1174.9 597.5 1176.9 590.2 1178.9 597.7 1180.9 601.0 1182.9 590.6 1184.9 593.2 1186.9 592.1 1188.9 596.1 1190.9 596.1 1192.9 593.4 1194.9 593.9 1196.9 596.9 1198.9 599.8 1200.9 601.9 1202.9 604.9 1204.9 598.0 1206.9 596.2 1208.9 600.3 1210.9 596.6 1212.9 603.3 1214.9 600.6 1216.9 605.5 1218.9 605.4 1220.9 602.1 1222.9 602.8 1224.9 600.9 1226.9 596.8 1228.9 600.0 1230.9 603.7 1232.9 600.7 1234.9 600.0 1236.9 609.4 1238.9 604.3 1240.9 604.3 1242.9 604.7 1244.9 605.7 1246.9 606.4 1248.9 608.9 1250.9 601.5 1252.9 604.4 1254.9 612.2 1256.9 609.7 1258.9 612.8 1260.9 602.3 1262.9 606.1 1264.9 603.7 1266.9 605.8 1268.9 609.6 1270.9 612.5 1272.9 618.2 1274.9 608.5 1276.9 609.3 1278.9 606.3 1280.9 612.2 1282.9 605.4 1284.9 613.3 1286.9 617.8 1288.9 617.8 1290.9 611.9 1292.9 608.7 1294.9 617.2 1296.9 613.5 1298.9 610.9 1300.9 605.8 1302.9 615.0 1304.9 618.6 1306.9 610.4 1308.9 617.5 1310.9 615.1 1312.9 615.6 1314.9 615.4 1316.9 612.2 1318.9 615.4 1320.9 623.1 1322.9 614.7 1324.9 615.0 1326.9 614.8 1328.9 624.1 1330.9 618.9 1332.9 621.9 1334.9 613.7 1336.9 614.0 1338.9 623.5 1340.9 613.1 1342.9 619.4 1344.9 620.6 1346.9 621.4 1348.9 627.6 1350.9 621.4 1352.9 625.2 1354.9 626.1 1356.9 624.4 1358.9 622.1 1360.9 623.4 1362.9 625.7 1364.9 626.5 1366.9 619.4 1368.9 628.7 1370.9 623.6 1372.9 630.8 1374.9 632.0 1376.9 625.1 1378.9 625.5 1380.9 629.3 1382.9 630.3 1384.9 632.4 1386.9 631.7 1388.9 631.4 1390.9 626.7 1392.9 633.8 1394.9 628.5 1396.9 634.9 1398.9 631.5 1400.9 629.5 1402.9 631.8 1404.9 633.5 1406.9 631.7 1408.9 638.3 1410.9 637.3 1412.9 633.8 1414.9 632.0 1416.9 638.8 1418.9 634.6 1420.9 635.5 1422.9 633.7 1424.9 631.6 1426.9 639.6 1428.9 638.2 1430.9 634.6 1432.9 637.1 1434.9 640.1 1436.9 642.4 1438.9 639.3 1440.9 639.9 1442.9 645.9 1444.9 637.7 1446.9 638.6 1448.9 644.1 1450.9 639.3 1452.9 648.0 1454.9 642.0 1456.9 643.6 1458.9 641.2 1460.9 644.7 1462.9 651.8 1464.9 649.7 1466.9 644.4 1468.9 647.7 1470.9 641.3 1472.9 648.8 1474.9 651.6 1476.9 644.6 1478.9 649.1 1480.9 654.5 1482.9 652.7 1484.9 647.4 1486.9 648.8 1488.9 644.7 1490.9 650.2 1492.9 649.4 1494.9 647.3 1496.9 650.8 1498.9 645.6 1500.9 651.9 1502.9 654.0 1504.9 653.5 1506.9 650.0 1508.9 652.3 1510.9 658.0 1512.9 645.4 1514.9 648.6 1516.9 638.3 1518.9 630.1 1520.9 617.8 1522.9 611.2 1524.9 599.6 1526.9 606.0 1528.9 615.2 1530.9 629.6 1532.9 642.1 1534.9 653.0 1536.9 655.0 1538.9 658.0 1540.9 658.7 1542.9 661.2 1544.9 661.0 1546.9 661.7 1548.9 663.0 1550.9 668.1 1552.9 660.7 1554.9 659.6 1556.9 665.1 1558.9 662.2 1560.9 672.5 1562.9 673.1 1564.9 666.9 1566.9 671.1 1568.9 670.6 1570.9 671.3 1572.9 678.2 1574.9 674.7 1576.9 671.7 1578.9 675.5 1580.9 673.2 1582.9 676.8 1584.9 679.6 1586.9 678.6 1588.9 677.9 1590.9 674.4 1592.9 677.5 1594.9 673.3 1596.9 681.7 1598.9 680.8 1600.9 681.9 1602.9 681.7 1604.9 681.4 1606.9 680.6 1608.9 685.4 1610.9 686.2 1612.9 682.8 1614.9 683.9 1616.9 684.9 1618.9 688.8 1620.9 685.1 1622.9 686.2 1624.9 686.1 1626.9 682.5 1628.9 686.4 1630.9 687.1 1632.9 690.5 1634.9 690.9 1636.9 692.8 1638.9 686.2 1640.9 694.1 1642.9 691.9 1644.9 685.1 1646.9 686.0 1648.9 695.0 1650.9 687.7 1652.9 691.5 1654.9 692.5 1656.9 688.8 1658.9 689.4 1660.9 693.0 1662.9 695.0 1664.9 691.4 1666.9 702.6 1668.9 692.6 1670.9 697.2 1672.9 698.1 1674.9 702.3 1676.9 693.8 1678.9 694.7 1680.9 692.3 1682.9 694.6 1684.9 690.6 1686.9 698.0 1688.9 701.6 1690.9 702.7 1692.9 700.5 1694.9 698.8 1696.9 703.1 1698.9 702.6 1700.9 703.5 1702.9 702.0 1704.9 695.0 1706.9 700.9 1708.9 702.8 1710.9 704.8 1712.9 702.4 1714.9 701.3 1716.9 700.7 1718.9 702.3 1720.9 705.9 1722.9 708.7 1724.9 710.2 1726.9 706.6 1728.9 707.8 1730.9 704.3 1732.9 706.5 1734.9 712.2 1736.9 710.2 1738.9 705.5 1740.9 705.1 1742.9 705.0 1744.9 704.4 1746.9 712.5 1748.9 711.1 1750.9 705.9 1752.9 706.7 1754.9 707.7 1756.9 707.8 1758.9 709.9 1760.9 704.4 1762.9 708.4 1764.9 708.7 1766.9 713.8 1768.9 712.3 1770.9 707.4 1772.9 709.7 1774.9 709.3 1776.9 708.4 1778.9 711.4 1780.9 710.0 1782.9 701.6 1784.9 715.7 1786.9 709.8 1788.9 708.7 1790.9 709.9 1792.9 712.5 1794.9 708.0 1796.9 710.1 1798.9 713.9 1800.9 712.2 1802.9 713.9 1804.9 711.8 1806.9 712.7 1808.9 706.3 1810.9 713.8 1812.9 711.5 1814.9 708.6 1816.9 719.1 1818.9 710.7 1820.9 709.5 1822.9 714.8 1824.9 710.2 1826.9 716.0 1828.9 712.1 1830.9 715.3 1832.9 707.1 1834.9 712.3 1836.9 712.3 1838.9 712.2 1840.9 712.2 1842.9 717.4 1844.9 713.7 1846.9 713.6 1848.9 713.3 1850.9 715.5 1852.9 714.0 1854.9 717.3 1856.9 711.8 1858.9 713.2 1860.9 708.4 1862.9 710.7 1864.9 713.6 1866.9 709.3 1868.9 716.9 1870.9 715.6 1872.9 717.4 1874.9 711.9 1876.9 712.8 1878.9 716.0 1880.9 714.9 1882.9 714.9 1884.9 719.3 1886.9 716.6 1888.9 713.8 1890.9 712.6 1892.9 715.8 1894.9 712.5 1896.9 710.4 1898.9 718.1 1900.9 715.4 1902.9 713.7 1904.9 720.5 1906.9 710.5 1908.9 711.9 1910.9 710.2 1912.9 717.5 1914.9 717.4 1916.9 713.9 1918.9 710.6 1920.9 715.1 1922.9 715.0 1924.9 717.3 1926.9 715.8 1928.9 715.5 1930.9 711.8 1932.9 709.3 1934.9 716.4 1936.9 706.6 1938.9 716.6 1940.9 713.1 1942.9 709.1 1944.9 712.4 1946.9 708.6 1948.9 715.8 1950.9 706.3 1952.9 709.9 1954.9 709.3 1956.9 709.7 1958.9 714.1 1960.9 714.3 1962.9 711.0 1964.9 711.2 1966.1 711.6 1967.0 709.8 1967.9 712.2 1968.7 711.2 1969.6 712.8 1970.4 710.4 1971.2 709.6 1972.0 710.0 1972.8 711.6 1973.6 711.2 1974.3 710.3 1975.0 711.3 1975.8 710.4 1976.5 710.5 1977.2 711.8 1977.9 710.1 1978.6 709.4 1979.2 709.8 1979.9 708.5 1980.3 709.6 1980.7 709.5 1981.1 710.2 1981.5 708.4 1981.9 708.8 1982.3 708.4 1982.7 709.2 1983.1 708.3 1983.5 708.1 1983.8 707.6 1984.2 708.0 1984.6 706.7 1984.9 708.4 1985.3 706.8 1985.6 707.0 1986.0 704.9 1986.3 705.6 1986.6 706.6 1987.0 705.1 1987.3 707.7 1987.6 704.9 1988.0 705.1 1988.3 703.4 1988.6 704.5 1988.9 703.2 1989.2 702.1 1989.5 701.9 1989.8 701.1 1990.1 700.8 1990.4 700.9 1990.7 700.4 1991.1 700.5 1991.5 699.2 1992.0 697.4 1992.4 697.9 1992.8 696.8 1993.2 696.2 1993.6 696.1 1994.0 693.7 1994.4 692.4 1994.8 692.3 1995.2 691.5 1995.5 690.4 1995.9 689.3 1996.3 688.1 1996.6 686.9 1996.9 685.6 1997.3 684.2 1997.6 682.8 1998.0 681.3 1998.3 679.7 1998.6 678.1 1999.0 676.3 1999.3 674.5 1999.6 672.5 1999.9 670.5 2000.2 668.3 2000.5 666.1 2000.8 663.7 2001.1 661.2 2001.5 658.6 2001.8 655.8 2002.2 652.9 2002.5 649.9 2002.9 646.7 2003.3 643.3 2003.7 639.7 2004.1 636.0 2004.5 632.1 2005.0 628.0 2005.4 623.6 2005.7 619.1 2006.0 614.3 2006.2 609.2 2006.5 603.9 2006.8 598.3 2007.0 592.5 2007.3 586.3 2007.5 579.8 2007.8 573.0 2008.0 565.8 2008.2 558.2 2008.4 550.3 2008.6 541.9 2008.8 533.2 2009.0 523.9 2009.2 514.2 2009.3 504.0 2009.5 493.2 2009.7 482.0 2009.8 470.1 2009.9 457.6 2010.1 444.4 2010.2 430.6 2010.3 416.1 2010.4 400.8 2010.5 384.7 2010.6 367.8 2010.6 350.1 2010.7 331.4 2010.7 311.7 2010.8 291.0 2010.8 269.3 2010.8 246.4 2010.9 222.4 2010.9 197.1 2010.9 170.5 2011.0 142.6 2011.0 113.1 2011.0 82.2 2011.0 49.7 2011.1 15.5 2011.1 11.8 2011.1 11.8 2011.1 11.8 2011.2 11.8 2011.2 11.8 2011.2 11.8 2011.2 11.8 2011.3 11.8 2011.3 11.8 2011.4 11.8 2011.4 11.8 2011.4 11.8 2011.5 11.8 2011.5 11.8 2011.5 11.8 2011.6 11.8 2011.6 11.8 2011.6 11.8 2011.7 11.8 2011.7 11.8 2011.7 11.8 2011.8 11.8 2011.8 11.8 2011.8 11.8 2011.9 11.8 2011.9 11.8 2011.9 11.8 2012.0 11.8 2012.0 11.8 2020.2 11.8 2020.3 11.8 2020.3 11.8 2020.3 11.8 2020.4 11.8 2020.4 11.8 2020.4 11.8 2020.5 11.8 2020.5 11.8 2020.5 11.8 2020.6 11.8 2020.6 11.8 2020.6 11.8 2020.7 11.8 2020.7 11.8 2020.8 11.8 2020.8 11.8 2020.8 11.8 2020.9 11.8 2020.9 11.8 2020.9 11.8 2021.0 11.8 2021.0 11.8 2021.1 11.8 2021.1 11.8 2021.2 11.8 2021.2 11.8 2021.2 11.8 2021.3 11.8 2021.3 15.5 2021.4 49.7 2021.5 82.2 2021.5 113.1 2021.6 142.6 2021.6 170.5 2021.7 197.1 2021.8 222.4 2021.8 246.4 2021.9 269.3 2022.0 291.0 2022.1 311.7 2022.1 331.4 2022.2 350.1 2022.4 367.8 2022.5 384.7 2022.6 400.8 2022.8 416.1 2023.0 430.6 2023.2 444.4 2023.4 457.6 2023.7 470.1 2024.0 482.0 2024.2 493.2 2024.5 504.0 2024.8 514.2 2025.2 523.9 2025.5 533.2 2025.9 541.9 2026.2 550.3 2026.6 558.2 2027.1 565.8 2027.6 573.0 2028.2 579.8 2028.7 586.3 2029.3 592.5 2030.0 598.3 2030.6 603.9 2031.3 609.2 2031.9 614.3 2032.6 619.1 2033.3 623.6 2033.9 628.0 2034.5 632.1 2035.2 636.0 2035.8 639.7 2036.4 643.3 2037.0 646.7 2037.7 649.9 2038.3 652.9 2038.9 655.8 2039.5 658.6 2040.1 661.2 2040.6 663.7 2041.0 666.1 2041.5 668.3 2041.9 670.5 2042.3 672.5 2042.7 674.5 2043.1 676.3 2043.5 678.1 2043.9 679.7 2044.3 681.3 2044.7 682.8 2045.1 684.2 2045.5 685.6 2045.9 686.9 2046.3 688.1 2046.7 689.3 2047.1 690.4 2047.5 691.5 2047.9 691.7 2048.3 692.1 2048.8 695.4 2049.2 695.1 2049.6 697.0 2050.1 695.8 2050.5 696.6 2051.0 698.3 2051.4 699.0 2051.9 698.8 2052.4 698.9 2052.9 700.6 2053.4 701.8 2053.9 701.8 2054.5 702.7 2055.1 702.9 2055.8 703.5 2056.5 704.1 2057.2 704.4 2057.9 703.7 2058.6 704.3 2059.3 705.3 2060.1 706.2 2060.8 706.0 2061.6 706.2 2062.4 707.2 2063.2 707.5 2064.0 707.1 2064.8 707.2 2065.6 706.0 2066.5 707.1 2067.3 708.5 2068.2 707.7 2069.1 708.4 2070.0 707.2 2070.9 708.3 2071.9 709.3 2072.8 709.5 2073.0 708.9 2073.0 709.2 2073.0 708.1 2073.0 709.7 2073.0 709.4 2073.0 709.6 2073.0 710.4 2073.0 710.8 2073.0 709.6 2073.0 711.2 2073.0 709.4 2073.0 712.4 2073.0 710.3 2073.0 710.4 2073.0 710.9 2073.0 709.7 2073.0 710.1 2073.0 710.6 2073.0 710.3 2073.0 711.5 2073.0 711.6 2073.0 711.8" fill="none"/>
<path d="M138.9 818.0L140.9 817.9 142.9 817.7 144.9 817.6 146.9 817.4 148.9 817.3 150.9 817.2 152.9 817.0 154.9 816.9 156.9 816.8 158.9 816.7 160.9 816.5 162.9 816.4 164.9 816.3 166.9 816.2 168.9 816.0 170.9 815.9 172.9 815.8 174.9 815.7 176.9 815.6 178.9 815.5 180.9 815.4 182.9 815.3 184.9 815.2 186.9 815.1 188.9 815.0 190.9 814.9 192.9 814.8 194.9 814.7 196.9 814.7 198.9 814.6 200.9 814.5 202.9 814.4 204.9 814.3 206.9 814.3 208.9 814.2 210.9 814.1 212.9 814.1 214.9 814.0 216.9 814.0 218.9 813.9 220.9 813.9 222.9 813.8 224.9 813.8 226.9 813.7 228.9 813.7 230.9 813.7 232.9 813.6 234.9 813.6 236.9 813.6 238.9 813.5 240.9 813.5 242.9 813.5 244.9 813.5 246.9 813.5 248.9 813.5 250.9 813.5 252.9 813.5 254.9 813.5 256.9 813.5 258.9 813.5 260.9 813.5 262.9 813.6 264.9 813.6 266.9 813.6 268.9 813.6 270.9 813.7 272.9 813.7 274.9 813.7 276.9 813.8 278.9 813.8 280.9 813.9 282.9 813.9 284.9 814.0 286.9 814.0 288.9 814.1 290.9 814.1 292.9 814.2 294.9 814.2 296.9 814.3 298.9 814.3 300.9 814.4 302.9 814.4 304.9 814.5 306.9 814.5 308.9 814.5 310.9 814.6 312.9 814.6 314.9 814.7 316.9 814.7 318.9 814.8 320.9 814.8 322.9 814.8 324.9 814.9 326.9 814.9 328.9 814.9 330.9 814.9 332.9 815.0 334.9 815.0 336.9 815.0 338.9 815.0 340.9 815.0 342.9 815.0 344.9 815.0 346.9 815.0 348.9 815.0 350.9 815.0 352.9 815.0 354.9 815.0 356.9 815.0 358.9 815.0 360.9 815.0 362.9 815.0 364.9 815.0 366.9 815.0 368.9 815.0 370.9 815.0 372.9 815.0 374.9 815.0 376.9 815.0 378.9 815.0 380.9 815.0 382.9 815.0 384.9 815.0 386.9 815.0 388.9 815.0 390.9 815.0 392.9 815.0 394.9 815.0 396.9 815.0 398.9 815.0 400.9 815.0 402.9 815.0 404.9 815.0 406.9 814.9 408.9 814.9 410.9 814.9 412.9 814.8 414.9 814.7 416.9 814.7 418.9 814.6 420.9 814.5 422.9 814.4 424.9 814.3 426.9 814.2 428.9 814.1 430.9 813.9 432.9 813.8 434.9 813.7 436.9 813.5 438.9 813.4 440.9 813.2 442.9 813.1 444.9 812.9 446.9 812.8 448.9 812.6 450.9 812.4 452.9 812.3 454.9 812.1 456.9 811.9 458.9 811.7 460.9 811.6 462.9 811.4 464.9 811.2 466.9 811.0 468.9 810.8 470.9 810.5 472.9 810.2 474.9 809.9 476.9 809.6 478.9 809.3 480.9 808.8 482.9 808.1 484.9 806.6 486.9 804.4 488.9 801.6 490.9 799.5 492.9 799.0 494.9 800.3 496.9 802.3 498.9 803.8 500.9 804.6 502.9 804.7 504.9 804.4 506.9 804.1 508.9 803.7 510.9 803.3 512.9 802.9 514.9 802.5 516.9 802.1 518.9 801.6 520.9 801.2 522.9 800.8 524.9 800.3 526.9 799.9 528.9 799.4 530.9 799.0 532.9 798.5 534.9 798.0 536.9 797.6 538.9 797.1 540.9 796.6 542.9 796.1 544.9 795.6 546.9 795.1 548.9 794.6 550.9 794.1 552.9 793.6 554.9 793.1 556.9 792.6 558.9 792.1 560.9 791.6 562.9 791.1 564.9 790.6 566.9 790.0 568.9 789.5 570.9 789.0 572.9 788.5 574.9 788.0 576.9 787.5 578.9 787.0 580.9 786.4 582.9 785.9 584.9 785.4 586.9 784.9 588.9 784.4 590.9 783.9 592.9 783.4 594.9 782.8 596.9 782.3 598.9 781.7 600.9 781.2 602.9 780.7 604.9 780.1 606.9 779.5 608.9 779.0 610.9 778.4 612.9 777.9 614.9 777.3 616.9 776.7 618.9 776.2 620.9 775.6 622.9 775.1 624.9 774.5 626.9 773.9 628.9 773.4 630.9 772.8 632.9 772.2 634.9 771.7 636.9 771.1 638.9 770.6 640.9 770.0 642.9 769.5 644.9 768.9 646.9 768.4 648.9 767.9 650.9 767.3 652.9 766.8 654.9 766.3 656.9 765.8 658.9 765.3 660.9 764.8 662.9 764.3 664.9 763.8 666.9 763.3 668.9 762.8 670.9 762.4 672.9 761.9 674.9 761.4 676.9 761.0 678.9 760.5 680.9 760.1 682.9 759.6 684.9 759.2 686.9 758.7 688.9 758.3 690.9 757.9 692.9 757.4 694.9 757.0 696.9 756.5 698.9 756.1 700.9 755.7 702.9 755.3 704.9 754.8 706.9 754.4 708.9 754.0 710.9 753.6 712.9 753.2 714.9 752.8 716.9 752.4 718.9 751.9 720.9 751.6 722.9 751.2 724.9 750.8 726.9 750.4 728.9 750.0 730.9 749.6 732.9 749.3 734.9 748.9 736.9 748.5 738.9 748.2 740.9 747.8 742.9 747.5 744.9 747.1 746.9 746.8 748.9 746.4 750.9 746.1 752.9 745.8 754.9 745.5 756.9 745.2 758.9 744.8 760.9 744.5 762.9 744.2 764.9 743.9 766.9 743.6 768.9 743.4 770.9 743.1 772.9 742.8 774.9 742.5 776.9 742.2 778.9 742.0 780.9 741.7 782.9 741.4 784.9 741.2 786.9 740.9 788.9 740.6 790.9 740.4 792.9 740.1 794.9 739.9 796.9 739.6 798.9 739.4 800.9 739.1 802.9 738.9 804.9 738.6 806.9 738.4 808.9 738.2 810.9 737.9 812.9 737.7 814.9 737.4 816.9 737.2 818.9 737.0 820.9 736.7 822.9 736.5 824.9 736.3 826.9 736.0 828.9 735.8 830.9 735.6 832.9 735.3 834.9 735.1 836.9 734.9 838.9 734.6 840.9 734.4 842.9 734.2 844.9 733.9 846.9 733.7 848.9 733.5 850.9 733.2 852.9 733.0 854.9 732.8 856.9 732.6 858.9 732.4 860.9 732.1 862.9 731.9 864.9 731.7 866.9 731.5 868.9 731.3 870.9 731.1 872.9 730.9 874.9 730.7 876.9 730.4 878.9 730.2 880.9 730.0 882.9 729.8 884.9 729.6 886.9 729.4 888.9 729.1 890.9 728.9 892.9 728.7 894.9 728.5 896.9 728.3 898.9 728.0 900.9 727.7 902.9 727.5 904.9 727.2 906.9 726.8 908.9 726.5 910.9 726.3 912.9 726.0 914.9 725.7 916.9 725.5 918.9 725.4 920.9 725.3 922.9 725.2 924.9 725.2 926.9 725.2 928.9 725.2 930.9 725.2 932.9 725.2 934.9 725.2 936.9 725.2 938.9 725.2 940.9 725.2 942.9 725.2 944.9 725.2 946.9 725.2 948.9 725.2 950.9 725.2 952.9 725.2 954.9 725.2 956.9 725.2 958.9 725.2 960.9 725.2 962.9 725.2 964.9 725.2 966.9 725.2 968.9 725.2 970.9 725.1 972.9 725.0 974.9 724.8 976.9 724.7 978.9 724.5 980.9 724.3 982.9 724.1 984.9 723.9 986.9 723.7 988.9 723.5 990.9 723.3 992.9 723.1 994.9 722.9 996.9 722.7 998.9 722.6 1000.9 722.5 1002.9 722.4 1004.9 722.3 1006.9 722.2 1008.9 722.2 1010.9 722.3 1012.9 722.5 1014.9 722.7 1016.9 722.9 1018.9 723.2 1020.9 723.4 1022.9 723.3 1024.9 722.6 1026.9 721.4 1028.9 720.2 1030.9 719.9 1032.9 721.0 1034.9 723.2 1036.9 725.4 1038.9 727.1 1040.9 728.1 1042.9 728.8 1044.9 729.2 1046.9 729.6 1048.9 730.0 1050.9 730.2 1052.9 730.5 1054.9 730.7 1056.9 730.9 1058.9 731.1 1060.9 731.3 1062.9 731.5 1064.9 731.7 1066.9 731.8 1068.9 732.0 1070.9 732.2 1072.9 732.3 1074.9 732.5 1076.9 732.6 1078.9 732.8 1080.9 733.0 1082.9 733.2 1084.9 733.4 1086.9 733.6 1088.9 733.8 1090.9 734.0 1092.9 734.3 1094.9 734.5 1096.9 734.8 1098.9 735.2 1100.9 735.5 1102.9 735.9 1104.9 736.3 1106.9 736.8 1108.9 737.2 1110.9 737.7 1112.9 738.1 1114.9 738.6 1116.9 739.0 1118.9 739.5 1120.9 739.9 1122.9 740.4 1124.9 740.8 1126.9 741.2 1128.9 741.6 1130.9 742.0 1132.9 742.3 1134.9 742.6 1136.9 742.9 1138.9 743.2 1140.9 743.4 1142.9 743.7 1144.9 743.9 1146.9 744.1 1148.9 744.3 1150.9 744.5 1152.9 744.7 1154.9 744.9 1156.9 745.1 1158.9 745.3 1160.9 745.5 1162.9 745.6 1164.9 745.8 1166.9 746.0 1168.9 746.2 1170.9 746.4 1172.9 746.6 1174.9 746.8 1176.9 747.1 1178.9 747.3 1180.9 747.5 1182.9 747.8 1184.9 748.1 1186.9 748.4 1188.9 748.7 1190.9 749.0 1192.9 749.3 1194.9 749.7 1196.9 750.0 1198.9 750.3 1200.9 750.7 1202.9 751.0 1204.9 751.3 1206.9 751.6 1208.9 751.9 1210.9 752.2 1212.9 752.4 1214.9 752.7 1216.9 752.9 1218.9 753.1 1220.9 753.2 1222.9 753.4 1224.9 753.5 1226.9 753.6 1228.9 753.7 1230.9 753.8 1232.9 753.9 1234.9 754.0 1236.9 754.0 1238.9 754.1 1240.9 754.2 1242.9 754.2 1244.9 754.3 1246.9 754.3 1248.9 754.4 1250.9 754.5 1252.9 754.5 1254.9 754.6 1256.9 754.7 1258.9 754.8 1260.9 754.9 1262.9 755.0 1264.9 755.1 1266.9 755.2 1268.9 755.4 1270.9 755.6 1272.9 755.9 1274.9 756.2 1276.9 756.6 1278.9 757.0 1280.9 757.5 1282.9 757.9 1284.9 758.4 1286.9 758.9 1288.9 759.4 1290.9 759.9 1292.9 760.4 1294.9 760.9 1296.9 761.3 1298.9 761.7 1300.9 762.0 1302.9 762.3 1304.9 762.6 1306.9 762.8 1308.9 763.1 1310.9 763.3 1312.9 763.5 1314.9 763.7 1316.9 763.9 1318.9 764.1 1320.9 764.3 1322.9 764.4 1324.9 764.6 1326.9 764.8 1328.9 765.0 1330.9 765.1 1332.9 765.3 1334.9 765.5 1336.9 765.6 1338.9 765.8 1340.9 766.0 1342.9 766.2 1344.9 766.3 1346.9 766.5 1348.9 766.7 1350.9 766.9 1352.9 767.1 1354.9 767.3 1356.9 767.5 1358.9 767.6 1360.9 767.8 1362.9 768.0 1364.9 768.2 1366.9 768.4 1368.9 768.6 1370.9 768.7 1372.9 768.9 1374.9 769.1 1376.9 769.3 1378.9 769.5 1380.9 769.7 1382.9 769.9 1384.9 770.1 1386.9 770.3 1388.9 770.4 1390.9 770.6 1392.9 770.8 1394.9 771.0 1396.9 771.2 1398.9 771.4 1400.9 771.6 1402.9 771.8 1404.9 772.0 1406.9 772.2 1408.9 772.4 1410.9 772.6 1412.9 772.8 1414.9 773.0 1416.9 773.2 1418.9 773.5 1420.9 773.7 1422.9 773.9 1424.9 774.1 1426.9 774.4 1428.9 774.6 1430.9 774.9 1432.9 775.1 1434.9 775.4 1436.9 775.7 1438.9 776.0 1440.9 776.3 1442.9 776.6 1444.9 776.9 1446.9 777.3 1448.9 777.6 1450.9 778.0 1452.9 778.3 1454.9 778.6 1456.9 779.0 1458.9 779.3 1460.9 779.6 1462.9 780.0 1464.9 780.3 1466.9 780.6 1468.9 780.8 1470.9 781.1 1472.9 781.4 1474.9 781.6 1476.9 781.9 1478.9 782.1 1480.9 782.3 1482.9 782.5 1484.9 782.7 1486.9 783.0 1488.9 783.2 1490.9 783.4 1492.9 783.6 1494.9 783.8 1496.9 784.0 1498.9 784.2 1500.9 784.3 1502.9 784.5 1504.9 784.7 1506.9 784.9 1508.9 785.1 1510.9 785.2 1512.9 784.9 1514.9 783.7 1516.9 779.8 1518.9 770.9 1520.9 754.8 1522.9 732.7 1524.9 710.4 1526.9 697.3 1528.9 699.4 1530.9 714.2 1532.9 735.5 1534.9 756.0 1536.9 771.3 1538.9 780.5 1540.9 785.2 1542.9 787.2 1544.9 788.2 1546.9 788.9 1548.9 790.0 1550.9 791.3 1552.9 792.7 1554.9 794.1 1556.9 795.4 1558.9 796.4 1560.9 797.1 1562.9 797.9 1564.9 798.6 1566.9 799.2 1568.9 799.9 1570.9 800.5 1572.9 801.1 1574.9 801.6 1576.9 802.2 1578.9 802.7 1580.9 803.2 1582.9 803.7 1584.9 804.2 1586.9 804.6 1588.9 805.1 1590.9 805.5 1592.9 805.9 1594.9 806.2 1596.9 806.6 1598.9 807.0 1600.9 807.3 1602.9 807.6 1604.9 807.9 1606.9 808.2 1608.9 808.5 1610.9 808.7 1612.9 809.0 1614.9 809.2 1616.9 809.5 1618.9 809.7 1620.9 809.9 1622.9 810.1 1624.9 810.3 1626.9 810.5 1628.9 810.7 1630.9 810.9 1632.9 811.1 1634.9 811.3 1636.9 811.6 1638.9 811.8 1640.9 812.0 1642.9 812.2 1644.9 812.5 1646.9 812.7 1648.9 813.0 1650.9 813.2 1652.9 813.5 1654.9 813.8 1656.9 814.1 1658.9 814.3 1660.9 814.6 1662.9 814.9 1664.9 815.2 1666.9 815.5 1668.9 815.7 1670.9 816.0 1672.9 816.3 1674.9 816.5 1676.9 816.8 1678.9 817.0 1680.9 817.3 1682.9 817.5 1684.9 817.7 1686.9 817.9 1688.9 818.1 1690.9 818.4 1692.9 818.6 1694.9 818.8 1696.9 819.0 1698.9 819.2 1700.9 819.4 1702.9 819.6 1704.9 819.8 1706.9 820.0 1708.9 820.2 1710.9 820.4 1712.9 820.5 1714.9 820.7 1716.9 820.9 1718.9 821.0 1720.9 821.2 1722.9 821.4 1724.9 821.5 1726.9 821.6 1728.9 821.8 1730.9 821.9 1732.9 822.0 1734.9 822.2 1736.9 822.3 1738.9 822.4 1740.9 822.5 1742.9 822.7 1744.9 822.8 1746.9 822.9 1748.9 823.0 1750.9 823.1 1752.9 823.2 1754.9 823.3 1756.9 823.4 1758.9 823.5 1760.9 823.6 1762.9 823.7 1764.9 823.9 1766.9 824.0 1768.9 824.1 1770.9 824.2 1772.9 824.3 1774.9 824.4 1776.9 824.5 1778.9 824.7 1780.9 824.8 1782.9 824.9 1784.9 825.1 1786.9 825.2 1788.9 825.3 1790.9 825.4 1792.9 825.6 1794.9 825.7 1796.9 825.8 1798.9 825.8 1800.9 825.9 1802.9 826.0 1804.9 826.0 1806.9 826.1 1808.9 826.1 1810.9 826.1 1812.9 826.1 1814.9 826.1 1816.9 826.1 1818.9 826.1 1820.9 826.1 1822.9 826.1 1824.9 826.1 1826.9 826.1 1828.9 826.1 1830.9 826.1 1832.9 826.1 1834.9 826.1 1836.9 826.1 1838.9 826.1 1840.9 826.1 1842.9 826.1 1844.9 826.1 1846.9 826.1 1848.9 826.1 1850.9 826.1 1852.9 826.1 1854.9 826.1 1856.9 826.1 1858.9 826.1 1860.9 826.1 1862.9 826.1 1864.9 826.1 1866.9 826.1 1868.9 826.1 1870.9 826.1 1872.9 826.1 1874.9 826.1 1876.9 826.1 1878.9 826.1 1880.9 826.1 1882.9 826.1 1884.9 826.1 1886.9 826.1 1888.9 826.1 1890.9 826.1 1892.9 826.1 1894.9 826.1 1896.9 826.1 1898.9 826.1 1900.9 826.1 1902.9 826.0 1904.9 826.0 1906.9 825.9 1908.9 825.9 1910.9 825.8 1912.9 825.7 1914.9 825.6 1916.9 825.5 1918.9 825.4 1920.9 825.3 1922.9 825.2 1924.9 825.1 1926.9 825.0 1928.9 824.9 1930.9 824.8 1932.9 824.8 1934.9 824.7 1936.9 824.6 1938.9 824.5 1940.9 824.5 1942.9 824.4 1944.9 824.3 1946.9 824.2 1948.9 824.1 1950.9 824.1 1952.9 824.0 1954.9 823.9 1956.9 823.8 1958.9 823.8 1960.9 823.7 1962.9 824.4 1963.8 824.3 1964.7 824.3 1965.6 824.2 1966.5 824.1 1967.4 824.0 1968.2 824.0 1969.1 823.9 1969.9 823.8 1970.7 823.7 1971.5 823.6 1972.3 823.5 1973.0 823.5 1973.8 823.4 1974.5 823.3 1975.3 823.2 1976.0 823.0 1976.7 822.9 1977.4 822.8 1977.8 822.7 1978.3 822.5 1978.7 822.4 1979.1 822.3 1979.5 822.1 1979.9 821.9 1980.3 821.8 1980.7 821.6 1981.1 821.4 1981.5 821.2 1981.9 821.0 1982.3 820.8 1982.7 820.5 1983.1 820.3 1983.4 820.0 1983.8 819.7 1984.2 819.5 1984.5 819.2 1984.9 818.8 1985.2 818.5 1985.6 818.2 1985.9 817.8 1986.2 817.4 1986.6 817.0 1986.9 816.6 1987.2 816.1 1987.5 815.6 1987.9 815.1 1988.2 814.6 1988.5 814.1 1988.8 813.5 1989.2 812.9 1989.7 812.2 1990.1 811.6 1990.6 810.9 1991.0 810.1 1991.5 809.3 1991.9 808.5 1992.3 807.6 1992.7 806.7 1993.1 805.8 1993.5 805.5 1993.9 804.4 1994.3 803.3 1994.7 802.1 1995.0 800.9 1995.4 799.6 1995.8 798.2 1996.1 796.8 1996.5 795.3 1996.8 793.7 1997.2 792.1 1997.5 790.3 1997.8 788.5 1998.2 786.5 1998.5 784.5 1998.8 782.3 1999.1 780.1 1999.4 777.7 1999.7 775.2 2000.0 772.6 2000.3 769.8 2000.6 766.9 2000.9 763.9 2001.2 760.7 2001.5 757.3 2001.8 753.7 2002.2 750.0 2002.6 746.1 2002.9 742.0 2003.3 737.6 2003.5 733.1 2003.7 728.3 2003.9 723.2 2004.1 717.9 2004.3 712.3 2004.4 706.5 2004.6 700.3 2004.8 693.8 2005.0 687.0 2005.1 679.8 2005.3 672.2 2005.4 664.3 2005.5 655.9 2005.6 647.2 2005.7 637.9 2005.8 628.2 2005.9 618.0 2006.1 607.2 2006.2 596.0 2006.3 584.1 2006.3 571.6 2006.4 558.4 2006.5 544.6 2006.6 530.1 2006.7 514.8 2006.8 498.7 2006.8 481.8 2006.9 464.1 2007.0 445.4 2007.0 425.7 2007.1 405.0 2007.2 383.3 2007.2 360.4 2007.3 336.4 2007.3 311.1 2007.4 284.5 2007.4 256.6 2007.5 227.1 2007.5 196.2 2007.6 163.7 2007.6 129.5 2007.7 93.5 2007.7 55.7 2007.7 15.9 2007.8 11.8 2007.8 11.8 2007.9 11.8 2007.9 11.8 2007.9 11.8 2008.0 11.8 2008.1 11.8 2008.1 11.8 2008.2 11.8 2008.2 11.8 2008.3 11.8 2008.4 11.8 2008.4 11.8 2008.5 11.8 2008.5 11.8 2008.6 11.8 2008.6 11.8 2008.7 11.8 2008.7 11.8 2008.8 11.8 2008.8 11.8 2008.9 11.8 2008.9 11.8 2009.0 11.8 2009.0 11.8 2009.1 11.8 2022.3 11.8 2022.4 11.8 2022.4 11.8 2022.5 11.8 2022.5 11.8 2022.6 11.8 2022.6 11.8 2022.7 11.8 2022.7 11.8 2022.8 11.8 2022.8 11.8 2022.9 11.8 2022.9 11.8 2023.0 11.8 2023.0 11.8 2023.1 11.8 2023.2 11.8 2023.2 11.8 2023.3 11.8 2023.3 11.8 2023.4 11.8 2023.5 11.8 2023.5 11.8 2023.6 11.8 2023.7 11.8 2023.7 11.8 2023.8 15.9 2023.9 55.7 2024.0 93.5 2024.1 129.5 2024.1 163.7 2024.2 196.2 2024.3 227.1 2024.4 256.6 2024.5 284.5 2024.6 311.1 2024.7 336.4 2024.9 360.4 2025.0 383.3 2025.1 405.0 2025.2 425.7 2025.3 445.4 2025.5 464.1 2025.6 481.8 2025.7 498.7 2025.9 514.8 2026.0 530.1 2026.2 544.6 2026.4 558.4 2026.7 571.6 2026.9 584.1 2027.1 596.0 2027.3 607.2 2027.6 618.0 2027.8 628.2 2028.1 637.9 2028.4 647.2 2028.6 655.9 2028.9 664.3 2029.2 672.2 2029.6 679.8 2030.0 687.0 2030.5 693.8 2031.0 700.3 2031.5 706.5 2032.0 712.3 2032.6 717.9 2033.1 723.2 2033.7 728.3 2034.3 733.1 2034.8 737.6 2035.3 742.0 2035.8 746.1 2036.3 750.0 2036.8 753.7 2037.3 757.3 2037.8 760.7 2038.3 763.9 2038.8 766.9 2039.3 769.8 2039.8 772.6 2040.3 775.2 2040.7 777.7 2041.2 780.1 2041.6 782.3 2042.0 784.5 2042.4 786.5 2042.8 788.5 2043.2 790.3 2043.6 792.1 2044.0 793.7 2044.4 795.3 2044.8 796.8 2045.2 798.2 2045.6 799.6 2046.0 800.9 2046.4 802.1 2046.8 803.3 2047.2 804.4 2047.6 805.5 2048.1 805.8 2048.5 806.7 2048.9 807.6 2049.4 808.5 2049.8 809.3 2050.3 810.1 2050.8 810.9 2051.2 811.6 2051.7 812.2 2052.2 812.9 2052.7 813.5 2053.2 814.1 2053.7 814.6 2054.2 815.1 2054.8 815.6 2055.5 816.1 2056.1 816.6 2056.8 817.0 2057.5 817.4 2058.3 817.8 2059.0 818.2 2059.7 818.5 2060.5 818.8 2061.3 819.2 2062.0 819.5 2062.8 819.7 2063.6 820.0 2064.5 820.3 2065.3 820.5 2066.2 820.8 2067.0 821.0 2067.9 821.2 2068.8 821.4 2069.7 821.6 2070.6 821.8 2071.6 821.9 2072.5 822.1 2073.5 822.3 2073.7 822.4 2073.7 822.5 2073.7 822.7 2073.7 822.8 2073.7 822.9 2073.7 823.0 2073.7 823.2 2073.7 823.3 2073.7 823.4 2073.7 823.5 2073.7 823.5 2073.7 823.6 2073.7 823.7 2073.7 823.8 2073.7 823.9 2073.7 823.9 2073.7 824.0 2073.7 824.1 2073.7 824.1 2073.7 824.2 2073.7 824.2 2073.7 824.3 2073.7 825.7 2073.7 825.7 2073.7 825.6 2073.7 825.6 2073.7 825.5 2073.7 825.4 2073.7 825.4 2073.7 825.3 2073.7 825.2 2073.7 825.1 2073.7 825.1 2073.7 825.0 2073.7 824.9 2073.7 824.8 2073.7 824.7 2073.7 824.6 2073.7 824.5 2073.7 824.4 2073.7 824.2 2073.7 824.1 2073.7 824.0 2073.7 823.8 2073.5 823.7 2072.5 823.5 2071.6 823.4 2070.6 823.2 2069.7 823.0 2068.8 822.8 2067.9 822.6 2067.0 822.4 2066.2 822.2 2065.3 822.0 2064.5 821.7 2063.6 821.5 2062.8 821.2 2062.0 820.9 2061.3 820.6 2060.5 820.3 2059.7 819.9 2059.0 819.6 2058.3 819.2 2057.5 818.8 2056.8 818.4 2056.1 818.0 2055.5 817.6 2054.8 817.1 2054.2 816.6 2053.7 816.1 2053.2 815.5 2052.7 814.9 2052.2 814.3 2051.7 813.7 2051.2 813.0 2050.8 812.3 2050.3 811.6 2049.8 810.8 2049.4 809.9 2048.9 809.1 2048.5 808.2 2048.1 807.2 2047.6 805.5 2047.2 804.4 2046.8 803.3 2046.4 802.1 2046.0 800.9 2045.6 799.6 2045.2 798.2 2044.8 796.8 2044.4 795.3 2044.0 793.7 2043.6 792.1 2043.2 790.3 2042.8 788.5 2042.4 786.5 2042.0 784.5 2041.6 782.3 2041.2 780.1 2040.7 777.7 2040.3 775.2 2039.8 772.6 2039.3 769.8 2038.8 766.9 2038.3 763.9 2037.8 760.7 2037.3 757.3 2036.8 753.7 2036.3 750.0 2035.8 746.1 2035.3 742.0 2034.8 737.6 2034.3 733.1 2033.7 728.3 2033.1 723.2 2032.6 717.9 2032.0 712.3 2031.5 706.5 2031.0 700.3 2030.5 693.8 2030.0 687.0 2029.6 679.8 2029.2 672.2 2028.9 664.3 2028.6 655.9 2028.4 647.2 2028.1 637.9 2027.8 628.2 2027.6 618.0 2027.3 607.2 2027.1 596.0 2026.9 584.1 2026.7 571.6 2026.4 558.4 2026.2 544.6 2026.0 530.1 2025.9 514.8 2025.7 498.7 2025.6 481.8 2025.5 464.1 2025.3 445.4 2025.2 425.7 2025.1 405.0 2025.0 383.3 2024.9 360.4 2024.7 336.4 2024.6 311.1 2024.5 284.5 2024.4 256.6 2024.3 227.1 2024.2 196.2 2024.1 163.7 2024.1 129.5 2024.0 93.5 2023.9 55.7 2023.8 15.9 2023.7 11.8 2023.7 11.8 2023.6 11.8 2023.5 11.8 2023.5 11.8 2023.4 11.8 2023.3 11.8 2023.3 11.8 2023.2 11.8 2023.2 11.8 2023.1 11.8 2023.0 11.8 2023.0 11.8 2022.9 11.8 2022.9 11.8 2022.8 11.8 2022.8 11.8 2022.7 11.8 2022.7 11.8 2022.6 11.8 2022.6 11.8 2022.5 11.8 2022.5 11.8 2022.4 11.8 2022.4 11.8 2022.3 11.8 2009.1 11.8 2009.0 11.8 2009.0 11.8 2008.9 11.8 2008.9 11.8 2008.8 11.8 2008.8 11.8 2008.7 11.8 2008.7 11.8 2008.6 11.8 2008.6 11.8 2008.5 11.8 2008.5 11.8 2008.4 11.8 2008.4 11.8 2008.3 11.8 2008.2 11.8 2008.2 11.8 2008.1 11.8 2008.1 11.8 2008.0 11.8 2007.9 11.8 2007.9 11.8 2007.9 11.8 2007.8 11.8 2007.8 11.8 2007.7 15.9 2007.7 55.7 2007.7 93.5 2007.6 129.5 2007.6 163.7 2007.5 196.2 2007.5 227.1 2007.4 256.6 2007.4 284.5 2007.3 311.1 2007.3 336.4 2007.2 360.4 2007.2 383.3 2007.1 405.0 2007.0 425.7 2007.0 445.4 2006.9 464.1 2006.8 481.8 2006.8 498.7 2006.7 514.8 2006.6 530.1 2006.5 544.6 2006.4 558.4 2006.3 571.6 2006.3 584.1 2006.2 596.0 2006.1 607.2 2005.9 618.0 2005.8 628.2 2005.7 637.9 2005.6 647.2 2005.5 655.9 2005.4 664.3 2005.3 672.2 2005.1 679.8 2005.0 687.0 2004.8 693.8 2004.6 700.3 2004.4 706.5 2004.3 712.3 2004.1 717.9 2003.9 723.2 2003.7 728.3 2003.5 733.1 2003.3 737.6 2002.9 742.0 2002.6 746.1 2002.2 750.0 2001.8 753.7 2001.5 757.3 2001.2 760.7 2000.9 763.9 2000.6 766.9 2000.3 769.8 2000.0 772.6 1999.7 775.2 1999.4 777.7 1999.1 780.1 1998.8 782.3 1998.5 784.5 1998.2 786.5 1997.8 788.5 1997.5 790.3 1997.2 792.1 1996.8 793.7 1996.5 795.3 1996.1 796.8 1995.8 798.2 1995.4 799.6 1995.0 800.9 1994.7 802.1 1994.3 803.3 1993.9 804.4 1993.5 805.5 1993.1 807.2 1992.7 808.2 1992.3 809.1 1991.9 809.9 1991.5 810.8 1991.0 811.6 1990.6 812.3 1990.1 813.0 1989.7 813.7 1989.2 814.3 1988.8 814.9 1988.5 815.5 1988.2 816.1 1987.9 816.6 1987.5 817.1 1987.2 817.6 1986.9 818.0 1986.6 818.4 1986.2 818.8 1985.9 819.2 1985.6 819.6 1985.2 819.9 1984.9 820.3 1984.5 820.6 1984.2 820.9 1983.8 821.2 1983.4 821.5 1983.1 821.7 1982.7 822.0 1982.3 822.2 1981.9 822.4 1981.5 822.6 1981.1 822.8 1980.7 823.0 1980.3 823.2 1979.9 823.4 1979.5 823.5 1979.1 823.7 1978.7 823.8 1978.3 824.0 1977.8 824.1 1977.4 824.2 1976.7 824.4 1976.0 824.5 1975.3 824.6 1974.5 824.7 1973.8 824.8 1973.0 824.9 1972.3 825.0 1971.5 825.1 1970.7 825.2 1969.9 825.2 1969.1 825.3 1968.2 825.4 1967.4 825.5 1966.5 825.6 1965.6 825.6 1964.7 825.7 1963.8 825.8 1962.9 825.9 1960.9 828.7 1958.9 828.7 1956.9 828.8 1954.9 828.9 1952.9 829.0 1950.9 829.0 1948.9 829.1 1946.9 829.2 1944.9 829.3 1942.9 829.3 1940.9 829.4 1938.9 829.5 1936.9 829.6 1934.9 829.6 1932.9 829.7 1930.9 829.8 1928.9 829.9 1926.9 830.0 1924.9 830.1 1922.9 830.2 1920.9 830.3 1918.9 830.4 1916.9 830.5 1914.9 830.6 1912.9 830.7 1910.9 830.7 1908.9 830.8 1906.9 830.9 1904.9 830.9 1902.9 831.0 1900.9 831.0 1898.9 831.1 1896.9 831.1 1894.9 831.1 1892.9 831.1 1890.9 831.1 1888.9 831.1 1886.9 831.1 1884.9 831.1 1882.9 831.1 1880.9 831.1 1878.9 831.1 1876.9 831.1 1874.9 831.1 1872.9 831.1 1870.9 831.1 1868.9 831.1 1866.9 831.1 1864.9 831.1 1862.9 831.1 1860.9 831.1 1858.9 831.1 1856.9 831.1 1854.9 831.1 1852.9 831.1 1850.9 831.1 1848.9 831.1 1846.9 831.1 1844.9 831.1 1842.9 831.1 1840.9 831.1 1838.9 831.1 1836.9 831.1 1834.9 831.1 1832.9 831.1 1830.9 831.1 1828.9 831.1 1826.9 831.1 1824.9 831.1 1822.9 831.1 1820.9 831.1 1818.9 831.1 1816.9 831.1 1814.9 831.1 1812.9 831.1 1810.9 831.1 1808.9 831.1 1806.9 831.0 1804.9 831.0 1802.9 830.9 1800.9 830.9 1798.9 830.8 1796.9 830.7 1794.9 830.6 1792.9 830.5 1790.9 830.4 1788.9 830.3 1786.9 830.2 1784.9 830.0 1782.9 829.9 1780.9 829.8 1778.9 829.6 1776.9 829.5 1774.9 829.4 1772.9 829.3 1770.9 829.1 1768.9 829.0 1766.9 828.9 1764.9 828.8 1762.9 828.7 1760.9 828.6 1758.9 828.5 1756.9 828.4 1754.9 828.3 1752.9 828.2 1750.9 828.1 1748.9 828.0 1746.9 827.9 1744.9 827.8 1742.9 827.6 1740.9 827.5 1738.9 827.4 1736.9 827.3 1734.9 827.2 1732.9 827.0 1730.9 826.9 1728.9 826.8 1726.9 826.6 1724.9 826.5 1722.9 826.3 1720.9 826.2 1718.9 826.0 1716.9 825.9 1714.9 825.7 1712.9 825.5 1710.9 825.3 1708.9 825.2 1706.9 825.0 1704.9 824.8 1702.9 824.6 1700.9 824.4 1698.9 824.2 1696.9 824.0 1694.9 823.8 1692.9 823.6 1690.9 823.4 1688.9 823.1 1686.9 822.9 1684.9 822.7 1682.9 822.5 1680.9 822.3 1678.9 822.0 1676.9 821.8 1674.9 821.5 1672.9 821.3 1670.9 821.0 1668.9 820.7 1666.9 820.5 1664.9 820.2 1662.9 819.9 1660.9 819.6 1658.9 819.4 1656.9 819.1 1654.9 818.8 1652.9 818.5 1650.9 818.3 1648.9 818.0 1646.9 817.8 1644.9 817.5 1642.9 817.3 1640.9 817.0 1638.9 816.8 1636.9 816.6 1634.9 816.4 1632.9 816.2 1630.9 816.0 1628.9 815.8 1626.9 815.6 1624.9 815.4 1622.9 815.2 1620.9 815.0 1618.9 814.7 1616.9 814.5 1614.9 814.3 1612.9 814.0 1610.9 813.8 1608.9 813.5 1606.9 813.3 1604.9 813.0 1602.9 812.7 1600.9 812.4 1598.9 812.0 1596.9 811.7 1594.9 811.3 1592.9 810.9 1590.9 810.5 1588.9 810.1 1586.9 809.7 1584.9 809.3 1582.9 808.8 1580.9 808.3 1578.9 807.8 1576.9 807.3 1574.9 806.7 1572.9 806.2 1570.9 805.6 1568.9 805.0 1566.9 804.3 1564.9 803.7 1562.9 803.0 1560.9 802.3 1558.9 801.5 1556.9 800.6 1554.9 799.3 1552.9 797.9 1550.9 796.4 1548.9 795.1 1546.9 794.1 1544.9 793.3 1542.9 792.4 1540.9 790.4 1538.9 785.7 1536.9 776.6 1534.9 761.4 1532.9 740.9 1530.9 719.8 1528.9 705.0 1526.9 702.9 1524.9 716.0 1522.9 738.2 1520.9 760.2 1518.9 776.1 1516.9 785.0 1514.9 788.9 1512.9 790.1 1510.9 790.4 1508.9 790.3 1506.9 790.1 1504.9 789.9 1502.9 789.7 1500.9 789.5 1498.9 789.4 1496.9 789.2 1494.9 789.0 1492.9 788.8 1490.9 788.6 1488.9 788.4 1486.9 788.2 1484.9 788.0 1482.9 787.7 1480.9 787.5 1478.9 787.3 1476.9 787.1 1474.9 786.8 1472.9 786.6 1470.9 786.3 1468.9 786.1 1466.9 785.8 1464.9 785.5 1462.9 785.2 1460.9 784.9 1458.9 784.5 1456.9 784.2 1454.9 783.9 1452.9 783.5 1450.9 783.2 1448.9 782.9 1446.9 782.5 1444.9 782.2 1442.9 781.9 1440.9 781.5 1438.9 781.2 1436.9 780.9 1434.9 780.6 1432.9 780.4 1430.9 780.1 1428.9 779.9 1426.9 779.6 1424.9 779.4 1422.9 779.2 1420.9 778.9 1418.9 778.7 1416.9 778.5 1414.9 778.3 1412.9 778.1 1410.9 777.9 1408.9 777.7 1406.9 777.5 1404.9 777.3 1402.9 777.1 1400.9 776.9 1398.9 776.7 1396.9 776.5 1394.9 776.3 1392.9 776.1 1390.9 775.9 1388.9 775.7 1386.9 775.5 1384.9 775.3 1382.9 775.1 1380.9 775.0 1378.9 774.8 1376.9 774.6 1374.9 774.4 1372.9 774.2 1370.9 774.0 1368.9 773.8 1366.9 773.7 1364.9 773.5 1362.9 773.3 1360.9 773.1 1358.9 772.9 1356.9 772.7 1354.9 772.6 1352.9 772.4 1350.9 772.2 1348.9 772.0 1346.9 771.8 1344.9 771.6 1342.9 771.5 1340.9 771.3 1338.9 771.1 1336.9 770.9 1334.9 770.8 1332.9 770.6 1330.9 770.4 1328.9 770.3 1326.9 770.1 1324.9 769.9 1322.9 769.8 1320.9 769.6 1318.9 769.4 1316.9 769.2 1314.9 769.0 1312.9 768.8 1310.9 768.6 1308.9 768.4 1306.9 768.1 1304.9 767.9 1302.9 767.6 1300.9 767.4 1298.9 767.0 1296.9 766.6 1294.9 766.2 1292.9 765.7 1290.9 765.3 1288.9 764.8 1286.9 764.3 1284.9 763.8 1282.9 763.3 1280.9 762.8 1278.9 762.4 1276.9 761.9 1274.9 761.6 1272.9 761.2 1270.9 761.0 1268.9 760.8 1266.9 760.6 1264.9 760.5 1262.9 760.4 1260.9 760.2 1258.9 760.1 1256.9 760.1 1254.9 760.0 1252.9 759.9 1250.9 759.8 1248.9 759.8 1246.9 759.7 1244.9 759.6 1242.9 759.6 1240.9 759.5 1238.9 759.5 1236.9 759.4 1234.9 759.3 1232.9 759.2 1230.9 759.2 1228.9 759.1 1226.9 759.0 1224.9 758.9 1222.9 758.7 1220.9 758.6 1218.9 758.4 1216.9 758.3 1214.9 758.0 1212.9 757.8 1210.9 757.5 1208.9 757.3 1206.9 757.0 1204.9 756.7 1202.9 756.4 1200.9 756.0 1198.9 755.7 1196.9 755.4 1194.9 755.1 1192.9 754.7 1190.9 754.4 1188.9 754.1 1186.9 753.8 1184.9 753.5 1182.9 753.2 1180.9 752.9 1178.9 752.7 1176.9 752.5 1174.9 752.2 1172.9 752.0 1170.9 751.8 1168.9 751.6 1166.9 751.4 1164.9 751.2 1162.9 751.0 1160.9 750.9 1158.9 750.7 1156.9 750.5 1154.9 750.3 1152.9 750.1 1150.9 749.9 1148.9 749.7 1146.9 749.5 1144.9 749.3 1142.9 749.1 1140.9 748.8 1138.9 748.6 1136.9 748.3 1134.9 748.1 1132.9 747.8 1130.9 747.4 1128.9 747.0 1126.9 746.7 1124.9 746.2 1122.9 745.8 1120.9 745.4 1118.9 744.9 1116.9 744.5 1114.9 744.0 1112.9 743.6 1110.9 743.1 1108.9 742.7 1106.9 742.2 1104.9 741.8 1102.9 741.4 1100.9 741.0 1098.9 740.6 1096.9 740.3 1094.9 740.0 1092.9 739.7 1090.9 739.5 1088.9 739.2 1086.9 739.0 1084.9 738.8 1082.9 738.6 1080.9 738.5 1078.9 738.3 1076.9 738.1 1074.9 738.0 1072.9 737.8 1070.9 737.6 1068.9 737.5 1066.9 737.3 1064.9 737.2 1062.9 737.0 1060.9 736.8 1058.9 736.6 1056.9 736.4 1054.9 736.2 1052.9 736.0 1050.9 735.7 1048.9 735.5 1046.9 735.1 1044.9 734.7 1042.9 734.3 1040.9 733.6 1038.9 732.6 1036.9 730.9 1034.9 728.7 1032.9 726.6 1030.9 725.4 1028.9 725.7 1026.9 726.9 1024.9 728.1 1022.9 728.8 1020.9 728.9 1018.9 728.7 1016.9 728.5 1014.9 728.2 1012.9 728.0 1010.9 727.8 1008.9 727.8 1006.9 727.8 1004.9 727.8 1002.9 727.9 1000.9 728.0 998.9 728.1 996.9 728.3 994.9 728.4 992.9 728.6 990.9 728.8 988.9 729.0 986.9 729.2 984.9 729.4 982.9 729.6 980.9 729.8 978.9 730.0 976.9 730.2 974.9 730.4 972.9 730.5 970.9 730.6 968.9 730.7 966.9 730.7 964.9 730.8 962.9 730.8 960.9 730.8 958.9 730.8 956.9 730.8 954.9 730.8 952.9 730.8 950.9 730.8 948.9 730.8 946.9 730.8 944.9 730.8 942.9 730.8 940.9 730.8 938.9 730.8 936.9 730.8 934.9 730.8 932.9 730.8 930.9 730.8 928.9 730.8 926.9 730.8 924.9 730.8 922.9 730.8 920.9 730.8 918.9 730.9 916.9 731.1 914.9 731.3 912.9 731.5 910.9 731.8 908.9 732.1 906.9 732.4 904.9 732.7 902.9 733.0 900.9 733.3 898.9 733.5 896.9 733.8 894.9 734.0 892.9 734.2 890.9 734.4 888.9 734.6 886.9 734.9 884.9 735.1 882.9 735.3 880.9 735.5 878.9 735.7 876.9 735.9 874.9 736.1 872.9 736.4 870.9 736.6 868.9 736.8 866.9 737.0 864.9 737.2 862.9 737.4 860.9 737.6 858.9 737.8 856.9 738.1 854.9 738.3 852.9 738.5 850.9 738.7 848.9 738.9 846.9 739.2 844.9 739.4 842.9 739.6 840.9 739.9 838.9 740.1 836.9 740.3 834.9 740.6 832.9 740.8 830.9 741.0 828.9 741.3 826.9 741.5 824.9 741.7 822.9 742.0 820.9 742.2 818.9 742.4 816.9 742.7 814.9 742.9 812.9 743.1 810.9 743.4 808.9 743.6 806.9 743.8 804.9 744.1 802.9 744.3 800.9 744.6 798.9 744.8 796.9 745.1 794.9 745.3 792.9 745.6 790.9 745.8 788.9 746.1 786.9 746.3 784.9 746.6 782.9 746.9 780.9 747.1 778.9 747.4 776.9 747.7 774.9 747.9 772.9 748.2 770.9 748.5 768.9 748.8 766.9 749.1 764.9 749.4 762.9 749.7 760.9 750.0 758.9 750.3 756.9 750.6 754.9 750.9 752.9 751.2 750.9 751.5 748.9 751.8 746.9 752.2 744.9 752.5 742.9 752.9 740.9 753.2 738.9 753.6 736.9 753.9 734.9 754.3 732.9 754.6 730.9 755.0 728.9 755.4 726.9 755.8 724.9 756.2 722.9 756.5 720.9 756.9 718.9 757.3 716.9 757.7 714.9 758.1 712.9 758.5 710.9 758.9 708.9 759.4 706.9 759.8 704.9 760.2 702.9 760.6 700.9 761.0 698.9 761.5 696.9 761.9 694.9 762.3 692.9 762.8 690.9 763.2 688.9 763.6 686.9 764.1 684.9 764.5 682.9 765.0 680.9 765.4 678.9 765.9 676.9 766.3 674.9 766.8 672.9 767.2 670.9 767.7 668.9 768.1 666.9 768.6 664.9 769.1 662.9 769.6 660.9 770.1 658.9 770.6 656.9 771.1 654.9 771.6 652.9 772.1 650.9 772.6 648.9 773.1 646.9 773.7 644.9 774.2 642.9 774.8 640.9 775.3 638.9 775.8 636.9 776.4 634.9 777.0 632.9 777.5 630.9 778.1 628.9 778.6 626.9 779.2 624.9 779.7 622.9 780.3 620.9 780.9 618.9 781.4 616.9 782.0 614.9 782.6 612.9 783.1 610.9 783.7 608.9 784.2 606.9 784.8 604.9 785.3 602.9 785.9 600.9 786.4 598.9 787.0 596.9 787.5 594.9 788.0 592.9 788.6 590.9 789.1 588.9 789.6 586.9 790.1 584.9 790.6 582.9 791.1 580.9 791.6 578.9 792.1 576.9 792.7 574.9 793.2 572.9 793.7 570.9 794.2 568.9 794.7 566.9 795.2 564.9 795.7 562.9 796.2 560.9 796.7 558.9 797.3 556.9 797.8 554.9 798.3 552.9 798.8 550.9 799.3 548.9 799.8 546.9 800.3 544.9 800.8 542.9 801.3 540.9 801.7 538.9 802.2 536.9 802.7 534.9 803.2 532.9 803.6 530.9 804.1 528.9 804.6 526.9 805.0 524.9 805.4 522.9 805.9 520.9 806.3 518.9 806.7 516.9 807.2 514.9 807.6 512.9 808.0 510.9 808.4 508.9 808.8 506.9 809.1 504.9 809.5 502.9 809.7 500.9 809.7 498.9 808.9 496.9 807.4 494.9 805.4 492.9 804.1 490.9 804.6 488.9 806.7 486.9 809.5 484.9 811.7 482.9 813.1 480.9 813.9 478.9 814.3 476.9 814.7 474.9 815.0 472.9 815.3 470.9 815.5 468.9 815.8 466.9 816.0 464.9 816.2 462.9 816.4 460.9 816.6 458.9 816.8 456.9 817.0 454.9 817.1 452.9 817.3 450.9 817.5 448.9 817.6 446.9 817.8 444.9 818.0 442.9 818.1 440.9 818.3 438.9 818.4 436.9 818.6 434.9 818.7 432.9 818.8 430.9 819.0 428.9 819.1 426.9 819.2 424.9 819.3 422.9 819.4 420.9 819.5 418.9 819.6 416.9 819.7 414.9 819.8 412.9 819.8 410.9 819.9 408.9 819.9 406.9 820.0 404.9 820.0 402.9 820.0 400.9 820.0 398.9 820.0 396.9 820.0 394.9 820.0 392.9 820.0 390.9 820.0 388.9 820.0 386.9 820.0 384.9 820.0 382.9 820.0 380.9 820.0 378.9 820.0 376.9 820.0 374.9 820.0 372.9 820.0 370.9 820.0 368.9 820.0 366.9 820.0 364.9 820.0 362.9 820.0 360.9 820.0 358.9 820.0 356.9 820.0 354.9 820.0 352.9 820.0 350.9 820.0 348.9 820.0 346.9 820.0 344.9 820.0 342.9 820.0 340.9 820.0 338.9 820.0 336.9 820.0 334.9 820.0 332.9 820.0 330.9 820.0 328.9 819.9 326.9 819.9 324.9 819.9 322.9 819.9 320.9 819.8 318.9 819.8 316.9 819.7 314.9 819.7 312.9 819.7 310.9 819.6 308.9 819.6 306.9 819.5 304.9 819.5 302.9 819.4 300.9 819.4 298.9 819.3 296.9 819.3 294.9 819.2 292.9 819.2 290.9 819.1 288.9 819.1 286.9 819.0 284.9 819.0 282.9 818.9 280.9 818.9 278.9 818.9 276.9 818.8 274.9 818.8 272.9 818.7 270.9 818.7 268.9 818.7 266.9 818.6 264.9 818.6 262.9 818.6 260.9 818.6 258.9 818.5 256.9 818.5 254.9 818.5 252.9 818.5 250.9 818.5 248.9 818.5 246.9 818.5 244.9 818.5 242.9 818.5 240.9 818.6 238.9 818.6 236.9 818.6 234.9 818.6 232.9 818.7 230.9 818.7 228.9 818.7 226.9 818.8 224.9 818.8 222.9 818.8 220.9 818.9 218.9 818.9 216.9 819.0 214.9 819.1 212.9 819.1 210.9 819.2 208.9 819.2 206.9 819.3 204.9 819.4 202.9 819.4 200.9 819.5 198.9 819.6 196.9 819.7 194.9 819.8 192.9 819.8 190.9 819.9 188.9 820.0 186.9 820.1 184.9 820.2 182.9 820.3 180.9 820.4 178.9 820.5 176.9 820.6 174.9 820.7 172.9 820.8 170.9 821.0 168.9 821.1 166.9 821.2 164.9 821.3 162.9 821.4 160.9 821.5 158.9 821.7 156.9 821.8 154.9 821.9 152.9 822.1 150.9 822.2 148.9 822.3 146.9 822.5 144.9 822.6 142.9 822.7 140.9 822.9 138.9 823.0Z" fill="#111" stroke="none"/>
<path d="M138.9 821.2L140.9 823.0 142.9 818.1 144.9 820.7 146.9 820.1 148.9 823.8 150.9 820.0 152.9 819.9 154.9 816.2 156.9 819.3 158.9 817.6 160.9 818.8 162.9 814.0 164.9 817.5 166.9 815.4 168.9 815.3 170.9 822.1 172.9 816.8 174.9 820.2 176.9 815.5 178.9 819.9 180.9 816.3 182.9 820.8 184.9 815.2 186.9 817.7 188.9 816.7 190.9 816.4 192.9 814.8 194.9 821.8 196.9 812.6 198.9 812.7 200.9 816.1 202.9 823.9 204.9 817.0 206.9 812.8 208.9 813.8 210.9 820.1 212.9 819.1 214.9 814.4 216.9 816.4 218.9 817.5 220.9 817.0 222.9 813.7 224.9 814.4 226.9 813.1 228.9 819.5 230.9 814.5 232.9 819.3 234.9 820.9 236.9 813.7 238.9 816.7 240.9 818.3 242.9 820.5 244.9 813.5 246.9 818.7 248.9 816.0 250.9 815.0 252.9 814.5 254.9 816.6 256.9 815.0 258.9 817.9 260.9 817.1 262.9 817.3 264.9 817.1 266.9 813.2 268.9 817.9 270.9 820.5 272.9 814.3 274.9 814.5 276.9 816.8 278.9 816.2 280.9 816.9 282.9 815.0 284.9 818.7 286.9 815.7 288.9 816.6 290.9 815.5 292.9 814.7 294.9 817.7 296.9 815.6 298.9 813.3 300.9 815.4 302.9 813.9 304.9 818.2 306.9 811.8 308.9 820.4 310.9 820.7 312.9 814.4 314.9 814.0 316.9 820.1 318.9 818.2 320.9 818.9 322.9 817.3 324.9 814.3 326.9 818.4 328.9 820.4 330.9 818.1 332.9 816.0 334.9 818.5 336.9 813.2 338.9 811.9 340.9 820.1 342.9 817.1 344.9 815.8 346.9 813.0 348.9 821.3 350.9 814.1 352.9 816.6 354.9 818.1 356.9 815.9 358.9 817.4 360.9 815.9 362.9 819.0 364.9 820.4 366.9 820.7 368.9 814.3 370.9 821.2 372.9 816.2 374.9 814.8 376.9 815.1 378.9 817.7 380.9 817.0 382.9 820.3 384.9 816.4 386.9 815.9 388.9 814.5 390.9 819.7 392.9 818.0 394.9 819.6 396.9 816.5 398.9 814.0 400.9 819.6 402.9 819.2 404.9 816.2 406.9 815.8 408.9 818.9 410.9 817.1 412.9 817.1 414.9 817.1 416.9 818.2 418.9 823.7 420.9 810.5 422.9 814.8 424.9 812.6 426.9 810.4 428.9 814.2 430.9 816.7 432.9 819.7 434.9 817.2 436.9 816.0 438.9 816.8 440.9 816.1 442.9 815.1 444.9 810.7 446.9 817.4 448.9 815.6 450.9 812.7 452.9 811.6 454.9 811.5 456.9 818.3 458.9 809.5 460.9 812.9 462.9 808.0 464.9 812.5 466.9 812.2 468.9 812.6 470.9 814.9 472.9 818.8 474.9 808.7 476.9 812.5 478.9 808.8 480.9 811.4 482.9 809.7 484.9 809.7 486.9 805.1 488.9 801.3 490.9 802.3 492.9 802.0 494.9 804.2 496.9 804.3 498.9 805.8 500.9 810.7 502.9 806.4 504.9 806.3 506.9 806.9 508.9 810.3 510.9 800.6 512.9 812.1 514.9 805.8 516.9 804.6 518.9 805.7 520.9 808.1 522.9 800.4 524.9 803.3 526.9 803.1 528.9 801.3 530.9 797.5 532.9 802.1 534.9 796.5 536.9 801.5 538.9 799.8 540.9 797.9 542.9 793.9 544.9 800.0 546.9 799.1 548.9 793.9 550.9 794.7 552.9 790.9 554.9 799.9 556.9 795.4 558.9 790.5 560.9 794.5 562.9 793.1 564.9 792.2 566.9 795.7 568.9 788.9 570.9 795.7 572.9 791.6 574.9 786.9 576.9 789.4 578.9 791.0 580.9 789.9 582.9 789.6 584.9 790.7 586.9 790.3 588.9 791.0 590.9 783.1 592.9 790.0 594.9 782.3 596.9 785.3 598.9 784.4 600.9 784.8 602.9 783.2 604.9 783.2 606.9 778.3 608.9 778.6 610.9 780.4 612.9 776.8 614.9 781.8 616.9 782.5 618.9 773.6 620.9 773.4 622.9 776.6 624.9 777.7 626.9 774.2 628.9 778.9 630.9 773.3 632.9 771.6 634.9 772.1 636.9 779.6 638.9 776.7 640.9 775.2 642.9 773.7 644.9 767.7 646.9 771.3 648.9 774.0 650.9 768.0 652.9 769.6 654.9 772.4 656.9 771.2 658.9 772.8 660.9 768.3 662.9 766.5 664.9 764.0 666.9 769.1 668.9 764.0 670.9 765.6 672.9 766.3 674.9 760.0 676.9 764.3 678.9 760.1 680.9 763.4 682.9 759.7 684.9 768.0 686.9 765.3 688.9 762.0 690.9 763.2 692.9 758.7 694.9 764.2 696.9 761.7 698.9 759.2 700.9 760.3 702.9 759.2 704.9 762.0 706.9 755.8 708.9 756.7 710.9 753.4 712.9 754.6 714.9 757.1 716.9 756.8 718.9 753.8 720.9 753.2 722.9 751.0 724.9 750.5 726.9 748.8 728.9 746.7 730.9 752.8 732.9 749.4 734.9 751.6 736.9 753.3 738.9 746.6 740.9 756.2 742.9 750.2 744.9 745.0 746.9 753.6 748.9 748.9 750.9 748.2 752.9 748.4 754.9 748.0 756.9 745.8 758.9 746.7 760.9 745.1 762.9 750.8 764.9 746.3 766.9 747.6 768.9 742.9 770.9 748.3 772.9 744.3 774.9 743.9 776.9 745.2 778.9 745.6 780.9 748.1 782.9 745.6 784.9 744.0 786.9 741.3 788.9 744.6 790.9 747.0 792.9 744.0 794.9 738.3 796.9 736.6 798.9 740.4 800.9 740.7 802.9 734.5 804.9 741.2 806.9 737.0 808.9 738.9 810.9 740.6 812.9 740.4 814.9 743.2 816.9 741.6 818.9 740.8 820.9 734.8 822.9 742.5 824.9 732.5 826.9 738.8 828.9 737.7 830.9 740.0 832.9 736.9 834.9 740.6 836.9 737.0 838.9 733.6 840.9 740.9 842.9 740.1 844.9 733.4 846.9 736.7 848.9 736.8 850.9 738.1 852.9 736.3 854.9 734.7 856.9 733.9 858.9 736.4 860.9 735.6 862.9 733.8 864.9 731.8 866.9 732.7 868.9 732.4 870.9 731.7 872.9 739.1 874.9 733.7 876.9 739.3 878.9 732.8 880.9 731.8 882.9 725.6 884.9 730.9 886.9 729.8 888.9 733.8 890.9 727.2 892.9 737.3 894.9 728.1 896.9 729.5 898.9 731.4 900.9 732.5 902.9 731.0 904.9 726.5 906.9 730.1 908.9 724.9 910.9 729.8 912.9 733.0 914.9 730.2 916.9 725.5 918.9 729.8 920.9 726.0 922.9 730.8 924.9 725.6 926.9 732.9 928.9 728.7 930.9 726.0 932.9 728.3 934.9 730.5 936.9 731.2 938.9 726.6 940.9 722.8 942.9 731.0 944.9 724.8 946.9 729.7 948.9 724.5 950.9 730.1 952.9 732.1 954.9 729.1 956.9 727.7 958.9 721.5 960.9 728.7 962.9 726.5 964.9 727.8 966.9 731.7 968.9 728.3 970.9 728.6 972.9 728.4 974.9 727.6 976.9 726.5 978.9 726.9 980.9 724.1 982.9 727.8 984.9 722.7 986.9 727.4 988.9 733.8 990.9 726.7 992.9 728.2 994.9 723.9 996.9 726.6 998.9 727.4 1000.9 727.0 1002.9 724.9 1004.9 723.1 1006.9 723.1 1008.9 730.0 1010.9 725.8 1012.9 723.8 1014.9 727.0 1016.9 724.1 1018.9 727.0 1020.9 728.2 1022.9 725.9 1024.9 727.8 1026.9 717.6 1028.9 724.3 1030.9 719.4 1032.9 722.1 1034.9 726.5 1036.9 725.9 1038.9 729.4 1040.9 738.9 1042.9 735.2 1044.9 737.2 1046.9 737.2 1048.9 732.9 1050.9 730.4 1052.9 731.0 1054.9 730.5 1056.9 726.9 1058.9 734.9 1060.9 730.4 1062.9 729.9 1064.9 730.0 1066.9 735.0 1068.9 738.1 1070.9 737.4 1072.9 735.6 1074.9 736.9 1076.9 735.2 1078.9 735.4 1080.9 739.7 1082.9 734.8 1084.9 737.4 1086.9 730.9 1088.9 737.4 1090.9 729.0 1092.9 734.0 1094.9 737.5 1096.9 733.6 1098.9 743.5 1100.9 736.5 1102.9 744.1 1104.9 735.1 1106.9 742.6 1108.9 737.0 1110.9 736.9 1112.9 735.9 1114.9 741.1 1116.9 741.8 1118.9 737.4 1120.9 739.9 1122.9 734.4 1124.9 743.0 1126.9 744.5 1128.9 745.3 1130.9 741.8 1132.9 744.2 1134.9 745.7 1136.9 741.8 1138.9 743.2 1140.9 744.2 1142.9 747.6 1144.9 745.2 1146.9 745.4 1148.9 746.3 1150.9 747.0 1152.9 749.3 1154.9 748.9 1156.9 744.9 1158.9 747.8 1160.9 750.0 1162.9 751.0 1164.9 747.2 1166.9 748.8 1168.9 746.4 1170.9 752.8 1172.9 750.5 1174.9 746.8 1176.9 746.1 1178.9 749.5 1180.9 750.4 1182.9 751.3 1184.9 748.1 1186.9 751.7 1188.9 753.4 1190.9 751.9 1192.9 747.6 1194.9 751.9 1196.9 755.7 1198.9 752.5 1200.9 753.4 1202.9 753.1 1204.9 753.9 1206.9 755.5 1208.9 755.1 1210.9 749.7 1212.9 751.8 1214.9 757.2 1216.9 755.9 1218.9 754.7 1220.9 756.3 1222.9 752.1 1224.9 758.0 1226.9 759.1 1228.9 762.7 1230.9 757.6 1232.9 754.0 1234.9 754.6 1236.9 756.0 1238.9 761.8 1240.9 756.1 1242.9 755.9 1244.9 753.4 1246.9 758.4 1248.9 762.4 1250.9 753.6 1252.9 755.1 1254.9 756.6 1256.9 757.1 1258.9 759.7 1260.9 754.9 1262.9 755.6 1264.9 757.2 1266.9 761.2 1268.9 757.4 1270.9 754.0 1272.9 760.2 1274.9 756.7 1276.9 760.4 1278.9 762.3 1280.9 762.9 1282.9 763.6 1284.9 755.8 1286.9 757.5 1288.9 756.1 1290.9 766.9 1292.9 761.3 1294.9 763.2 1296.9 768.9 1298.9 765.1 1300.9 770.8 1302.9 767.3 1304.9 762.0 1306.9 763.4 1308.9 766.3 1310.9 772.6 1312.9 765.5 1314.9 766.1 1316.9 766.2 1318.9 767.4 1320.9 765.8 1322.9 764.8 1324.9 765.9 1326.9 773.1 1328.9 765.3 1330.9 770.5 1332.9 770.7 1334.9 773.4 1336.9 770.7 1338.9 769.1 1340.9 768.4 1342.9 767.6 1344.9 762.9 1346.9 771.2 1348.9 772.8 1350.9 768.0 1352.9 767.5 1354.9 773.0 1356.9 773.8 1358.9 770.3 1360.9 772.8 1362.9 773.2 1364.9 766.8 1366.9 771.3 1368.9 775.8 1370.9 771.8 1372.9 774.6 1374.9 774.8 1376.9 770.5 1378.9 769.7 1380.9 766.8 1382.9 771.6 1384.9 775.7 1386.9 770.6 1388.9 781.8 1390.9 773.6 1392.9 772.3 1394.9 771.0 1396.9 774.1 1398.9 771.2 1400.9 783.3 1402.9 770.1 1404.9 774.0 1406.9 774.4 1408.9 776.5 1410.9 777.0 1412.9 776.9 1414.9 773.0 1416.9 776.8 1418.9 778.2 1420.9 775.1 1422.9 778.5 1424.9 778.5 1426.9 778.3 1428.9 778.8 1430.9 773.6 1432.9 775.9 1434.9 779.7 1436.9 776.2 1438.9 778.9 1440.9 779.3 1442.9 777.4 1444.9 775.0 1446.9 786.5 1448.9 778.5 1450.9 776.8 1452.9 780.3 1454.9 777.0 1456.9 785.2 1458.9 785.5 1460.9 786.2 1462.9 784.0 1464.9 780.9 1466.9 785.4 1468.9 784.8 1470.9 779.5 1472.9 787.4 1474.9 782.6 1476.9 785.4 1478.9 787.5 1480.9 788.3 1482.9 791.8 1484.9 790.1 1486.9 791.5 1488.9 786.2 1490.9 788.6 1492.9 790.1 1494.9 787.4 1496.9 791.6 1498.9 785.6 1500.9 792.5 1502.9 785.3 1504.9 788.0 1506.9 782.5 1508.9 789.1 1510.9 784.5 1512.9 786.2 1514.9 783.7 1516.9 783.6 1518.9 773.7 1520.9 758.7 1522.9 730.9 1524.9 713.5 1526.9 705.1 1528.9 701.7 1530.9 720.9 1532.9 745.1 1534.9 756.4 1536.9 775.3 1538.9 782.6 1540.9 788.6 1542.9 790.7 1544.9 789.1 1546.9 787.5 1548.9 795.0 1550.9 794.0 1552.9 795.9 1554.9 794.5 1556.9 803.7 1558.9 800.9 1560.9 802.6 1562.9 797.3 1564.9 800.0 1566.9 803.5 1568.9 796.1 1570.9 806.9 1572.9 803.1 1574.9 801.0 1576.9 799.5 1578.9 806.4 1580.9 803.7 1582.9 812.7 1584.9 807.2 1586.9 808.0 1588.9 807.7 1590.9 812.6 1592.9 807.9 1594.9 812.0 1596.9 810.6 1598.9 809.5 1600.9 807.2 1602.9 812.4 1604.9 806.0 1606.9 814.5 1608.9 808.3 1610.9 811.5 1612.9 809.5 1614.9 810.8 1616.9 811.3 1618.9 814.5 1620.9 811.3 1622.9 812.6 1624.9 811.8 1626.9 809.0 1628.9 813.5 1630.9 822.2 1632.9 815.7 1634.9 816.8 1636.9 816.4 1638.9 817.0 1640.9 813.3 1642.9 818.5 1644.9 816.5 1646.9 815.5 1648.9 812.5 1650.9 816.9 1652.9 812.9 1654.9 813.6 1656.9 811.8 1658.9 818.5 1660.9 816.7 1662.9 817.5 1664.9 817.0 1666.9 821.6 1668.9 821.1 1670.9 817.2 1672.9 815.1 1674.9 819.3 1676.9 818.8 1678.9 819.9 1680.9 820.7 1682.9 821.7 1684.9 819.2 1686.9 821.9 1688.9 817.8 1690.9 823.7 1692.9 821.9 1694.9 821.8 1696.9 820.7 1698.9 823.4 1700.9 823.3 1702.9 817.9 1704.9 823.7 1706.9 824.2 1708.9 821.9 1710.9 824.1 1712.9 825.9 1714.9 825.6 1716.9 823.8 1718.9 822.1 1720.9 828.7 1722.9 822.1 1724.9 827.1 1726.9 827.0 1728.9 825.4 1730.9 826.9 1732.9 822.8 1734.9 825.1 1736.9 827.4 1738.9 823.6 1740.9 825.6 1742.9 828.2 1744.9 824.1 1746.9 822.3 1748.9 828.7 1750.9 830.5 1752.9 825.6 1754.9 829.0 1756.9 823.0 1758.9 824.8 1760.9 820.0 1762.9 822.1 1764.9 831.1 1766.9 828.5 1768.9 829.6 1770.9 830.5 1772.9 822.6 1774.9 825.3 1776.9 822.3 1778.9 827.7 1780.9 822.4 1782.9 829.7 1784.9 829.9 1786.9 824.5 1788.9 828.5 1790.9 827.3 1792.9 828.3 1794.9 824.7 1796.9 825.7 1798.9 827.5 1800.9 825.6 1802.9 832.0 1804.9 826.9 1806.9 828.6 1808.9 825.7 1810.9 824.6 1812.9 827.6 1814.9 832.9 1816.9 830.4 1818.9 827.0 1820.9 830.3 1822.9 830.8 1824.9 829.6 1826.9 825.0 1828.9 830.1 1830.9 829.2 1832.9 825.7 1834.9 828.3 1836.9 827.0 1838.9 831.4 1840.9 831.9 1842.9 823.9 1844.9 825.3 1846.9 831.7 1848.9 829.1 1850.9 822.2 1852.9 829.3 1854.9 829.4 1856.9 830.2 1858.9 828.2 1860.9 835.2 1862.9 828.4 1864.9 825.0 1866.9 828.3 1868.9 827.5 1870.9 833.0 1872.9 826.1 1874.9 830.6 1876.9 829.9 1878.9 825.7 1880.9 820.5 1882.9 825.5 1884.9 831.7 1886.9 833.4 1888.9 828.5 1890.9 827.2 1892.9 833.5 1894.9 825.9 1896.9 826.4 1898.9 830.4 1900.9 827.9 1902.9 823.4 1904.9 830.0 1906.9 829.2 1908.9 827.6 1910.9 827.3 1912.9 828.2 1914.9 825.7 1916.9 832.4 1918.9 827.9 1920.9 828.4 1922.9 829.8 1924.9 829.8 1926.9 825.5 1928.9 828.3 1930.9 826.2 1932.9 824.9 1934.9 828.9 1936.9 822.9 1938.9 827.3 1940.9 826.5 1942.9 822.1 1944.9 823.8 1946.9 823.0 1948.9 827.9 1950.9 819.6 1952.9 826.5 1954.9 827.7 1956.9 826.4 1958.9 825.3 1960.9 827.1 1962.9 824.6 1963.8 824.0 1964.7 825.5 1965.6 824.4 1966.5 824.2 1967.4 825.5 1968.2 823.9 1969.1 824.3 1969.9 824.3 1970.7 824.0 1971.5 824.7 1972.3 824.5 1973.0 823.5 1973.8 825.3 1974.5 822.8 1975.3 824.2 1976.0 822.8 1976.7 824.6 1977.4 823.8 1977.8 822.9 1978.3 823.3 1978.7 823.6 1979.1 824.5 1979.5 823.1 1979.9 821.9 1980.3 822.5 1980.7 822.0 1981.1 821.7 1981.5 822.8 1981.9 822.3 1982.3 821.6 1982.7 820.5 1983.1 820.4 1983.4 821.8 1983.8 822.0 1984.2 819.9 1984.5 820.2 1984.9 819.5 1985.2 817.3 1985.6 817.3 1985.9 818.8 1986.2 818.9 1986.6 816.6 1986.9 818.5 1987.2 816.3 1987.5 817.1 1987.9 816.6 1988.2 814.7 1988.5 815.1 1988.8 813.6 1989.2 814.1 1989.7 814.1 1990.1 812.0 1990.6 812.1 1991.0 810.5 1991.5 808.8 1991.9 810.1 1992.3 807.9 1992.7 805.7 1993.1 806.4 1993.5 805.5 1993.9 804.4 1994.3 803.3 1994.7 802.1 1995.0 800.9 1995.4 799.6 1995.8 798.2 1996.1 796.8 1996.5 795.3 1996.8 793.7 1997.2 792.1 1997.5 790.3 1997.8 788.5 1998.2 786.5 1998.5 784.5 1998.8 782.3 1999.1 780.1 1999.4 777.7 1999.7 775.2 2000.0 772.6 2000.3 769.8 2000.6 766.9 2000.9 763.9 2001.2 760.7 2001.5 757.3 2001.8 753.7 2002.2 750.0 2002.6 746.1 2002.9 742.0 2003.3 737.6 2003.5 733.1 2003.7 728.3 2003.9 723.2 2004.1 717.9 2004.3 712.3 2004.4 706.5 2004.6 700.3 2004.8 693.8 2005.0 687.0 2005.1 679.8 2005.3 672.2 2005.4 664.3 2005.5 655.9 2005.6 647.2 2005.7 637.9 2005.8 628.2 2005.9 618.0 2006.1 607.2 2006.2 596.0 2006.3 584.1 2006.3 571.6 2006.4 558.4 2006.5 544.6 2006.6 530.1 2006.7 514.8 2006.8 498.7 2006.8 481.8 2006.9 464.1 2007.0 445.4 2007.0 425.7 2007.1 405.0 2007.2 383.3 2007.2 360.4 2007.3 336.4 2007.3 311.1 2007.4 284.5 2007.4 256.6 2007.5 227.1 2007.5 196.2 2007.6 163.7 2007.6 129.5 2007.7 93.5 2007.7 55.7 2007.7 15.9 2007.8 11.8 2007.8 11.8 2007.9 11.8 2007.9 11.8 2007.9 11.8 2008.0 11.8 2008.1 11.8 2008.1 11.8 2008.2 11.8 2008.2 11.8 2008.3 11.8 2008.4 11.8 2008.4 11.8 2008.5 11.8 2008.5 11.8 2008.6 11.8 2008.6 11.8 2008.7 11.8 2008.7 11.8 2008.8 11.8 2008.8 11.8 2008.9 11.8 2008.9 11.8 2009.0 11.8 2009.0 11.8 2009.1 11.8 2022.3 11.8 2022.4 11.8 2022.4 11.8 2022.5 11.8 2022.5 11.8 2022.6 11.8 2022.6 11.8 2022.7 11.8 2022.7 11.8 2022.8 11.8 2022.8 11.8 2022.9 11.8 2022.9 11.8 2023.0 11.8 2023.0 11.8 2023.1 11.8 2023.2 11.8 2023.2 11.8 2023.3 11.8 2023.3 11.8 2023.4 11.8 2023.5 11.8 2023.5 11.8 2023.6 11.8 2023.7 11.8 2023.7 11.8 2023.8 15.9 2023.9 55.7 2024.0 93.5 2024.1 129.5 2024.1 163.7 2024.2 196.2 2024.3 227.1 2024.4 256.6 2024.5 284.5 2024.6 311.1 2024.7 336.4 2024.9 360.4 2025.0 383.3 2025.1 405.0 2025.2 425.7 2025.3 445.4 2025.5 464.1 2025.6 481.8 2025.7 498.7 2025.9 514.8 2026.0 530.1 2026.2 544.6 2026.4 558.4 2026.7 571.6 2026.9 584.1 2027.1 596.0 2027.3 607.2 2027.6 618.0 2027.8 628.2 2028.1 637.9 2028.4 647.2 2028.6 655.9 2028.9 664.3 2029.2 672.2 2029.6 679.8 2030.0 687.0 2030.5 693.8 2031.0 700.3 2031.5 706.5 2032.0 712.3 2032.6 717.9 2033.1 723.2 2033.7 728.3 2034.3 733.1 2034.8 737.6 2035.3 742.0 2035.8 746.1 2036.3 750.0 2036.8 753.7 2037.3 757.3 2037.8 760.7 2038.3 763.9 2038.8 766.9 2039.3 769.8 2039.8 772.6 2040.3 775.2 2040.7 777.7 2041.2 780.1 2041.6 782.3 2042.0 784.5 2042.4 786.5 2042.8 788.5 2043.2 790.3 2043.6 792.1 2044.0 793.7 2044.4 795.3 2044.8 796.8 2045.2 798.2 2045.6 799.6 2046.0 800.9 2046.4 802.1 2046.8 803.3 2047.2 804.4 2047.6 805.5 2048.1 806.3 2048.5 808.3 2048.9 809.2 2049.4 810.2 2049.8 809.0 2050.3 810.5 2050.8 811.5 2051.2 810.8 2051.7 812.4 2052.2 814.2 2052.7 815.2 2053.2 814.8 2053.7 815.7 2054.2 815.5 2054.8 816.0 2055.5 815.7 2056.1 816.4 2056.8 815.4 2057.5 817.9 2058.3 818.1 2059.0 817.9 2059.7 818.9 2060.5 819.8 2061.3 819.8 2062.0 819.2 2062.8 820.3 2063.6 821.1 2064.5 819.6 2065.3 821.2 2066.2 820.8 2067.0 821.5 2067.9 822.0 2068.8 821.5 2069.7 822.0 2070.6 823.4 2071.6 822.9 2072.5 823.4 2073.5 823.0 2073.7 822.7 2073.7 824.6 2073.7 822.2 2073.7 823.3 2073.7 823.9 2073.7 825.3 2073.7 823.4 2073.7 824.5 2073.7 824.5 2073.7 823.7 2073.7 824.6 2073.7 825.0 2073.7 824.2 2073.7 824.5 2073.7 825.3 2073.7 825.0 2073.7 825.0 2073.7 824.3 2073.7 825.5 2073.7 825.3 2073.7 825.7 2073.7 825.2" fill="none"/>
<path d="M138.9 946.6L140.9 946.5 142.9 946.4 144.9 946.3 146.9 946.2 148.9 946.1 150.9 946.0 152.9 945.8 154.9 945.7 156.9 945.7 158.9 945.6 160.9 945.5 162.9 945.4 164.9 945.3 166.9 945.2 168.9 945.1 170.9 945.0 172.9 945.0 174.9 944.9 176.9 944.8 178.9 944.7 180.9 944.7 182.9 944.6 184.9 944.5 186.9 944.5 188.9 944.4 190.9 944.4 192.9 944.3 194.9 944.3 196.9 944.2 198.9 944.2 200.9 944.1 202.9 944.1 204.9 944.0 206.9 944.0 208.9 944.0 210.9 943.9 212.9 943.9 214.9 943.9 216.9 943.8 218.9 943.8 220.9 943.8 222.9 943.8 224.9 943.7 226.9 943.7 228.9 943.7 230.9 943.7 232.9 943.7 234.9 943.7 236.9 943.6 238.9 943.6 240.9 943.6 242.9 943.6 244.9 943.6 246.9 943.6 248.9 943.6 250.9 943.6 252.9 943.6 254.9 943.6 256.9 943.6 258.9 943.7 260.9 943.7 262.9 943.7 264.9 943.8 266.9 943.9 268.9 943.9 270.9 944.0 272.9 944.1 274.9 944.1 276.9 944.2 278.9 944.3 280.9 944.4 282.9 944.5 284.9 944.6 286.9 944.7 288.9 944.8 290.9 944.9 292.9 945.0 294.9 945.1 296.9 945.2 298.9 945.3 300.9 945.4 302.9 945.5 304.9 945.6 306.9 945.6 308.9 945.7 310.9 945.8 312.9 945.9 314.9 946.0 316.9 946.1 318.9 946.2 320.9 946.2 322.9 946.3 324.9 946.4 326.9 946.4 328.9 946.5 330.9 946.5 332.9 946.6 334.9 946.6 336.9 946.6 338.9 946.6 340.9 946.6 342.9 946.6 344.9 946.6 346.9 946.6 348.9 946.6 350.9 946.6 352.9 946.6 354.9 946.6 356.9 946.6 358.9 946.6 360.9 946.6 362.9 946.6 364.9 946.6 366.9 946.6 368.9 946.6 370.9 946.6 372.9 946.6 374.9 946.6 376.9 946.6 378.9 946.6 380.9 946.6 382.9 946.6 384.9 946.6 386.9 946.6 388.9 946.6 390.9 946.6 392.9 946.6 394.9 946.6 396.9 946.6 398.9 946.6 400.9 946.6 402.9 946.6 404.9 946.6 406.9 946.5 408.9 946.4 410.9 946.3 412.9 946.2 414.9 946.1 416.9 945.9 418.9 945.7 420.9 945.5 422.9 945.3 424.9 945.1 426.9 944.9 428.9 944.7 430.9 944.4 432.9 944.2 434.9 943.9 436.9 943.7 438.9 943.4 440.9 943.1 442.9 942.9 444.9 942.6 446.9 942.3 448.9 942.1 450.9 941.8 452.9 941.6 454.9 941.4 456.9 941.1 458.9 940.9 460.9 940.7 462.9 940.5 464.9 940.3 466.9 940.1 468.9 939.9 470.9 939.7 472.9 939.5 474.9 939.3 476.9 939.1 478.9 938.9 480.9 938.6 482.9 938.0 484.9 936.7 486.9 934.6 488.9 932.0 490.9 930.0 492.9 929.8 494.9 931.2 496.9 933.4 498.9 935.2 500.9 936.2 502.9 936.4 504.9 936.4 506.9 936.2 508.9 936.1 510.9 935.9 512.9 935.7 514.9 935.5 516.9 935.3 518.9 935.1 520.9 934.9 522.9 934.7 524.9 934.5 526.9 934.4 528.9 934.2 530.9 934.0 532.9 933.8 534.9 933.6 536.9 933.4 538.9 933.2 540.9 933.0 542.9 932.9 544.9 932.7 546.9 932.5 548.9 932.3 550.9 932.1 552.9 931.9 554.9 931.7 556.9 931.5 558.9 931.4 560.9 931.2 562.9 931.0 564.9 930.8 566.9 930.6 568.9 930.4 570.9 930.2 572.9 930.1 574.9 929.9 576.9 929.7 578.9 929.5 580.9 929.3 582.9 929.1 584.9 928.9 586.9 928.7 588.9 928.6 590.9 928.4 592.9 928.2 594.9 928.0 596.9 927.8 598.9 927.7 600.9 927.5 602.9 927.3 604.9 927.1 606.9 926.9 608.9 926.8 610.9 926.6 612.9 926.4 614.9 926.2 616.9 926.1 618.9 925.9 620.9 925.7 622.9 925.5 624.9 925.3 626.9 925.2 628.9 925.0 630.9 924.8 632.9 924.6 634.9 924.4 636.9 924.3 638.9 924.1 640.9 923.9 642.9 923.7 644.9 923.5 646.9 923.3 648.9 923.1 650.9 922.9 652.9 922.7 654.9 922.6 656.9 922.4 658.9 922.2 660.9 921.9 662.9 921.7 664.9 921.5 666.9 921.3 668.9 921.1 670.9 920.9 672.9 920.7 674.9 920.4 676.9 920.2 678.9 920.0 680.9 919.7 682.9 919.5 684.9 919.2 686.9 918.9 688.9 918.7 690.9 918.4 692.9 918.1 694.9 917.8 696.9 917.6 698.9 917.3 700.9 917.0 702.9 916.7 704.9 916.4 706.9 916.1 708.9 915.8 710.9 915.5 712.9 915.3 714.9 915.0 716.9 914.7 718.9 914.4 720.9 914.1 722.9 913.8 724.9 913.5 726.9 913.3 728.9 913.0 730.9 912.7 732.9 912.5 734.9 912.2 736.9 911.9 738.9 911.7 740.9 911.4 742.9 911.2 744.9 911.0 746.9 910.8 748.9 910.5 750.9 910.3 752.9 910.1 754.9 909.9 756.9 909.8 758.9 909.6 760.9 909.4 762.9 909.2 764.9 909.0 766.9 908.9 768.9 908.7 770.9 908.5 772.9 908.4 774.9 908.2 776.9 908.1 778.9 907.9 780.9 907.7 782.9 907.6 784.9 907.4 786.9 907.3 788.9 907.1 790.9 907.0 792.9 906.9 794.9 906.7 796.9 906.6 798.9 906.4 800.9 906.3 802.9 906.2 804.9 906.0 806.9 905.9 808.9 905.8 810.9 905.6 812.9 905.5 814.9 905.4 816.9 905.3 818.9 905.1 820.9 905.0 822.9 904.9 824.9 904.8 826.9 904.7 828.9 904.5 830.9 904.4 832.9 904.3 834.9 904.2 836.9 904.1 838.9 904.0 840.9 903.9 842.9 903.8 844.9 903.6 846.9 903.5 848.9 903.4 850.9 903.3 852.9 903.2 854.9 903.0 856.9 902.9 858.9 902.8 860.9 902.7 862.9 902.6 864.9 902.4 866.9 902.3 868.9 902.2 870.9 902.1 872.9 902.0 874.9 901.9 876.9 901.8 878.9 901.7 880.9 901.6 882.9 901.6 884.9 901.5 886.9 901.4 888.9 901.4 890.9 901.3 892.9 901.3 894.9 901.3 896.9 901.3 898.9 901.3 900.9 901.3 902.9 901.3 904.9 901.3 906.9 901.3 908.9 901.3 910.9 901.3 912.9 901.3 914.9 901.3 916.9 901.3 918.9 901.3 920.9 901.3 922.9 901.3 924.9 901.3 926.9 901.3 928.9 901.3 930.9 901.3 932.9 901.3 934.9 901.3 936.9 901.3 938.9 901.3 940.9 901.3 942.9 901.3 944.9 901.3 946.9 901.3 948.9 901.3 950.9 901.3 952.9 901.3 954.9 901.3 956.9 901.3 958.9 901.3 960.9 901.3 962.9 901.3 964.9 901.3 966.9 901.3 968.9 901.3 970.9 901.3 972.9 901.3 974.9 901.3 976.9 901.3 978.9 901.3 980.9 901.3 982.9 901.3 984.9 901.3 986.9 901.3 988.9 901.3 990.9 901.3 992.9 901.3 994.9 901.3 996.9 901.3 998.9 901.3 1000.9 901.3 1002.9 901.3 1004.9 901.3 1006.9 901.3 1008.9 901.3 1010.9 901.2 1012.9 901.1 1014.9 900.9 1016.9 900.4 1018.9 899.4 1020.9 897.5 1022.9 894.4 1024.9 890.2 1026.9 885.4 1028.9 881.2 1030.9 879.0 1032.9 879.1 1034.9 881.2 1036.9 884.5 1038.9 888.2 1040.9 891.7 1042.9 894.5 1044.9 896.4 1046.9 897.6 1048.9 898.2 1050.9 898.5 1052.9 898.7 1054.9 898.9 1056.9 899.2 1058.9 899.5 1060.9 899.9 1062.9 900.4 1064.9 900.9 1066.9 901.4 1068.9 902.0 1070.9 902.6 1072.9 903.2 1074.9 903.8 1076.9 904.4 1078.9 905.0 1080.9 905.5 1082.9 906.1 1084.9 906.5 1086.9 907.0 1088.9 907.3 1090.9 907.6 1092.9 907.8 1094.9 908.0 1096.9 908.1 1098.9 908.2 1100.9 908.4 1102.9 908.5 1104.9 908.6 1106.9 908.7 1108.9 908.8 1110.9 908.8 1112.9 908.9 1114.9 909.0 1116.9 909.1 1118.9 909.2 1120.9 909.2 1122.9 909.3 1124.9 909.4 1126.9 909.5 1128.9 909.5 1130.9 909.6 1132.9 909.7 1134.9 909.8 1136.9 909.9 1138.9 910.0 1140.9 910.1 1142.9 910.1 1144.9 910.2 1146.9 910.3 1148.9 910.4 1150.9 910.5 1152.9 910.6 1154.9 910.6 1156.9 910.7 1158.9 910.8 1160.9 910.9 1162.9 911.0 1164.9 911.1 1166.9 911.2 1168.9 911.3 1170.9 911.4 1172.9 911.5 1174.9 911.6 1176.9 911.7 1178.9 911.8 1180.9 912.0 1182.9 912.1 1184.9 912.3 1186.9 912.4 1188.9 912.6 1190.9 912.8 1192.9 913.0 1194.9 913.2 1196.9 913.4 1198.9 913.6 1200.9 913.8 1202.9 914.0 1204.9 914.2 1206.9 914.5 1208.9 914.7 1210.9 914.9 1212.9 915.1 1214.9 915.3 1216.9 915.4 1218.9 915.6 1220.9 915.8 1222.9 915.9 1224.9 916.1 1226.9 916.2 1228.9 916.4 1230.9 916.5 1232.9 916.6 1234.9 916.7 1236.9 916.9 1238.9 917.0 1240.9 917.1 1242.9 917.2 1244.9 917.4 1246.9 917.5 1248.9 917.6 1250.9 917.7 1252.9 917.8 1254.9 917.9 1256.9 918.1 1258.9 918.2 1260.9 918.3 1262.9 918.4 1264.9 918.6 1266.9 918.7 1268.9 918.8 1270.9 918.9 1272.9 919.1 1274.9 919.2 1276.9 919.3 1278.9 919.4 1280.9 919.6 1282.9 919.7 1284.9 919.8 1286.9 919.9 1288.9 920.1 1290.9 920.2 1292.9 920.3 1294.9 920.4 1296.9 920.5 1298.9 920.7 1300.9 920.8 1302.9 920.9 1304.9 921.0 1306.9 921.1 1308.9 921.2 1310.9 921.3 1312.9 921.4 1314.9 921.5 1316.9 921.6 1318.9 921.7 1320.9 921.8 1322.9 921.9 1324.9 922.0 1326.9 922.1 1328.9 922.1 1330.9 922.2 1332.9 922.3 1334.9 922.4 1336.9 922.5 1338.9 922.6 1340.9 922.7 1342.9 922.8 1344.9 922.9 1346.9 923.0 1348.9 923.1 1350.9 923.2 1352.9 923.2 1354.9 923.3 1356.9 923.4 1358.9 923.5 1360.9 923.6 1362.9 923.7 1364.9 923.7 1366.9 923.8 1368.9 923.9 1370.9 924.0 1372.9 924.1 1374.9 924.2 1376.9 924.3 1378.9 924.4 1380.9 924.5 1382.9 924.6 1384.9 924.7 1386.9 924.8 1388.9 925.0 1390.9 925.1 1392.9 925.3 1394.9 925.4 1396.9 925.6 1398.9 925.8 1400.9 926.0 1402.9 926.2 1404.9 926.4 1406.9 926.6 1408.9 926.8 1410.9 927.1 1412.9 927.3 1414.9 927.5 1416.9 927.7 1418.9 927.9 1420.9 928.1 1422.9 928.3 1424.9 928.5 1426.9 928.6 1428.9 928.8 1430.9 928.9 1432.9 929.0 1434.9 929.2 1436.9 929.3 1438.9 929.4 1440.9 929.5 1442.9 929.6 1444.9 929.7 1446.9 929.7 1448.9 929.8 1450.9 929.9 1452.9 930.0 1454.9 930.1 1456.9 930.2 1458.9 930.2 1460.9 930.3 1462.9 930.4 1464.9 930.5 1466.9 930.6 1468.9 930.7 1470.9 930.8 1472.9 930.9 1474.9 931.0 1476.9 931.2 1478.9 931.3 1480.9 931.4 1482.9 931.6 1484.9 931.7 1486.9 931.9 1488.9 932.0 1490.9 932.2 1492.9 932.3 1494.9 932.5 1496.9 932.6 1498.9 932.8 1500.9 932.9 1502.9 933.1 1504.9 933.2 1506.9 933.4 1508.9 933.5 1510.9 933.6 1512.9 933.7 1514.9 933.7 1516.9 933.2 1518.9 931.6 1520.9 927.2 1522.9 917.8 1524.9 902.2 1526.9 882.4 1528.9 864.8 1530.9 857.3 1532.9 862.7 1534.9 877.7 1536.9 896.4 1538.9 912.8 1540.9 924.3 1542.9 930.8 1544.9 933.9 1546.9 935.2 1548.9 935.8 1550.9 936.3 1552.9 936.8 1554.9 937.5 1556.9 938.3 1558.9 939.0 1560.9 939.8 1562.9 940.5 1564.9 941.0 1566.9 941.4 1568.9 941.7 1570.9 942.1 1572.9 942.4 1574.9 942.7 1576.9 943.0 1578.9 943.3 1580.9 943.6 1582.9 943.8 1584.9 944.1 1586.9 944.3 1588.9 944.6 1590.9 944.8 1592.9 945.0 1594.9 945.2 1596.9 945.5 1598.9 945.7 1600.9 945.9 1602.9 946.1 1604.9 946.3 1606.9 946.6 1608.9 946.8 1610.9 947.0 1612.9 947.2 1614.9 947.4 1616.9 947.6 1618.9 947.8 1620.9 948.0 1622.9 948.2 1624.9 948.3 1626.9 948.5 1628.9 948.7 1630.9 948.9 1632.9 949.1 1634.9 949.2 1636.9 949.4 1638.9 949.6 1640.9 949.7 1642.9 949.9 1644.9 950.0 1646.9 950.2 1648.9 950.3 1650.9 950.5 1652.9 950.6 1654.9 950.8 1656.9 950.9 1658.9 951.1 1660.9 951.2 1662.9 951.3 1664.9 951.5 1666.9 951.6 1668.9 951.7 1670.9 951.8 1672.9 952.0 1674.9 952.1 1676.9 952.2 1678.9 952.3 1680.9 952.4 1682.9 952.6 1684.9 952.7 1686.9 952.8 1688.9 952.9 1690.9 953.0 1692.9 953.1 1694.9 953.2 1696.9 953.3 1698.9 953.4 1700.9 953.5 1702.9 953.6 1704.9 953.7 1706.9 953.8 1708.9 953.9 1710.9 954.0 1712.9 954.1 1714.9 954.2 1716.9 954.3 1718.9 954.4 1720.9 954.5 1722.9 954.6 1724.9 954.7 1726.9 954.8 1728.9 954.9 1730.9 955.0 1732.9 955.1 1734.9 955.3 1736.9 955.4 1738.9 955.5 1740.9 955.7 1742.9 955.8 1744.9 955.9 1746.9 956.1 1748.9 956.2 1750.9 956.3 1752.9 956.4 1754.9 956.5 1756.9 956.6 1758.9 956.7 1760.9 956.8 1762.9 956.8 1764.9 956.9 1766.9 956.9 1768.9 956.9 1770.9 956.9 1772.9 956.9 1774.9 956.9 1776.9 956.9 1778.9 956.9 1780.9 956.9 1782.9 956.9 1784.9 956.9 1786.9 956.9 1788.9 956.9 1790.9 956.9 1792.9 956.9 1794.9 956.9 1796.9 956.9 1798.9 956.9 1800.9 956.9 1802.9 956.9 1804.9 956.9 1806.9 956.9 1808.9 956.9 1810.9 956.9 1812.9 956.9 1814.9 956.9 1816.9 957.0 1818.9 957.0 1820.9 957.1 1822.9 957.2 1824.9 957.3 1826.9 957.4 1828.9 957.6 1830.9 957.7 1832.9 957.8 1834.9 957.9 1836.9 958.0 1838.9 958.2 1840.9 958.3 1842.9 958.4 1844.9 958.4 1846.9 958.5 1848.9 958.6 1850.9 958.6 1852.9 958.6 1854.9 958.6 1856.9 958.6 1858.9 958.6 1860.9 958.6 1862.9 958.6 1864.9 958.6 1866.9 958.6 1868.9 958.6 1870.9 958.6 1872.9 958.6 1874.9 958.6 1876.9 958.6 1878.9 958.6 1880.9 958.6 1882.9 958.6 1884.9 958.5 1886.9 958.5 1888.9 958.4 1890.9 958.4 1892.9 958.3 1894.9 958.2 1896.9 958.0 1898.9 957.9 1900.9 957.8 1902.9 957.6 1904.9 957.4 1906.9 957.3 1908.9 957.1 1910.9 956.9 1912.9 956.7 1914.9 956.5 1916.9 956.3 1918.9 956.1 1920.9 955.9 1922.9 955.7 1924.9 955.5 1926.9 955.3 1928.9 955.1 1930.9 954.8 1932.9 954.6 1934.9 954.2 1936.9 953.9 1938.9 953.5 1940.9 953.1 1942.9 952.8 1944.9 952.4 1946.9 952.2 1948.9 952.0 1950.9 951.8 1952.9 951.6 1954.9 951.4 1956.9 951.2 1958.9 951.0 1959.6 951.2 1960.6 951.0 1961.5 950.9 1962.5 950.8 1963.4 950.6 1964.3 950.5 1965.2 950.4 1966.1 950.2 1967.0 950.1 1967.8 950.0 1968.7 949.9 1969.5 949.7 1970.3 949.6 1971.1 949.5 1971.9 949.3 1972.6 949.2 1973.4 949.1 1974.1 949.0 1974.9 948.8 1975.4 948.7 1975.8 948.5 1976.3 948.4 1976.7 948.3 1977.1 948.1 1977.6 947.9 1978.0 947.8 1978.4 947.6 1978.8 947.4 1979.2 947.2 1979.7 947.0 1980.1 946.8 1980.5 946.5 1980.8 946.3 1981.2 946.0 1981.6 945.7 1982.0 945.5 1982.4 945.2 1982.7 944.8 1983.1 944.5 1983.5 944.2 1983.8 943.8 1984.2 943.4 1984.5 943.0 1984.9 942.6 1985.2 942.1 1985.6 941.6 1985.9 941.1 1986.2 940.6 1986.6 940.1 1986.9 939.5 1987.3 938.9 1987.8 938.2 1988.3 937.6 1988.8 936.9 1989.2 936.1 1989.7 935.3 1990.1 934.5 1990.6 933.6 1991.0 932.7 1991.4 931.8 1991.9 931.5 1992.3 930.4 1992.7 929.3 1993.1 928.1 1993.4 926.9 1993.8 925.6 1994.2 924.2 1994.6 922.8 1995.0 921.3 1995.3 919.7 1995.7 918.1 1996.1 916.3 1996.4 914.5 1996.7 912.5 1997.1 910.5 1997.4 908.3 1997.7 906.1 1998.0 903.7 1998.3 901.2 1998.6 898.6 1998.8 895.8 1999.1 892.9 1999.4 889.9 1999.6 886.7 1999.9 883.3 2000.2 879.7 2000.6 876.0 2000.9 872.1 2001.3 868.0 2001.6 863.6 2001.8 859.1 2001.9 854.3 2002.1 849.2 2002.2 843.9 2002.3 838.3 2002.4 832.5 2002.6 826.3 2002.7 819.8 2002.8 813.0 2002.9 805.8 2003.0 798.2 2003.1 790.3 2003.2 781.9 2003.3 773.2 2003.3 763.9 2003.4 754.2 2003.5 744.0 2003.6 733.2 2003.6 722.0 2003.7 710.1 2003.8 697.6 2003.8 684.4 2003.9 670.6 2004.0 656.1 2004.1 640.8 2004.1 624.7 2004.2 607.8 2004.3 590.1 2004.4 571.4 2004.4 551.7 2004.5 531.0 2004.6 509.3 2004.6 486.4 2004.7 462.4 2004.8 437.1 2004.9 410.5 2004.9 382.6 2005.0 353.1 2005.0 322.2 2005.1 289.7 2005.1 255.5 2005.2 219.5 2005.2 181.7 2005.3 141.9 2005.3 100.1 2005.4 56.1 2005.4 11.8 2005.5 11.8 2005.6 11.8 2005.6 11.8 2005.7 11.8 2005.8 11.8 2005.9 11.8 2005.9 11.8 2006.0 11.8 2006.1 11.8 2006.1 11.8 2006.2 11.8 2006.3 11.8 2006.3 11.8 2006.4 11.8 2006.5 11.8 2006.5 11.8 2006.6 11.8 2006.7 11.8 2006.7 11.8 2006.8 11.8 2006.9 11.8 2006.9 11.8 2007.0 11.8 2023.5 11.8 2023.6 11.8 2023.6 11.8 2023.7 11.8 2023.8 11.8 2023.8 11.8 2023.9 11.8 2024.0 11.8 2024.0 11.8 2024.1 11.8 2024.2 11.8 2024.2 11.8 2024.3 11.8 2024.4 11.8 2024.4 11.8 2024.5 11.8 2024.6 11.8 2024.6 11.8 2024.7 11.8 2024.8 11.8 2024.9 11.8 2024.9 11.8 2025.0 11.8 2025.1 11.8 2025.2 56.1 2025.3 100.1 2025.4 141.9 2025.5 181.7 2025.6 219.5 2025.7 255.5 2025.8 289.7 2025.9 322.2 2026.0 353.1 2026.1 382.6 2026.3 410.5 2026.4 437.1 2026.6 462.4 2026.7 486.4 2026.8 509.3 2027.0 531.0 2027.1 551.7 2027.3 571.4 2027.4 590.1 2027.6 607.8 2027.7 624.7 2027.9 640.8 2028.1 656.1 2028.3 670.6 2028.5 684.4 2028.7 697.6 2028.9 710.1 2029.1 722.0 2029.3 733.2 2029.5 744.0 2029.7 754.2 2030.0 763.9 2030.2 773.2 2030.4 781.9 2030.6 790.3 2030.9 798.2 2031.2 805.8 2031.6 813.0 2032.1 819.8 2032.5 826.3 2033.0 832.5 2033.4 838.3 2033.9 843.9 2034.4 849.2 2034.9 854.3 2035.5 859.1 2035.9 863.6 2036.3 868.0 2036.7 872.1 2037.2 876.0 2037.6 879.7 2038.0 883.3 2038.4 886.7 2038.9 889.9 2039.3 892.9 2039.8 895.8 2040.3 898.6 2040.7 901.2 2041.1 903.7 2041.5 906.1 2041.9 908.3 2042.3 910.5 2042.7 912.5 2043.1 914.5 2043.5 916.3 2043.9 918.1 2044.4 919.7 2044.8 921.3 2045.2 922.8 2045.6 924.2 2046.0 925.6 2046.4 926.9 2046.9 928.1 2047.3 929.3 2047.7 930.4 2048.1 931.5 2048.6 931.8 2049.0 932.7 2049.5 933.6 2049.9 934.5 2050.4 935.3 2050.9 936.1 2051.3 936.9 2051.8 937.6 2052.3 938.2 2052.8 938.9 2053.3 939.5 2053.8 940.1 2054.3 940.6 2054.9 941.1 2055.5 941.6 2056.2 942.1 2056.9 942.6 2057.6 943.0 2058.3 943.4 2059.1 943.8 2059.8 944.2 2060.6 944.5 2061.4 944.8 2062.2 945.2 2063.0 945.5 2063.8 945.7 2064.6 946.0 2065.5 946.3 2066.3 946.5 2067.2 946.8 2068.1 947.0 2069.0 947.2 2070.0 947.4 2070.9 947.6 2071.8 947.8 2072.8 947.9 2073.8 948.1 2074.8 948.3 2075.0 948.4 2075.0 948.5 2075.0 948.7 2075.0 948.8 2075.0 948.9 2075.0 949.0 2075.0 949.2 2075.0 949.3 2075.0 949.4 2075.0 949.5 2075.0 949.5 2075.0 949.6 2075.0 949.7 2075.0 949.8 2075.0 949.9 2075.0 949.9 2075.0 950.0 2075.0 950.1 2075.0 950.1 2075.0 950.2 2075.0 950.2 2075.0 950.3 2075.0 951.7 2075.0 951.7 2075.0 951.6 2075.0 951.6 2075.0 951.5 2075.0 951.4 2075.0 951.4 2075.0 951.3 2075.0 951.2 2075.0 951.1 2075.0 951.1 2075.0 951.0 2075.0 950.9 2075.0 950.8 2075.0 950.7 2075.0 950.6 2075.0 950.5 2075.0 950.4 2075.0 950.2 2075.0 950.1 2075.0 950.0 2075.0 949.8 2074.8 949.7 2073.8 949.5 2072.8 949.4 2071.8 949.2 2070.9 949.0 2070.0 948.8 2069.0 948.6 2068.1 948.4 2067.2 948.2 2066.3 948.0 2065.5 947.7 2064.6 947.5 2063.8 947.2 2063.0 946.9 2062.2 946.6 2061.4 946.3 2060.6 945.9 2059.8 945.6 2059.1 945.2 2058.3 944.8 2057.6 944.4 2056.9 944.0 2056.2 943.6 2055.5 943.1 2054.9 942.6 2054.3 942.1 2053.8 941.5 2053.3 940.9 2052.8 940.3 2052.3 939.7 2051.8 939.0 2051.3 938.3 2050.9 937.6 2050.4 936.8 2049.9 935.9 2049.5 935.1 2049.0 934.2 2048.6 933.2 2048.1 931.5 2047.7 930.4 2047.3 929.3 2046.9 928.1 2046.4 926.9 2046.0 925.6 2045.6 924.2 2045.2 922.8 2044.8 921.3 2044.4 919.7 2043.9 918.1 2043.5 916.3 2043.1 914.5 2042.7 912.5 2042.3 910.5 2041.9 908.3 2041.5 906.1 2041.1 903.7 2040.7 901.2 2040.3 898.6 2039.8 895.8 2039.3 892.9 2038.9 889.9 2038.4 886.7 2038.0 883.3 2037.6 879.7 2037.2 876.0 2036.7 872.1 2036.3 868.0 2035.9 863.6 2035.5 859.1 2034.9 854.3 2034.4 849.2 2033.9 843.9 2033.4 838.3 2033.0 832.5 2032.5 826.3 2032.1 819.8 2031.6 813.0 2031.2 805.8 2030.9 798.2 2030.6 790.3 2030.4 781.9 2030.2 773.2 2030.0 763.9 2029.7 754.2 2029.5 744.0 2029.3 733.2 2029.1 722.0 2028.9 710.1 2028.7 697.6 2028.5 684.4 2028.3 670.6 2028.1 656.1 2027.9 640.8 2027.7 624.7 2027.6 607.8 2027.4 590.1 2027.3 571.4 2027.1 551.7 2027.0 531.0 2026.8 509.3 2026.7 486.4 2026.6 462.4 2026.4 437.1 2026.3 410.5 2026.1 382.6 2026.0 353.1 2025.9 322.2 2025.8 289.7 2025.7 255.5 2025.6 219.5 2025.5 181.7 2025.4 141.9 2025.3 100.1 2025.2 56.1 2025.1 11.8 2025.0 11.8 2024.9 11.8 2024.9 11.8 2024.8 11.8 2024.7 11.8 2024.6 11.8 2024.6 11.8 2024.5 11.8 2024.4 11.8 2024.4 11.8 2024.3 11.8 2024.2 11.8 2024.2 11.8 2024.1 11.8 2024.0 11.8 2024.0 11.8 2023.9 11.8 2023.8 11.8 2023.8 11.8 2023.7 11.8 2023.6 11.8 2023.6 11.8 2023.5 11.8 2007.0 11.8 2006.9 11.8 2006.9 11.8 2006.8 11.8 2006.7 11.8 2006.7 11.8 2006.6 11.8 2006.5 11.8 2006.5 11.8 2006.4 11.8 2006.3 11.8 2006.3 11.8 2006.2 11.8 2006.1 11.8 2006.1 11.8 2006.0 11.8 2005.9 11.8 2005.9 11.8 2005.8 11.8 2005.7 11.8 2005.6 11.8 2005.6 11.8 2005.5 11.8 2005.4 11.8 2005.4 56.1 2005.3 100.1 2005.3 141.9 2005.2 181.7 2005.2 219.5 2005.1 255.5 2005.1 289.7 2005.0 322.2 2005.0 353.1 2004.9 382.6 2004.9 410.5 2004.8 437.1 2004.7 462.4 2004.6 486.4 2004.6 509.3 2004.5 531.0 2004.4 551.7 2004.4 571.4 2004.3 590.1 2004.2 607.8 2004.1 624.7 2004.1 640.8 2004.0 656.1 2003.9 670.6 2003.8 684.4 2003.8 697.6 2003.7 710.1 2003.6 722.0 2003.6 733.2 2003.5 744.0 2003.4 754.2 2003.3 763.9 2003.3 773.2 2003.2 781.9 2003.1 790.3 2003.0 798.2 2002.9 805.8 2002.8 813.0 2002.7 819.8 2002.6 826.3 2002.4 832.5 2002.3 838.3 2002.2 843.9 2002.1 849.2 2001.9 854.3 2001.8 859.1 2001.6 863.6 2001.3 868.0 2000.9 872.1 2000.6 876.0 2000.2 879.7 1999.9 883.3 1999.6 886.7 1999.4 889.9 1999.1 892.9 1998.8 895.8 1998.6 898.6 1998.3 901.2 1998.0 903.7 1997.7 906.1 1997.4 908.3 1997.1 910.5 1996.7 912.5 1996.4 914.5 1996.1 916.3 1995.7 918.1 1995.3 919.7 1995.0 921.3 1994.6 922.8 1994.2 924.2 1993.8 925.6 1993.4 926.9 1993.1 928.1 1992.7 929.3 1992.3 930.4 1991.9 931.5 1991.4 933.2 1991.0 934.2 1990.6 935.1 1990.1 935.9 1989.7 936.8 1989.2 937.6 1988.8 938.3 1988.3 939.0 1987.8 939.7 1987.3 940.3 1986.9 940.9 1986.6 941.5 1986.2 942.1 1985.9 942.6 1985.6 943.1 1985.2 943.6 1984.9 944.0 1984.5 944.4 1984.2 944.8 1983.8 945.2 1983.5 945.6 1983.1 945.9 1982.7 946.3 1982.4 946.6 1982.0 946.9 1981.6 947.2 1981.2 947.5 1980.8 947.7 1980.5 948.0 1980.1 948.2 1979.7 948.4 1979.2 948.6 1978.8 948.8 1978.4 949.0 1978.0 949.2 1977.6 949.4 1977.1 949.5 1976.7 949.7 1976.3 949.8 1975.8 950.0 1975.4 950.1 1974.9 950.3 1974.1 950.4 1973.4 950.5 1972.6 950.7 1971.9 950.8 1971.1 950.9 1970.3 951.0 1969.5 951.2 1968.7 951.3 1967.8 951.4 1967.0 951.6 1966.1 951.7 1965.2 951.8 1964.3 951.9 1963.4 952.1 1962.5 952.2 1961.5 952.3 1960.6 952.5 1959.6 952.6 1958.9 954.9 1956.9 955.1 1954.9 955.3 1952.9 955.5 1950.9 955.7 1948.9 955.9 1946.9 956.1 1944.9 956.3 1942.9 956.6 1940.9 957.0 1938.9 957.3 1936.9 957.7 1934.9 958.1 1932.9 958.4 1930.9 958.7 1928.9 958.9 1926.9 959.1 1924.9 959.3 1922.9 959.6 1920.9 959.8 1918.9 960.0 1916.9 960.2 1914.9 960.4 1912.9 960.6 1910.9 960.7 1908.9 960.9 1906.9 961.1 1904.9 961.3 1902.9 961.4 1900.9 961.6 1898.9 961.7 1896.9 961.8 1894.9 962.0 1892.9 962.1 1890.9 962.2 1888.9 962.2 1886.9 962.3 1884.9 962.3 1882.9 962.4 1880.9 962.4 1878.9 962.4 1876.9 962.4 1874.9 962.4 1872.9 962.4 1870.9 962.4 1868.9 962.4 1866.9 962.4 1864.9 962.4 1862.9 962.4 1860.9 962.4 1858.9 962.4 1856.9 962.4 1854.9 962.4 1852.9 962.4 1850.9 962.4 1848.9 962.4 1846.9 962.3 1844.9 962.2 1842.9 962.2 1840.9 962.1 1838.9 962.0 1836.9 961.8 1834.9 961.7 1832.9 961.6 1830.9 961.5 1828.9 961.4 1826.9 961.3 1824.9 961.1 1822.9 961.0 1820.9 960.9 1818.9 960.9 1816.9 960.8 1814.9 960.8 1812.9 960.7 1810.9 960.7 1808.9 960.7 1806.9 960.7 1804.9 960.7 1802.9 960.7 1800.9 960.7 1798.9 960.7 1796.9 960.7 1794.9 960.7 1792.9 960.7 1790.9 960.7 1788.9 960.7 1786.9 960.7 1784.9 960.7 1782.9 960.7 1780.9 960.7 1778.9 960.7 1776.9 960.7 1774.9 960.7 1772.9 960.7 1770.9 960.7 1768.9 960.7 1766.9 960.7 1764.9 960.7 1762.9 960.7 1760.9 960.6 1758.9 960.5 1756.9 960.5 1754.9 960.4 1752.9 960.3 1750.9 960.2 1748.9 960.0 1746.9 959.9 1744.9 959.8 1742.9 959.7 1740.9 959.5 1738.9 959.4 1736.9 959.2 1734.9 959.1 1732.9 959.0 1730.9 958.9 1728.9 958.7 1726.9 958.6 1724.9 958.5 1722.9 958.4 1720.9 958.3 1718.9 958.2 1716.9 958.1 1714.9 958.0 1712.9 957.9 1710.9 957.8 1708.9 957.8 1706.9 957.7 1704.9 957.6 1702.9 957.5 1700.9 957.4 1698.9 957.3 1696.9 957.2 1694.9 957.1 1692.9 957.0 1690.9 956.9 1688.9 956.8 1686.9 956.7 1684.9 956.5 1682.9 956.4 1680.9 956.3 1678.9 956.2 1676.9 956.1 1674.9 956.0 1672.9 955.9 1670.9 955.7 1668.9 955.6 1666.9 955.5 1664.9 955.4 1662.9 955.2 1660.9 955.1 1658.9 955.0 1656.9 954.8 1654.9 954.7 1652.9 954.5 1650.9 954.4 1648.9 954.2 1646.9 954.1 1644.9 953.9 1642.9 953.8 1640.9 953.6 1638.9 953.5 1636.9 953.3 1634.9 953.2 1632.9 953.0 1630.9 952.8 1628.9 952.6 1626.9 952.5 1624.9 952.3 1622.9 952.1 1620.9 951.9 1618.9 951.7 1616.9 951.5 1614.9 951.3 1612.9 951.1 1610.9 950.9 1608.9 950.7 1606.9 950.5 1604.9 950.3 1602.9 950.1 1600.9 949.9 1598.9 949.6 1596.9 949.4 1594.9 949.2 1592.9 949.0 1590.9 948.8 1588.9 948.5 1586.9 948.3 1584.9 948.1 1582.9 947.8 1580.9 947.6 1578.9 947.3 1576.9 947.0 1574.9 946.7 1572.9 946.4 1570.9 946.1 1568.9 945.7 1566.9 945.4 1564.9 945.0 1562.9 944.5 1560.9 943.8 1558.9 943.1 1556.9 942.3 1554.9 941.6 1552.9 940.9 1550.9 940.3 1548.9 939.9 1546.9 939.3 1544.9 938.0 1542.9 934.9 1540.9 928.5 1538.9 917.1 1536.9 900.8 1534.9 882.3 1532.9 867.4 1530.9 862.0 1528.9 869.5 1526.9 887.0 1524.9 906.6 1522.9 922.1 1520.9 931.3 1518.9 935.7 1516.9 937.3 1514.9 937.8 1512.9 937.8 1510.9 937.7 1508.9 937.6 1506.9 937.5 1504.9 937.3 1502.9 937.2 1500.9 937.1 1498.9 936.9 1496.9 936.8 1494.9 936.6 1492.9 936.5 1490.9 936.3 1488.9 936.2 1486.9 936.0 1484.9 935.9 1482.9 935.7 1480.9 935.6 1478.9 935.4 1476.9 935.3 1474.9 935.2 1472.9 935.1 1470.9 934.9 1468.9 934.8 1466.9 934.7 1464.9 934.7 1462.9 934.6 1460.9 934.5 1458.9 934.4 1456.9 934.3 1454.9 934.2 1452.9 934.1 1450.9 934.1 1448.9 934.0 1446.9 933.9 1444.9 933.8 1442.9 933.7 1440.9 933.6 1438.9 933.5 1436.9 933.4 1434.9 933.3 1432.9 933.2 1430.9 933.1 1428.9 932.9 1426.9 932.8 1424.9 932.6 1422.9 932.4 1420.9 932.3 1418.9 932.1 1416.9 931.9 1414.9 931.7 1412.9 931.4 1410.9 931.2 1408.9 931.0 1406.9 930.8 1404.9 930.6 1402.9 930.4 1400.9 930.2 1398.9 930.0 1396.9 929.8 1394.9 929.6 1392.9 929.4 1390.9 929.3 1388.9 929.2 1386.9 929.0 1384.9 928.9 1382.9 928.8 1380.9 928.7 1378.9 928.6 1376.9 928.5 1374.9 928.4 1372.9 928.3 1370.9 928.2 1368.9 928.1 1366.9 928.0 1364.9 928.0 1362.9 927.9 1360.9 927.8 1358.9 927.7 1356.9 927.6 1354.9 927.5 1352.9 927.5 1350.9 927.4 1348.9 927.3 1346.9 927.2 1344.9 927.1 1342.9 927.0 1340.9 926.9 1338.9 926.8 1336.9 926.7 1334.9 926.6 1332.9 926.6 1330.9 926.5 1328.9 926.4 1326.9 926.3 1324.9 926.2 1322.9 926.1 1320.9 926.0 1318.9 925.9 1316.9 925.8 1314.9 925.7 1312.9 925.6 1310.9 925.5 1308.9 925.4 1306.9 925.3 1304.9 925.2 1302.9 925.1 1300.9 925.0 1298.9 924.9 1296.9 924.8 1294.9 924.7 1292.9 924.5 1290.9 924.4 1288.9 924.3 1286.9 924.2 1284.9 924.1 1282.9 923.9 1280.9 923.8 1278.9 923.7 1276.9 923.6 1274.9 923.4 1272.9 923.3 1270.9 923.2 1268.9 923.1 1266.9 922.9 1264.9 922.8 1262.9 922.7 1260.9 922.6 1258.9 922.4 1256.9 922.3 1254.9 922.2 1252.9 922.1 1250.9 922.0 1248.9 921.9 1246.9 921.7 1244.9 921.6 1242.9 921.5 1240.9 921.4 1238.9 921.3 1236.9 921.1 1234.9 921.0 1232.9 920.9 1230.9 920.8 1228.9 920.6 1226.9 920.5 1224.9 920.4 1222.9 920.2 1220.9 920.1 1218.9 919.9 1216.9 919.7 1214.9 919.5 1212.9 919.4 1210.9 919.2 1208.9 919.0 1206.9 918.8 1204.9 918.5 1202.9 918.3 1200.9 918.1 1198.9 917.9 1196.9 917.7 1194.9 917.5 1192.9 917.3 1190.9 917.1 1188.9 916.9 1186.9 916.7 1184.9 916.6 1182.9 916.4 1180.9 916.3 1178.9 916.2 1176.9 916.0 1174.9 915.9 1172.9 915.8 1170.9 915.7 1168.9 915.6 1166.9 915.5 1164.9 915.4 1162.9 915.3 1160.9 915.2 1158.9 915.1 1156.9 915.1 1154.9 915.0 1152.9 914.9 1150.9 914.8 1148.9 914.7 1146.9 914.6 1144.9 914.6 1142.9 914.5 1140.9 914.4 1138.9 914.3 1136.9 914.2 1134.9 914.1 1132.9 914.0 1130.9 913.9 1128.9 913.9 1126.9 913.8 1124.9 913.7 1122.9 913.6 1120.9 913.6 1118.9 913.5 1116.9 913.4 1114.9 913.3 1112.9 913.3 1110.9 913.2 1108.9 913.1 1106.9 913.0 1104.9 912.9 1102.9 912.8 1100.9 912.7 1098.9 912.6 1096.9 912.5 1094.9 912.3 1092.9 912.2 1090.9 912.0 1088.9 911.7 1086.9 911.3 1084.9 910.9 1082.9 910.4 1080.9 909.9 1078.9 909.4 1076.9 908.8 1074.9 908.2 1072.9 907.6 1070.9 907.0 1068.9 906.4 1066.9 905.8 1064.9 905.3 1062.9 904.8 1060.9 904.3 1058.9 904.0 1056.9 903.6 1054.9 903.4 1052.9 903.2 1050.9 903.0 1048.9 902.7 1046.9 902.0 1044.9 900.9 1042.9 899.0 1040.9 896.2 1038.9 892.8 1036.9 889.0 1034.9 885.8 1032.9 883.7 1030.9 883.5 1028.9 885.8 1026.9 889.9 1024.9 894.7 1022.9 898.9 1020.9 901.9 1018.9 903.8 1016.9 904.8 1014.9 905.3 1012.9 905.5 1010.9 905.7 1008.9 905.7 1006.9 905.7 1004.9 905.7 1002.9 905.7 1000.9 905.7 998.9 905.7 996.9 905.7 994.9 905.7 992.9 905.7 990.9 905.7 988.9 905.7 986.9 905.7 984.9 905.7 982.9 905.7 980.9 905.7 978.9 905.7 976.9 905.7 974.9 905.7 972.9 905.7 970.9 905.7 968.9 905.7 966.9 905.7 964.9 905.7 962.9 905.7 960.9 905.7 958.9 905.7 956.9 905.7 954.9 905.7 952.9 905.7 950.9 905.7 948.9 905.7 946.9 905.7 944.9 905.7 942.9 905.7 940.9 905.7 938.9 905.7 936.9 905.7 934.9 905.7 932.9 905.7 930.9 905.7 928.9 905.7 926.9 905.7 924.9 905.7 922.9 905.7 920.9 905.7 918.9 905.7 916.9 905.7 914.9 905.7 912.9 905.7 910.9 905.7 908.9 905.7 906.9 905.7 904.9 905.7 902.9 905.7 900.9 905.7 898.9 905.7 896.9 905.7 894.9 905.7 892.9 905.7 890.9 905.8 888.9 905.8 886.9 905.8 884.9 905.9 882.9 906.0 880.9 906.0 878.9 906.1 876.9 906.2 874.9 906.3 872.9 906.4 870.9 906.5 868.9 906.6 866.9 906.7 864.9 906.8 862.9 907.0 860.9 907.1 858.9 907.2 856.9 907.3 854.9 907.4 852.9 907.6 850.9 907.7 848.9 907.8 846.9 907.9 844.9 908.0 842.9 908.1 840.9 908.3 838.9 908.4 836.9 908.5 834.9 908.6 832.9 908.7 830.9 908.8 828.9 908.9 826.9 909.0 824.9 909.2 822.9 909.3 820.9 909.4 818.9 909.5 816.9 909.6 814.9 909.8 812.9 909.9 810.9 910.0 808.9 910.1 806.9 910.3 804.9 910.4 802.9 910.5 800.9 910.7 798.9 910.8 796.9 910.9 794.9 911.1 792.9 911.2 790.9 911.4 788.9 911.5 786.9 911.6 784.9 911.8 782.9 911.9 780.9 912.1 778.9 912.3 776.9 912.4 774.9 912.6 772.9 912.7 770.9 912.9 768.9 913.1 766.9 913.2 764.9 913.4 762.9 913.6 760.9 913.7 758.9 913.9 756.9 914.1 754.9 914.3 752.9 914.5 750.9 914.7 748.9 914.9 746.9 915.1 744.9 915.3 742.9 915.5 740.9 915.8 738.9 916.0 736.9 916.3 734.9 916.5 732.9 916.8 730.9 917.0 728.9 917.3 726.9 917.6 724.9 917.8 722.9 918.1 720.9 918.4 718.9 918.7 716.9 919.0 714.9 919.3 712.9 919.5 710.9 919.8 708.9 920.1 706.9 920.4 704.9 920.7 702.9 921.0 700.9 921.3 698.9 921.6 696.9 921.8 694.9 922.1 692.9 922.4 690.9 922.7 688.9 922.9 686.9 923.2 684.9 923.5 682.9 923.7 680.9 924.0 678.9 924.2 676.9 924.4 674.9 924.7 672.9 924.9 670.9 925.1 668.9 925.3 666.9 925.6 664.9 925.8 662.9 926.0 660.9 926.2 658.9 926.4 656.9 926.6 654.9 926.8 652.9 927.0 650.9 927.2 648.9 927.3 646.9 927.5 644.9 927.7 642.9 927.9 640.9 928.1 638.9 928.3 636.9 928.5 634.9 928.6 632.9 928.8 630.9 929.0 628.9 929.2 626.9 929.4 624.9 929.5 622.9 929.7 620.9 929.9 618.9 930.1 616.9 930.2 614.9 930.4 612.9 930.6 610.9 930.8 608.9 930.9 606.9 931.1 604.9 931.3 602.9 931.5 600.9 931.6 598.9 931.8 596.9 932.0 594.9 932.2 592.9 932.4 590.9 932.5 588.9 932.7 586.9 932.9 584.9 933.1 582.9 933.3 580.9 933.5 578.9 933.6 576.9 933.8 574.9 934.0 572.9 934.2 570.9 934.4 568.9 934.6 566.9 934.8 564.9 934.9 562.9 935.1 560.9 935.3 558.9 935.5 556.9 935.7 554.9 935.9 552.9 936.0 550.9 936.2 548.9 936.4 546.9 936.6 544.9 936.8 542.9 937.0 540.9 937.2 538.9 937.3 536.9 937.5 534.9 937.7 532.9 937.9 530.9 938.1 528.9 938.3 526.9 938.5 524.9 938.6 522.9 938.8 520.9 939.0 518.9 939.2 516.9 939.4 514.9 939.6 512.9 939.8 510.9 940.0 508.9 940.1 506.9 940.3 504.9 940.5 502.9 940.5 500.9 940.2 498.9 939.3 496.9 937.5 494.9 935.3 492.9 933.9 490.9 934.2 488.9 936.1 486.9 938.7 484.9 940.8 482.9 942.0 480.9 942.6 478.9 943.0 476.9 943.2 474.9 943.4 472.9 943.6 470.9 943.8 468.9 943.9 466.9 944.1 464.9 944.3 462.9 944.5 460.9 944.7 458.9 944.9 456.9 945.1 454.9 945.4 452.9 945.6 450.9 945.9 448.9 946.1 446.9 946.4 444.9 946.6 442.9 946.9 440.9 947.1 438.9 947.4 436.9 947.7 434.9 947.9 432.9 948.2 430.9 948.4 428.9 948.6 426.9 948.9 424.9 949.1 422.9 949.3 420.9 949.5 418.9 949.7 416.9 949.9 414.9 950.0 412.9 950.2 410.9 950.3 408.9 950.4 406.9 950.5 404.9 950.5 402.9 950.6 400.9 950.6 398.9 950.6 396.9 950.6 394.9 950.6 392.9 950.6 390.9 950.6 388.9 950.6 386.9 950.6 384.9 950.6 382.9 950.6 380.9 950.6 378.9 950.6 376.9 950.6 374.9 950.6 372.9 950.6 370.9 950.6 368.9 950.6 366.9 950.6 364.9 950.6 362.9 950.6 360.9 950.6 358.9 950.6 356.9 950.6 354.9 950.6 352.9 950.6 350.9 950.6 348.9 950.6 346.9 950.6 344.9 950.6 342.9 950.6 340.9 950.6 338.9 950.6 336.9 950.6 334.9 950.5 332.9 950.5 330.9 950.5 328.9 950.4 326.9 950.4 324.9 950.3 322.9 950.3 320.9 950.2 318.9 950.1 316.9 950.1 314.9 950.0 312.9 949.9 310.9 949.8 308.9 949.7 306.9 949.6 304.9 949.5 302.9 949.4 300.9 949.3 298.9 949.2 296.9 949.1 294.9 949.0 292.9 948.9 290.9 948.8 288.9 948.7 286.9 948.6 284.9 948.5 282.9 948.5 280.9 948.4 278.9 948.3 276.9 948.2 274.9 948.1 272.9 948.0 270.9 948.0 268.9 947.9 266.9 947.8 264.9 947.8 262.9 947.7 260.9 947.7 258.9 947.7 256.9 947.6 254.9 947.6 252.9 947.6 250.9 947.6 248.9 947.6 246.9 947.6 244.9 947.6 242.9 947.6 240.9 947.6 238.9 947.6 236.9 947.6 234.9 947.6 232.9 947.7 230.9 947.7 228.9 947.7 226.9 947.7 224.9 947.7 222.9 947.7 220.9 947.8 218.9 947.8 216.9 947.8 214.9 947.9 212.9 947.9 210.9 947.9 208.9 948.0 206.9 948.0 204.9 948.0 202.9 948.1 200.9 948.1 198.9 948.2 196.9 948.2 194.9 948.3 192.9 948.3 190.9 948.4 188.9 948.4 186.9 948.5 184.9 948.5 182.9 948.6 180.9 948.7 178.9 948.7 176.9 948.8 174.9 948.9 172.9 948.9 170.9 949.0 168.9 949.1 166.9 949.2 164.9 949.3 162.9 949.3 160.9 949.4 158.9 949.5 156.9 949.6 154.9 949.7 152.9 949.8 150.9 949.9 148.9 950.0 146.9 950.1 144.9 950.2 142.9 950.4 140.9 950.5 138.9 950.6Z" fill="#111" stroke="none"/>
<path d="M138.9 946.0L140.9 952.4 142.9 945.8 144.9 953.7 146.9 944.5 148.9 949.0 150.9 946.1 152.9 944.8 154.9 945.9 156.9 941.5 158.9 950.2 160.9 948.5 162.9 946.7 164.9 946.1 166.9 950.8 168.9 943.5 170.9 948.7 172.9 946.5 174.9 946.5 176.9 946.7 178.9 945.8 180.9 945.3 182.9 946.3 184.9 943.5 186.9 948.2 188.9 949.1 190.9 950.4 192.9 947.9 194.9 946.8 196.9 947.4 198.9 944.3 200.9 948.5 202.9 947.7 204.9 946.6 206.9 943.7 208.9 944.4 210.9 945.2 212.9 948.0 214.9 946.5 216.9 943.5 218.9 946.5 220.9 944.2 222.9 943.2 224.9 943.7 226.9 947.2 228.9 946.8 230.9 950.2 232.9 947.4 234.9 947.4 236.9 943.9 238.9 944.9 240.9 944.2 242.9 947.1 244.9 944.8 246.9 947.5 248.9 940.6 250.9 946.5 252.9 949.6 254.9 948.6 256.9 945.7 258.9 949.3 260.9 945.6 262.9 948.3 264.9 943.0 266.9 947.9 268.9 942.7 270.9 942.5 272.9 946.5 274.9 949.3 276.9 945.2 278.9 943.6 280.9 946.9 282.9 942.6 284.9 948.5 286.9 949.1 288.9 944.7 290.9 946.8 292.9 949.5 294.9 944.4 296.9 945.1 298.9 948.0 300.9 946.5 302.9 945.7 304.9 946.1 306.9 949.5 308.9 945.8 310.9 952.1 312.9 948.5 314.9 946.0 316.9 944.2 318.9 945.8 320.9 947.0 322.9 948.1 324.9 950.1 326.9 946.4 328.9 945.3 330.9 949.7 332.9 949.2 334.9 947.3 336.9 947.2 338.9 946.7 340.9 953.2 342.9 945.3 344.9 945.7 346.9 949.5 348.9 942.4 350.9 949.6 352.9 946.8 354.9 948.8 356.9 949.9 358.9 948.6 360.9 950.4 362.9 948.5 364.9 946.3 366.9 942.8 368.9 950.0 370.9 952.4 372.9 948.1 374.9 947.4 376.9 944.1 378.9 952.7 380.9 948.8 382.9 949.2 384.9 946.7 386.9 950.4 388.9 947.1 390.9 949.7 392.9 947.4 394.9 946.0 396.9 951.5 398.9 946.3 400.9 950.4 402.9 950.8 404.9 947.9 406.9 947.5 408.9 948.9 410.9 947.9 412.9 949.1 414.9 947.2 416.9 949.8 418.9 948.1 420.9 946.7 422.9 944.4 424.9 947.0 426.9 946.0 428.9 946.4 430.9 946.9 432.9 947.3 434.9 945.7 436.9 944.8 438.9 943.3 440.9 944.1 442.9 940.2 444.9 946.0 446.9 942.5 448.9 939.7 450.9 938.4 452.9 942.2 454.9 942.7 456.9 944.4 458.9 941.7 460.9 945.2 462.9 941.9 464.9 946.2 466.9 941.0 468.9 943.8 470.9 943.4 472.9 942.2 474.9 942.1 476.9 940.3 478.9 937.8 480.9 940.6 482.9 941.4 484.9 935.3 486.9 935.3 488.9 932.7 490.9 932.2 492.9 934.7 494.9 932.5 496.9 937.4 498.9 938.9 500.9 938.2 502.9 941.2 504.9 936.6 506.9 937.4 508.9 941.5 510.9 935.3 512.9 936.2 514.9 938.3 516.9 937.9 518.9 936.3 520.9 935.6 522.9 932.7 524.9 938.2 526.9 933.5 528.9 934.3 530.9 934.8 532.9 934.4 534.9 936.0 536.9 935.9 538.9 933.8 540.9 932.8 542.9 932.6 544.9 935.1 546.9 935.3 548.9 931.7 550.9 931.8 552.9 934.2 554.9 935.1 556.9 929.9 558.9 938.1 560.9 931.5 562.9 932.1 564.9 931.1 566.9 930.2 568.9 930.6 570.9 936.1 572.9 933.3 574.9 932.5 576.9 933.9 578.9 931.8 580.9 932.6 582.9 928.5 584.9 929.3 586.9 928.3 588.9 931.0 590.9 927.5 592.9 931.3 594.9 928.9 596.9 931.9 598.9 928.5 600.9 928.0 602.9 928.2 604.9 929.4 606.9 926.9 608.9 925.1 610.9 928.1 612.9 926.2 614.9 927.5 616.9 928.8 618.9 926.2 620.9 926.4 622.9 927.6 624.9 932.0 626.9 922.4 628.9 924.9 630.9 925.0 632.9 926.7 634.9 925.1 636.9 929.3 638.9 926.6 640.9 927.7 642.9 925.2 644.9 929.6 646.9 932.2 648.9 922.9 650.9 924.8 652.9 925.8 654.9 921.5 656.9 925.8 658.9 923.4 660.9 927.2 662.9 921.6 664.9 923.6 666.9 922.0 668.9 920.5 670.9 923.5 672.9 925.1 674.9 920.6 676.9 918.6 678.9 921.4 680.9 924.4 682.9 921.9 684.9 920.3 686.9 922.7 688.9 921.5 690.9 926.0 692.9 923.6 694.9 917.6 696.9 922.7 698.9 916.3 700.9 923.1 702.9 920.1 704.9 917.2 706.9 919.9 708.9 915.0 710.9 920.1 712.9 919.7 714.9 915.3 716.9 918.2 718.9 915.8 720.9 917.4 722.9 917.9 724.9 915.6 726.9 917.1 728.9 914.2 730.9 913.3 732.9 918.4 734.9 916.5 736.9 916.1 738.9 910.6 740.9 914.3 742.9 912.5 744.9 911.9 746.9 914.5 748.9 915.1 750.9 909.6 752.9 912.4 754.9 912.9 756.9 913.6 758.9 908.3 760.9 911.0 762.9 913.1 764.9 909.1 766.9 914.6 768.9 910.2 770.9 908.9 772.9 906.0 774.9 910.4 776.9 909.1 778.9 912.4 780.9 914.3 782.9 909.7 784.9 910.4 786.9 910.1 788.9 912.6 790.9 908.9 792.9 912.9 794.9 906.1 796.9 908.6 798.9 905.9 800.9 909.5 802.9 911.4 804.9 911.6 806.9 909.3 808.9 909.1 810.9 904.1 812.9 905.8 814.9 909.4 816.9 907.6 818.9 905.2 820.9 902.1 822.9 907.3 824.9 905.4 826.9 907.8 828.9 913.4 830.9 912.0 832.9 906.7 834.9 909.0 836.9 905.1 838.9 908.1 840.9 904.2 842.9 907.2 844.9 905.1 846.9 905.8 848.9 907.0 850.9 900.4 852.9 912.0 854.9 903.9 856.9 909.8 858.9 907.7 860.9 906.4 862.9 902.6 864.9 904.8 866.9 905.6 868.9 905.8 870.9 903.6 872.9 908.9 874.9 905.8 876.9 905.1 878.9 901.0 880.9 906.1 882.9 907.5 884.9 903.4 886.9 899.4 888.9 905.3 890.9 902.3 892.9 901.2 894.9 908.3 896.9 903.3 898.9 901.1 900.9 900.0 902.9 902.5 904.9 907.7 906.9 901.6 908.9 901.8 910.9 904.2 912.9 902.0 914.9 907.5 916.9 903.8 918.9 902.2 920.9 902.8 922.9 901.9 924.9 906.4 926.9 903.9 928.9 901.8 930.9 904.2 932.9 902.2 934.9 902.0 936.9 898.2 938.9 900.2 940.9 902.3 942.9 902.6 944.9 906.6 946.9 905.7 948.9 903.9 950.9 906.6 952.9 904.7 954.9 903.4 956.9 905.8 958.9 904.7 960.9 905.6 962.9 901.7 964.9 905.2 966.9 909.0 968.9 905.6 970.9 901.3 972.9 910.3 974.9 905.4 976.9 906.0 978.9 900.5 980.9 906.6 982.9 903.9 984.9 900.5 986.9 902.8 988.9 904.2 990.9 906.7 992.9 906.2 994.9 902.2 996.9 904.7 998.9 904.4 1000.9 904.8 1002.9 900.6 1004.9 904.9 1006.9 901.6 1008.9 902.8 1010.9 903.1 1012.9 902.2 1014.9 902.7 1016.9 902.4 1018.9 896.8 1020.9 897.3 1022.9 897.2 1024.9 895.5 1026.9 892.2 1028.9 884.7 1030.9 883.3 1032.9 880.0 1034.9 882.9 1036.9 889.9 1038.9 889.6 1040.9 892.7 1042.9 899.4 1044.9 896.1 1046.9 898.5 1048.9 899.1 1050.9 904.2 1052.9 898.2 1054.9 898.0 1056.9 900.7 1058.9 903.9 1060.9 903.4 1062.9 905.9 1064.9 904.1 1066.9 902.7 1068.9 903.8 1070.9 908.6 1072.9 899.6 1074.9 902.7 1076.9 907.1 1078.9 908.1 1080.9 907.4 1082.9 912.1 1084.9 906.0 1086.9 912.0 1088.9 909.2 1090.9 911.5 1092.9 912.4 1094.9 909.1 1096.9 912.4 1098.9 909.4 1100.9 907.5 1102.9 910.8 1104.9 910.1 1106.9 916.7 1108.9 912.1 1110.9 911.4 1112.9 909.5 1114.9 907.9 1116.9 909.0 1118.9 908.6 1120.9 915.4 1122.9 910.0 1124.9 909.1 1126.9 913.2 1128.9 915.3 1130.9 918.1 1132.9 910.4 1134.9 914.3 1136.9 914.2 1138.9 912.2 1140.9 911.4 1142.9 910.7 1144.9 913.1 1146.9 912.4 1148.9 909.4 1150.9 912.6 1152.9 912.8 1154.9 912.2 1156.9 909.2 1158.9 913.4 1160.9 913.3 1162.9 917.3 1164.9 914.2 1166.9 916.5 1168.9 911.1 1170.9 914.5 1172.9 917.1 1174.9 913.3 1176.9 913.1 1178.9 913.4 1180.9 912.9 1182.9 911.1 1184.9 915.7 1186.9 916.4 1188.9 910.4 1190.9 913.9 1192.9 916.7 1194.9 919.0 1196.9 916.9 1198.9 914.4 1200.9 913.0 1202.9 920.0 1204.9 917.9 1206.9 918.6 1208.9 918.1 1210.9 918.1 1212.9 919.0 1214.9 918.8 1216.9 919.4 1218.9 914.5 1220.9 912.1 1222.9 917.9 1224.9 921.6 1226.9 916.5 1228.9 921.4 1230.9 920.0 1232.9 920.7 1234.9 921.8 1236.9 921.9 1238.9 916.0 1240.9 920.4 1242.9 921.7 1244.9 921.9 1246.9 920.2 1248.9 919.5 1250.9 916.4 1252.9 919.8 1254.9 919.1 1256.9 921.8 1258.9 921.7 1260.9 918.7 1262.9 921.8 1264.9 917.9 1266.9 917.9 1268.9 920.4 1270.9 923.7 1272.9 922.4 1274.9 924.4 1276.9 925.1 1278.9 920.4 1280.9 923.0 1282.9 923.0 1284.9 923.2 1286.9 922.6 1288.9 923.6 1290.9 920.6 1292.9 919.9 1294.9 914.5 1296.9 919.6 1298.9 920.8 1300.9 922.1 1302.9 920.0 1304.9 923.3 1306.9 923.3 1308.9 924.7 1310.9 923.3 1312.9 925.0 1314.9 925.9 1316.9 924.3 1318.9 922.3 1320.9 919.8 1322.9 924.1 1324.9 922.6 1326.9 925.6 1328.9 927.3 1330.9 928.9 1332.9 924.7 1334.9 924.0 1336.9 923.6 1338.9 924.3 1340.9 923.7 1342.9 925.5 1344.9 926.5 1346.9 927.6 1348.9 925.3 1350.9 922.7 1352.9 921.1 1354.9 921.8 1356.9 927.8 1358.9 921.7 1360.9 928.6 1362.9 929.1 1364.9 928.0 1366.9 925.7 1368.9 922.2 1370.9 924.2 1372.9 930.5 1374.9 927.6 1376.9 924.6 1378.9 923.4 1380.9 925.8 1382.9 929.2 1384.9 925.2 1386.9 926.2 1388.9 926.7 1390.9 929.1 1392.9 922.8 1394.9 930.3 1396.9 928.9 1398.9 930.2 1400.9 926.3 1402.9 929.8 1404.9 927.8 1406.9 927.9 1408.9 929.8 1410.9 931.0 1412.9 932.7 1414.9 930.3 1416.9 929.4 1418.9 927.3 1420.9 929.7 1422.9 934.2 1424.9 930.2 1426.9 929.5 1428.9 934.6 1430.9 929.9 1432.9 925.2 1434.9 934.0 1436.9 933.6 1438.9 930.5 1440.9 932.8 1442.9 932.1 1444.9 932.8 1446.9 933.5 1448.9 934.3 1450.9 930.1 1452.9 931.3 1454.9 937.5 1456.9 930.4 1458.9 932.4 1460.9 930.4 1462.9 933.6 1464.9 930.4 1466.9 932.3 1468.9 932.8 1470.9 933.9 1472.9 932.1 1474.9 934.1 1476.9 934.6 1478.9 933.0 1480.9 933.8 1482.9 931.1 1484.9 933.2 1486.9 933.6 1488.9 933.5 1490.9 938.4 1492.9 933.4 1494.9 935.3 1496.9 934.9 1498.9 933.3 1500.9 933.1 1502.9 934.3 1504.9 937.7 1506.9 936.1 1508.9 937.0 1510.9 938.9 1512.9 935.6 1514.9 929.5 1516.9 937.3 1518.9 931.6 1520.9 928.2 1522.9 920.4 1524.9 906.7 1526.9 888.8 1528.9 867.4 1530.9 864.6 1532.9 861.6 1534.9 885.3 1536.9 900.3 1538.9 917.6 1540.9 928.0 1542.9 931.5 1544.9 935.5 1546.9 936.2 1548.9 936.5 1550.9 940.5 1552.9 938.1 1554.9 941.7 1556.9 940.8 1558.9 937.7 1560.9 943.7 1562.9 946.2 1564.9 944.8 1566.9 944.0 1568.9 944.2 1570.9 942.7 1572.9 946.3 1574.9 944.2 1576.9 946.5 1578.9 943.0 1580.9 943.5 1582.9 947.5 1584.9 945.2 1586.9 945.6 1588.9 950.2 1590.9 951.6 1592.9 947.7 1594.9 943.3 1596.9 945.7 1598.9 946.0 1600.9 946.5 1602.9 946.7 1604.9 948.3 1606.9 946.1 1608.9 947.5 1610.9 950.1 1612.9 950.2 1614.9 949.2 1616.9 951.3 1618.9 948.0 1620.9 953.3 1622.9 949.1 1624.9 949.9 1626.9 952.8 1628.9 951.9 1630.9 949.3 1632.9 948.2 1634.9 950.9 1636.9 952.7 1638.9 952.2 1640.9 950.1 1642.9 949.8 1644.9 950.9 1646.9 952.2 1648.9 949.8 1650.9 954.5 1652.9 952.8 1654.9 951.2 1656.9 952.8 1658.9 952.6 1660.9 952.7 1662.9 951.1 1664.9 951.6 1666.9 953.2 1668.9 949.5 1670.9 949.3 1672.9 953.5 1674.9 954.1 1676.9 951.7 1678.9 954.5 1680.9 949.8 1682.9 955.8 1684.9 956.7 1686.9 952.3 1688.9 955.6 1690.9 957.4 1692.9 954.5 1694.9 954.6 1696.9 957.3 1698.9 955.1 1700.9 957.0 1702.9 956.2 1704.9 953.6 1706.9 957.5 1708.9 956.6 1710.9 956.5 1712.9 958.3 1714.9 953.4 1716.9 955.0 1718.9 958.2 1720.9 958.5 1722.9 957.2 1724.9 954.9 1726.9 956.3 1728.9 953.5 1730.9 956.4 1732.9 955.7 1734.9 960.4 1736.9 954.5 1738.9 956.0 1740.9 957.7 1742.9 958.9 1744.9 961.8 1746.9 958.8 1748.9 958.7 1750.9 954.7 1752.9 956.2 1754.9 960.7 1756.9 956.8 1758.9 956.0 1760.9 958.0 1762.9 955.8 1764.9 958.9 1766.9 962.8 1768.9 957.0 1770.9 960.3 1772.9 958.3 1774.9 956.6 1776.9 957.3 1778.9 960.0 1780.9 958.0 1782.9 956.5 1784.9 961.7 1786.9 960.4 1788.9 961.7 1790.9 962.3 1792.9 960.4 1794.9 958.8 1796.9 957.5 1798.9 958.4 1800.9 958.6 1802.9 957.4 1804.9 957.1 1806.9 959.5 1808.9 959.5 1810.9 959.5 1812.9 957.0 1814.9 959.1 1816.9 960.6 1818.9 960.9 1820.9 958.7 1822.9 956.9 1824.9 960.2 1826.9 961.2 1828.9 957.7 1830.9 957.1 1832.9 957.7 1834.9 960.6 1836.9 955.7 1838.9 957.6 1840.9 958.3 1842.9 959.3 1844.9 961.6 1846.9 958.1 1848.9 957.7 1850.9 964.3 1852.9 959.1 1854.9 960.5 1856.9 963.7 1858.9 959.7 1860.9 963.9 1862.9 962.7 1864.9 960.9 1866.9 959.1 1868.9 958.5 1870.9 962.4 1872.9 961.0 1874.9 959.7 1876.9 960.4 1878.9 961.0 1880.9 959.0 1882.9 961.6 1884.9 961.1 1886.9 959.3 1888.9 960.2 1890.9 962.5 1892.9 962.5 1894.9 957.3 1896.9 962.4 1898.9 962.9 1900.9 961.3 1902.9 958.6 1904.9 958.9 1906.9 960.3 1908.9 956.6 1910.9 954.9 1912.9 956.8 1914.9 956.7 1916.9 957.9 1918.9 957.7 1920.9 958.4 1922.9 955.7 1924.9 954.4 1926.9 958.2 1928.9 956.0 1930.9 957.8 1932.9 955.5 1934.9 953.9 1936.9 958.7 1938.9 953.0 1940.9 957.1 1942.9 956.4 1944.9 954.0 1946.9 953.1 1948.9 951.1 1950.9 952.4 1952.9 953.9 1954.9 954.2 1956.9 954.5 1958.9 956.4 1959.6 951.9 1960.6 952.1 1961.5 952.5 1962.5 952.3 1963.4 950.9 1964.3 950.7 1965.2 951.2 1966.1 950.4 1967.0 949.9 1967.8 949.7 1968.7 949.5 1969.5 950.6 1970.3 950.1 1971.1 948.9 1971.9 948.6 1972.6 951.9 1973.4 948.7 1974.1 949.3 1974.9 949.7 1975.4 949.1 1975.8 948.5 1976.3 948.2 1976.7 948.6 1977.1 948.8 1977.6 948.8 1978.0 948.2 1978.4 948.5 1978.8 948.1 1979.2 948.5 1979.7 946.4 1980.1 948.1 1980.5 948.3 1980.8 946.6 1981.2 945.6 1981.6 947.6 1982.0 945.9 1982.4 945.5 1982.7 944.6 1983.1 945.4 1983.5 945.6 1983.8 943.4 1984.2 943.3 1984.5 942.9 1984.9 943.6 1985.2 942.0 1985.6 944.3 1985.9 941.7 1986.2 941.5 1986.6 940.9 1986.9 940.6 1987.3 938.0 1987.8 939.3 1988.3 938.5 1988.8 936.2 1989.2 935.7 1989.7 936.4 1990.1 935.9 1990.6 934.3 1991.0 934.5 1991.4 930.7 1991.9 931.5 1992.3 930.4 1992.7 929.3 1993.1 928.1 1993.4 926.9 1993.8 925.6 1994.2 924.2 1994.6 922.8 1995.0 921.3 1995.3 919.7 1995.7 918.1 1996.1 916.3 1996.4 914.5 1996.7 912.5 1997.1 910.5 1997.4 908.3 1997.7 906.1 1998.0 903.7 1998.3 901.2 1998.6 898.6 1998.8 895.8 1999.1 892.9 1999.4 889.9 1999.6 886.7 1999.9 883.3 2000.2 879.7 2000.6 876.0 2000.9 872.1 2001.3 868.0 2001.6 863.6 2001.8 859.1 2001.9 854.3 2002.1 849.2 2002.2 843.9 2002.3 838.3 2002.4 832.5 2002.6 826.3 2002.7 819.8 2002.8 813.0 2002.9 805.8 2003.0 798.2 2003.1 790.3 2003.2 781.9 2003.3 773.2 2003.3 763.9 2003.4 754.2 2003.5 744.0 2003.6 733.2 2003.6 722.0 2003.7 710.1 2003.8 697.6 2003.8 684.4 2003.9 670.6 2004.0 656.1 2004.1 640.8 2004.1 624.7 2004.2 607.8 2004.3 590.1 2004.4 571.4 2004.4 551.7 2004.5 531.0 2004.6 509.3 2004.6 486.4 2004.7 462.4 2004.8 437.1 2004.9 410.5 2004.9 382.6 2005.0 353.1 2005.0 322.2 2005.1 289.7 2005.1 255.5 2005.2 219.5 2005.2 181.7 2005.3 141.9 2005.3 100.1 2005.4 56.1 2005.4 11.8 2005.5 11.8 2005.6 11.8 2005.6 11.8 2005.7 11.8 2005.8 11.8 2005.9 11.8 2005.9 11.8 2006.0 11.8 2006.1 11.8 2006.1 11.8 2006.2 11.8 2006.3 11.8 2006.3 11.8 2006.4 11.8 2006.5 11.8 2006.5 11.8 2006.6 11.8 2006.7 11.8 2006.7 11.8 2006.8 11.8 2006.9 11.8 2006.9 11.8 2007.0 11.8 2023.5 11.8 2023.6 11.8 2023.6 11.8 2023.7 11.8 2023.8 11.8 2023.8 11.8 2023.9 11.8 2024.0 11.8 2024.0 11.8 2024.1 11.8 2024.2 11.8 2024.2 11.8 2024.3 11.8 2024.4 11.8 2024.4 11.8 2024.5 11.8 2024.6 11.8 2024.6 11.8 2024.7 11.8 2024.8 11.8 2024.9 11.8 2024.9 11.8 2025.0 11.8 2025.1 11.8 2025.2 56.1 2025.3 100.1 2025.4 141.9 2025.5 181.7 2025.6 219.5 2025.7 255.5 2025.8 289.7 2025.9 322.2 2026.0 353.1 2026.1 382.6 2026.3 410.5 2026.4 437.1 2026.6 462.4 2026.7 486.4 2026.8 509.3 2027.0 531.0 2027.1 551.7 2027.3 571.4 2027.4 590.1 2027.6 607.8 2027.7 624.7 2027.9 640.8 2028.1 656.1 2028.3 670.6 2028.5 684.4 2028.7 697.6 2028.9 710.1 2029.1 722.0 2029.3 733.2 2029.5 744.0 2029.7 754.2 2030.0 763.9 2030.2 773.2 2030.4 781.9 2030.6 790.3 2030.9 798.2 2031.2 805.8 2031.6 813.0 2032.1 819.8 2032.5 826.3 2033.0 832.5 2033.4 838.3 2033.9 843.9 2034.4 849.2 2034.9 854.3 2035.5 859.1 2035.9 863.6 2036.3 868.0 2036.7 872.1 2037.2 876.0 2037.6 879.7 2038.0 883.3 2038.4 886.7 2038.9 889.9 2039.3 892.9 2039.8 895.8 2040.3 898.6 2040.7 901.2 2041.1 903.7 2041.5 906.1 2041.9 908.3 2042.3 910.5 2042.7 912.5 2043.1 914.5 2043.5 916.3 2043.9 918.1 2044.4 919.7 2044.8 921.3 2045.2 922.8 2045.6 924.2 2046.0 925.6 2046.4 926.9 2046.9 928.1 2047.3 929.3 2047.7 930.4 2048.1 931.5 2048.6 931.3 2049.0 933.6 2049.5 933.7 2049.9 935.9 2050.4 936.0 2050.9 936.2 2051.3 937.6 2051.8 938.8 2052.3 939.0 2052.8 939.7 2053.3 940.0 2053.8 939.6 2054.3 941.0 2054.9 941.4 2055.5 942.5 2056.2 943.1 2056.9 943.3 2057.6 943.8 2058.3 945.1 2059.1 943.0 2059.8 944.1 2060.6 947.5 2061.4 944.9 2062.2 946.3 2063.0 946.4 2063.8 947.7 2064.6 945.4 2065.5 947.1 2066.3 947.9 2067.2 946.4 2068.1 947.8 2069.0 947.9 2070.0 948.9 2070.9 948.4 2071.8 949.3 2072.8 947.0 2073.8 947.9 2074.8 947.4 2075.0 949.1 2075.0 949.9 2075.0 947.3 2075.0 950.3 2075.0 949.4 2075.0 949.2 2075.0 949.6 2075.0 949.3 2075.0 950.1 2075.0 949.9 2075.0 949.4 2075.0 949.4 2075.0 950.6 2075.0 952.0 2075.0 951.0 2075.0 950.4 2075.0 951.9 2075.0 950.8 2075.0 951.4 2075.0 951.4 2075.0 950.1 2075.0 949.9" fill="none"/>
</g>
<g clip-path="url(#cb)" stroke="#111" stroke-width="3.2" stroke-linejoin="round">
<path d="M138.6 1501.7L140.6 1501.5 142.6 1501.4 144.6 1501.2 146.6 1501.0 148.6 1500.9 150.6 1500.7 152.6 1500.5 154.6 1500.4 156.6 1500.2 158.6 1500.1 160.6 1499.9 162.6 1499.8 164.6 1499.6 166.6 1499.5 168.6 1499.4 170.6 1499.2 172.6 1499.1 174.6 1499.0 176.6 1498.9 178.6 1498.7 180.6 1498.6 182.6 1498.5 184.6 1498.4 186.6 1498.3 188.6 1498.3 190.6 1498.2 192.6 1498.1 194.6 1498.0 196.6 1498.0 198.6 1497.9 200.6 1497.9 202.6 1497.8 204.6 1497.8 206.6 1497.7 208.6 1497.7 210.6 1497.7 212.6 1497.7 214.6 1497.7 216.6 1497.7 218.6 1497.7 220.6 1497.7 222.6 1497.7 224.6 1497.7 226.6 1497.8 228.6 1497.8 230.6 1497.8 232.6 1497.9 234.6 1497.9 236.6 1498.0 238.6 1498.0 240.6 1498.1 242.6 1498.2 244.6 1498.2 246.6 1498.3 248.6 1498.3 250.6 1498.4 252.6 1498.5 254.6 1498.6 256.6 1498.6 258.6 1498.7 260.6 1498.8 262.6 1498.8 264.6 1498.9 266.6 1499.0 268.6 1499.0 270.6 1499.1 272.6 1499.2 274.6 1499.2 276.6 1499.3 278.6 1499.3 280.6 1499.4 282.6 1499.4 284.6 1499.5 286.6 1499.5 288.6 1499.6 290.6 1499.6 292.6 1499.6 294.6 1499.6 296.6 1499.7 298.6 1499.7 300.6 1499.7 302.6 1499.7 304.6 1499.7 306.6 1499.7 308.6 1499.7 310.6 1499.7 312.6 1499.7 314.6 1499.7 316.6 1499.7 318.6 1499.7 320.6 1499.7 322.6 1499.7 324.6 1499.7 326.6 1499.7 328.6 1499.7 330.6 1499.7 332.6 1499.7 334.6 1499.7 336.6 1499.7 338.6 1499.7 340.6 1499.7 342.6 1499.7 344.6 1499.7 346.6 1499.7 348.6 1499.7 350.6 1499.7 352.6 1499.7 354.6 1499.7 356.6 1499.7 358.6 1499.7 360.6 1499.7 362.6 1499.7 364.6 1499.7 366.6 1499.7 368.6 1499.7 370.6 1499.7 372.6 1499.7 374.6 1499.7 376.6 1499.7 378.6 1499.7 380.6 1499.7 382.6 1499.7 384.6 1499.7 386.6 1499.7 388.6 1499.7 390.6 1499.6 392.6 1499.6 394.6 1499.5 396.6 1499.5 398.6 1499.4 400.6 1499.3 402.6 1499.2 404.6 1499.1 406.6 1499.0 408.6 1498.8 410.6 1498.7 412.6 1498.5 414.6 1498.4 416.6 1498.2 418.6 1498.0 420.6 1497.8 422.6 1497.6 424.6 1497.4 426.6 1497.2 428.6 1497.0 430.6 1496.8 432.6 1496.6 434.6 1496.3 436.6 1496.1 438.6 1495.9 440.6 1495.6 442.6 1495.4 444.6 1495.1 446.6 1494.9 448.6 1494.6 450.6 1494.3 452.6 1494.1 454.6 1493.8 456.6 1493.5 458.6 1493.3 460.6 1493.0 462.6 1492.8 464.6 1492.5 466.6 1492.2 468.6 1492.0 470.6 1491.7 472.6 1491.4 474.6 1491.2 476.6 1490.9 478.6 1490.5 480.6 1490.2 482.6 1489.9 484.6 1489.5 486.6 1489.1 488.6 1488.8 490.6 1488.4 492.6 1488.0 494.6 1487.6 496.6 1487.3 498.6 1486.9 500.6 1486.5 502.6 1486.2 504.6 1485.8 506.6 1485.5 508.6 1485.1 510.6 1484.7 512.6 1484.4 514.6 1484.0 516.6 1483.7 518.6 1483.3 520.6 1482.9 522.6 1482.6 524.6 1482.2 526.6 1481.8 528.6 1481.4 530.6 1481.1 532.6 1480.7 534.6 1480.3 536.6 1479.9 538.6 1479.5 540.6 1479.1 542.6 1478.7 544.6 1478.3 546.6 1477.9 548.6 1477.5 550.6 1477.1 552.6 1476.7 554.6 1476.3 556.6 1475.9 558.6 1475.4 560.6 1475.0 562.6 1474.6 564.6 1474.2 566.6 1473.7 568.6 1473.3 570.6 1472.8 572.6 1472.4 574.6 1472.0 576.6 1471.5 578.6 1471.1 580.6 1470.6 582.6 1470.2 584.6 1469.7 586.6 1469.3 588.6 1468.8 590.6 1468.3 592.6 1467.9 594.6 1467.4 596.6 1466.9 598.6 1466.5 600.6 1466.0 602.6 1465.5 604.6 1465.0 606.6 1464.5 608.6 1464.1 610.6 1463.6 612.6 1463.1 614.6 1462.6 616.6 1462.1 618.6 1461.6 620.6 1461.0 622.6 1460.5 624.6 1460.0 626.6 1459.5 628.6 1458.9 630.6 1458.4 632.6 1457.9 634.6 1457.3 636.6 1456.8 638.6 1456.3 640.6 1455.7 642.6 1455.2 644.6 1454.6 646.6 1454.1 648.6 1453.5 650.6 1452.9 652.6 1452.3 654.6 1451.8 656.6 1451.2 658.6 1450.6 660.6 1449.9 662.6 1449.3 664.6 1448.7 666.6 1448.0 668.6 1447.4 670.6 1446.7 672.6 1446.0 674.6 1445.3 676.6 1444.6 678.6 1443.8 680.6 1443.0 682.6 1442.1 684.6 1441.3 686.6 1440.5 688.6 1439.6 690.6 1438.7 692.6 1437.8 694.6 1437.0 696.6 1436.1 698.6 1435.2 700.6 1434.4 702.6 1433.6 704.6 1432.7 706.6 1431.9 708.6 1431.2 710.6 1430.4 712.6 1429.7 714.6 1429.0 716.6 1428.3 718.6 1427.7 720.6 1427.1 722.6 1426.5 724.6 1425.9 726.6 1425.3 728.6 1424.7 730.6 1424.2 732.6 1423.6 734.6 1423.0 736.6 1422.5 738.6 1421.9 740.6 1421.4 742.6 1420.8 744.6 1420.2 746.6 1419.6 748.6 1419.0 750.6 1418.3 752.6 1417.7 754.6 1417.0 756.6 1416.3 758.6 1415.6 760.6 1414.9 762.6 1414.1 764.6 1413.4 766.6 1412.6 768.6 1411.8 770.6 1411.0 772.6 1410.2 774.6 1409.4 776.6 1408.5 778.6 1407.7 780.6 1406.8 782.6 1406.0 784.6 1405.1 786.6 1404.2 788.6 1403.3 790.6 1402.4 792.6 1401.5 794.6 1400.6 796.6 1399.6 798.6 1398.7 800.6 1397.7 802.6 1396.8 804.6 1395.8 806.6 1394.8 808.6 1393.8 810.6 1392.8 812.6 1391.8 814.6 1390.7 816.6 1389.7 818.6 1388.6 820.6 1387.5 822.6 1386.4 824.6 1385.3 826.6 1384.2 828.6 1383.1 830.6 1382.0 832.6 1380.9 834.6 1379.7 836.6 1378.6 838.6 1377.4 840.6 1376.3 842.6 1375.1 844.6 1373.9 846.6 1372.7 848.6 1371.5 850.6 1370.3 852.6 1369.1 854.6 1367.8 856.6 1366.6 858.6 1365.3 860.6 1364.0 862.6 1362.7 864.6 1361.4 866.6 1360.1 868.6 1358.8 870.6 1357.5 872.6 1356.2 874.6 1354.9 876.6 1353.6 878.6 1352.3 880.6 1351.0 882.6 1349.8 884.6 1348.5 886.6 1347.2 888.6 1346.0 890.6 1344.7 892.6 1343.4 894.6 1342.2 896.6 1340.9 898.6 1339.6 900.6 1338.3 902.6 1337.1 904.6 1335.8 906.6 1334.5 908.6 1333.2 910.6 1331.9 912.6 1330.5 914.6 1329.2 916.6 1327.8 918.6 1326.5 920.6 1325.1 922.6 1323.7 924.6 1322.2 926.6 1320.8 928.6 1319.3 930.6 1317.8 932.6 1316.3 934.6 1314.8 936.6 1313.2 938.6 1311.6 940.6 1310.1 942.6 1308.5 944.6 1306.9 946.6 1305.3 948.6 1303.7 950.6 1302.1 952.6 1300.6 954.6 1299.0 956.6 1297.4 958.6 1295.9 960.6 1294.3 962.6 1292.7 964.6 1291.0 966.6 1289.3 968.6 1287.7 970.6 1286.1 972.6 1284.5 974.6 1283.0 976.6 1281.5 978.6 1280.2 980.6 1279.0 982.6 1277.8 984.6 1276.6 986.6 1275.4 988.6 1274.3 990.6 1273.3 992.6 1272.5 994.6 1271.7 996.6 1271.2 998.6 1270.6 1000.6 1270.1 1002.6 1269.7 1004.6 1269.3 1006.6 1269.0 1008.6 1268.8 1010.6 1268.8 1012.6 1268.9 1014.6 1269.0 1016.6 1269.2 1018.6 1269.5 1020.6 1269.7 1022.6 1270.1 1024.6 1270.4 1026.6 1270.8 1028.6 1271.2 1030.6 1271.7 1032.6 1272.3 1034.6 1273.0 1036.6 1273.8 1038.6 1274.8 1040.6 1275.8 1042.6 1276.8 1044.6 1277.9 1046.6 1279.0 1048.6 1280.1 1050.6 1281.1 1052.6 1282.2 1054.6 1283.3 1056.6 1284.5 1058.6 1285.7 1060.6 1286.9 1062.6 1288.2 1064.6 1289.5 1066.6 1290.9 1068.6 1292.2 1070.6 1293.6 1072.6 1294.9 1074.6 1296.3 1076.6 1297.6 1078.6 1298.9 1080.6 1300.3 1082.6 1301.5 1084.6 1302.8 1086.6 1303.9 1088.6 1305.1 1090.6 1306.2 1092.6 1307.2 1094.6 1308.1 1096.6 1309.1 1098.6 1310.0 1100.6 1310.9 1102.6 1311.7 1104.6 1312.6 1106.6 1313.4 1108.6 1314.2 1110.6 1315.0 1112.6 1315.8 1114.6 1316.5 1116.6 1317.3 1118.6 1318.0 1120.6 1318.8 1122.6 1319.5 1124.6 1320.2 1126.6 1321.0 1128.6 1321.7 1130.6 1322.4 1132.6 1323.1 1134.6 1323.9 1136.6 1324.6 1138.6 1325.4 1140.6 1326.1 1142.6 1326.9 1144.6 1327.6 1146.6 1328.4 1148.6 1329.2 1150.6 1329.9 1152.6 1330.7 1154.6 1331.5 1156.6 1332.2 1158.6 1332.9 1160.6 1333.7 1162.6 1334.4 1164.6 1335.1 1166.6 1335.7 1168.6 1336.4 1170.6 1337.0 1172.6 1337.6 1174.6 1338.2 1176.6 1338.8 1178.6 1339.3 1180.6 1339.8 1182.6 1340.3 1184.6 1340.8 1186.6 1341.3 1188.6 1341.8 1190.6 1342.3 1192.6 1342.7 1194.6 1343.2 1196.6 1343.7 1198.6 1344.1 1200.6 1344.5 1202.6 1344.9 1204.6 1345.3 1206.6 1345.7 1208.6 1346.1 1210.6 1346.4 1212.6 1346.7 1214.6 1347.0 1216.6 1347.3 1218.6 1347.6 1220.6 1347.8 1222.6 1348.0 1224.6 1348.2 1226.6 1348.3 1228.6 1348.5 1230.6 1348.6 1232.6 1348.7 1234.6 1348.8 1236.6 1348.9 1238.6 1349.0 1240.6 1349.1 1242.6 1349.2 1244.6 1349.3 1246.6 1349.4 1248.6 1349.6 1250.6 1349.7 1252.6 1349.8 1254.6 1350.0 1256.6 1350.1 1258.6 1350.3 1260.6 1350.5 1262.6 1350.7 1264.6 1351.0 1266.6 1351.3 1268.6 1351.7 1270.6 1352.1 1272.6 1352.5 1274.6 1352.9 1276.6 1353.4 1278.6 1353.9 1280.6 1354.4 1282.6 1354.9 1284.6 1355.5 1286.6 1356.0 1288.6 1356.6 1290.6 1357.1 1292.6 1357.7 1294.6 1358.2 1296.6 1358.8 1298.6 1359.3 1300.6 1359.8 1302.6 1360.3 1304.6 1360.8 1306.6 1361.3 1308.6 1361.9 1310.6 1362.4 1312.6 1362.9 1314.6 1363.4 1316.6 1363.9 1318.6 1364.5 1320.6 1365.0 1322.6 1365.5 1324.6 1366.0 1326.6 1366.6 1328.6 1367.1 1330.6 1367.7 1332.6 1368.2 1334.6 1368.7 1336.6 1369.3 1338.6 1369.8 1340.6 1370.3 1342.6 1370.8 1344.6 1371.4 1346.6 1371.9 1348.6 1372.4 1350.6 1372.9 1352.6 1373.4 1354.6 1374.0 1356.6 1374.5 1358.6 1375.0 1360.6 1375.5 1362.6 1376.0 1364.6 1376.6 1366.6 1377.1 1368.6 1377.6 1370.6 1378.1 1372.6 1378.6 1374.6 1379.1 1376.6 1379.6 1378.6 1380.1 1380.6 1380.6 1382.6 1381.1 1384.6 1381.6 1386.6 1382.1 1388.6 1382.6 1390.6 1383.1 1392.6 1383.6 1394.6 1384.0 1396.6 1384.5 1398.6 1385.0 1400.6 1385.4 1402.6 1385.8 1404.6 1386.3 1406.6 1386.7 1408.6 1387.2 1410.6 1387.6 1412.6 1388.1 1414.6 1388.5 1416.6 1389.0 1418.6 1389.4 1420.6 1389.9 1422.6 1390.4 1424.6 1390.9 1426.6 1391.4 1428.6 1391.9 1430.6 1392.4 1432.6 1392.9 1434.6 1393.5 1436.6 1394.0 1438.6 1394.6 1440.6 1395.2 1442.6 1395.8 1444.6 1396.4 1446.6 1397.0 1448.6 1397.6 1450.6 1398.2 1452.6 1398.9 1454.6 1399.5 1456.6 1400.1 1458.6 1400.8 1460.6 1401.4 1462.6 1402.1 1464.6 1402.8 1466.6 1403.4 1468.6 1404.1 1470.6 1404.7 1472.6 1405.4 1474.6 1406.0 1476.6 1406.7 1478.6 1407.4 1480.6 1408.1 1482.6 1408.7 1484.6 1409.4 1486.6 1410.1 1488.6 1410.8 1490.6 1411.5 1492.6 1412.2 1494.6 1413.0 1496.6 1413.7 1498.6 1414.4 1500.6 1415.1 1502.6 1415.8 1504.6 1416.5 1506.6 1417.2 1508.6 1417.9 1510.6 1418.6 1512.6 1419.3 1514.6 1420.1 1516.6 1420.7 1518.6 1421.4 1520.6 1422.1 1522.6 1422.8 1524.6 1423.5 1526.6 1424.2 1528.6 1424.9 1530.6 1425.6 1532.6 1426.3 1534.6 1426.9 1536.6 1427.6 1538.6 1428.3 1540.6 1429.0 1542.6 1429.7 1544.6 1430.4 1546.6 1431.1 1548.6 1431.8 1550.6 1432.5 1552.6 1433.2 1554.6 1434.0 1556.6 1434.7 1558.6 1435.4 1560.6 1436.2 1562.6 1436.9 1564.6 1437.7 1566.6 1438.5 1568.6 1439.3 1570.6 1440.2 1572.6 1441.0 1574.6 1441.8 1576.6 1442.7 1578.6 1443.5 1580.6 1444.4 1582.6 1445.2 1584.6 1446.0 1586.6 1446.8 1588.6 1447.6 1590.6 1448.4 1592.6 1449.2 1594.6 1450.0 1596.6 1450.7 1598.6 1451.4 1600.6 1452.1 1602.6 1452.8 1604.6 1453.4 1606.6 1454.0 1608.6 1454.7 1610.6 1455.2 1612.6 1455.8 1614.6 1456.4 1616.6 1456.9 1618.6 1457.5 1620.6 1458.0 1622.6 1458.5 1624.6 1459.1 1626.6 1459.6 1628.6 1460.1 1630.6 1460.6 1632.6 1461.2 1634.6 1461.7 1636.6 1462.2 1638.6 1462.8 1640.6 1463.3 1642.6 1463.9 1644.6 1464.5 1646.6 1465.1 1648.6 1465.7 1650.6 1466.3 1652.6 1466.9 1654.6 1467.6 1656.6 1468.2 1658.6 1468.9 1660.6 1469.5 1662.6 1470.2 1664.6 1470.8 1666.6 1471.5 1668.6 1472.1 1670.6 1472.7 1672.6 1473.4 1674.6 1474.0 1676.6 1474.7 1678.6 1475.3 1680.6 1475.9 1682.6 1476.5 1684.6 1477.1 1686.6 1477.7 1688.6 1478.3 1690.6 1479.0 1692.6 1479.6 1694.6 1480.2 1696.6 1480.8 1698.6 1481.5 1700.6 1482.1 1702.6 1482.7 1704.6 1483.3 1706.6 1483.9 1708.6 1484.5 1710.6 1485.1 1712.6 1485.6 1714.6 1486.2 1716.6 1486.7 1718.6 1487.2 1720.6 1487.7 1722.6 1488.1 1724.6 1488.6 1726.6 1489.0 1728.6 1489.4 1730.6 1489.8 1732.6 1490.2 1734.6 1490.6 1736.6 1490.9 1738.6 1491.3 1740.6 1491.6 1742.6 1492.0 1744.6 1492.3 1746.6 1492.7 1748.6 1493.0 1750.6 1493.3 1752.6 1493.6 1754.6 1493.9 1756.6 1494.2 1758.6 1494.5 1760.6 1494.7 1762.6 1495.0 1764.6 1495.3 1766.6 1495.5 1768.6 1495.7 1770.6 1496.0 1772.6 1496.2 1774.6 1496.4 1776.6 1496.6 1778.6 1496.8 1780.6 1497.0 1782.6 1497.2 1784.6 1497.4 1786.6 1497.5 1788.6 1497.7 1790.6 1497.9 1792.6 1498.1 1794.6 1498.2 1796.6 1498.4 1798.6 1498.6 1800.6 1498.7 1802.6 1498.9 1804.6 1499.1 1806.6 1499.3 1808.6 1499.5 1810.6 1499.6 1812.6 1499.8 1814.6 1500.0 1816.6 1500.2 1818.6 1500.4 1820.6 1500.6 1822.6 1500.8 1824.6 1501.0 1826.6 1501.2 1828.6 1501.4 1830.6 1501.5 1832.6 1501.7 1834.6 1501.9 1836.6 1502.1 1838.6 1502.3 1840.6 1502.5 1842.6 1502.7 1844.6 1502.9 1846.6 1503.1 1848.6 1503.3 1850.6 1503.5 1852.6 1503.6 1854.6 1503.8 1856.6 1504.0 1858.6 1504.3 1860.6 1504.5 1862.6 1504.7 1864.6 1505.0 1866.6 1505.2 1868.6 1505.5 1870.6 1505.7 1872.6 1506.0 1874.6 1506.2 1876.6 1506.4 1878.6 1506.6 1880.6 1506.8 1882.6 1507.0 1884.6 1507.2 1886.6 1507.3 1888.6 1507.5 1890.6 1507.6 1892.6 1507.6 1894.6 1507.7 1896.6 1507.7 1898.6 1507.7 1900.6 1507.7 1902.6 1507.7 1904.6 1507.7 1906.6 1507.7 1908.6 1507.7 1910.6 1507.7 1912.6 1507.7 1914.6 1507.7 1916.6 1507.7 1918.6 1507.7 1920.6 1507.7 1922.6 1507.7 1924.6 1507.7 1926.6 1507.7 1928.6 1507.7 1930.6 1507.7 1932.6 1507.7 1934.6 1507.7 1936.6 1507.7 1938.6 1507.7 1940.6 1507.7 1942.6 1507.7 1944.6 1507.6 1946.6 1507.6 1948.6 1507.5 1950.6 1507.5 1952.6 1507.4 1954.6 1507.3 1956.6 1507.2 1958.6 1507.2 1960.6 1507.1 1962.6 1507.0 1964.6 1506.9 1966.6 1506.8 1968.6 1506.7 1970.6 1506.6 1972.6 1506.5 1974.6 1506.4 1976.6 1506.3 1978.6 1506.3 1980.6 1506.2 1982.6 1506.1 1984.6 1506.1 1986.6 1506.0 1988.6 1506.0 1990.6 1505.9 1992.6 1505.8 1994.6 1505.8 1996.6 1505.7 1998.6 1505.7 2000.6 1505.6 2002.6 1505.6 2004.6 1505.5 2006.6 1505.5 2008.6 1505.4 2010.6 1505.4 2012.6 1505.3 2014.6 1505.3 2016.6 1505.2 2018.6 1505.2 2020.6 1505.1 2022.6 1505.1 2024.6 1505.0 2026.6 1505.0 2028.6 1504.9 2030.6 1504.9 2032.6 1504.9 2034.6 1504.8 2036.6 1504.8 2038.6 1504.7 2040.6 1504.7 2040.6 1511.3 2038.6 1511.4 2036.6 1511.4 2034.6 1511.5 2032.6 1511.5 2030.6 1511.5 2028.6 1511.6 2026.6 1511.6 2024.6 1511.7 2022.6 1511.7 2020.6 1511.8 2018.6 1511.8 2016.6 1511.9 2014.6 1511.9 2012.6 1512.0 2010.6 1512.0 2008.6 1512.1 2006.6 1512.1 2004.6 1512.2 2002.6 1512.2 2000.6 1512.3 1998.6 1512.3 1996.6 1512.4 1994.6 1512.4 1992.6 1512.5 1990.6 1512.5 1988.6 1512.6 1986.6 1512.7 1984.6 1512.7 1982.6 1512.8 1980.6 1512.8 1978.6 1512.9 1976.6 1513.0 1974.6 1513.0 1972.6 1513.1 1970.6 1513.2 1968.6 1513.3 1966.6 1513.4 1964.6 1513.5 1962.6 1513.6 1960.6 1513.7 1958.6 1513.8 1956.6 1513.9 1954.6 1514.0 1952.6 1514.0 1950.6 1514.1 1948.6 1514.2 1946.6 1514.2 1944.6 1514.3 1942.6 1514.3 1940.6 1514.3 1938.6 1514.3 1936.6 1514.3 1934.6 1514.3 1932.6 1514.3 1930.6 1514.3 1928.6 1514.3 1926.6 1514.3 1924.6 1514.3 1922.6 1514.3 1920.6 1514.3 1918.6 1514.3 1916.6 1514.3 1914.6 1514.3 1912.6 1514.3 1910.6 1514.3 1908.6 1514.3 1906.6 1514.3 1904.6 1514.3 1902.6 1514.3 1900.6 1514.3 1898.6 1514.3 1896.6 1514.3 1894.6 1514.3 1892.6 1514.3 1890.6 1514.2 1888.6 1514.1 1886.6 1514.0 1884.6 1513.8 1882.6 1513.7 1880.6 1513.5 1878.6 1513.3 1876.6 1513.1 1874.6 1512.8 1872.6 1512.6 1870.6 1512.4 1868.6 1512.1 1866.6 1511.9 1864.6 1511.6 1862.6 1511.4 1860.6 1511.1 1858.6 1510.9 1856.6 1510.7 1854.6 1510.5 1852.6 1510.3 1850.6 1510.1 1848.6 1509.9 1846.6 1509.7 1844.6 1509.5 1842.6 1509.3 1840.6 1509.1 1838.6 1509.0 1836.6 1508.8 1834.6 1508.6 1832.6 1508.4 1830.6 1508.2 1828.6 1508.0 1826.6 1507.8 1824.6 1507.6 1822.6 1507.4 1820.6 1507.2 1818.6 1507.0 1816.6 1506.9 1814.6 1506.7 1812.6 1506.5 1810.6 1506.3 1808.6 1506.1 1806.6 1505.9 1804.6 1505.7 1802.6 1505.6 1800.6 1505.4 1798.6 1505.2 1796.6 1505.1 1794.6 1504.9 1792.6 1504.7 1790.6 1504.6 1788.6 1504.4 1786.6 1504.2 1784.6 1504.0 1782.6 1503.8 1780.6 1503.7 1778.6 1503.5 1776.6 1503.3 1774.6 1503.1 1772.6 1502.9 1770.6 1502.6 1768.6 1502.4 1766.6 1502.2 1764.6 1501.9 1762.6 1501.7 1760.6 1501.4 1758.6 1501.1 1756.6 1500.9 1754.6 1500.6 1752.6 1500.3 1750.6 1500.0 1748.6 1499.7 1746.6 1499.3 1744.6 1499.0 1742.6 1498.7 1740.6 1498.3 1738.6 1498.0 1736.6 1497.6 1734.6 1497.2 1732.6 1496.9 1730.6 1496.5 1728.6 1496.1 1726.6 1495.7 1724.6 1495.3 1722.6 1494.8 1720.6 1494.4 1718.6 1493.9 1716.6 1493.4 1714.6 1492.9 1712.6 1492.3 1710.6 1491.8 1708.6 1491.2 1706.6 1490.6 1704.6 1490.0 1702.6 1489.4 1700.6 1488.8 1698.6 1488.2 1696.6 1487.6 1694.6 1486.9 1692.6 1486.3 1690.6 1485.7 1688.6 1485.1 1686.6 1484.5 1684.6 1483.8 1682.6 1483.2 1680.6 1482.6 1678.6 1482.0 1676.6 1481.4 1674.6 1480.8 1672.6 1480.1 1670.6 1479.5 1668.6 1478.8 1666.6 1478.2 1664.6 1477.6 1662.6 1476.9 1660.6 1476.3 1658.6 1475.6 1656.6 1475.0 1654.6 1474.3 1652.6 1473.7 1650.6 1473.1 1648.6 1472.5 1646.6 1471.9 1644.6 1471.3 1642.6 1470.7 1640.6 1470.1 1638.6 1469.6 1636.6 1469.0 1634.6 1468.5 1632.6 1467.9 1630.6 1467.4 1628.6 1466.9 1626.6 1466.4 1624.6 1465.8 1622.6 1465.3 1620.6 1464.8 1618.6 1464.3 1616.6 1463.7 1614.6 1463.2 1612.6 1462.6 1610.6 1462.0 1608.6 1461.5 1606.6 1460.9 1604.6 1460.2 1602.6 1459.6 1600.6 1458.9 1598.6 1458.3 1596.6 1457.5 1594.6 1456.8 1592.6 1456.0 1590.6 1455.3 1588.6 1454.5 1586.6 1453.7 1584.6 1452.9 1582.6 1452.0 1580.6 1451.2 1578.6 1450.4 1576.6 1449.5 1574.6 1448.7 1572.6 1447.8 1570.6 1447.0 1568.6 1446.2 1566.6 1445.4 1564.6 1444.6 1562.6 1443.8 1560.6 1443.0 1558.6 1442.3 1556.6 1441.6 1554.6 1440.8 1552.6 1440.1 1550.6 1439.4 1548.6 1438.7 1546.6 1438.0 1544.6 1437.3 1542.6 1436.6 1540.6 1435.9 1538.6 1435.2 1536.6 1434.5 1534.6 1433.8 1532.6 1433.2 1530.6 1432.5 1528.6 1431.8 1526.6 1431.1 1524.6 1430.4 1522.6 1429.7 1520.6 1429.1 1518.6 1428.4 1516.6 1427.7 1514.6 1427.0 1512.6 1426.3 1510.6 1425.6 1508.6 1424.9 1506.6 1424.2 1504.6 1423.4 1502.6 1422.7 1500.6 1422.0 1498.6 1421.3 1496.6 1420.6 1494.6 1419.9 1492.6 1419.2 1490.6 1418.5 1488.6 1417.8 1486.6 1417.1 1484.6 1416.4 1482.6 1415.7 1480.6 1415.0 1478.6 1414.3 1476.6 1413.7 1474.6 1413.0 1472.6 1412.4 1470.6 1411.7 1468.6 1411.0 1466.6 1410.4 1464.6 1409.7 1462.6 1409.1 1460.6 1408.4 1458.6 1407.8 1456.6 1407.1 1454.6 1406.5 1452.6 1405.9 1450.6 1405.2 1448.6 1404.6 1446.6 1404.0 1444.6 1403.4 1442.6 1402.8 1440.6 1402.2 1438.6 1401.6 1436.6 1401.0 1434.6 1400.5 1432.6 1399.9 1430.6 1399.4 1428.6 1398.9 1426.6 1398.4 1424.6 1397.9 1422.6 1397.4 1420.6 1396.9 1418.6 1396.4 1416.6 1396.0 1414.6 1395.5 1412.6 1395.1 1410.6 1394.6 1408.6 1394.2 1406.6 1393.8 1404.6 1393.3 1402.6 1392.9 1400.6 1392.4 1398.6 1392.0 1396.6 1391.5 1394.6 1391.1 1392.6 1390.6 1390.6 1390.1 1388.6 1389.7 1386.6 1389.2 1384.6 1388.7 1382.6 1388.2 1380.6 1387.7 1378.6 1387.2 1376.6 1386.7 1374.6 1386.2 1372.6 1385.7 1370.6 1385.2 1368.6 1384.7 1366.6 1384.1 1364.6 1383.6 1362.6 1383.1 1360.6 1382.6 1358.6 1382.1 1356.6 1381.5 1354.6 1381.0 1352.6 1380.5 1350.6 1380.0 1348.6 1379.5 1346.6 1379.0 1344.6 1378.4 1342.6 1377.9 1340.6 1377.4 1338.6 1376.9 1336.6 1376.3 1334.6 1375.8 1332.6 1375.3 1330.6 1374.7 1328.6 1374.2 1326.6 1373.7 1324.6 1373.1 1322.6 1372.6 1320.6 1372.1 1318.6 1371.5 1316.6 1371.0 1314.6 1370.5 1312.6 1370.0 1310.6 1369.5 1308.6 1369.0 1306.6 1368.5 1304.6 1368.0 1302.6 1367.5 1300.6 1367.0 1298.6 1366.4 1296.6 1365.9 1294.6 1365.4 1292.6 1364.8 1290.6 1364.3 1288.6 1363.7 1286.6 1363.2 1284.6 1362.6 1282.6 1362.1 1280.6 1361.6 1278.6 1361.0 1276.6 1360.6 1274.6 1360.1 1272.6 1359.6 1270.6 1359.2 1268.6 1358.8 1266.6 1358.5 1264.6 1358.2 1262.6 1357.9 1260.6 1357.6 1258.6 1357.4 1256.6 1357.3 1254.6 1357.1 1252.6 1357.0 1250.6 1356.8 1248.6 1356.7 1246.6 1356.6 1244.6 1356.5 1242.6 1356.4 1240.6 1356.3 1238.6 1356.2 1236.6 1356.1 1234.6 1356.0 1232.6 1355.9 1230.6 1355.7 1228.6 1355.6 1226.6 1355.5 1224.6 1355.3 1222.6 1355.1 1220.6 1354.9 1218.6 1354.7 1216.6 1354.5 1214.6 1354.2 1212.6 1353.9 1210.6 1353.6 1208.6 1353.2 1206.6 1352.9 1204.6 1352.5 1202.6 1352.1 1200.6 1351.7 1198.6 1351.3 1196.6 1350.8 1194.6 1350.4 1192.6 1349.9 1190.6 1349.4 1188.6 1349.0 1186.6 1348.5 1184.6 1348.0 1182.6 1347.5 1180.6 1347.0 1178.6 1346.5 1176.6 1346.0 1174.6 1345.4 1172.6 1344.8 1170.6 1344.2 1168.6 1343.6 1166.6 1342.9 1164.6 1342.3 1162.6 1341.6 1160.6 1340.9 1158.6 1340.1 1156.6 1339.4 1154.6 1338.7 1152.6 1337.9 1150.6 1337.1 1148.6 1336.4 1146.6 1335.6 1144.6 1334.9 1142.6 1334.1 1140.6 1333.3 1138.6 1332.6 1136.6 1331.8 1134.6 1331.1 1132.6 1330.4 1130.6 1329.6 1128.6 1328.9 1126.6 1328.2 1124.6 1327.5 1122.6 1326.7 1120.6 1326.0 1118.6 1325.3 1116.6 1324.5 1114.6 1323.8 1112.6 1323.0 1110.6 1322.2 1108.6 1321.4 1106.6 1320.6 1104.6 1319.8 1102.6 1319.0 1100.6 1318.1 1098.6 1317.2 1096.6 1316.3 1094.6 1315.4 1092.6 1314.4 1090.6 1313.4 1088.6 1312.4 1086.6 1311.2 1084.6 1310.0 1082.6 1308.8 1080.6 1307.5 1078.6 1306.2 1076.6 1304.9 1074.6 1303.6 1072.6 1302.2 1070.6 1300.9 1068.6 1299.5 1066.6 1298.2 1064.6 1296.8 1062.6 1295.5 1060.6 1294.2 1058.6 1293.0 1056.6 1291.8 1054.6 1290.6 1052.6 1289.5 1050.6 1288.5 1048.6 1287.4 1046.6 1286.3 1044.6 1285.2 1042.6 1284.2 1040.6 1283.1 1038.6 1282.1 1036.6 1281.2 1034.6 1280.4 1032.6 1279.7 1030.6 1279.1 1028.6 1278.6 1026.6 1278.2 1024.6 1277.8 1022.6 1277.5 1020.6 1277.1 1018.6 1276.8 1016.6 1276.6 1014.6 1276.4 1012.6 1276.3 1010.6 1276.2 1008.6 1276.2 1006.6 1276.4 1004.6 1276.7 1002.6 1277.1 1000.6 1277.5 998.6 1278.0 996.6 1278.5 994.6 1279.1 992.6 1279.8 990.6 1280.7 988.6 1281.7 986.6 1282.8 984.6 1283.9 982.6 1285.1 980.6 1286.3 978.6 1287.5 976.6 1288.9 974.6 1290.3 972.6 1291.8 970.6 1293.4 968.6 1295.0 966.6 1296.7 964.6 1298.3 962.6 1300.0 960.6 1301.6 958.6 1303.2 956.6 1304.7 954.6 1306.3 952.6 1307.9 950.6 1309.4 948.6 1311.0 946.6 1312.6 944.6 1314.2 942.6 1315.8 940.6 1317.3 938.6 1318.9 936.6 1320.5 934.6 1322.0 932.6 1323.5 930.6 1325.1 928.6 1326.5 926.6 1328.0 924.6 1329.5 922.6 1330.9 920.6 1332.3 918.6 1333.7 916.6 1335.0 914.6 1336.4 912.6 1337.7 910.6 1339.1 908.6 1340.4 906.6 1341.7 904.6 1343.0 902.6 1344.2 900.6 1345.5 898.6 1346.8 896.6 1348.1 894.6 1349.3 892.6 1350.6 890.6 1351.9 888.6 1353.1 886.6 1354.4 884.6 1355.6 882.6 1356.9 880.6 1358.2 878.6 1359.5 876.6 1360.8 874.6 1362.0 872.6 1363.3 870.6 1364.6 868.6 1365.9 866.6 1367.2 864.6 1368.5 862.6 1369.8 860.6 1371.1 858.6 1372.4 856.6 1373.6 854.6 1374.9 852.6 1376.1 850.6 1377.4 848.6 1378.6 846.6 1379.8 844.6 1381.0 842.6 1382.2 840.6 1383.3 838.6 1384.5 836.6 1385.6 834.6 1386.8 832.6 1387.9 830.6 1389.0 828.6 1390.2 826.6 1391.3 824.6 1392.4 822.6 1393.5 820.6 1394.6 818.6 1395.6 816.6 1396.7 814.6 1397.7 812.6 1398.8 810.6 1399.8 808.6 1400.8 806.6 1401.8 804.6 1402.8 802.6 1403.8 800.6 1404.7 798.6 1405.7 796.6 1406.6 794.6 1407.5 792.6 1408.5 790.6 1409.4 788.6 1410.3 786.6 1411.2 784.6 1412.1 782.6 1412.9 780.6 1413.8 778.6 1414.7 776.6 1415.5 774.6 1416.3 772.6 1417.2 770.6 1418.0 768.6 1418.8 766.6 1419.5 764.6 1420.3 762.6 1421.1 760.6 1421.8 758.6 1422.5 756.6 1423.3 754.6 1424.0 752.6 1424.6 750.6 1425.3 748.6 1425.9 746.6 1426.5 744.6 1427.1 742.6 1427.7 740.6 1428.3 738.6 1428.8 736.6 1429.4 734.6 1430.0 732.6 1430.5 730.6 1431.1 728.6 1431.6 726.6 1432.2 724.6 1432.8 722.6 1433.4 720.6 1434.0 718.6 1434.6 716.6 1435.2 714.6 1435.9 712.6 1436.6 710.6 1437.3 708.6 1438.0 706.6 1438.8 704.6 1439.6 702.6 1440.4 700.6 1441.3 698.6 1442.1 696.6 1443.0 694.6 1443.8 692.6 1444.7 690.6 1445.6 688.6 1446.4 686.6 1447.3 684.6 1448.2 682.6 1449.0 680.6 1449.8 678.6 1450.6 676.6 1451.4 674.6 1452.1 672.6 1452.9 670.6 1453.6 668.6 1454.2 666.6 1454.9 664.6 1455.5 662.6 1456.1 660.6 1456.8 658.6 1457.4 656.6 1458.0 654.6 1458.6 652.6 1459.2 650.6 1459.7 648.6 1460.3 646.6 1460.9 644.6 1461.4 642.6 1462.0 640.6 1462.5 638.6 1463.1 636.6 1463.6 634.6 1464.1 632.6 1464.7 630.6 1465.2 628.6 1465.7 626.6 1466.3 624.6 1466.8 622.6 1467.3 620.6 1467.8 618.6 1468.3 616.6 1468.8 614.6 1469.3 612.6 1469.8 610.6 1470.3 608.6 1470.8 606.6 1471.3 604.6 1471.8 602.6 1472.3 600.6 1472.8 598.6 1473.2 596.6 1473.7 594.6 1474.2 592.6 1474.6 590.6 1475.1 588.6 1475.6 586.6 1476.0 584.6 1476.5 582.6 1476.9 580.6 1477.4 578.6 1477.8 576.6 1478.3 574.6 1478.7 572.6 1479.2 570.6 1479.6 568.6 1480.0 566.6 1480.5 564.6 1480.9 562.6 1481.3 560.6 1481.7 558.6 1482.2 556.6 1482.6 554.6 1483.0 552.6 1483.4 550.6 1483.8 548.6 1484.2 546.6 1484.6 544.6 1485.0 542.6 1485.4 540.6 1485.8 538.6 1486.2 536.6 1486.6 534.6 1487.0 532.6 1487.4 530.6 1487.8 528.6 1488.1 526.6 1488.5 524.6 1488.9 522.6 1489.3 520.6 1489.6 518.6 1490.0 516.6 1490.4 514.6 1490.7 512.6 1491.1 510.6 1491.5 508.6 1491.8 506.6 1492.2 504.6 1492.5 502.6 1492.9 500.6 1493.2 498.6 1493.6 496.6 1494.0 494.6 1494.3 492.6 1494.7 490.6 1495.1 488.6 1495.5 486.6 1495.8 484.6 1496.2 482.6 1496.5 480.6 1496.9 478.6 1497.2 476.6 1497.5 474.6 1497.8 472.6 1498.1 470.6 1498.4 468.6 1498.6 466.6 1498.9 464.6 1499.2 462.6 1499.4 460.6 1499.7 458.6 1500.0 456.6 1500.2 454.6 1500.5 452.6 1500.7 450.6 1501.0 448.6 1501.3 446.6 1501.5 444.6 1501.8 442.6 1502.0 440.6 1502.3 438.6 1502.5 436.6 1502.8 434.6 1503.0 432.6 1503.2 430.6 1503.5 428.6 1503.7 426.6 1503.9 424.6 1504.1 422.6 1504.3 420.6 1504.5 418.6 1504.7 416.6 1504.9 414.6 1505.0 412.6 1505.2 410.6 1505.4 408.6 1505.5 406.6 1505.6 404.6 1505.8 402.6 1505.9 400.6 1506.0 398.6 1506.1 396.6 1506.1 394.6 1506.2 392.6 1506.3 390.6 1506.3 388.6 1506.3 386.6 1506.3 384.6 1506.3 382.6 1506.3 380.6 1506.3 378.6 1506.3 376.6 1506.3 374.6 1506.3 372.6 1506.3 370.6 1506.3 368.6 1506.3 366.6 1506.3 364.6 1506.3 362.6 1506.3 360.6 1506.3 358.6 1506.3 356.6 1506.3 354.6 1506.3 352.6 1506.3 350.6 1506.3 348.6 1506.3 346.6 1506.3 344.6 1506.3 342.6 1506.3 340.6 1506.3 338.6 1506.3 336.6 1506.3 334.6 1506.3 332.6 1506.3 330.6 1506.3 328.6 1506.3 326.6 1506.3 324.6 1506.3 322.6 1506.3 320.6 1506.3 318.6 1506.3 316.6 1506.3 314.6 1506.3 312.6 1506.3 310.6 1506.3 308.6 1506.3 306.6 1506.3 304.6 1506.3 302.6 1506.3 300.6 1506.3 298.6 1506.3 296.6 1506.3 294.6 1506.3 292.6 1506.3 290.6 1506.2 288.6 1506.2 286.6 1506.2 284.6 1506.1 282.6 1506.1 280.6 1506.0 278.6 1506.0 276.6 1505.9 274.6 1505.9 272.6 1505.8 270.6 1505.8 268.6 1505.7 266.6 1505.6 264.6 1505.6 262.6 1505.5 260.6 1505.4 258.6 1505.3 256.6 1505.3 254.6 1505.2 252.6 1505.1 250.6 1505.1 248.6 1505.0 246.6 1504.9 244.6 1504.9 242.6 1504.8 240.6 1504.8 238.6 1504.7 236.6 1504.6 234.6 1504.6 232.6 1504.5 230.6 1504.5 228.6 1504.5 226.6 1504.4 224.6 1504.4 222.6 1504.4 220.6 1504.4 218.6 1504.3 216.6 1504.3 214.6 1504.3 212.6 1504.3 210.6 1504.3 208.6 1504.4 206.6 1504.4 204.6 1504.4 202.6 1504.5 200.6 1504.5 198.6 1504.6 196.6 1504.6 194.6 1504.7 192.6 1504.8 190.6 1504.8 188.6 1504.9 186.6 1505.0 184.6 1505.1 182.6 1505.2 180.6 1505.3 178.6 1505.4 176.6 1505.5 174.6 1505.6 172.6 1505.8 170.6 1505.9 168.6 1506.0 166.6 1506.1 164.6 1506.3 162.6 1506.4 160.6 1506.6 158.6 1506.7 156.6 1506.9 154.6 1507.0 152.6 1507.2 150.6 1507.3 148.6 1507.5 146.6 1507.7 144.6 1507.8 142.6 1508.0 140.6 1508.2 138.6 1508.3Z" fill="#111" stroke="none"/>
<path d="M138.6 1506.2L140.6 1503.3 142.6 1502.8 144.6 1505.5 146.6 1508.1 148.6 1505.6 150.6 1502.9 152.6 1498.4 154.6 1500.8 156.6 1501.1 158.6 1507.6 160.6 1495.4 162.6 1505.1 164.6 1501.1 166.6 1504.6 168.6 1495.6 170.6 1501.8 172.6 1504.5 174.6 1502.4 176.6 1505.7 178.6 1503.6 180.6 1502.9 182.6 1497.1 184.6 1500.1 186.6 1499.1 188.6 1500.9 190.6 1512.9 192.6 1500.3 194.6 1504.1 196.6 1503.4 198.6 1504.3 200.6 1503.9 202.6 1493.3 204.6 1501.3 206.6 1495.0 208.6 1495.2 210.6 1505.1 212.6 1500.7 214.6 1496.5 216.6 1496.2 218.6 1501.7 220.6 1493.8 222.6 1506.9 224.6 1504.0 226.6 1505.1 228.6 1506.1 230.6 1504.9 232.6 1506.5 234.6 1500.1 236.6 1502.2 238.6 1498.5 240.6 1508.8 242.6 1502.6 244.6 1503.9 246.6 1498.9 248.6 1500.5 250.6 1500.7 252.6 1498.7 254.6 1498.0 256.6 1505.8 258.6 1500.1 260.6 1503.1 262.6 1502.2 264.6 1500.2 266.6 1500.7 268.6 1505.5 270.6 1502.5 272.6 1498.6 274.6 1499.3 276.6 1500.3 278.6 1498.9 280.6 1507.6 282.6 1502.7 284.6 1509.1 286.6 1499.8 288.6 1500.7 290.6 1511.4 292.6 1497.5 294.6 1500.2 296.6 1499.4 298.6 1502.1 300.6 1504.1 302.6 1506.7 304.6 1507.1 306.6 1501.2 308.6 1503.6 310.6 1497.8 312.6 1505.0 314.6 1497.1 316.6 1508.7 318.6 1495.4 320.6 1505.7 322.6 1503.7 324.6 1499.3 326.6 1511.0 328.6 1501.1 330.6 1511.2 332.6 1502.4 334.6 1503.9 336.6 1494.8 338.6 1500.4 340.6 1503.7 342.6 1499.8 344.6 1500.1 346.6 1498.5 348.6 1502.2 350.6 1500.3 352.6 1512.9 354.6 1499.8 356.6 1503.1 358.6 1504.8 360.6 1502.5 362.6 1504.5 364.6 1498.3 366.6 1499.5 368.6 1498.5 370.6 1496.3 372.6 1505.7 374.6 1502.6 376.6 1492.4 378.6 1501.7 380.6 1507.2 382.6 1501.5 384.6 1504.1 386.6 1504.2 388.6 1503.5 390.6 1499.0 392.6 1500.0 394.6 1500.8 396.6 1506.1 398.6 1501.3 400.6 1495.4 402.6 1505.0 404.6 1500.3 406.6 1500.5 408.6 1500.1 410.6 1505.9 412.6 1500.3 414.6 1500.1 416.6 1504.0 418.6 1500.5 420.6 1495.8 422.6 1490.8 424.6 1500.9 426.6 1505.9 428.6 1492.6 430.6 1493.1 432.6 1495.5 434.6 1500.3 436.6 1499.2 438.6 1492.9 440.6 1497.0 442.6 1502.3 444.6 1494.2 446.6 1501.6 448.6 1493.8 450.6 1495.2 452.6 1499.4 454.6 1496.9 456.6 1489.2 458.6 1500.2 460.6 1497.8 462.6 1501.1 464.6 1491.2 466.6 1500.3 468.6 1495.5 470.6 1503.4 472.6 1490.7 474.6 1491.6 476.6 1493.3 478.6 1489.7 480.6 1496.3 482.6 1494.9 484.6 1484.8 486.6 1490.7 488.6 1494.2 490.6 1492.9 492.6 1487.7 494.6 1491.4 496.6 1490.7 498.6 1488.6 500.6 1490.2 502.6 1485.9 504.6 1492.5 506.6 1486.6 508.6 1492.7 510.6 1478.2 512.6 1486.5 514.6 1487.4 516.6 1487.6 518.6 1483.3 520.6 1489.0 522.6 1485.1 524.6 1484.3 526.6 1488.3 528.6 1487.7 530.6 1485.1 532.6 1482.7 534.6 1482.8 536.6 1485.7 538.6 1483.7 540.6 1478.5 542.6 1483.4 544.6 1475.9 546.6 1480.7 548.6 1480.6 550.6 1480.9 552.6 1478.5 554.6 1476.9 556.6 1485.9 558.6 1474.0 560.6 1477.4 562.6 1480.8 564.6 1474.8 566.6 1475.9 568.6 1480.1 570.6 1477.3 572.6 1473.7 574.6 1472.4 576.6 1473.3 578.6 1483.3 580.6 1471.2 582.6 1472.5 584.6 1477.9 586.6 1468.7 588.6 1470.4 590.6 1470.6 592.6 1472.1 594.6 1468.5 596.6 1477.5 598.6 1470.8 600.6 1471.8 602.6 1468.6 604.6 1475.1 606.6 1462.9 608.6 1461.5 610.6 1466.3 612.6 1463.2 614.6 1465.8 616.6 1464.8 618.6 1464.8 620.6 1460.3 622.6 1462.4 624.6 1464.2 626.6 1458.2 628.6 1461.6 630.6 1463.0 632.6 1467.8 634.6 1463.9 636.6 1458.9 638.6 1457.7 640.6 1460.3 642.6 1460.2 644.6 1462.7 646.6 1450.3 648.6 1460.2 650.6 1457.1 652.6 1454.8 654.6 1450.5 656.6 1452.5 658.6 1453.6 660.6 1456.1 662.6 1456.1 664.6 1448.3 666.6 1455.8 668.6 1448.5 670.6 1451.7 672.6 1440.8 674.6 1447.1 676.6 1443.8 678.6 1445.1 680.6 1445.4 682.6 1447.0 684.6 1443.4 686.6 1438.4 688.6 1440.6 690.6 1435.0 692.6 1434.7 694.6 1447.8 696.6 1438.1 698.6 1441.7 700.6 1439.7 702.6 1440.0 704.6 1428.4 706.6 1437.7 708.6 1440.6 710.6 1438.9 712.6 1433.4 714.6 1436.3 716.6 1428.6 718.6 1436.9 720.6 1427.3 722.6 1422.6 724.6 1428.4 726.6 1424.1 728.6 1430.1 730.6 1427.7 732.6 1425.2 734.6 1426.7 736.6 1422.2 738.6 1433.0 740.6 1424.4 742.6 1428.3 744.6 1425.0 746.6 1415.8 748.6 1423.6 750.6 1421.2 752.6 1423.2 754.6 1417.5 756.6 1418.3 758.6 1419.3 760.6 1419.4 762.6 1416.2 764.6 1418.1 766.6 1415.0 768.6 1408.6 770.6 1417.8 772.6 1420.4 774.6 1414.7 776.6 1409.2 778.6 1411.1 780.6 1413.4 782.6 1410.9 784.6 1410.1 786.6 1411.1 788.6 1412.2 790.6 1399.4 792.6 1402.6 794.6 1403.3 796.6 1409.9 798.6 1408.6 800.6 1406.5 802.6 1397.8 804.6 1401.0 806.6 1396.5 808.6 1397.5 810.6 1391.6 812.6 1401.6 814.6 1393.1 816.6 1388.2 818.6 1395.6 820.6 1395.7 822.6 1383.5 824.6 1394.5 826.6 1385.8 828.6 1380.3 830.6 1387.0 832.6 1379.5 834.6 1387.2 836.6 1381.1 838.6 1381.2 840.6 1375.4 842.6 1374.8 844.6 1381.7 846.6 1380.6 848.6 1371.9 850.6 1378.2 852.6 1373.4 854.6 1370.0 856.6 1370.8 858.6 1377.4 860.6 1373.7 862.6 1363.2 864.6 1361.5 866.6 1363.8 868.6 1362.7 870.6 1360.8 872.6 1365.0 874.6 1361.9 876.6 1356.6 878.6 1352.6 880.6 1358.4 882.6 1356.4 884.6 1349.9 886.6 1347.8 888.6 1353.3 890.6 1343.2 892.6 1349.3 894.6 1347.6 896.6 1347.8 898.6 1338.5 900.6 1341.8 902.6 1345.2 904.6 1342.6 906.6 1343.2 908.6 1335.7 910.6 1336.6 912.6 1339.2 914.6 1328.2 916.6 1328.4 918.6 1329.7 920.6 1324.6 922.6 1328.2 924.6 1322.5 926.6 1324.7 928.6 1317.5 930.6 1317.0 932.6 1316.5 934.6 1318.5 936.6 1316.3 938.6 1308.1 940.6 1315.8 942.6 1310.7 944.6 1310.2 946.6 1310.0 948.6 1311.0 950.6 1300.4 952.6 1310.6 954.6 1304.8 956.6 1299.7 958.6 1295.1 960.6 1298.8 962.6 1299.3 964.6 1293.2 966.6 1286.5 968.6 1284.2 970.6 1297.5 972.6 1286.7 974.6 1287.3 976.6 1285.2 978.6 1291.1 980.6 1283.1 982.6 1269.8 984.6 1276.2 986.6 1278.1 988.6 1270.3 990.6 1277.8 992.6 1280.5 994.6 1271.3 996.6 1277.2 998.6 1277.4 1000.6 1278.8 1002.6 1272.5 1004.6 1270.5 1006.6 1267.3 1008.6 1277.6 1010.6 1265.2 1012.6 1272.3 1014.6 1286.2 1016.6 1278.8 1018.6 1274.5 1020.6 1279.1 1022.6 1271.2 1024.6 1277.2 1026.6 1270.5 1028.6 1274.3 1030.6 1281.5 1032.6 1286.2 1034.6 1275.0 1036.6 1279.8 1038.6 1280.9 1040.6 1274.1 1042.6 1277.6 1044.6 1278.5 1046.6 1287.6 1048.6 1289.1 1050.6 1293.2 1052.6 1292.2 1054.6 1283.4 1056.6 1283.8 1058.6 1296.5 1060.6 1295.6 1062.6 1294.8 1064.6 1295.8 1066.6 1286.8 1068.6 1294.8 1070.6 1291.3 1072.6 1294.8 1074.6 1294.2 1076.6 1300.7 1078.6 1307.7 1080.6 1303.5 1082.6 1304.3 1084.6 1310.8 1086.6 1305.1 1088.6 1303.5 1090.6 1304.5 1092.6 1310.3 1094.6 1312.4 1096.6 1312.4 1098.6 1316.8 1100.6 1318.8 1102.6 1317.3 1104.6 1312.2 1106.6 1318.0 1108.6 1316.9 1110.6 1314.7 1112.6 1314.4 1114.6 1326.7 1116.6 1325.1 1118.6 1326.8 1120.6 1315.3 1122.6 1330.8 1124.6 1326.5 1126.6 1325.9 1128.6 1326.4 1130.6 1320.5 1132.6 1325.9 1134.6 1327.0 1136.6 1322.0 1138.6 1328.8 1140.6 1333.4 1142.6 1327.4 1144.6 1336.6 1146.6 1330.9 1148.6 1335.2 1150.6 1327.7 1152.6 1336.4 1154.6 1335.5 1156.6 1336.4 1158.6 1341.6 1160.6 1345.8 1162.6 1331.4 1164.6 1341.3 1166.6 1333.1 1168.6 1336.3 1170.6 1338.8 1172.6 1329.8 1174.6 1348.9 1176.6 1342.6 1178.6 1343.3 1180.6 1345.6 1182.6 1348.0 1184.6 1349.1 1186.6 1346.1 1188.6 1347.5 1190.6 1344.0 1192.6 1341.7 1194.6 1339.4 1196.6 1347.6 1198.6 1347.9 1200.6 1349.4 1202.6 1347.9 1204.6 1355.1 1206.6 1347.5 1208.6 1344.0 1210.6 1346.0 1212.6 1346.0 1214.6 1353.8 1216.6 1358.8 1218.6 1350.6 1220.6 1353.2 1222.6 1354.4 1224.6 1351.2 1226.6 1351.1 1228.6 1351.2 1230.6 1347.3 1232.6 1351.3 1234.6 1356.3 1236.6 1358.2 1238.6 1354.0 1240.6 1350.5 1242.6 1355.9 1244.6 1343.1 1246.6 1351.1 1248.6 1357.2 1250.6 1359.3 1252.6 1353.3 1254.6 1348.4 1256.6 1354.6 1258.6 1348.6 1260.6 1347.8 1262.6 1359.3 1264.6 1357.6 1266.6 1354.8 1268.6 1356.8 1270.6 1350.2 1272.6 1353.7 1274.6 1360.4 1276.6 1352.4 1278.6 1358.5 1280.6 1350.7 1282.6 1361.4 1284.6 1361.6 1286.6 1362.4 1288.6 1367.7 1290.6 1362.0 1292.6 1367.3 1294.6 1362.7 1296.6 1367.2 1298.6 1369.0 1300.6 1362.9 1302.6 1362.7 1304.6 1364.1 1306.6 1374.2 1308.6 1366.6 1310.6 1368.0 1312.6 1369.8 1314.6 1360.0 1316.6 1368.5 1318.6 1363.7 1320.6 1370.0 1322.6 1366.8 1324.6 1370.4 1326.6 1362.7 1328.6 1365.4 1330.6 1366.7 1332.6 1373.8 1334.6 1370.7 1336.6 1371.2 1338.6 1374.4 1340.6 1372.0 1342.6 1379.9 1344.6 1373.4 1346.6 1378.1 1348.6 1378.1 1350.6 1377.3 1352.6 1367.9 1354.6 1382.8 1356.6 1379.1 1358.6 1376.0 1360.6 1384.2 1362.6 1375.6 1364.6 1381.2 1366.6 1376.0 1368.6 1384.4 1370.6 1377.7 1372.6 1391.8 1374.6 1382.2 1376.6 1382.4 1378.6 1388.6 1380.6 1376.9 1382.6 1389.3 1384.6 1381.2 1386.6 1384.0 1388.6 1379.3 1390.6 1383.0 1392.6 1388.2 1394.6 1393.4 1396.6 1387.5 1398.6 1386.1 1400.6 1391.3 1402.6 1393.9 1404.6 1387.0 1406.6 1386.3 1408.6 1397.6 1410.6 1398.5 1412.6 1387.5 1414.6 1386.4 1416.6 1393.8 1418.6 1398.8 1420.6 1398.7 1422.6 1397.9 1424.6 1395.4 1426.6 1395.1 1428.6 1398.2 1430.6 1389.8 1432.6 1400.8 1434.6 1398.6 1436.6 1393.3 1438.6 1394.7 1440.6 1399.5 1442.6 1397.5 1444.6 1403.0 1446.6 1403.3 1448.6 1402.3 1450.6 1404.5 1452.6 1394.8 1454.6 1404.1 1456.6 1409.6 1458.6 1400.4 1460.6 1402.3 1462.6 1405.1 1464.6 1408.0 1466.6 1409.2 1468.6 1404.5 1470.6 1412.0 1472.6 1408.9 1474.6 1409.0 1476.6 1412.2 1478.6 1404.0 1480.6 1414.3 1482.6 1411.7 1484.6 1412.4 1486.6 1424.1 1488.6 1413.1 1490.6 1422.4 1492.6 1414.6 1494.6 1421.0 1496.6 1426.8 1498.6 1418.5 1500.6 1416.4 1502.6 1419.7 1504.6 1416.1 1506.6 1422.5 1508.6 1416.6 1510.6 1421.1 1512.6 1425.7 1514.6 1418.1 1516.6 1418.8 1518.6 1422.8 1520.6 1424.1 1522.6 1428.3 1524.6 1424.2 1526.6 1422.7 1528.6 1434.7 1530.6 1432.1 1532.6 1430.1 1534.6 1428.8 1536.6 1436.4 1538.6 1434.9 1540.6 1434.7 1542.6 1430.4 1544.6 1426.4 1546.6 1429.0 1548.6 1429.7 1550.6 1438.7 1552.6 1436.2 1554.6 1441.1 1556.6 1445.7 1558.6 1434.6 1560.6 1439.1 1562.6 1437.9 1564.6 1443.3 1566.6 1440.5 1568.6 1444.7 1570.6 1440.0 1572.6 1438.7 1574.6 1445.2 1576.6 1448.0 1578.6 1445.5 1580.6 1451.4 1582.6 1451.6 1584.6 1446.1 1586.6 1452.4 1588.6 1445.1 1590.6 1444.0 1592.6 1448.5 1594.6 1452.0 1596.6 1453.5 1598.6 1453.2 1600.6 1452.6 1602.6 1457.3 1604.6 1455.5 1606.6 1462.2 1608.6 1463.2 1610.6 1446.7 1612.6 1459.0 1614.6 1461.3 1616.6 1463.6 1618.6 1455.6 1620.6 1467.7 1622.6 1460.7 1624.6 1465.7 1626.6 1465.5 1628.6 1465.6 1630.6 1464.6 1632.6 1461.0 1634.6 1466.0 1636.6 1466.9 1638.6 1459.5 1640.6 1471.9 1642.6 1467.2 1644.6 1465.2 1646.6 1468.0 1648.6 1468.8 1650.6 1471.1 1652.6 1472.1 1654.6 1473.4 1656.6 1469.2 1658.6 1469.5 1660.6 1470.4 1662.6 1476.8 1664.6 1472.7 1666.6 1472.6 1668.6 1476.6 1670.6 1481.4 1672.6 1475.8 1674.6 1478.9 1676.6 1483.6 1678.6 1477.2 1680.6 1474.7 1682.6 1481.2 1684.6 1483.3 1686.6 1480.1 1688.6 1480.4 1690.6 1481.6 1692.6 1480.8 1694.6 1480.5 1696.6 1484.6 1698.6 1483.3 1700.6 1489.1 1702.6 1485.3 1704.6 1487.4 1706.6 1481.5 1708.6 1493.9 1710.6 1486.4 1712.6 1492.2 1714.6 1485.0 1716.6 1489.6 1718.6 1491.3 1720.6 1495.5 1722.6 1491.8 1724.6 1496.3 1726.6 1497.9 1728.6 1496.7 1730.6 1493.5 1732.6 1492.7 1734.6 1491.6 1736.6 1492.1 1738.6 1494.7 1740.6 1496.2 1742.6 1492.7 1744.6 1498.8 1746.6 1500.3 1748.6 1499.9 1750.6 1497.1 1752.6 1494.8 1754.6 1495.0 1756.6 1499.2 1758.6 1507.3 1760.6 1501.7 1762.6 1491.2 1764.6 1497.6 1766.6 1496.8 1768.6 1496.4 1770.6 1501.5 1772.6 1503.8 1774.6 1495.5 1776.6 1499.9 1778.6 1501.6 1780.6 1495.1 1782.6 1502.6 1784.6 1502.7 1786.6 1504.7 1788.6 1499.5 1790.6 1498.0 1792.6 1497.8 1794.6 1499.4 1796.6 1500.5 1798.6 1498.1 1800.6 1508.4 1802.6 1504.3 1804.6 1506.7 1806.6 1496.3 1808.6 1505.9 1810.6 1502.0 1812.6 1505.3 1814.6 1498.7 1816.6 1497.2 1818.6 1503.1 1820.6 1496.7 1822.6 1511.6 1824.6 1500.9 1826.6 1504.0 1828.6 1506.4 1830.6 1506.3 1832.6 1507.0 1834.6 1507.0 1836.6 1505.5 1838.6 1509.8 1840.6 1507.8 1842.6 1506.3 1844.6 1511.7 1846.6 1505.8 1848.6 1505.9 1850.6 1506.7 1852.6 1508.3 1854.6 1507.1 1856.6 1504.6 1858.6 1509.8 1860.6 1516.2 1862.6 1504.2 1864.6 1514.0 1866.6 1501.8 1868.6 1510.4 1870.6 1506.3 1872.6 1510.3 1874.6 1510.0 1876.6 1511.3 1878.6 1507.1 1880.6 1509.0 1882.6 1513.5 1884.6 1510.1 1886.6 1510.3 1888.6 1515.3 1890.6 1510.2 1892.6 1514.1 1894.6 1516.5 1896.6 1501.7 1898.6 1508.1 1900.6 1509.2 1902.6 1520.9 1904.6 1514.9 1906.6 1508.7 1908.6 1509.9 1910.6 1519.7 1912.6 1514.3 1914.6 1509.8 1916.6 1512.3 1918.6 1512.5 1920.6 1509.7 1922.6 1516.1 1924.6 1513.7 1926.6 1509.9 1928.6 1515.7 1930.6 1506.5 1932.6 1509.0 1934.6 1511.3 1936.6 1513.2 1938.6 1508.9 1940.6 1511.5 1942.6 1507.4 1944.6 1509.4 1946.6 1518.9 1948.6 1507.1 1950.6 1513.0 1952.6 1507.1 1954.6 1510.6 1956.6 1513.5 1958.6 1517.4 1960.6 1506.8 1962.6 1515.7 1964.6 1514.7 1966.6 1507.9 1968.6 1514.5 1970.6 1505.2 1972.6 1509.7 1974.6 1512.7 1976.6 1507.8 1978.6 1503.5 1980.6 1509.1 1982.6 1506.1 1984.6 1505.6 1986.6 1508.6 1988.6 1505.5 1990.6 1504.4 1992.6 1513.9 1994.6 1505.4 1996.6 1510.7 1998.6 1503.1 2000.6 1499.7 2002.6 1507.8 2004.6 1511.6 2006.6 1516.6 2008.6 1509.3 2010.6 1510.5 2012.6 1510.4 2014.6 1514.3 2016.6 1500.6 2018.6 1506.4 2020.6 1510.7 2022.6 1509.4 2024.6 1503.9 2026.6 1504.2 2028.6 1508.4 2030.6 1508.5 2032.6 1506.6 2034.6 1508.1 2036.6 1509.8 2038.6 1510.4 2040.6 1505.8" fill="none"/>
<path d="M138.6 1617.4L140.6 1617.2 142.6 1616.9 144.6 1616.7 146.6 1616.4 148.6 1616.2 150.6 1615.9 152.6 1615.7 154.6 1615.4 156.6 1615.2 158.6 1615.0 160.6 1614.7 162.6 1614.5 164.6 1614.3 166.6 1614.0 168.6 1613.8 170.6 1613.6 172.6 1613.4 174.6 1613.2 176.6 1613.0 178.6 1612.8 180.6 1612.6 182.6 1612.4 184.6 1612.3 186.6 1612.1 188.6 1611.9 190.6 1611.8 192.6 1611.7 194.6 1611.5 196.6 1611.4 198.6 1611.3 200.6 1611.2 202.6 1611.1 204.6 1611.1 206.6 1611.0 208.6 1610.9 210.6 1610.9 212.6 1610.9 214.6 1610.9 216.6 1610.9 218.6 1610.9 220.6 1610.9 222.6 1610.9 224.6 1610.9 226.6 1610.9 228.6 1610.9 230.6 1610.9 232.6 1610.9 234.6 1610.9 236.6 1610.9 238.6 1610.9 240.6 1610.9 242.6 1610.9 244.6 1610.9 246.6 1610.9 248.6 1610.9 250.6 1610.9 252.6 1610.9 254.6 1610.9 256.6 1610.9 258.6 1610.9 260.6 1610.9 262.6 1610.9 264.6 1610.9 266.6 1610.9 268.6 1610.9 270.6 1610.9 272.6 1610.9 274.6 1610.9 276.6 1610.9 278.6 1610.9 280.6 1610.9 282.6 1610.9 284.6 1610.9 286.6 1610.9 288.6 1610.9 290.6 1610.9 292.6 1610.9 294.6 1610.9 296.6 1610.9 298.6 1610.9 300.6 1610.9 302.6 1610.9 304.6 1610.9 306.6 1610.9 308.6 1610.9 310.6 1610.9 312.6 1611.0 314.6 1611.0 316.6 1611.1 318.6 1611.1 320.6 1611.1 322.6 1611.2 324.6 1611.3 326.6 1611.3 328.6 1611.4 330.6 1611.4 332.6 1611.5 334.6 1611.6 336.6 1611.6 338.6 1611.7 340.6 1611.8 342.6 1611.8 344.6 1611.9 346.6 1612.0 348.6 1612.1 350.6 1612.1 352.6 1612.2 354.6 1612.3 356.6 1612.3 358.6 1612.4 360.6 1612.5 362.6 1612.5 364.6 1612.6 366.6 1612.6 368.6 1612.7 370.6 1612.7 372.6 1612.7 374.6 1612.8 376.6 1612.8 378.6 1612.8 380.6 1612.9 382.6 1612.9 384.6 1612.9 386.6 1612.9 388.6 1612.9 390.6 1612.9 392.6 1612.9 394.6 1612.9 396.6 1612.9 398.6 1612.9 400.6 1612.9 402.6 1612.9 404.6 1612.9 406.6 1612.9 408.6 1612.9 410.6 1612.9 412.6 1612.9 414.6 1612.9 416.6 1612.9 418.6 1612.9 420.6 1612.9 422.6 1612.9 424.6 1612.9 426.6 1612.9 428.6 1612.9 430.6 1612.9 432.6 1612.9 434.6 1612.9 436.6 1612.9 438.6 1612.9 440.6 1612.9 442.6 1612.9 444.6 1612.9 446.6 1612.9 448.6 1612.9 450.6 1612.9 452.6 1612.9 454.6 1612.9 456.6 1612.9 458.6 1612.9 460.6 1612.9 462.6 1612.9 464.6 1612.9 466.6 1612.9 468.6 1612.9 470.6 1612.9 472.6 1612.9 474.6 1612.9 476.6 1612.9 478.6 1613.0 480.6 1613.0 482.6 1613.1 484.6 1613.2 486.6 1613.3 488.6 1613.4 490.6 1613.4 492.6 1613.5 494.6 1613.6 496.6 1613.8 498.6 1613.9 500.6 1614.0 502.6 1614.1 504.6 1614.2 506.6 1614.3 508.6 1614.4 510.6 1614.5 512.6 1614.6 514.6 1614.6 516.6 1614.7 518.6 1614.8 520.6 1614.8 522.6 1614.8 524.6 1614.9 526.6 1614.9 528.6 1614.8 530.6 1614.6 532.6 1614.3 534.6 1614.0 536.6 1613.6 538.6 1613.3 540.6 1613.0 542.6 1612.9 544.6 1612.9 546.6 1612.9 548.6 1612.9 550.6 1612.9 552.6 1612.9 554.6 1612.9 556.6 1612.9 558.6 1612.9 560.6 1612.9 562.6 1612.9 564.6 1612.9 566.6 1612.9 568.6 1612.9 570.6 1612.9 572.6 1612.9 574.6 1612.9 576.6 1612.9 578.6 1612.9 580.6 1612.9 582.6 1612.9 584.6 1612.9 586.6 1612.9 588.6 1612.8 590.6 1612.7 592.6 1612.6 594.6 1612.5 596.6 1612.3 598.6 1612.1 600.6 1611.9 602.6 1611.7 604.6 1611.4 606.6 1611.2 608.6 1610.9 610.6 1610.7 612.6 1610.4 614.6 1610.2 616.6 1610.0 618.6 1609.7 620.6 1609.5 622.6 1609.3 624.6 1609.1 626.6 1609.0 628.6 1608.8 630.6 1608.7 632.6 1608.6 634.6 1608.5 636.6 1608.4 638.6 1608.3 640.6 1608.3 642.6 1608.2 644.6 1608.1 646.6 1608.0 648.6 1608.0 650.6 1607.9 652.6 1607.8 654.6 1607.7 656.6 1607.7 658.6 1607.6 660.6 1607.5 662.6 1607.4 664.6 1607.3 666.6 1607.2 668.6 1607.0 670.6 1606.9 672.6 1606.7 674.6 1606.5 676.6 1606.3 678.6 1606.1 680.6 1605.8 682.6 1605.5 684.6 1605.1 686.6 1604.8 688.6 1604.4 690.6 1604.0 692.6 1603.7 694.6 1603.3 696.6 1602.9 698.6 1602.5 700.6 1602.1 702.6 1601.7 704.6 1601.3 706.6 1600.9 708.6 1600.6 710.6 1600.2 712.6 1599.9 714.6 1599.6 716.6 1599.3 718.6 1599.0 720.6 1598.8 722.6 1598.5 724.6 1598.3 726.6 1598.0 728.6 1597.7 730.6 1597.5 732.6 1597.2 734.6 1597.0 736.6 1596.7 738.6 1596.5 740.6 1596.2 742.6 1595.9 744.6 1595.7 746.6 1595.4 748.6 1595.1 750.6 1594.8 752.6 1594.4 754.6 1594.1 756.6 1593.7 758.6 1593.4 760.6 1592.9 762.6 1592.5 764.6 1592.1 766.6 1591.6 768.6 1591.1 770.6 1590.6 772.6 1590.1 774.6 1589.6 776.6 1589.1 778.6 1588.5 780.6 1588.0 782.6 1587.4 784.6 1586.9 786.6 1586.3 788.6 1585.7 790.6 1585.2 792.6 1584.6 794.6 1584.0 796.6 1583.5 798.6 1582.9 800.6 1582.4 802.6 1581.8 804.6 1581.3 806.6 1580.8 808.6 1580.2 810.6 1579.7 812.6 1579.2 814.6 1578.6 816.6 1578.1 818.6 1577.6 820.6 1577.0 822.6 1576.4 824.6 1575.9 826.6 1575.3 828.6 1574.7 830.6 1574.1 832.6 1573.5 834.6 1572.8 836.6 1572.2 838.6 1571.5 840.6 1570.8 842.6 1570.1 844.6 1569.3 846.6 1568.6 848.6 1567.8 850.6 1567.0 852.6 1566.1 854.6 1565.3 856.6 1564.4 858.6 1563.5 860.6 1562.6 862.6 1561.6 864.6 1560.7 866.6 1559.7 868.6 1558.7 870.6 1557.7 872.6 1556.7 874.6 1555.7 876.6 1554.7 878.6 1553.6 880.6 1552.6 882.6 1551.5 884.6 1550.4 886.6 1549.3 888.6 1548.1 890.6 1546.9 892.6 1545.6 894.6 1544.3 896.6 1543.1 898.6 1542.0 900.6 1540.9 902.6 1539.8 904.6 1538.8 906.6 1537.7 908.6 1536.7 910.6 1535.7 912.6 1534.7 914.6 1533.8 916.6 1532.8 918.6 1531.8 920.6 1530.9 922.6 1529.9 924.6 1529.0 926.6 1528.0 928.6 1527.1 930.6 1526.2 932.6 1525.3 934.6 1524.4 936.6 1523.5 938.6 1522.6 940.6 1521.7 942.6 1520.8 944.6 1520.0 946.6 1519.1 948.6 1518.2 950.6 1517.3 952.6 1516.4 954.6 1515.5 956.6 1514.6 958.6 1513.7 960.6 1512.8 962.6 1511.8 964.6 1510.9 966.6 1509.9 968.6 1509.0 970.6 1508.0 972.6 1507.0 974.6 1506.0 976.6 1505.1 978.6 1504.1 980.6 1503.1 982.6 1502.1 984.6 1501.1 986.6 1500.1 988.6 1499.1 990.6 1498.1 992.6 1497.0 994.6 1496.0 996.6 1494.9 998.6 1493.8 1000.6 1492.7 1002.6 1491.6 1004.6 1490.5 1006.6 1489.2 1008.6 1487.7 1010.6 1485.7 1012.6 1483.0 1014.6 1479.4 1016.6 1474.4 1018.6 1467.6 1020.6 1458.6 1022.6 1446.9 1024.6 1432.2 1026.6 1415.0 1028.6 1396.7 1030.6 1379.0 1032.6 1364.3 1034.6 1354.6 1036.6 1351.4 1038.6 1355.0 1040.6 1364.5 1042.6 1378.8 1044.6 1396.0 1046.6 1414.1 1048.6 1431.5 1050.6 1446.9 1052.6 1459.7 1054.6 1469.6 1056.6 1476.9 1058.6 1482.2 1060.6 1486.0 1062.6 1488.7 1064.6 1490.7 1066.6 1492.3 1068.6 1493.7 1070.6 1494.8 1072.6 1495.9 1074.6 1497.0 1076.6 1498.1 1078.6 1499.1 1080.6 1500.2 1082.6 1501.2 1084.6 1502.3 1086.6 1503.3 1088.6 1504.2 1090.6 1505.1 1092.6 1506.0 1094.6 1506.8 1096.6 1507.7 1098.6 1508.4 1100.6 1509.2 1102.6 1510.0 1104.6 1510.7 1106.6 1511.4 1108.6 1512.1 1110.6 1512.8 1112.6 1513.5 1114.6 1514.2 1116.6 1514.9 1118.6 1515.5 1120.6 1516.2 1122.6 1516.8 1124.6 1517.5 1126.6 1518.1 1128.6 1518.7 1130.6 1519.4 1132.6 1520.0 1134.6 1520.7 1136.6 1521.3 1138.6 1522.0 1140.6 1522.8 1142.6 1523.6 1144.6 1524.4 1146.6 1525.2 1148.6 1525.9 1150.6 1526.5 1152.6 1527.0 1154.6 1527.4 1156.6 1527.5 1158.6 1527.5 1160.6 1527.3 1162.6 1527.0 1164.6 1526.6 1166.6 1526.2 1168.6 1525.6 1170.6 1525.1 1172.6 1524.5 1174.6 1523.9 1176.6 1523.3 1178.6 1522.8 1180.6 1522.3 1182.6 1521.7 1184.6 1521.0 1186.6 1520.3 1188.6 1519.5 1190.6 1518.8 1192.6 1518.0 1194.6 1517.2 1196.6 1516.4 1198.6 1515.7 1200.6 1515.0 1202.6 1514.4 1204.6 1513.8 1206.6 1513.4 1208.6 1513.0 1210.6 1512.8 1212.6 1512.7 1214.6 1512.8 1216.6 1513.3 1218.6 1514.1 1220.6 1515.2 1222.6 1516.4 1224.6 1517.8 1226.6 1519.3 1228.6 1520.8 1230.6 1522.2 1232.6 1523.6 1234.6 1524.8 1236.6 1525.7 1238.6 1526.4 1240.6 1526.8 1242.6 1527.1 1244.6 1527.3 1246.6 1527.5 1248.6 1527.7 1250.6 1527.8 1252.6 1528.0 1254.6 1528.1 1256.6 1528.2 1258.6 1528.3 1260.6 1528.4 1262.6 1528.5 1264.6 1528.7 1266.6 1528.8 1268.6 1528.9 1270.6 1529.1 1272.6 1529.2 1274.6 1529.4 1276.6 1529.7 1278.6 1530.0 1280.6 1530.3 1282.6 1530.8 1284.6 1531.3 1286.6 1531.8 1288.6 1532.4 1290.6 1533.0 1292.6 1533.6 1294.6 1534.2 1296.6 1534.8 1298.6 1535.3 1300.6 1535.7 1302.6 1536.1 1304.6 1536.4 1306.6 1536.6 1308.6 1536.9 1310.6 1537.2 1312.6 1537.4 1314.6 1537.6 1316.6 1537.8 1318.6 1538.0 1320.6 1538.2 1322.6 1538.4 1324.6 1538.6 1326.6 1538.8 1328.6 1539.0 1330.6 1539.1 1332.6 1539.3 1334.6 1539.5 1336.6 1539.7 1338.6 1539.8 1340.6 1540.0 1342.6 1540.2 1344.6 1540.4 1346.6 1540.6 1348.6 1540.8 1350.6 1541.0 1352.6 1541.2 1354.6 1541.4 1356.6 1541.6 1358.6 1541.8 1360.6 1541.9 1362.6 1542.1 1364.6 1542.3 1366.6 1542.5 1368.6 1542.7 1370.6 1542.9 1372.6 1543.1 1374.6 1543.3 1376.6 1543.5 1378.6 1543.7 1380.6 1543.9 1382.6 1544.1 1384.6 1544.4 1386.6 1544.6 1388.6 1544.8 1390.6 1545.1 1392.6 1545.3 1394.6 1545.6 1396.6 1545.9 1398.6 1546.2 1400.6 1546.5 1402.6 1546.8 1404.6 1547.1 1406.6 1547.4 1408.6 1547.8 1410.6 1548.1 1412.6 1548.4 1414.6 1548.7 1416.6 1549.0 1418.6 1549.3 1420.6 1549.6 1422.6 1549.9 1424.6 1550.2 1426.6 1550.5 1428.6 1550.8 1430.6 1551.0 1432.6 1551.3 1434.6 1551.5 1436.6 1551.7 1438.6 1552.0 1440.6 1552.2 1442.6 1552.4 1444.6 1552.6 1446.6 1552.9 1448.6 1553.1 1450.6 1553.3 1452.6 1553.5 1454.6 1553.7 1456.6 1553.9 1458.6 1554.1 1460.6 1554.3 1462.6 1554.5 1464.6 1554.7 1466.6 1554.8 1468.6 1555.0 1470.6 1555.2 1472.6 1555.3 1474.6 1555.5 1476.6 1555.6 1478.6 1555.8 1480.6 1555.9 1482.6 1556.0 1484.6 1556.1 1486.6 1556.3 1488.6 1556.4 1490.6 1556.5 1492.6 1556.6 1494.6 1556.7 1496.6 1556.8 1498.6 1557.0 1500.6 1557.1 1502.6 1557.3 1504.6 1557.4 1506.6 1557.6 1508.6 1557.8 1510.6 1558.0 1512.6 1558.1 1514.6 1558.0 1516.6 1557.4 1518.6 1555.9 1520.6 1553.6 1522.6 1551.3 1524.6 1550.4 1526.6 1551.6 1528.6 1554.3 1530.6 1557.2 1532.6 1559.2 1534.6 1560.4 1536.6 1561.0 1538.6 1561.5 1540.6 1561.9 1542.6 1562.3 1544.6 1562.7 1546.6 1563.2 1548.6 1563.9 1550.6 1564.8 1552.6 1565.7 1554.6 1566.7 1556.6 1567.7 1558.6 1568.6 1560.6 1569.5 1562.6 1570.4 1564.6 1571.2 1566.6 1572.1 1568.6 1573.1 1570.6 1574.0 1572.6 1574.9 1574.6 1575.8 1576.6 1576.7 1578.6 1577.6 1580.6 1578.5 1582.6 1579.4 1584.6 1580.3 1586.6 1581.2 1588.6 1582.0 1590.6 1582.8 1592.6 1583.6 1594.6 1584.3 1596.6 1585.1 1598.6 1585.8 1600.6 1586.4 1602.6 1587.0 1604.6 1587.6 1606.6 1588.2 1608.6 1588.7 1610.6 1589.2 1612.6 1589.7 1614.6 1590.2 1616.6 1590.7 1618.6 1591.2 1620.6 1591.6 1622.6 1592.1 1624.6 1592.5 1626.6 1592.9 1628.6 1593.4 1630.6 1593.8 1632.6 1594.2 1634.6 1594.6 1636.6 1595.0 1638.6 1595.5 1640.6 1595.9 1642.6 1596.3 1644.6 1596.8 1646.6 1597.2 1648.6 1597.6 1650.6 1598.1 1652.6 1598.5 1654.6 1598.9 1656.6 1599.4 1658.6 1599.8 1660.6 1600.2 1662.6 1600.7 1664.6 1601.1 1666.6 1601.5 1668.6 1601.9 1670.6 1602.3 1672.6 1602.8 1674.6 1603.2 1676.6 1603.6 1678.6 1604.0 1680.6 1604.4 1682.6 1604.8 1684.6 1605.2 1686.6 1605.6 1688.6 1606.0 1690.6 1606.4 1692.6 1606.7 1694.6 1607.1 1696.6 1607.5 1698.6 1607.9 1700.6 1608.3 1702.6 1608.6 1704.6 1609.0 1706.6 1609.4 1708.6 1609.8 1710.6 1610.1 1712.6 1610.5 1714.6 1610.9 1716.6 1611.3 1718.6 1611.6 1720.6 1612.0 1722.6 1612.4 1724.6 1612.8 1726.6 1613.2 1728.6 1613.6 1730.6 1614.0 1732.6 1614.5 1734.6 1614.9 1736.6 1615.4 1738.6 1615.8 1740.6 1616.3 1742.6 1616.7 1744.6 1617.2 1746.6 1617.6 1748.6 1618.0 1750.6 1618.5 1752.6 1618.9 1754.6 1619.3 1756.6 1619.7 1758.6 1620.1 1760.6 1620.4 1762.6 1620.8 1764.6 1621.1 1766.6 1621.4 1768.6 1621.7 1770.6 1621.9 1772.6 1622.2 1774.6 1622.5 1776.6 1622.7 1778.6 1622.9 1780.6 1623.2 1782.6 1623.4 1784.6 1623.6 1786.6 1623.8 1788.6 1624.0 1790.6 1624.2 1792.6 1624.4 1794.6 1624.6 1796.6 1624.8 1798.6 1625.0 1800.6 1625.1 1802.6 1625.3 1804.6 1625.5 1806.6 1625.6 1808.6 1625.7 1810.6 1625.9 1812.6 1626.0 1814.6 1626.1 1816.6 1626.3 1818.6 1626.4 1820.6 1626.5 1822.6 1626.6 1824.6 1626.7 1826.6 1626.8 1828.6 1626.9 1830.6 1627.0 1832.6 1627.1 1834.6 1627.2 1836.6 1627.3 1838.6 1627.4 1840.6 1627.5 1842.6 1627.5 1844.6 1627.6 1846.6 1627.7 1848.6 1627.8 1850.6 1627.8 1852.6 1627.9 1854.6 1628.0 1856.6 1628.0 1858.6 1628.1 1860.6 1628.2 1862.6 1628.2 1864.6 1628.3 1866.6 1628.3 1868.6 1628.4 1870.6 1628.5 1872.6 1628.5 1874.6 1628.6 1876.6 1628.6 1878.6 1628.7 1880.6 1628.7 1882.6 1628.8 1884.6 1628.8 1886.6 1628.8 1888.6 1628.9 1890.6 1628.9 1892.6 1628.9 1894.6 1628.9 1896.6 1628.9 1898.6 1628.9 1900.6 1628.9 1902.6 1628.9 1904.6 1628.8 1906.6 1628.8 1908.6 1628.8 1910.6 1628.7 1912.6 1628.7 1914.6 1628.6 1916.6 1628.6 1918.6 1628.5 1920.6 1628.4 1922.6 1628.4 1924.6 1628.3 1926.6 1628.3 1928.6 1628.2 1930.6 1628.1 1932.6 1628.1 1934.6 1628.0 1936.6 1628.0 1938.6 1627.9 1940.6 1627.9 1942.6 1627.8 1944.6 1627.8 1946.6 1627.7 1948.6 1627.6 1950.6 1627.6 1952.6 1627.5 1954.6 1627.5 1956.6 1627.4 1958.6 1627.3 1960.6 1627.3 1961.6 1628.6 1962.1 1628.6 1962.6 1628.5 1963.1 1628.4 1963.6 1628.3 1964.0 1628.3 1964.5 1628.2 1965.0 1628.1 1965.4 1628.0 1965.9 1627.9 1966.3 1627.8 1966.8 1627.7 1967.2 1627.6 1967.7 1627.5 1968.1 1627.4 1968.6 1627.3 1969.2 1627.2 1969.7 1627.1 1970.2 1626.9 1970.7 1626.8 1971.2 1626.7 1971.6 1626.5 1972.1 1626.3 1972.6 1626.2 1973.0 1626.0 1973.5 1625.8 1974.0 1625.6 1974.4 1625.4 1974.8 1625.2 1975.3 1625.0 1975.7 1624.8 1976.1 1624.6 1976.5 1624.3 1977.0 1624.0 1977.4 1623.8 1977.8 1623.5 1978.2 1623.2 1978.6 1622.8 1979.0 1622.5 1979.4 1622.2 1979.8 1621.8 1980.2 1621.4 1980.6 1621.0 1981.0 1620.6 1981.4 1620.1 1981.7 1619.6 1982.1 1619.1 1982.6 1618.6 1983.1 1618.1 1983.6 1617.5 1984.0 1616.9 1984.5 1616.2 1984.9 1615.6 1985.3 1614.9 1985.8 1614.1 1986.2 1613.3 1986.6 1612.5 1987.0 1611.6 1987.4 1610.7 1987.8 1609.8 1988.2 1609.5 1988.5 1608.4 1988.9 1607.3 1989.1 1606.1 1989.3 1604.9 1989.5 1603.6 1989.6 1602.2 1989.8 1600.8 1990.0 1599.3 1990.1 1597.7 1990.3 1596.1 1990.4 1594.3 1990.6 1592.5 1990.8 1590.5 1990.9 1588.5 1991.1 1586.3 1991.4 1584.1 1991.6 1581.7 1991.9 1579.2 1992.3 1576.6 1992.6 1573.8 1993.0 1570.9 1993.4 1567.9 1993.8 1564.7 1994.2 1561.3 1994.6 1557.7 1995.0 1554.0 1995.5 1550.1 1995.9 1546.0 1996.4 1541.6 1996.9 1537.1 1997.3 1532.3 1997.8 1527.2 1998.3 1521.9 1998.8 1516.3 1999.2 1510.5 1999.7 1504.3 2000.1 1497.8 2000.6 1491.0 2001.0 1483.8 2001.5 1476.2 2001.9 1468.3 2002.4 1459.9 2002.8 1451.2 2003.2 1441.9 2003.5 1432.2 2003.9 1422.0 2004.2 1411.2 2004.5 1400.0 2004.8 1388.1 2005.1 1375.6 2005.3 1362.4 2005.5 1348.6 2005.7 1334.1 2005.9 1318.8 2006.1 1302.7 2006.2 1285.8 2006.3 1268.1 2006.4 1249.4 2006.4 1229.7 2006.5 1209.0 2006.5 1187.3 2006.5 1164.4 2006.6 1140.4 2006.6 1115.1 2006.7 1088.5 2006.7 1064.2 2006.8 1064.2 2006.9 1064.2 2006.9 1064.2 2007.0 1064.2 2007.0 1064.2 2007.1 1064.2 2007.1 1064.2 2007.2 1064.2 2007.3 1064.2 2007.3 1064.2 2007.4 1064.2 2007.4 1064.2 2007.4 1064.2 2007.4 1064.2 2007.4 1064.2 2007.5 1064.2 2007.5 1064.2 2007.5 1064.2 2007.5 1064.2 2007.5 1064.2 2007.5 1064.2 2007.5 1064.2 2007.5 1064.2 2007.5 1064.2 2007.6 1064.2 2007.6 1064.2 2007.6 1064.2 2007.6 1064.2 2007.6 1064.2 2007.6 1064.2 2007.6 1064.2 2007.6 1064.2 2007.6 1064.2 2008.4 1064.2 2008.4 1064.2 2008.4 1064.2 2008.4 1064.2 2008.4 1064.2 2008.4 1064.2 2008.4 1064.2 2008.4 1064.2 2008.4 1064.2 2008.5 1064.2 2008.5 1064.2 2008.5 1064.2 2008.5 1064.2 2008.5 1064.2 2008.5 1064.2 2008.5 1064.2 2008.5 1064.2 2008.5 1064.2 2008.6 1064.2 2008.6 1064.2 2008.6 1064.2 2008.6 1064.2 2008.6 1064.2 2008.7 1064.2 2008.7 1064.2 2008.8 1064.2 2008.9 1064.2 2008.9 1064.2 2009.0 1064.2 2009.0 1064.2 2009.1 1064.2 2009.1 1064.2 2009.2 1064.2 2009.2 1064.2 2009.3 1088.5 2009.3 1115.1 2009.4 1140.4 2009.4 1164.4 2009.4 1187.3 2009.4 1209.0 2009.5 1229.7 2009.5 1249.4 2009.6 1268.1 2009.7 1285.8 2009.8 1302.7 2009.9 1318.8 2010.1 1334.1 2010.3 1348.6 2010.4 1362.4 2010.6 1375.6 2010.9 1388.1 2011.1 1400.0 2011.4 1411.2 2011.6 1422.0 2011.9 1432.2 2012.2 1441.9 2012.6 1451.2 2012.9 1459.9 2013.2 1468.3 2013.6 1476.2 2013.9 1483.8 2014.3 1491.0 2014.6 1497.8 2015.0 1504.3 2015.3 1510.5 2015.7 1516.3 2016.1 1521.9 2016.4 1527.2 2016.8 1532.3 2017.1 1537.1 2017.4 1541.6 2017.8 1546.0 2018.1 1550.1 2018.4 1554.0 2018.7 1557.7 2019.0 1561.3 2019.2 1564.7 2019.5 1567.9 2019.7 1570.9 2019.9 1573.8 2020.2 1576.6 2020.3 1579.2 2020.5 1581.7 2020.7 1584.1 2020.8 1586.3 2020.9 1588.5 2020.9 1590.5 2021.0 1592.5 2021.0 1594.3 2021.1 1596.1 2021.1 1597.7 2021.2 1599.3 2021.4 1600.8 2021.9 1602.2 2022.4 1603.6 2022.9 1604.9 2023.4 1606.1 2023.9 1607.3 2024.4 1608.4 2025.0 1609.5 2025.6 1609.8 2026.2 1610.7 2026.8 1611.6 2027.4 1612.5 2028.1 1613.3 2028.8 1614.1 2029.5 1614.9 2030.2 1615.6 2031.1 1616.2 2032.0 1616.9 2032.9 1617.5 2033.9 1618.1 2034.9 1618.6 2035.9 1619.1 2037.0 1619.6 2038.1 1620.1 2039.2 1620.6 2040.2 1621.0 2041.3 1621.4 2042.5 1621.8 2043.7 1622.2 2044.9 1622.5 2046.1 1622.8 2047.4 1623.2 2048.4 1623.5 2049.2 1623.7 2050.0 1624.0 2050.8 1624.3 2051.6 1624.5 2052.4 1624.8 2053.2 1625.0 2054.1 1625.2 2054.9 1625.4 2055.8 1625.6 2056.7 1625.8 2057.6 1625.9 2058.5 1626.1 2059.5 1626.3 2060.5 1626.4 2061.4 1626.5 2062.4 1626.7 2063.5 1626.8 2064.5 1626.9 2065.6 1627.0 2066.6 1627.2 2067.7 1627.3 2068.0 1627.4 2068.0 1627.5 2068.0 1627.5 2068.0 1627.6 2068.0 1627.7 2068.0 1627.8 2068.0 1627.9 2068.0 1627.9 2068.0 1628.0 2068.0 1628.1 2068.0 1628.1 2068.0 1628.2 2068.0 1628.2 2068.0 1628.3 2068.0 1629.7 2068.0 1629.7 2068.0 1629.6 2068.0 1629.6 2068.0 1629.5 2068.0 1629.4 2068.0 1629.4 2068.0 1629.3 2068.0 1629.2 2068.0 1629.1 2068.0 1629.1 2068.0 1629.0 2068.0 1628.9 2068.0 1628.8 2067.7 1628.7 2066.6 1628.6 2065.6 1628.5 2064.5 1628.4 2063.5 1628.2 2062.4 1628.1 2061.4 1628.0 2060.5 1627.8 2059.5 1627.7 2058.5 1627.5 2057.6 1627.4 2056.7 1627.2 2055.8 1627.0 2054.9 1626.8 2054.1 1626.6 2053.2 1626.4 2052.4 1626.2 2051.6 1626.0 2050.8 1625.7 2050.0 1625.5 2049.2 1625.2 2048.4 1624.9 2047.4 1624.6 2046.1 1624.3 2044.9 1623.9 2043.7 1623.6 2042.5 1623.2 2041.3 1622.8 2040.2 1622.4 2039.2 1622.0 2038.1 1621.6 2037.0 1621.1 2035.9 1620.6 2034.9 1620.1 2033.9 1619.5 2032.9 1618.9 2032.0 1618.3 2031.1 1617.7 2030.2 1617.0 2029.5 1616.3 2028.8 1615.6 2028.1 1614.8 2027.4 1613.9 2026.8 1613.1 2026.2 1612.2 2025.6 1611.2 2025.0 1609.5 2024.4 1608.4 2023.9 1607.3 2023.4 1606.1 2022.9 1604.9 2022.4 1603.6 2021.9 1602.2 2021.4 1600.8 2021.2 1599.3 2021.1 1597.7 2021.1 1596.1 2021.0 1594.3 2021.0 1592.5 2020.9 1590.5 2020.9 1588.5 2020.8 1586.3 2020.7 1584.1 2020.5 1581.7 2020.3 1579.2 2020.2 1576.6 2019.9 1573.8 2019.7 1570.9 2019.5 1567.9 2019.2 1564.7 2019.0 1561.3 2018.7 1557.7 2018.4 1554.0 2018.1 1550.1 2017.8 1546.0 2017.4 1541.6 2017.1 1537.1 2016.8 1532.3 2016.4 1527.2 2016.1 1521.9 2015.7 1516.3 2015.3 1510.5 2015.0 1504.3 2014.6 1497.8 2014.3 1491.0 2013.9 1483.8 2013.6 1476.2 2013.2 1468.3 2012.9 1459.9 2012.6 1451.2 2012.2 1441.9 2011.9 1432.2 2011.6 1422.0 2011.4 1411.2 2011.1 1400.0 2010.9 1388.1 2010.6 1375.6 2010.4 1362.4 2010.3 1348.6 2010.1 1334.1 2009.9 1318.8 2009.8 1302.7 2009.7 1285.8 2009.6 1268.1 2009.5 1249.4 2009.5 1229.7 2009.4 1209.0 2009.4 1187.3 2009.4 1164.4 2009.4 1140.4 2009.3 1115.1 2009.3 1088.5 2009.2 1064.2 2009.2 1064.2 2009.1 1064.2 2009.1 1064.2 2009.0 1064.2 2009.0 1064.2 2008.9 1064.2 2008.9 1064.2 2008.8 1064.2 2008.7 1064.2 2008.7 1064.2 2008.6 1064.2 2008.6 1064.2 2008.6 1064.2 2008.6 1064.2 2008.6 1064.2 2008.5 1064.2 2008.5 1064.2 2008.5 1064.2 2008.5 1064.2 2008.5 1064.2 2008.5 1064.2 2008.5 1064.2 2008.5 1064.2 2008.5 1064.2 2008.4 1064.2 2008.4 1064.2 2008.4 1064.2 2008.4 1064.2 2008.4 1064.2 2008.4 1064.2 2008.4 1064.2 2008.4 1064.2 2008.4 1064.2 2007.6 1064.2 2007.6 1064.2 2007.6 1064.2 2007.6 1064.2 2007.6 1064.2 2007.6 1064.2 2007.6 1064.2 2007.6 1064.2 2007.6 1064.2 2007.5 1064.2 2007.5 1064.2 2007.5 1064.2 2007.5 1064.2 2007.5 1064.2 2007.5 1064.2 2007.5 1064.2 2007.5 1064.2 2007.5 1064.2 2007.4 1064.2 2007.4 1064.2 2007.4 1064.2 2007.4 1064.2 2007.4 1064.2 2007.3 1064.2 2007.3 1064.2 2007.2 1064.2 2007.1 1064.2 2007.1 1064.2 2007.0 1064.2 2007.0 1064.2 2006.9 1064.2 2006.9 1064.2 2006.8 1064.2 2006.7 1064.2 2006.7 1088.5 2006.6 1115.1 2006.6 1140.4 2006.5 1164.4 2006.5 1187.3 2006.5 1209.0 2006.4 1229.7 2006.4 1249.4 2006.3 1268.1 2006.2 1285.8 2006.1 1302.7 2005.9 1318.8 2005.7 1334.1 2005.5 1348.6 2005.3 1362.4 2005.1 1375.6 2004.8 1388.1 2004.5 1400.0 2004.2 1411.2 2003.9 1422.0 2003.5 1432.2 2003.2 1441.9 2002.8 1451.2 2002.4 1459.9 2001.9 1468.3 2001.5 1476.2 2001.0 1483.8 2000.6 1491.0 2000.1 1497.8 1999.7 1504.3 1999.2 1510.5 1998.8 1516.3 1998.3 1521.9 1997.8 1527.2 1997.3 1532.3 1996.9 1537.1 1996.4 1541.6 1995.9 1546.0 1995.5 1550.1 1995.0 1554.0 1994.6 1557.7 1994.2 1561.3 1993.8 1564.7 1993.4 1567.9 1993.0 1570.9 1992.6 1573.8 1992.3 1576.6 1991.9 1579.2 1991.6 1581.7 1991.4 1584.1 1991.1 1586.3 1990.9 1588.5 1990.8 1590.5 1990.6 1592.5 1990.4 1594.3 1990.3 1596.1 1990.1 1597.7 1990.0 1599.3 1989.8 1600.8 1989.6 1602.2 1989.5 1603.6 1989.3 1604.9 1989.1 1606.1 1988.9 1607.3 1988.5 1608.4 1988.2 1609.5 1987.8 1611.2 1987.4 1612.2 1987.0 1613.1 1986.6 1613.9 1986.2 1614.8 1985.8 1615.6 1985.3 1616.3 1984.9 1617.0 1984.5 1617.7 1984.0 1618.3 1983.6 1618.9 1983.1 1619.5 1982.6 1620.1 1982.1 1620.6 1981.7 1621.1 1981.4 1621.6 1981.0 1622.0 1980.6 1622.4 1980.2 1622.8 1979.8 1623.2 1979.4 1623.6 1979.0 1624.0 1978.6 1624.3 1978.2 1624.6 1977.8 1624.9 1977.4 1625.2 1977.0 1625.5 1976.5 1625.7 1976.1 1626.0 1975.7 1626.2 1975.3 1626.5 1974.8 1626.7 1974.4 1626.9 1974.0 1627.1 1973.5 1627.3 1973.0 1627.4 1972.6 1627.6 1972.1 1627.8 1971.6 1627.9 1971.2 1628.1 1970.7 1628.2 1970.2 1628.4 1969.7 1628.5 1969.2 1628.6 1968.6 1628.8 1968.1 1628.9 1967.7 1629.0 1967.2 1629.1 1966.8 1629.2 1966.3 1629.3 1965.9 1629.4 1965.4 1629.5 1965.0 1629.5 1964.5 1629.6 1964.0 1629.7 1963.6 1629.8 1963.1 1629.9 1962.6 1629.9 1962.1 1630.0 1961.6 1630.1 1960.6 1633.5 1958.6 1633.5 1956.6 1633.6 1954.6 1633.6 1952.6 1633.7 1950.6 1633.8 1948.6 1633.8 1946.6 1633.9 1944.6 1633.9 1942.6 1634.0 1940.6 1634.1 1938.6 1634.1 1936.6 1634.1 1934.6 1634.2 1932.6 1634.3 1930.6 1634.3 1928.6 1634.4 1926.6 1634.4 1924.6 1634.5 1922.6 1634.6 1920.6 1634.6 1918.6 1634.7 1916.6 1634.7 1914.6 1634.8 1912.6 1634.8 1910.6 1634.9 1908.6 1634.9 1906.6 1635.0 1904.6 1635.0 1902.6 1635.0 1900.6 1635.1 1898.6 1635.1 1896.6 1635.1 1894.6 1635.1 1892.6 1635.1 1890.6 1635.1 1888.6 1635.0 1886.6 1635.0 1884.6 1635.0 1882.6 1634.9 1880.6 1634.9 1878.6 1634.9 1876.6 1634.8 1874.6 1634.8 1872.6 1634.7 1870.6 1634.6 1868.6 1634.6 1866.6 1634.5 1864.6 1634.5 1862.6 1634.4 1860.6 1634.3 1858.6 1634.3 1856.6 1634.2 1854.6 1634.1 1852.6 1634.1 1850.6 1634.0 1848.6 1633.9 1846.6 1633.9 1844.6 1633.8 1842.6 1633.7 1840.6 1633.6 1838.6 1633.6 1836.6 1633.5 1834.6 1633.4 1832.6 1633.3 1830.6 1633.2 1828.6 1633.1 1826.6 1633.0 1824.6 1632.9 1822.6 1632.8 1820.6 1632.7 1818.6 1632.6 1816.6 1632.4 1814.6 1632.3 1812.6 1632.2 1810.6 1632.1 1808.6 1631.9 1806.6 1631.8 1804.6 1631.6 1802.6 1631.5 1800.6 1631.3 1798.6 1631.2 1796.6 1631.0 1794.6 1630.8 1792.6 1630.6 1790.6 1630.4 1788.6 1630.2 1786.6 1630.0 1784.6 1629.8 1782.6 1629.6 1780.6 1629.4 1778.6 1629.1 1776.6 1628.9 1774.6 1628.7 1772.6 1628.4 1770.6 1628.1 1768.6 1627.9 1766.6 1627.6 1764.6 1627.3 1762.6 1627.0 1760.6 1626.6 1758.6 1626.3 1756.6 1625.9 1754.6 1625.5 1752.6 1625.1 1750.6 1624.7 1748.6 1624.3 1746.6 1623.8 1744.6 1623.4 1742.6 1622.9 1740.6 1622.5 1738.6 1622.0 1736.6 1621.6 1734.6 1621.1 1732.6 1620.7 1730.6 1620.3 1728.6 1619.8 1726.6 1619.4 1724.6 1619.0 1722.6 1618.7 1720.6 1618.3 1718.6 1617.9 1716.6 1617.5 1714.6 1617.1 1712.6 1616.8 1710.6 1616.4 1708.6 1616.0 1706.6 1615.6 1704.6 1615.3 1702.6 1614.9 1700.6 1614.5 1698.6 1614.1 1696.6 1613.8 1694.6 1613.4 1692.6 1613.0 1690.6 1612.6 1688.6 1612.2 1686.6 1611.8 1684.6 1611.5 1682.6 1611.1 1680.6 1610.7 1678.6 1610.3 1676.6 1609.8 1674.6 1609.4 1672.6 1609.0 1670.6 1608.6 1668.6 1608.2 1666.6 1607.8 1664.6 1607.4 1662.6 1606.9 1660.6 1606.5 1658.6 1606.1 1656.6 1605.7 1654.6 1605.2 1652.6 1604.8 1650.6 1604.4 1648.6 1603.9 1646.6 1603.5 1644.6 1603.1 1642.6 1602.6 1640.6 1602.2 1638.6 1601.8 1636.6 1601.4 1634.6 1600.9 1632.6 1600.5 1630.6 1600.1 1628.6 1599.7 1626.6 1599.2 1624.6 1598.8 1622.6 1598.4 1620.6 1597.9 1618.6 1597.5 1616.6 1597.0 1614.6 1596.5 1612.6 1596.1 1610.6 1595.5 1608.6 1595.0 1606.6 1594.5 1604.6 1593.9 1602.6 1593.3 1600.6 1592.7 1598.6 1592.1 1596.6 1591.4 1594.6 1590.7 1592.6 1589.9 1590.6 1589.2 1588.6 1588.3 1586.6 1587.5 1584.6 1586.7 1582.6 1585.8 1580.6 1584.9 1578.6 1584.0 1576.6 1583.1 1574.6 1582.2 1572.6 1581.3 1570.6 1580.4 1568.6 1579.4 1566.6 1578.5 1564.6 1577.6 1562.6 1576.8 1560.6 1575.9 1558.6 1575.0 1556.6 1574.1 1554.6 1573.1 1552.6 1572.1 1550.6 1571.2 1548.6 1570.3 1546.6 1569.6 1544.6 1569.1 1542.6 1568.7 1540.6 1568.3 1538.6 1567.9 1536.6 1567.5 1534.6 1566.8 1532.6 1565.7 1530.6 1563.6 1528.6 1560.8 1526.6 1558.1 1524.6 1556.9 1522.6 1557.8 1520.6 1560.1 1518.6 1562.4 1516.6 1563.8 1514.6 1564.4 1512.6 1564.5 1510.6 1564.4 1508.6 1564.2 1506.6 1564.1 1504.6 1563.9 1502.6 1563.7 1500.6 1563.6 1498.6 1563.4 1496.6 1563.3 1494.6 1563.2 1492.6 1563.1 1490.6 1562.9 1488.6 1562.8 1486.6 1562.7 1484.6 1562.6 1482.6 1562.5 1480.6 1562.4 1478.6 1562.2 1476.6 1562.1 1474.6 1562.0 1472.6 1561.8 1470.6 1561.6 1468.6 1561.5 1466.6 1561.3 1464.6 1561.1 1462.6 1560.9 1460.6 1560.7 1458.6 1560.6 1456.6 1560.4 1454.6 1560.2 1452.6 1560.0 1450.6 1559.8 1448.6 1559.5 1446.6 1559.3 1444.6 1559.1 1442.6 1558.9 1440.6 1558.7 1438.6 1558.4 1436.6 1558.2 1434.6 1558.0 1432.6 1557.7 1430.6 1557.5 1428.6 1557.2 1426.6 1557.0 1424.6 1556.7 1422.6 1556.4 1420.6 1556.1 1418.6 1555.8 1416.6 1555.5 1414.6 1555.2 1412.6 1554.9 1410.6 1554.6 1408.6 1554.2 1406.6 1553.9 1404.6 1553.6 1402.6 1553.3 1400.6 1553.0 1398.6 1552.7 1396.6 1552.4 1394.6 1552.1 1392.6 1551.8 1390.6 1551.6 1388.6 1551.3 1386.6 1551.1 1384.6 1550.9 1382.6 1550.6 1380.6 1550.4 1378.6 1550.2 1376.6 1550.0 1374.6 1549.8 1372.6 1549.6 1370.6 1549.4 1368.6 1549.2 1366.6 1549.0 1364.6 1548.8 1362.6 1548.6 1360.6 1548.5 1358.6 1548.3 1356.6 1548.1 1354.6 1547.9 1352.6 1547.7 1350.6 1547.5 1348.6 1547.3 1346.6 1547.1 1344.6 1546.9 1342.6 1546.7 1340.6 1546.5 1338.6 1546.3 1336.6 1546.2 1334.6 1546.0 1332.6 1545.8 1330.6 1545.6 1328.6 1545.5 1326.6 1545.3 1324.6 1545.1 1322.6 1544.9 1320.6 1544.7 1318.6 1544.6 1316.6 1544.3 1314.6 1544.1 1312.6 1543.9 1310.6 1543.7 1308.6 1543.4 1306.6 1543.2 1304.6 1542.9 1302.6 1542.6 1300.6 1542.2 1298.6 1541.8 1296.6 1541.3 1294.6 1540.7 1292.6 1540.2 1290.6 1539.6 1288.6 1539.0 1286.6 1538.4 1284.6 1537.8 1282.6 1537.3 1280.6 1536.9 1278.6 1536.5 1276.6 1536.2 1274.6 1536.0 1272.6 1535.8 1270.6 1535.6 1268.6 1535.5 1266.6 1535.3 1264.6 1535.2 1262.6 1535.1 1260.6 1535.0 1258.6 1534.9 1256.6 1534.8 1254.6 1534.7 1252.6 1534.5 1250.6 1534.4 1248.6 1534.2 1246.6 1534.1 1244.6 1533.9 1242.6 1533.6 1240.6 1533.4 1238.6 1533.0 1236.6 1532.3 1234.6 1531.3 1232.6 1530.1 1230.6 1528.8 1228.6 1527.4 1226.6 1525.9 1224.6 1524.4 1222.6 1523.0 1220.6 1521.8 1218.6 1520.7 1216.6 1519.9 1214.6 1519.4 1212.6 1519.3 1210.6 1519.4 1208.6 1519.6 1206.6 1520.0 1204.6 1520.4 1202.6 1521.0 1200.6 1521.6 1198.6 1522.3 1196.6 1523.0 1194.6 1523.8 1192.6 1524.6 1190.6 1525.3 1188.6 1526.1 1186.6 1526.9 1184.6 1527.6 1182.6 1528.3 1180.6 1528.9 1178.6 1529.4 1176.6 1529.9 1174.6 1530.5 1172.6 1531.1 1170.6 1531.6 1168.6 1532.2 1166.6 1532.7 1164.6 1533.2 1162.6 1533.6 1160.6 1533.9 1158.6 1534.0 1156.6 1534.1 1154.6 1533.9 1152.6 1533.6 1150.6 1533.1 1148.6 1532.5 1146.6 1531.8 1144.6 1531.0 1142.6 1530.2 1140.6 1529.4 1138.6 1528.6 1136.6 1527.9 1134.6 1527.2 1132.6 1526.6 1130.6 1526.0 1128.6 1525.3 1126.6 1524.7 1124.6 1524.1 1122.6 1523.4 1120.6 1522.8 1118.6 1522.1 1116.6 1521.5 1114.6 1520.8 1112.6 1520.1 1110.6 1519.4 1108.6 1518.8 1106.6 1518.0 1104.6 1517.3 1102.6 1516.6 1100.6 1515.8 1098.6 1515.1 1096.6 1514.3 1094.6 1513.5 1092.6 1512.6 1090.6 1511.8 1088.6 1510.9 1086.6 1509.9 1084.6 1508.9 1082.6 1507.9 1080.6 1506.8 1078.6 1505.8 1076.6 1504.7 1074.6 1503.7 1072.6 1502.6 1070.6 1501.5 1068.6 1500.3 1066.6 1499.0 1064.6 1497.4 1062.6 1495.4 1060.6 1492.7 1058.6 1488.9 1056.6 1483.7 1054.6 1476.4 1052.6 1466.5 1050.6 1453.8 1048.6 1438.4 1046.6 1421.1 1044.6 1403.0 1042.6 1385.8 1040.6 1371.6 1038.6 1362.1 1036.6 1358.6 1034.6 1361.8 1032.6 1371.4 1030.6 1386.1 1028.6 1403.7 1026.6 1422.0 1024.6 1439.1 1022.6 1453.7 1020.6 1465.4 1018.6 1474.4 1016.6 1481.2 1014.6 1486.1 1012.6 1489.8 1010.6 1492.4 1008.6 1494.4 1006.6 1495.9 1004.6 1497.1 1002.6 1498.3 1000.6 1499.4 998.6 1500.5 996.6 1501.6 994.6 1502.6 992.6 1503.7 990.6 1504.7 988.6 1505.7 986.6 1506.7 984.6 1507.8 982.6 1508.8 980.6 1509.7 978.6 1510.7 976.6 1511.7 974.6 1512.7 972.6 1513.7 970.6 1514.6 968.6 1515.6 966.6 1516.5 964.6 1517.5 962.6 1518.4 960.6 1519.4 958.6 1520.3 956.6 1521.2 954.6 1522.1 952.6 1523.0 950.6 1523.9 948.6 1524.8 946.6 1525.7 944.6 1526.5 942.6 1527.4 940.6 1528.3 938.6 1529.2 936.6 1530.1 934.6 1530.9 932.6 1531.8 930.6 1532.7 928.6 1533.7 926.6 1534.6 924.6 1535.5 922.6 1536.5 920.6 1537.4 918.6 1538.4 916.6 1539.3 914.6 1540.3 912.6 1541.3 910.6 1542.2 908.6 1543.2 906.6 1544.2 904.6 1545.3 902.6 1546.3 900.6 1547.4 898.6 1548.5 896.6 1549.6 894.6 1550.8 892.6 1552.1 890.6 1553.3 888.6 1554.6 886.6 1555.8 884.6 1556.9 882.6 1558.0 880.6 1559.0 878.6 1560.1 876.6 1561.1 874.6 1562.2 872.6 1563.2 870.6 1564.2 868.6 1565.2 866.6 1566.2 864.6 1567.1 862.6 1568.1 860.6 1569.0 858.6 1569.9 856.6 1570.8 854.6 1571.7 852.6 1572.6 850.6 1573.4 848.6 1574.2 846.6 1575.0 844.6 1575.7 842.6 1576.5 840.6 1577.2 838.6 1577.9 836.6 1578.6 834.6 1579.2 832.6 1579.8 830.6 1580.5 828.6 1581.1 826.6 1581.7 824.6 1582.2 822.6 1582.8 820.6 1583.4 818.6 1583.9 816.6 1584.5 814.6 1585.0 812.6 1585.5 810.6 1586.1 808.6 1586.6 806.6 1587.1 804.6 1587.7 802.6 1588.2 800.6 1588.7 798.6 1589.3 796.6 1589.8 794.6 1590.4 792.6 1590.9 790.6 1591.5 788.6 1592.1 786.6 1592.6 784.6 1593.2 782.6 1593.8 780.6 1594.3 778.6 1594.9 776.6 1595.4 774.6 1595.9 772.6 1596.5 770.6 1597.0 768.6 1597.5 766.6 1597.9 764.6 1598.4 762.6 1598.8 760.6 1599.3 758.6 1599.7 756.6 1600.0 754.6 1600.4 752.6 1600.7 750.6 1601.1 748.6 1601.4 746.6 1601.7 744.6 1602.0 742.6 1602.2 740.6 1602.5 738.6 1602.8 736.6 1603.0 734.6 1603.3 732.6 1603.5 730.6 1603.8 728.6 1604.0 726.6 1604.3 724.6 1604.5 722.6 1604.8 720.6 1605.1 718.6 1605.3 716.6 1605.6 714.6 1605.9 712.6 1606.2 710.6 1606.5 708.6 1606.9 706.6 1607.2 704.6 1607.6 702.6 1608.0 700.6 1608.4 698.6 1608.8 696.6 1609.1 694.6 1609.5 692.6 1609.9 690.6 1610.3 688.6 1610.7 686.6 1611.1 684.6 1611.4 682.6 1611.7 680.6 1612.0 678.6 1612.3 676.6 1612.6 674.6 1612.8 672.6 1613.0 670.6 1613.2 668.6 1613.3 666.6 1613.4 664.6 1613.5 662.6 1613.6 660.6 1613.7 658.6 1613.8 656.6 1613.9 654.6 1614.0 652.6 1614.1 650.6 1614.1 648.6 1614.2 646.6 1614.3 644.6 1614.4 642.6 1614.4 640.6 1614.5 638.6 1614.6 636.6 1614.7 634.6 1614.8 632.6 1614.9 630.6 1615.0 628.6 1615.1 626.6 1615.2 624.6 1615.4 622.6 1615.6 620.6 1615.8 618.6 1616.0 616.6 1616.2 614.6 1616.4 612.6 1616.7 610.6 1616.9 608.6 1617.2 606.6 1617.4 604.6 1617.7 602.6 1617.9 600.6 1618.1 598.6 1618.4 596.6 1618.5 594.6 1618.7 592.6 1618.9 590.6 1619.0 588.6 1619.1 586.6 1619.1 584.6 1619.1 582.6 1619.1 580.6 1619.1 578.6 1619.1 576.6 1619.1 574.6 1619.1 572.6 1619.1 570.6 1619.1 568.6 1619.1 566.6 1619.1 564.6 1619.1 562.6 1619.1 560.6 1619.1 558.6 1619.1 556.6 1619.1 554.6 1619.1 552.6 1619.1 550.6 1619.1 548.6 1619.1 546.6 1619.1 544.6 1619.1 542.6 1619.1 540.6 1619.2 538.6 1619.5 536.6 1619.8 534.6 1620.2 532.6 1620.6 530.6 1620.9 528.6 1621.1 526.6 1621.1 524.6 1621.1 522.6 1621.1 520.6 1621.0 518.6 1621.0 516.6 1620.9 514.6 1620.9 512.6 1620.8 510.6 1620.7 508.6 1620.6 506.6 1620.5 504.6 1620.4 502.6 1620.3 500.6 1620.2 498.6 1620.1 496.6 1620.0 494.6 1619.9 492.6 1619.8 490.6 1619.7 488.6 1619.6 486.6 1619.5 484.6 1619.4 482.6 1619.3 480.6 1619.3 478.6 1619.2 476.6 1619.2 474.6 1619.1 472.6 1619.1 470.6 1619.1 468.6 1619.1 466.6 1619.1 464.6 1619.1 462.6 1619.1 460.6 1619.1 458.6 1619.1 456.6 1619.1 454.6 1619.1 452.6 1619.1 450.6 1619.1 448.6 1619.1 446.6 1619.1 444.6 1619.1 442.6 1619.1 440.6 1619.1 438.6 1619.1 436.6 1619.1 434.6 1619.1 432.6 1619.1 430.6 1619.1 428.6 1619.1 426.6 1619.1 424.6 1619.1 422.6 1619.1 420.6 1619.1 418.6 1619.1 416.6 1619.1 414.6 1619.1 412.6 1619.1 410.6 1619.1 408.6 1619.1 406.6 1619.1 404.6 1619.1 402.6 1619.1 400.6 1619.1 398.6 1619.1 396.6 1619.1 394.6 1619.1 392.6 1619.1 390.6 1619.1 388.6 1619.1 386.6 1619.1 384.6 1619.1 382.6 1619.1 380.6 1619.1 378.6 1619.1 376.6 1619.1 374.6 1619.0 372.6 1619.0 370.6 1618.9 368.6 1618.9 366.6 1618.9 364.6 1618.8 362.6 1618.7 360.6 1618.7 358.6 1618.6 356.6 1618.6 354.6 1618.5 352.6 1618.4 350.6 1618.4 348.6 1618.3 346.6 1618.2 344.6 1618.2 342.6 1618.1 340.6 1618.0 338.6 1617.9 336.6 1617.9 334.6 1617.8 332.6 1617.7 330.6 1617.7 328.6 1617.6 326.6 1617.6 324.6 1617.5 322.6 1617.4 320.6 1617.4 318.6 1617.3 316.6 1617.3 314.6 1617.3 312.6 1617.2 310.6 1617.2 308.6 1617.2 306.6 1617.1 304.6 1617.1 302.6 1617.1 300.6 1617.1 298.6 1617.1 296.6 1617.1 294.6 1617.1 292.6 1617.1 290.6 1617.1 288.6 1617.1 286.6 1617.1 284.6 1617.1 282.6 1617.1 280.6 1617.1 278.6 1617.1 276.6 1617.1 274.6 1617.1 272.6 1617.1 270.6 1617.1 268.6 1617.1 266.6 1617.1 264.6 1617.1 262.6 1617.1 260.6 1617.1 258.6 1617.1 256.6 1617.1 254.6 1617.1 252.6 1617.1 250.6 1617.1 248.6 1617.1 246.6 1617.1 244.6 1617.1 242.6 1617.1 240.6 1617.1 238.6 1617.1 236.6 1617.1 234.6 1617.1 232.6 1617.1 230.6 1617.1 228.6 1617.1 226.6 1617.1 224.6 1617.1 222.6 1617.1 220.6 1617.1 218.6 1617.1 216.6 1617.1 214.6 1617.1 212.6 1617.1 210.6 1617.2 208.6 1617.2 206.6 1617.2 204.6 1617.3 202.6 1617.4 200.6 1617.5 198.6 1617.6 196.6 1617.7 194.6 1617.8 192.6 1617.9 190.6 1618.0 188.6 1618.2 186.6 1618.3 184.6 1618.5 182.6 1618.7 180.6 1618.8 178.6 1619.0 176.6 1619.2 174.6 1619.4 172.6 1619.6 170.6 1619.8 168.6 1620.0 166.6 1620.3 164.6 1620.5 162.6 1620.7 160.6 1620.9 158.6 1621.2 156.6 1621.4 154.6 1621.7 152.6 1621.9 150.6 1622.2 148.6 1622.4 146.6 1622.7 144.6 1622.9 142.6 1623.2 140.6 1623.4 138.6 1623.6Z" fill="#111" stroke="none"/>
<path d="M138.6 1617.0L140.6 1618.4 142.6 1622.0 144.6 1624.4 146.6 1618.5 148.6 1621.6 150.6 1619.6 152.6 1623.8 154.6 1617.2 156.6 1621.5 158.6 1613.1 160.6 1619.9 162.6 1613.6 164.6 1619.2 166.6 1619.0 168.6 1610.9 170.6 1616.1 172.6 1622.0 174.6 1619.7 176.6 1613.6 178.6 1609.6 180.6 1613.0 182.6 1611.1 184.6 1608.7 186.6 1614.8 188.6 1619.6 190.6 1612.0 192.6 1615.7 194.6 1609.9 196.6 1616.2 198.6 1612.7 200.6 1616.9 202.6 1616.1 204.6 1619.2 206.6 1611.3 208.6 1617.4 210.6 1609.5 212.6 1614.5 214.6 1615.4 216.6 1612.4 218.6 1615.4 220.6 1609.6 222.6 1610.9 224.6 1616.1 226.6 1616.2 228.6 1612.8 230.6 1613.0 232.6 1616.6 234.6 1614.9 236.6 1622.5 238.6 1613.4 240.6 1610.0 242.6 1614.4 244.6 1619.6 246.6 1617.6 248.6 1617.9 250.6 1609.3 252.6 1621.6 254.6 1616.0 256.6 1610.6 258.6 1612.2 260.6 1606.8 262.6 1618.1 264.6 1613.1 266.6 1610.9 268.6 1615.7 270.6 1610.5 272.6 1611.4 274.6 1617.8 276.6 1617.3 278.6 1620.1 280.6 1616.1 282.6 1616.1 284.6 1610.5 286.6 1608.2 288.6 1610.4 290.6 1616.2 292.6 1615.0 294.6 1608.1 296.6 1614.9 298.6 1612.4 300.6 1611.2 302.6 1616.1 304.6 1614.3 306.6 1616.3 308.6 1612.5 310.6 1619.2 312.6 1609.5 314.6 1621.9 316.6 1609.7 318.6 1613.7 320.6 1616.1 322.6 1606.7 324.6 1613.3 326.6 1616.1 328.6 1614.4 330.6 1608.1 332.6 1618.8 334.6 1614.9 336.6 1613.6 338.6 1612.0 340.6 1616.9 342.6 1612.6 344.6 1611.4 346.6 1616.7 348.6 1616.8 350.6 1621.5 352.6 1616.4 354.6 1612.8 356.6 1616.3 358.6 1611.1 360.6 1609.5 362.6 1615.3 364.6 1618.4 366.6 1621.0 368.6 1616.3 370.6 1611.5 372.6 1609.4 374.6 1620.0 376.6 1614.8 378.6 1610.8 380.6 1620.5 382.6 1613.2 384.6 1615.0 386.6 1610.3 388.6 1613.6 390.6 1616.7 392.6 1613.2 394.6 1617.8 396.6 1615.6 398.6 1617.7 400.6 1619.5 402.6 1611.8 404.6 1615.1 406.6 1611.2 408.6 1615.2 410.6 1618.1 412.6 1613.0 414.6 1612.9 416.6 1615.4 418.6 1621.6 420.6 1607.8 422.6 1615.3 424.6 1616.3 426.6 1613.5 428.6 1620.6 430.6 1619.3 432.6 1617.2 434.6 1616.4 436.6 1609.5 438.6 1611.7 440.6 1613.6 442.6 1618.9 444.6 1623.3 446.6 1618.2 448.6 1613.8 450.6 1616.2 452.6 1615.2 454.6 1621.8 456.6 1616.6 458.6 1614.9 460.6 1619.4 462.6 1618.7 464.6 1618.1 466.6 1614.3 468.6 1616.1 470.6 1616.2 472.6 1618.3 474.6 1618.0 476.6 1620.6 478.6 1610.1 480.6 1614.0 482.6 1616.4 484.6 1618.6 486.6 1616.0 488.6 1615.4 490.6 1618.6 492.6 1613.4 494.6 1615.8 496.6 1613.8 498.6 1618.5 500.6 1620.8 502.6 1617.4 504.6 1615.4 506.6 1612.8 508.6 1619.0 510.6 1616.3 512.6 1620.1 514.6 1614.8 516.6 1617.6 518.6 1624.2 520.6 1612.7 522.6 1612.4 524.6 1615.7 526.6 1625.7 528.6 1620.3 530.6 1623.5 532.6 1617.4 534.6 1618.7 536.6 1608.2 538.6 1613.7 540.6 1613.1 542.6 1614.9 544.6 1618.3 546.6 1611.4 548.6 1616.9 550.6 1616.5 552.6 1620.4 554.6 1616.0 556.6 1624.1 558.6 1621.6 560.6 1623.4 562.6 1616.9 564.6 1615.3 566.6 1604.9 568.6 1617.5 570.6 1610.7 572.6 1612.2 574.6 1614.3 576.6 1611.9 578.6 1619.3 580.6 1617.4 582.6 1614.3 584.6 1612.9 586.6 1620.7 588.6 1617.5 590.6 1617.9 592.6 1614.9 594.6 1613.4 596.6 1616.6 598.6 1614.5 600.6 1612.4 602.6 1615.7 604.6 1617.0 606.6 1606.4 608.6 1617.0 610.6 1615.7 612.6 1619.2 614.6 1611.4 616.6 1609.1 618.6 1608.8 620.6 1615.3 622.6 1613.3 624.6 1609.4 626.6 1611.8 628.6 1614.0 630.6 1607.0 632.6 1607.3 634.6 1615.2 636.6 1614.3 638.6 1609.3 640.6 1610.2 642.6 1610.6 644.6 1615.3 646.6 1619.2 648.6 1610.3 650.6 1612.2 652.6 1603.2 654.6 1613.5 656.6 1607.1 658.6 1606.5 660.6 1610.8 662.6 1612.8 664.6 1609.2 666.6 1609.7 668.6 1616.8 670.6 1612.7 672.6 1608.8 674.6 1609.2 676.6 1611.0 678.6 1616.9 680.6 1606.7 682.6 1613.2 684.6 1606.7 686.6 1604.7 688.6 1606.9 690.6 1608.3 692.6 1607.6 694.6 1606.4 696.6 1610.7 698.6 1607.5 700.6 1606.9 702.6 1611.6 704.6 1602.7 706.6 1602.5 708.6 1609.7 710.6 1602.3 712.6 1604.2 714.6 1604.8 716.6 1605.8 718.6 1600.7 720.6 1602.2 722.6 1605.8 724.6 1598.2 726.6 1604.7 728.6 1599.6 730.6 1602.9 732.6 1599.8 734.6 1595.8 736.6 1596.3 738.6 1601.5 740.6 1603.0 742.6 1600.7 744.6 1600.0 746.6 1602.1 748.6 1598.7 750.6 1594.9 752.6 1598.0 754.6 1599.4 756.6 1600.4 758.6 1597.0 760.6 1593.9 762.6 1597.8 764.6 1601.2 766.6 1595.5 768.6 1587.6 770.6 1592.9 772.6 1598.8 774.6 1592.9 776.6 1590.0 778.6 1596.1 780.6 1590.0 782.6 1584.8 784.6 1588.4 786.6 1591.7 788.6 1591.6 790.6 1586.3 792.6 1588.6 794.6 1585.2 796.6 1588.3 798.6 1580.8 800.6 1582.8 802.6 1582.6 804.6 1590.0 806.6 1586.6 808.6 1583.2 810.6 1585.6 812.6 1580.3 814.6 1583.9 816.6 1580.9 818.6 1577.4 820.6 1587.7 822.6 1583.3 824.6 1576.3 826.6 1577.3 828.6 1573.6 830.6 1578.4 832.6 1580.3 834.6 1572.6 836.6 1574.0 838.6 1580.1 840.6 1574.5 842.6 1576.8 844.6 1574.9 846.6 1569.5 848.6 1576.0 850.6 1572.1 852.6 1569.3 854.6 1574.6 856.6 1575.8 858.6 1566.5 860.6 1569.9 862.6 1560.2 864.6 1564.0 866.6 1558.0 868.6 1563.6 870.6 1563.7 872.6 1564.1 874.6 1558.1 876.6 1555.0 878.6 1553.6 880.6 1555.2 882.6 1555.5 884.6 1553.7 886.6 1552.7 888.6 1555.4 890.6 1548.8 892.6 1552.0 894.6 1552.9 896.6 1549.7 898.6 1542.7 900.6 1542.5 902.6 1537.2 904.6 1541.9 906.6 1537.6 908.6 1538.8 910.6 1542.1 912.6 1539.5 914.6 1542.1 916.6 1534.9 918.6 1541.9 920.6 1536.6 922.6 1532.7 924.6 1537.7 926.6 1524.4 928.6 1533.0 930.6 1524.7 932.6 1528.7 934.6 1525.2 936.6 1527.0 938.6 1525.0 940.6 1527.8 942.6 1525.6 944.6 1524.9 946.6 1527.2 948.6 1531.7 950.6 1522.9 952.6 1517.0 954.6 1512.3 956.6 1521.0 958.6 1514.4 960.6 1523.5 962.6 1515.8 964.6 1513.2 966.6 1507.2 968.6 1508.2 970.6 1518.8 972.6 1501.3 974.6 1511.3 976.6 1506.8 978.6 1504.9 980.6 1503.3 982.6 1500.8 984.6 1510.0 986.6 1502.2 988.6 1503.2 990.6 1500.1 992.6 1495.4 994.6 1494.5 996.6 1504.3 998.6 1491.8 1000.6 1496.6 1002.6 1491.6 1004.6 1490.5 1006.6 1496.4 1008.6 1487.8 1010.6 1489.2 1012.6 1487.2 1014.6 1483.1 1016.6 1482.3 1018.6 1468.7 1020.6 1461.5 1022.6 1442.4 1024.6 1435.0 1026.6 1421.3 1028.6 1395.3 1030.6 1381.0 1032.6 1362.0 1034.6 1357.2 1036.6 1354.5 1038.6 1361.0 1040.6 1365.9 1042.6 1382.9 1044.6 1398.4 1046.6 1416.1 1048.6 1429.6 1050.6 1450.3 1052.6 1465.4 1054.6 1465.5 1056.6 1483.7 1058.6 1485.4 1060.6 1486.6 1062.6 1490.0 1064.6 1493.5 1066.6 1491.4 1068.6 1495.3 1070.6 1489.0 1072.6 1499.9 1074.6 1507.8 1076.6 1499.9 1078.6 1501.6 1080.6 1508.0 1082.6 1505.9 1084.6 1505.7 1086.6 1504.4 1088.6 1513.9 1090.6 1509.7 1092.6 1504.7 1094.6 1504.7 1096.6 1511.2 1098.6 1506.5 1100.6 1510.0 1102.6 1511.0 1104.6 1508.4 1106.6 1512.7 1108.6 1506.3 1110.6 1516.9 1112.6 1515.2 1114.6 1512.3 1116.6 1519.0 1118.6 1516.6 1120.6 1514.9 1122.6 1523.3 1124.6 1524.1 1126.6 1521.8 1128.6 1515.1 1130.6 1522.8 1132.6 1525.0 1134.6 1523.8 1136.6 1524.8 1138.6 1520.8 1140.6 1526.4 1142.6 1526.2 1144.6 1532.9 1146.6 1528.0 1148.6 1525.5 1150.6 1524.6 1152.6 1529.8 1154.6 1534.5 1156.6 1532.0 1158.6 1522.7 1160.6 1523.8 1162.6 1534.5 1164.6 1536.9 1166.6 1527.7 1168.6 1529.7 1170.6 1532.6 1172.6 1532.8 1174.6 1526.7 1176.6 1530.3 1178.6 1527.0 1180.6 1524.6 1182.6 1521.9 1184.6 1521.1 1186.6 1521.0 1188.6 1519.7 1190.6 1522.0 1192.6 1519.4 1194.6 1523.5 1196.6 1518.2 1198.6 1516.0 1200.6 1522.0 1202.6 1512.1 1204.6 1520.9 1206.6 1514.8 1208.6 1513.4 1210.6 1517.7 1212.6 1513.7 1214.6 1513.6 1216.6 1510.8 1218.6 1514.3 1220.6 1519.4 1222.6 1518.3 1224.6 1520.8 1226.6 1519.7 1228.6 1528.4 1230.6 1524.4 1232.6 1521.4 1234.6 1530.4 1236.6 1530.3 1238.6 1528.8 1240.6 1536.2 1242.6 1529.4 1244.6 1531.5 1246.6 1525.9 1248.6 1531.4 1250.6 1533.3 1252.6 1534.1 1254.6 1535.9 1256.6 1533.7 1258.6 1534.7 1260.6 1533.0 1262.6 1522.0 1264.6 1527.2 1266.6 1537.2 1268.6 1527.3 1270.6 1532.0 1272.6 1535.7 1274.6 1527.8 1276.6 1532.0 1278.6 1536.3 1280.6 1534.8 1282.6 1533.7 1284.6 1531.5 1286.6 1536.5 1288.6 1534.8 1290.6 1531.7 1292.6 1534.9 1294.6 1534.4 1296.6 1538.2 1298.6 1541.9 1300.6 1538.3 1302.6 1538.8 1304.6 1542.5 1306.6 1543.4 1308.6 1544.3 1310.6 1541.3 1312.6 1537.5 1314.6 1542.8 1316.6 1547.5 1318.6 1546.6 1320.6 1543.6 1322.6 1541.6 1324.6 1541.0 1326.6 1539.1 1328.6 1542.1 1330.6 1538.8 1332.6 1545.8 1334.6 1538.8 1336.6 1540.9 1338.6 1549.0 1340.6 1537.6 1342.6 1542.8 1344.6 1549.6 1346.6 1547.2 1348.6 1542.1 1350.6 1548.2 1352.6 1546.4 1354.6 1543.0 1356.6 1541.5 1358.6 1548.4 1360.6 1549.7 1362.6 1549.3 1364.6 1544.0 1366.6 1547.4 1368.6 1539.2 1370.6 1546.8 1372.6 1552.4 1374.6 1546.9 1376.6 1548.8 1378.6 1547.9 1380.6 1541.9 1382.6 1548.6 1384.6 1551.6 1386.6 1548.2 1388.6 1556.2 1390.6 1548.4 1392.6 1542.0 1394.6 1555.9 1396.6 1548.5 1398.6 1543.6 1400.6 1548.1 1402.6 1546.1 1404.6 1547.1 1406.6 1550.5 1408.6 1551.3 1410.6 1549.9 1412.6 1555.2 1414.6 1555.7 1416.6 1554.5 1418.6 1548.7 1420.6 1549.4 1422.6 1555.5 1424.6 1553.1 1426.6 1561.3 1428.6 1555.3 1430.6 1562.3 1432.6 1554.2 1434.6 1554.4 1436.6 1552.3 1438.6 1554.7 1440.6 1554.2 1442.6 1556.2 1444.6 1559.8 1446.6 1557.7 1448.6 1559.0 1450.6 1559.2 1452.6 1564.8 1454.6 1556.9 1456.6 1559.5 1458.6 1557.1 1460.6 1556.3 1462.6 1548.5 1464.6 1559.5 1466.6 1563.7 1468.6 1558.7 1470.6 1557.0 1472.6 1562.0 1474.6 1563.1 1476.6 1562.8 1478.6 1564.9 1480.6 1562.6 1482.6 1559.8 1484.6 1552.9 1486.6 1555.0 1488.6 1561.5 1490.6 1561.6 1492.6 1560.7 1494.6 1563.3 1496.6 1557.3 1498.6 1553.1 1500.6 1558.5 1502.6 1561.4 1504.6 1564.1 1506.6 1559.3 1508.6 1555.4 1510.6 1560.5 1512.6 1565.3 1514.6 1567.5 1516.6 1566.8 1518.6 1562.3 1520.6 1553.2 1522.6 1551.1 1524.6 1555.5 1526.6 1557.2 1528.6 1560.5 1530.6 1565.8 1532.6 1561.7 1534.6 1562.7 1536.6 1560.5 1538.6 1565.0 1540.6 1562.0 1542.6 1563.9 1544.6 1570.5 1546.6 1569.6 1548.6 1569.8 1550.6 1568.6 1552.6 1572.0 1554.6 1568.3 1556.6 1575.6 1558.6 1570.9 1560.6 1566.5 1562.6 1571.9 1564.6 1575.7 1566.6 1576.4 1568.6 1576.8 1570.6 1571.4 1572.6 1574.5 1574.6 1573.5 1576.6 1580.7 1578.6 1579.9 1580.6 1575.9 1582.6 1586.6 1584.6 1582.4 1586.6 1583.5 1588.6 1589.4 1590.6 1580.7 1592.6 1585.4 1594.6 1583.2 1596.6 1592.8 1598.6 1594.2 1600.6 1591.3 1602.6 1593.4 1604.6 1588.6 1606.6 1596.9 1608.6 1601.4 1610.6 1593.6 1612.6 1595.0 1614.6 1592.0 1616.6 1594.4 1618.6 1593.9 1620.6 1593.4 1622.6 1593.4 1624.6 1595.3 1626.6 1592.9 1628.6 1602.0 1630.6 1601.6 1632.6 1595.7 1634.6 1589.0 1636.6 1594.6 1638.6 1603.7 1640.6 1599.1 1642.6 1600.5 1644.6 1602.8 1646.6 1603.7 1648.6 1605.5 1650.6 1598.5 1652.6 1607.6 1654.6 1600.9 1656.6 1602.8 1658.6 1612.9 1660.6 1599.3 1662.6 1601.7 1664.6 1609.3 1666.6 1601.2 1668.6 1603.1 1670.6 1606.4 1672.6 1604.9 1674.6 1607.4 1676.6 1601.1 1678.6 1607.8 1680.6 1615.8 1682.6 1606.3 1684.6 1606.3 1686.6 1609.6 1688.6 1610.7 1690.6 1609.9 1692.6 1610.2 1694.6 1609.0 1696.6 1613.9 1698.6 1614.0 1700.6 1611.9 1702.6 1610.9 1704.6 1611.7 1706.6 1611.9 1708.6 1612.0 1710.6 1610.4 1712.6 1617.3 1714.6 1613.5 1716.6 1611.1 1718.6 1618.0 1720.6 1622.0 1722.6 1606.5 1724.6 1610.4 1726.6 1610.3 1728.6 1618.7 1730.6 1612.1 1732.6 1622.5 1734.6 1623.2 1736.6 1619.3 1738.6 1626.2 1740.6 1621.3 1742.6 1621.3 1744.6 1627.2 1746.6 1620.1 1748.6 1617.0 1750.6 1628.0 1752.6 1618.4 1754.6 1617.0 1756.6 1619.5 1758.6 1617.3 1760.6 1622.8 1762.6 1631.1 1764.6 1622.5 1766.6 1628.7 1768.6 1621.2 1770.6 1626.8 1772.6 1626.3 1774.6 1624.2 1776.6 1622.3 1778.6 1623.1 1780.6 1622.7 1782.6 1623.3 1784.6 1629.6 1786.6 1627.4 1788.6 1628.6 1790.6 1628.9 1792.6 1633.6 1794.6 1625.6 1796.6 1631.1 1798.6 1620.5 1800.6 1624.5 1802.6 1627.5 1804.6 1631.2 1806.6 1620.6 1808.6 1636.4 1810.6 1630.1 1812.6 1629.5 1814.6 1627.8 1816.6 1629.7 1818.6 1624.6 1820.6 1628.7 1822.6 1635.7 1824.6 1621.2 1826.6 1624.4 1828.6 1625.0 1830.6 1626.8 1832.6 1623.7 1834.6 1632.8 1836.6 1629.6 1838.6 1632.8 1840.6 1630.6 1842.6 1626.7 1844.6 1627.9 1846.6 1631.2 1848.6 1627.5 1850.6 1624.0 1852.6 1632.3 1854.6 1630.5 1856.6 1631.5 1858.6 1631.7 1860.6 1626.8 1862.6 1635.8 1864.6 1628.3 1866.6 1626.2 1868.6 1627.1 1870.6 1634.3 1872.6 1635.2 1874.6 1633.1 1876.6 1629.1 1878.6 1628.9 1880.6 1631.0 1882.6 1633.3 1884.6 1629.3 1886.6 1631.0 1888.6 1621.9 1890.6 1636.2 1892.6 1627.7 1894.6 1633.4 1896.6 1635.1 1898.6 1630.9 1900.6 1630.9 1902.6 1630.7 1904.6 1629.4 1906.6 1634.9 1908.6 1633.9 1910.6 1627.6 1912.6 1626.7 1914.6 1629.0 1916.6 1625.9 1918.6 1633.2 1920.6 1635.9 1922.6 1626.5 1924.6 1627.4 1926.6 1631.3 1928.6 1629.2 1930.6 1634.2 1932.6 1629.1 1934.6 1633.0 1936.6 1630.8 1938.6 1632.4 1940.6 1634.8 1942.6 1628.1 1944.6 1623.9 1946.6 1638.1 1948.6 1634.4 1950.6 1633.5 1952.6 1630.1 1954.6 1632.6 1956.6 1634.1 1958.6 1629.1 1960.6 1637.0 1961.6 1630.2 1962.1 1628.3 1962.6 1630.9 1963.1 1629.9 1963.6 1629.0 1964.0 1628.8 1964.5 1628.5 1965.0 1627.6 1965.4 1628.5 1965.9 1629.1 1966.3 1628.1 1966.8 1628.8 1967.2 1628.7 1967.7 1627.5 1968.1 1628.5 1968.6 1627.2 1969.2 1629.1 1969.7 1628.2 1970.2 1627.3 1970.7 1627.8 1971.2 1626.7 1971.6 1628.0 1972.1 1626.5 1972.6 1628.2 1973.0 1627.2 1973.5 1627.7 1974.0 1627.3 1974.4 1627.5 1974.8 1624.0 1975.3 1625.3 1975.7 1626.5 1976.1 1625.1 1976.5 1625.5 1977.0 1623.2 1977.4 1623.9 1977.8 1624.6 1978.2 1622.9 1978.6 1624.2 1979.0 1622.8 1979.4 1621.9 1979.8 1621.8 1980.2 1622.8 1980.6 1623.1 1981.0 1620.4 1981.4 1621.1 1981.7 1619.4 1982.1 1619.1 1982.6 1619.6 1983.1 1619.7 1983.6 1618.4 1984.0 1617.6 1984.5 1618.0 1984.9 1616.9 1985.3 1615.1 1985.8 1614.3 1986.2 1613.0 1986.6 1613.1 1987.0 1612.4 1987.4 1610.4 1987.8 1610.6 1988.2 1609.5 1988.5 1608.4 1988.9 1607.3 1989.1 1606.1 1989.3 1604.9 1989.5 1603.6 1989.6 1602.2 1989.8 1600.8 1990.0 1599.3 1990.1 1597.7 1990.3 1596.1 1990.4 1594.3 1990.6 1592.5 1990.8 1590.5 1990.9 1588.5 1991.1 1586.3 1991.4 1584.1 1991.6 1581.7 1991.9 1579.2 1992.3 1576.6 1992.6 1573.8 1993.0 1570.9 1993.4 1567.9 1993.8 1564.7 1994.2 1561.3 1994.6 1557.7 1995.0 1554.0 1995.5 1550.1 1995.9 1546.0 1996.4 1541.6 1996.9 1537.1 1997.3 1532.3 1997.8 1527.2 1998.3 1521.9 1998.8 1516.3 1999.2 1510.5 1999.7 1504.3 2000.1 1497.8 2000.6 1491.0 2001.0 1483.8 2001.5 1476.2 2001.9 1468.3 2002.4 1459.9 2002.8 1451.2 2003.2 1441.9 2003.5 1432.2 2003.9 1422.0 2004.2 1411.2 2004.5 1400.0 2004.8 1388.1 2005.1 1375.6 2005.3 1362.4 2005.5 1348.6 2005.7 1334.1 2005.9 1318.8 2006.1 1302.7 2006.2 1285.8 2006.3 1268.1 2006.4 1249.4 2006.4 1229.7 2006.5 1209.0 2006.5 1187.3 2006.5 1164.4 2006.6 1140.4 2006.6 1115.1 2006.7 1088.5 2006.7 1064.2 2006.8 1064.2 2006.9 1064.2 2006.9 1064.2 2007.0 1064.2 2007.0 1064.2 2007.1 1064.2 2007.1 1064.2 2007.2 1064.2 2007.3 1064.2 2007.3 1064.2 2007.4 1064.2 2007.4 1064.2 2007.4 1064.2 2007.4 1064.2 2007.4 1064.2 2007.5 1064.2 2007.5 1064.2 2007.5 1064.2 2007.5 1064.2 2007.5 1064.2 2007.5 1064.2 2007.5 1064.2 2007.5 1064.2 2007.5 1064.2 2007.6 1064.2 2007.6 1064.2 2007.6 1064.2 2007.6 1064.2 2007.6 1064.2 2007.6 1064.2 2007.6 1064.2 2007.6 1064.2 2007.6 1064.2 2008.4 1064.2 2008.4 1064.2 2008.4 1064.2 2008.4 1064.2 2008.4 1064.2 2008.4 1064.2 2008.4 1064.2 2008.4 1064.2 2008.4 1064.2 2008.5 1064.2 2008.5 1064.2 2008.5 1064.2 2008.5 1064.2 2008.5 1064.2 2008.5 1064.2 2008.5 1064.2 2008.5 1064.2 2008.5 1064.2 2008.6 1064.2 2008.6 1064.2 2008.6 1064.2 2008.6 1064.2 2008.6 1064.2 2008.7 1064.2 2008.7 1064.2 2008.8 1064.2 2008.9 1064.2 2008.9 1064.2 2009.0 1064.2 2009.0 1064.2 2009.1 1064.2 2009.1 1064.2 2009.2 1064.2 2009.2 1064.2 2009.3 1088.5 2009.3 1115.1 2009.4 1140.4 2009.4 1164.4 2009.4 1187.3 2009.4 1209.0 2009.5 1229.7 2009.5 1249.4 2009.6 1268.1 2009.7 1285.8 2009.8 1302.7 2009.9 1318.8 2010.1 1334.1 2010.3 1348.6 2010.4 1362.4 2010.6 1375.6 2010.9 1388.1 2011.1 1400.0 2011.4 1411.2 2011.6 1422.0 2011.9 1432.2 2012.2 1441.9 2012.6 1451.2 2012.9 1459.9 2013.2 1468.3 2013.6 1476.2 2013.9 1483.8 2014.3 1491.0 2014.6 1497.8 2015.0 1504.3 2015.3 1510.5 2015.7 1516.3 2016.1 1521.9 2016.4 1527.2 2016.8 1532.3 2017.1 1537.1 2017.4 1541.6 2017.8 1546.0 2018.1 1550.1 2018.4 1554.0 2018.7 1557.7 2019.0 1561.3 2019.2 1564.7 2019.5 1567.9 2019.7 1570.9 2019.9 1573.8 2020.2 1576.6 2020.3 1579.2 2020.5 1581.7 2020.7 1584.1 2020.8 1586.3 2020.9 1588.5 2020.9 1590.5 2021.0 1592.5 2021.0 1594.3 2021.1 1596.1 2021.1 1597.7 2021.2 1599.3 2021.4 1600.8 2021.9 1602.2 2022.4 1603.6 2022.9 1604.9 2023.4 1606.1 2023.9 1607.3 2024.4 1608.4 2025.0 1609.5 2025.6 1610.6 2026.2 1612.7 2026.8 1610.8 2027.4 1613.9 2028.1 1614.9 2028.8 1613.7 2029.5 1616.0 2030.2 1615.6 2031.1 1617.4 2032.0 1617.8 2032.9 1619.4 2033.9 1619.1 2034.9 1620.4 2035.9 1621.4 2037.0 1620.3 2038.1 1619.8 2039.2 1622.1 2040.2 1620.8 2041.3 1624.2 2042.5 1624.0 2043.7 1623.0 2044.9 1622.4 2046.1 1623.3 2047.4 1625.0 2048.4 1625.4 2049.2 1624.8 2050.0 1625.2 2050.8 1625.6 2051.6 1625.5 2052.4 1625.2 2053.2 1625.5 2054.1 1626.1 2054.9 1626.1 2055.8 1626.9 2056.7 1627.1 2057.6 1627.1 2058.5 1626.7 2059.5 1626.8 2060.5 1626.0 2061.4 1627.7 2062.4 1628.6 2063.5 1626.4 2064.5 1628.5 2065.6 1628.9 2066.6 1626.6 2067.7 1626.5 2068.0 1628.1 2068.0 1627.4 2068.0 1627.9 2068.0 1628.0 2068.0 1628.3 2068.0 1627.8 2068.0 1627.6 2068.0 1628.9 2068.0 1629.4 2068.0 1628.1 2068.0 1629.0 2068.0 1627.6 2068.0 1628.4 2068.0 1629.7" fill="none"/>
<path d="M138.6 1739.1L140.6 1739.1 142.6 1738.9 144.6 1738.8 146.6 1738.7 148.6 1738.6 150.6 1738.5 152.6 1738.4 154.6 1738.3 156.6 1738.2 158.6 1738.2 160.6 1738.1 162.6 1738.0 164.6 1737.9 166.6 1737.9 168.6 1737.8 170.6 1737.7 172.6 1737.7 174.6 1737.6 176.6 1737.6 178.6 1737.5 180.6 1737.5 182.6 1737.4 184.6 1737.4 186.6 1737.4 188.6 1737.3 190.6 1737.3 192.6 1737.3 194.6 1737.3 196.6 1737.2 198.6 1737.2 200.6 1737.2 202.6 1737.2 204.6 1737.2 206.6 1737.2 208.6 1737.2 210.6 1737.1 212.6 1737.1 214.6 1737.1 216.6 1737.1 218.6 1737.2 220.6 1737.2 222.6 1737.2 224.6 1737.2 226.6 1737.3 228.6 1737.3 230.6 1737.4 232.6 1737.4 234.6 1737.5 236.6 1737.6 238.6 1737.6 240.6 1737.7 242.6 1737.8 244.6 1737.9 246.6 1738.0 248.6 1738.1 250.6 1738.2 252.6 1738.3 254.6 1738.4 256.6 1738.5 258.6 1738.6 260.6 1738.8 262.6 1738.9 264.6 1739.0 266.6 1739.1 268.6 1739.2 270.6 1739.4 272.6 1739.5 274.6 1739.6 276.6 1739.7 278.6 1739.9 280.6 1740.0 282.6 1740.1 284.6 1740.2 286.6 1740.4 288.6 1740.5 290.6 1740.6 292.6 1740.7 294.6 1740.8 296.6 1740.9 298.6 1741.0 300.6 1741.1 302.6 1741.2 304.6 1741.3 306.6 1741.4 308.6 1741.6 310.6 1741.7 312.6 1741.8 314.6 1741.9 316.6 1742.0 318.6 1742.1 320.6 1742.2 322.6 1742.4 324.6 1742.5 326.6 1742.6 328.6 1742.7 330.6 1742.8 332.6 1743.0 334.6 1743.1 336.6 1743.2 338.6 1743.3 340.6 1743.5 342.6 1743.6 344.6 1743.7 346.6 1743.8 348.6 1743.9 350.6 1744.1 352.6 1744.2 354.6 1744.3 356.6 1744.4 358.6 1744.5 360.6 1744.6 362.6 1744.7 364.6 1744.8 366.6 1744.9 368.6 1745.0 370.6 1745.1 372.6 1745.2 374.6 1745.3 376.6 1745.4 378.6 1745.5 380.6 1745.6 382.6 1745.6 384.6 1745.7 386.6 1745.8 388.6 1745.8 390.6 1745.9 392.6 1746.0 394.6 1746.0 396.6 1746.1 398.6 1746.1 400.6 1746.2 402.6 1746.2 404.6 1746.3 406.6 1746.3 408.6 1746.4 410.6 1746.4 412.6 1746.5 414.6 1746.5 416.6 1746.5 418.6 1746.6 420.6 1746.6 422.6 1746.7 424.6 1746.7 426.6 1746.7 428.6 1746.8 430.6 1746.8 432.6 1746.8 434.6 1746.9 436.6 1746.9 438.6 1747.0 440.6 1747.0 442.6 1747.0 444.6 1747.1 446.6 1747.1 448.6 1747.2 450.6 1747.2 452.6 1747.3 454.6 1747.3 456.6 1747.4 458.6 1747.4 460.6 1747.5 462.6 1747.6 464.6 1747.6 466.6 1747.7 468.6 1747.8 470.6 1747.9 472.6 1747.9 474.6 1748.0 476.6 1748.1 478.6 1748.2 480.6 1748.4 482.6 1748.5 484.6 1748.6 486.6 1748.8 488.6 1748.9 490.6 1749.1 492.6 1749.2 494.6 1749.4 496.6 1749.6 498.6 1749.8 500.6 1749.9 502.6 1750.1 504.6 1750.3 506.6 1750.5 508.6 1750.6 510.6 1750.8 512.6 1751.0 514.6 1751.2 516.6 1751.3 518.6 1751.5 520.6 1751.7 522.6 1751.8 524.6 1752.0 526.6 1752.1 528.6 1752.3 530.6 1752.4 532.6 1752.6 534.6 1752.8 536.6 1752.9 538.6 1753.1 540.6 1753.2 542.6 1753.4 544.6 1753.6 546.6 1753.7 548.6 1753.9 550.6 1754.0 552.6 1754.2 554.6 1754.3 556.6 1754.5 558.6 1754.6 560.6 1754.8 562.6 1754.9 564.6 1755.1 566.6 1755.2 568.6 1755.3 570.6 1755.5 572.6 1755.6 574.6 1755.7 576.6 1755.8 578.6 1755.9 580.6 1756.0 582.6 1756.1 584.6 1756.2 586.6 1756.2 588.6 1756.3 590.6 1756.4 592.6 1756.5 594.6 1756.5 596.6 1756.6 598.6 1756.7 600.6 1756.7 602.6 1756.8 604.6 1756.9 606.6 1756.9 608.6 1757.0 610.6 1757.1 612.6 1757.1 614.6 1757.2 616.6 1757.3 618.6 1757.3 620.6 1757.4 622.6 1757.4 624.6 1757.5 626.6 1757.5 628.6 1757.6 630.6 1757.6 632.6 1757.7 634.6 1757.7 636.6 1757.8 638.6 1757.8 640.6 1757.9 642.6 1757.9 644.6 1757.9 646.6 1758.0 648.6 1758.0 650.6 1758.0 652.6 1758.1 654.6 1758.1 656.6 1758.1 658.6 1758.1 660.6 1758.2 662.6 1758.2 664.6 1758.2 666.6 1758.2 668.6 1758.2 670.6 1758.2 672.6 1758.2 674.6 1758.2 676.6 1758.2 678.6 1758.2 680.6 1758.2 682.6 1758.1 684.6 1758.1 686.6 1758.1 688.6 1758.1 690.6 1758.0 692.6 1758.0 694.6 1758.0 696.6 1757.9 698.6 1757.9 700.6 1757.9 702.6 1757.8 704.6 1757.8 706.6 1757.7 708.6 1757.7 710.6 1757.6 712.6 1757.6 714.6 1757.5 716.6 1757.5 718.6 1757.4 720.6 1757.4 722.6 1757.3 724.6 1757.2 726.6 1757.2 728.6 1757.1 730.6 1757.1 732.6 1757.0 734.6 1756.9 736.6 1756.9 738.6 1756.8 740.6 1756.7 742.6 1756.7 744.6 1756.6 746.6 1756.5 748.6 1756.4 750.6 1756.4 752.6 1756.3 754.6 1756.2 756.6 1756.2 758.6 1756.1 760.6 1756.0 762.6 1755.9 764.6 1755.9 766.6 1755.8 768.6 1755.7 770.6 1755.6 772.6 1755.5 774.6 1755.4 776.6 1755.3 778.6 1755.2 780.6 1755.1 782.6 1755.0 784.6 1754.9 786.6 1754.8 788.6 1754.6 790.6 1754.5 792.6 1754.4 794.6 1754.3 796.6 1754.1 798.6 1754.0 800.6 1753.9 802.6 1753.7 804.6 1753.6 806.6 1753.4 808.6 1753.3 810.6 1753.1 812.6 1753.0 814.6 1752.8 816.6 1752.6 818.6 1752.5 820.6 1752.3 822.6 1752.1 824.6 1751.9 826.6 1751.7 828.6 1751.5 830.6 1751.4 832.6 1751.2 834.6 1751.0 836.6 1750.7 838.6 1750.5 840.6 1750.3 842.6 1750.1 844.6 1749.9 846.6 1749.6 848.6 1749.3 850.6 1749.0 852.6 1748.7 854.6 1748.3 856.6 1747.9 858.6 1747.5 860.6 1747.1 862.6 1746.7 864.6 1746.2 866.6 1745.8 868.6 1745.3 870.6 1744.9 872.6 1744.4 874.6 1743.9 876.6 1743.4 878.6 1742.9 880.6 1742.4 882.6 1741.9 884.6 1741.5 886.6 1741.0 888.6 1740.5 890.6 1740.0 892.6 1739.6 894.6 1739.1 896.6 1738.7 898.6 1738.2 900.6 1737.8 902.6 1737.4 904.6 1736.9 906.6 1736.5 908.6 1736.1 910.6 1735.6 912.6 1735.2 914.6 1734.8 916.6 1734.4 918.6 1734.0 920.6 1733.6 922.6 1733.2 924.6 1732.8 926.6 1732.5 928.6 1732.2 930.6 1731.8 932.6 1731.5 934.6 1731.2 936.6 1730.9 938.6 1730.6 940.6 1730.3 942.6 1730.0 944.6 1729.7 946.6 1729.5 948.6 1729.2 950.6 1728.9 952.6 1728.6 954.6 1728.3 956.6 1727.9 958.6 1727.6 960.6 1727.3 962.6 1726.9 964.6 1726.6 966.6 1726.2 968.6 1725.8 970.6 1725.4 972.6 1725.0 974.6 1724.5 976.6 1724.1 978.6 1723.6 980.6 1723.1 982.6 1722.7 984.6 1722.2 986.6 1721.7 988.6 1721.2 990.6 1720.7 992.6 1720.3 994.6 1719.8 996.6 1719.4 998.6 1718.9 1000.6 1718.5 1002.6 1718.1 1004.6 1717.7 1006.6 1717.3 1008.6 1716.9 1010.6 1716.5 1012.6 1716.0 1014.6 1715.2 1016.6 1714.2 1018.6 1712.7 1020.6 1710.5 1022.6 1707.4 1024.6 1703.2 1026.6 1698.0 1028.6 1692.0 1030.6 1685.8 1032.6 1680.0 1034.6 1675.6 1036.6 1673.3 1038.6 1673.4 1040.6 1675.8 1042.6 1680.2 1044.6 1685.9 1046.6 1692.1 1048.6 1698.3 1050.6 1703.8 1052.6 1708.5 1054.6 1712.3 1056.6 1715.1 1058.6 1717.3 1060.6 1718.9 1062.6 1720.1 1064.6 1721.0 1066.6 1721.7 1068.6 1722.2 1070.6 1722.7 1072.6 1723.1 1074.6 1723.5 1076.6 1724.0 1078.6 1724.4 1080.6 1724.8 1082.6 1725.1 1084.6 1725.5 1086.6 1725.8 1088.6 1726.1 1090.6 1726.3 1092.6 1726.5 1094.6 1726.6 1096.6 1726.8 1098.6 1726.9 1100.6 1727.0 1102.6 1727.1 1104.6 1727.2 1106.6 1727.3 1108.6 1727.4 1110.6 1727.5 1112.6 1727.6 1114.6 1727.7 1116.6 1727.7 1118.6 1727.8 1120.6 1727.9 1122.6 1728.0 1124.6 1728.0 1126.6 1728.1 1128.6 1728.2 1130.6 1728.3 1132.6 1728.4 1134.6 1728.5 1136.6 1728.7 1138.6 1728.8 1140.6 1729.0 1142.6 1729.2 1144.6 1729.3 1146.6 1729.5 1148.6 1729.8 1150.6 1730.0 1152.6 1730.2 1154.6 1730.4 1156.6 1730.7 1158.6 1730.9 1160.6 1731.1 1162.6 1731.4 1164.6 1731.6 1166.6 1731.8 1168.6 1732.0 1170.6 1732.2 1172.6 1732.4 1174.6 1732.6 1176.6 1732.8 1178.6 1732.9 1180.6 1733.0 1182.6 1733.2 1184.6 1733.3 1186.6 1733.4 1188.6 1733.5 1190.6 1733.6 1192.6 1733.7 1194.6 1733.8 1196.6 1733.9 1198.6 1734.0 1200.6 1734.1 1202.6 1734.2 1204.6 1734.3 1206.6 1734.4 1208.6 1734.4 1210.6 1734.5 1212.6 1734.6 1214.6 1734.7 1216.6 1734.8 1218.6 1734.9 1220.6 1735.1 1222.6 1735.2 1224.6 1735.3 1226.6 1735.4 1228.6 1735.5 1230.6 1735.7 1232.6 1735.8 1234.6 1735.9 1236.6 1736.1 1238.6 1736.2 1240.6 1736.4 1242.6 1736.5 1244.6 1736.6 1246.6 1736.8 1248.6 1736.9 1250.6 1737.1 1252.6 1737.2 1254.6 1737.4 1256.6 1737.5 1258.6 1737.7 1260.6 1737.8 1262.6 1738.0 1264.6 1738.2 1266.6 1738.3 1268.6 1738.5 1270.6 1738.6 1272.6 1738.8 1274.6 1739.0 1276.6 1739.1 1278.6 1739.3 1280.6 1739.5 1282.6 1739.6 1284.6 1739.8 1286.6 1740.0 1288.6 1740.2 1290.6 1740.4 1292.6 1740.6 1294.6 1740.8 1296.6 1741.0 1298.6 1741.1 1300.6 1741.3 1302.6 1741.4 1304.6 1741.6 1306.6 1741.7 1308.6 1741.8 1310.6 1741.9 1312.6 1742.0 1314.6 1742.1 1316.6 1742.2 1318.6 1742.3 1320.6 1742.4 1322.6 1742.5 1324.6 1742.6 1326.6 1742.7 1328.6 1742.8 1330.6 1742.9 1332.6 1743.0 1334.6 1743.1 1336.6 1743.2 1338.6 1743.2 1340.6 1743.3 1342.6 1743.4 1344.6 1743.5 1346.6 1743.6 1348.6 1743.7 1350.6 1743.8 1352.6 1743.9 1354.6 1744.0 1356.6 1744.2 1358.6 1744.3 1360.6 1744.4 1362.6 1744.5 1364.6 1744.6 1366.6 1744.7 1368.6 1744.8 1370.6 1744.9 1372.6 1745.0 1374.6 1745.1 1376.6 1745.2 1378.6 1745.3 1380.6 1745.4 1382.6 1745.5 1384.6 1745.6 1386.6 1745.7 1388.6 1745.8 1390.6 1745.9 1392.6 1746.0 1394.6 1746.1 1396.6 1746.2 1398.6 1746.3 1400.6 1746.4 1402.6 1746.5 1404.6 1746.6 1406.6 1746.7 1408.6 1746.8 1410.6 1746.9 1412.6 1747.0 1414.6 1747.1 1416.6 1747.2 1418.6 1747.3 1420.6 1747.4 1422.6 1747.5 1424.6 1747.6 1426.6 1747.7 1428.6 1747.8 1430.6 1747.8 1432.6 1748.0 1434.6 1748.1 1436.6 1748.2 1438.6 1748.3 1440.6 1748.4 1442.6 1748.5 1444.6 1748.7 1446.6 1748.8 1448.6 1748.9 1450.6 1749.0 1452.6 1749.2 1454.6 1749.3 1456.6 1749.4 1458.6 1749.5 1460.6 1749.6 1462.6 1749.7 1464.6 1749.8 1466.6 1749.8 1468.6 1749.9 1470.6 1749.9 1472.6 1750.0 1474.6 1750.0 1476.6 1750.0 1478.6 1750.0 1480.6 1750.0 1482.6 1750.0 1484.6 1750.1 1486.6 1750.1 1488.6 1750.1 1490.6 1750.1 1492.6 1750.1 1494.6 1750.1 1496.6 1750.1 1498.6 1750.1 1500.6 1750.1 1502.6 1750.1 1504.6 1750.2 1506.6 1750.2 1508.6 1750.2 1510.6 1750.1 1512.6 1749.8 1514.6 1748.5 1516.6 1745.2 1518.6 1738.9 1520.6 1729.2 1522.6 1718.1 1524.6 1710.0 1526.6 1708.5 1528.6 1713.8 1530.6 1723.4 1532.6 1733.8 1534.6 1742.2 1536.6 1747.7 1538.6 1750.6 1540.6 1752.1 1542.6 1752.7 1544.6 1753.1 1546.6 1753.4 1548.6 1753.8 1550.6 1754.3 1552.6 1754.8 1554.6 1755.3 1556.6 1755.7 1558.6 1756.1 1560.6 1756.4 1562.6 1756.7 1564.6 1757.0 1566.6 1757.2 1568.6 1757.5 1570.6 1757.7 1572.6 1757.9 1574.6 1758.1 1576.6 1758.3 1578.6 1758.5 1580.6 1758.7 1582.6 1758.9 1584.6 1759.1 1586.6 1759.3 1588.6 1759.4 1590.6 1759.6 1592.6 1759.8 1594.6 1760.0 1596.6 1760.2 1598.6 1760.4 1600.6 1760.6 1602.6 1760.8 1604.6 1761.0 1606.6 1761.2 1608.6 1761.4 1610.6 1761.6 1612.6 1761.8 1614.6 1762.0 1616.6 1762.2 1618.6 1762.4 1620.6 1762.5 1622.6 1762.7 1624.6 1762.9 1626.6 1763.1 1628.6 1763.3 1630.6 1763.5 1632.6 1763.7 1634.6 1763.9 1636.6 1764.1 1638.6 1764.3 1640.6 1764.5 1642.6 1764.7 1644.6 1764.9 1646.6 1765.1 1648.6 1765.3 1650.6 1765.5 1652.6 1765.7 1654.6 1766.0 1656.6 1766.2 1658.6 1766.4 1660.6 1766.6 1662.6 1766.9 1664.6 1767.1 1666.6 1767.4 1668.6 1767.7 1670.6 1767.9 1672.6 1768.2 1674.6 1768.4 1676.6 1768.6 1678.6 1768.8 1680.6 1769.0 1682.6 1769.2 1684.6 1769.3 1686.6 1769.5 1688.6 1769.6 1690.6 1769.7 1692.6 1769.8 1694.6 1769.9 1696.6 1770.0 1698.6 1770.0 1700.6 1770.1 1702.6 1770.2 1704.6 1770.3 1706.6 1770.4 1708.6 1770.4 1710.6 1770.5 1712.6 1770.6 1714.6 1770.7 1716.6 1770.8 1718.6 1770.9 1720.6 1771.0 1722.6 1771.1 1724.6 1771.2 1726.6 1771.3 1728.6 1771.5 1730.6 1771.6 1732.6 1771.8 1734.6 1772.0 1736.6 1772.2 1738.6 1772.4 1740.6 1772.6 1742.6 1772.8 1744.6 1773.0 1746.6 1773.2 1748.6 1773.4 1750.6 1773.6 1752.6 1773.8 1754.6 1774.0 1756.6 1774.2 1758.6 1774.4 1760.6 1774.6 1762.6 1774.8 1764.6 1775.0 1766.6 1775.1 1768.6 1775.3 1770.6 1775.4 1772.6 1775.6 1774.6 1775.7 1776.6 1775.9 1778.6 1776.0 1780.6 1776.2 1782.6 1776.3 1784.6 1776.5 1786.6 1776.6 1788.6 1776.8 1790.6 1776.9 1792.6 1777.0 1794.6 1777.1 1796.6 1777.2 1798.6 1777.3 1800.6 1777.4 1802.6 1777.5 1804.6 1777.6 1806.6 1777.6 1808.6 1777.6 1810.6 1777.6 1812.6 1777.6 1814.6 1777.6 1816.6 1777.6 1818.6 1777.6 1820.6 1777.6 1822.6 1777.6 1824.6 1777.6 1826.6 1777.6 1828.6 1777.6 1830.6 1777.6 1832.6 1777.6 1834.6 1777.6 1836.6 1777.6 1838.6 1777.6 1840.6 1777.6 1842.6 1777.6 1844.6 1777.6 1846.6 1777.6 1848.6 1777.6 1850.6 1777.6 1852.6 1777.6 1854.6 1777.6 1856.6 1777.6 1858.6 1777.6 1860.6 1777.6 1862.6 1777.6 1864.6 1777.6 1866.6 1777.6 1868.6 1777.6 1870.6 1777.6 1872.6 1777.6 1874.6 1777.6 1876.6 1777.6 1878.6 1777.6 1880.6 1777.6 1882.6 1777.6 1884.6 1777.6 1886.6 1777.6 1888.6 1777.6 1890.6 1777.6 1892.6 1777.6 1894.6 1777.6 1896.6 1777.6 1898.6 1777.6 1900.6 1777.6 1902.6 1777.6 1904.6 1777.6 1906.6 1777.6 1908.6 1777.6 1910.6 1777.6 1912.6 1777.6 1914.6 1777.5 1916.6 1777.5 1918.6 1777.5 1920.6 1777.5 1922.6 1777.5 1924.6 1777.4 1926.6 1777.4 1928.6 1777.4 1930.6 1777.4 1932.6 1777.3 1934.6 1777.3 1936.6 1777.3 1938.6 1777.2 1940.6 1777.2 1942.6 1777.2 1944.6 1777.1 1946.6 1777.1 1948.6 1777.0 1950.6 1776.9 1952.6 1776.9 1954.6 1776.8 1956.6 1776.7 1958.6 1776.7 1960.6 1776.6 1961.6 1777.6 1962.1 1777.5 1962.6 1777.4 1963.1 1777.4 1963.6 1777.3 1964.0 1777.2 1964.5 1777.1 1965.0 1777.1 1965.4 1777.0 1965.9 1776.9 1966.3 1776.8 1966.8 1776.7 1967.2 1776.6 1967.7 1776.5 1968.1 1776.4 1968.6 1776.3 1969.2 1776.1 1969.7 1776.0 1970.2 1775.9 1970.7 1775.7 1971.2 1775.6 1971.6 1775.4 1972.1 1775.3 1972.6 1775.1 1973.0 1775.0 1973.5 1774.8 1974.0 1774.6 1974.4 1774.4 1974.8 1774.2 1975.3 1774.0 1975.7 1773.8 1976.1 1773.5 1976.5 1773.3 1977.0 1773.0 1977.4 1772.7 1977.8 1772.5 1978.2 1772.2 1978.6 1771.8 1979.0 1771.5 1979.4 1771.2 1979.8 1770.8 1980.2 1770.4 1980.6 1770.0 1981.0 1769.6 1981.4 1769.1 1981.7 1768.6 1982.1 1768.1 1982.6 1767.6 1983.1 1767.1 1983.6 1766.5 1984.0 1765.9 1984.5 1765.2 1984.9 1764.6 1985.3 1763.9 1985.8 1763.1 1986.2 1762.3 1986.6 1761.5 1987.0 1760.6 1987.4 1759.7 1987.8 1758.8 1988.2 1758.5 1988.5 1757.4 1988.9 1756.3 1989.1 1755.1 1989.3 1753.9 1989.5 1752.6 1989.6 1751.2 1989.8 1749.8 1990.0 1748.3 1990.1 1746.7 1990.3 1745.1 1990.4 1743.3 1990.6 1741.5 1990.8 1739.5 1990.9 1737.5 1991.1 1735.3 1991.3 1733.1 1991.6 1730.7 1991.8 1728.2 1992.1 1725.6 1992.4 1722.8 1992.8 1719.9 1993.1 1716.9 1993.4 1713.7 1993.7 1710.3 1994.1 1706.7 1994.4 1703.0 1994.8 1699.1 1995.2 1695.0 1995.6 1690.6 1996.0 1686.1 1996.3 1681.3 1996.7 1676.2 1997.1 1670.9 1997.5 1665.3 1997.9 1659.5 1998.3 1653.3 1998.6 1646.8 1999.0 1640.0 1999.4 1632.8 1999.7 1625.2 2000.1 1617.3 2000.5 1608.9 2000.8 1600.2 2001.2 1590.9 2001.5 1581.2 2001.8 1571.0 2002.1 1560.2 2002.3 1549.0 2002.6 1537.1 2002.8 1524.6 2003.0 1511.4 2003.2 1497.6 2003.4 1483.1 2003.6 1467.8 2003.8 1451.7 2004.0 1434.8 2004.1 1417.1 2004.2 1398.4 2004.3 1378.7 2004.4 1358.0 2004.5 1336.3 2004.6 1313.4 2004.6 1289.4 2004.8 1264.1 2004.9 1237.5 2005.1 1209.6 2005.2 1180.1 2005.3 1149.2 2005.5 1116.7 2005.6 1082.5 2005.7 1064.2 2005.8 1064.2 2005.9 1064.2 2006.1 1064.2 2006.3 1064.2 2006.4 1064.2 2006.6 1064.2 2006.6 1064.2 2006.7 1064.2 2006.7 1064.2 2006.7 1064.2 2006.7 1064.2 2006.8 1064.2 2006.8 1064.2 2006.8 1064.2 2006.8 1064.2 2006.9 1064.2 2006.9 1064.2 2006.9 1064.2 2006.9 1064.2 2007.0 1064.2 2007.0 1064.2 2007.0 1064.2 2007.0 1064.2 2007.0 1064.2 2007.1 1064.2 2007.1 1064.2 2007.1 1064.2 2007.1 1064.2 2008.9 1064.2 2008.9 1064.2 2008.9 1064.2 2008.9 1064.2 2009.0 1064.2 2009.0 1064.2 2009.0 1064.2 2009.0 1064.2 2009.0 1064.2 2009.1 1064.2 2009.1 1064.2 2009.1 1064.2 2009.1 1064.2 2009.2 1064.2 2009.2 1064.2 2009.2 1064.2 2009.2 1064.2 2009.3 1064.2 2009.3 1064.2 2009.3 1064.2 2009.3 1064.2 2009.4 1064.2 2009.4 1064.2 2009.6 1064.2 2009.7 1064.2 2009.9 1064.2 2010.1 1064.2 2010.2 1064.2 2010.3 1064.2 2010.4 1082.5 2010.5 1116.7 2010.6 1149.2 2010.7 1180.1 2010.8 1209.6 2010.9 1237.5 2011.1 1264.1 2011.2 1289.4 2011.2 1313.4 2011.3 1336.3 2011.4 1358.0 2011.4 1378.7 2011.5 1398.4 2011.6 1417.1 2011.7 1434.8 2011.9 1451.7 2012.0 1467.8 2012.2 1483.1 2012.3 1497.6 2012.5 1511.4 2012.7 1524.6 2012.9 1537.1 2013.1 1549.0 2013.3 1560.2 2013.5 1571.0 2013.7 1581.2 2014.0 1590.9 2014.3 1600.2 2014.5 1608.9 2014.8 1617.3 2015.1 1625.2 2015.4 1632.8 2015.6 1640.0 2015.9 1646.8 2016.2 1653.3 2016.5 1659.5 2016.7 1665.3 2017.0 1670.9 2017.3 1676.2 2017.6 1681.3 2017.8 1686.1 2018.1 1690.6 2018.4 1695.0 2018.6 1699.1 2018.8 1703.0 2019.1 1706.7 2019.3 1710.3 2019.5 1713.7 2019.7 1716.9 2019.9 1719.9 2020.1 1722.8 2020.3 1725.6 2020.4 1728.2 2020.6 1730.7 2020.7 1733.1 2020.8 1735.3 2020.9 1737.5 2020.9 1739.5 2021.0 1741.5 2021.0 1743.3 2021.1 1745.1 2021.1 1746.7 2021.2 1748.3 2021.4 1749.8 2021.9 1751.2 2022.4 1752.6 2022.9 1753.9 2023.4 1755.1 2023.9 1756.3 2024.4 1757.4 2025.0 1758.5 2025.6 1758.8 2026.2 1759.7 2026.8 1760.6 2027.4 1761.5 2028.1 1762.3 2028.8 1763.1 2029.5 1763.9 2030.2 1764.6 2031.1 1765.2 2032.0 1765.9 2032.9 1766.5 2033.9 1767.1 2034.9 1767.6 2035.9 1768.1 2037.0 1768.6 2038.1 1769.1 2039.2 1769.6 2040.2 1770.0 2041.3 1770.4 2042.5 1770.8 2043.7 1771.2 2044.9 1771.5 2046.1 1771.8 2047.4 1772.2 2048.4 1772.5 2049.2 1772.7 2050.0 1773.0 2050.8 1773.3 2051.6 1773.5 2052.4 1773.8 2053.2 1774.0 2054.1 1774.2 2054.9 1774.4 2055.8 1774.6 2056.7 1774.8 2057.6 1774.9 2058.5 1775.1 2059.5 1775.3 2060.5 1775.4 2061.4 1775.5 2062.4 1775.7 2063.5 1775.8 2064.5 1775.9 2065.6 1776.0 2066.6 1776.2 2067.7 1776.3 2068.0 1776.4 2068.0 1776.5 2068.0 1776.5 2068.0 1776.6 2068.0 1776.7 2068.0 1776.8 2068.0 1776.9 2068.0 1776.9 2068.0 1777.0 2068.0 1777.1 2068.0 1777.1 2068.0 1777.2 2068.0 1777.2 2068.0 1777.3 2068.0 1778.7 2068.0 1778.7 2068.0 1778.6 2068.0 1778.6 2068.0 1778.5 2068.0 1778.4 2068.0 1778.4 2068.0 1778.3 2068.0 1778.2 2068.0 1778.1 2068.0 1778.1 2068.0 1778.0 2068.0 1777.9 2068.0 1777.8 2067.7 1777.7 2066.6 1777.6 2065.6 1777.5 2064.5 1777.4 2063.5 1777.2 2062.4 1777.1 2061.4 1777.0 2060.5 1776.8 2059.5 1776.7 2058.5 1776.5 2057.6 1776.4 2056.7 1776.2 2055.8 1776.0 2054.9 1775.8 2054.1 1775.6 2053.2 1775.4 2052.4 1775.2 2051.6 1775.0 2050.8 1774.7 2050.0 1774.5 2049.2 1774.2 2048.4 1773.9 2047.4 1773.6 2046.1 1773.3 2044.9 1772.9 2043.7 1772.6 2042.5 1772.2 2041.3 1771.8 2040.2 1771.4 2039.2 1771.0 2038.1 1770.6 2037.0 1770.1 2035.9 1769.6 2034.9 1769.1 2033.9 1768.5 2032.9 1767.9 2032.0 1767.3 2031.1 1766.7 2030.2 1766.0 2029.5 1765.3 2028.8 1764.6 2028.1 1763.8 2027.4 1762.9 2026.8 1762.1 2026.2 1761.2 2025.6 1760.2 2025.0 1758.5 2024.4 1757.4 2023.9 1756.3 2023.4 1755.1 2022.9 1753.9 2022.4 1752.6 2021.9 1751.2 2021.4 1749.8 2021.2 1748.3 2021.1 1746.7 2021.1 1745.1 2021.0 1743.3 2021.0 1741.5 2020.9 1739.5 2020.9 1737.5 2020.8 1735.3 2020.7 1733.1 2020.6 1730.7 2020.4 1728.2 2020.3 1725.6 2020.1 1722.8 2019.9 1719.9 2019.7 1716.9 2019.5 1713.7 2019.3 1710.3 2019.1 1706.7 2018.8 1703.0 2018.6 1699.1 2018.4 1695.0 2018.1 1690.6 2017.8 1686.1 2017.6 1681.3 2017.3 1676.2 2017.0 1670.9 2016.7 1665.3 2016.5 1659.5 2016.2 1653.3 2015.9 1646.8 2015.6 1640.0 2015.4 1632.8 2015.1 1625.2 2014.8 1617.3 2014.5 1608.9 2014.3 1600.2 2014.0 1590.9 2013.7 1581.2 2013.5 1571.0 2013.3 1560.2 2013.1 1549.0 2012.9 1537.1 2012.7 1524.6 2012.5 1511.4 2012.3 1497.6 2012.2 1483.1 2012.0 1467.8 2011.9 1451.7 2011.7 1434.8 2011.6 1417.1 2011.5 1398.4 2011.4 1378.7 2011.4 1358.0 2011.3 1336.3 2011.2 1313.4 2011.2 1289.4 2011.1 1264.1 2010.9 1237.5 2010.8 1209.6 2010.7 1180.1 2010.6 1149.2 2010.5 1116.7 2010.4 1082.5 2010.3 1064.2 2010.2 1064.2 2010.1 1064.2 2009.9 1064.2 2009.7 1064.2 2009.6 1064.2 2009.4 1064.2 2009.4 1064.2 2009.3 1064.2 2009.3 1064.2 2009.3 1064.2 2009.3 1064.2 2009.2 1064.2 2009.2 1064.2 2009.2 1064.2 2009.2 1064.2 2009.1 1064.2 2009.1 1064.2 2009.1 1064.2 2009.1 1064.2 2009.0 1064.2 2009.0 1064.2 2009.0 1064.2 2009.0 1064.2 2009.0 1064.2 2008.9 1064.2 2008.9 1064.2 2008.9 1064.2 2008.9 1064.2 2007.1 1064.2 2007.1 1064.2 2007.1 1064.2 2007.1 1064.2 2007.0 1064.2 2007.0 1064.2 2007.0 1064.2 2007.0 1064.2 2007.0 1064.2 2006.9 1064.2 2006.9 1064.2 2006.9 1064.2 2006.9 1064.2 2006.8 1064.2 2006.8 1064.2 2006.8 1064.2 2006.8 1064.2 2006.7 1064.2 2006.7 1064.2 2006.7 1064.2 2006.7 1064.2 2006.6 1064.2 2006.6 1064.2 2006.4 1064.2 2006.3 1064.2 2006.1 1064.2 2005.9 1064.2 2005.8 1064.2 2005.7 1064.2 2005.6 1082.5 2005.5 1116.7 2005.3 1149.2 2005.2 1180.1 2005.1 1209.6 2004.9 1237.5 2004.8 1264.1 2004.6 1289.4 2004.6 1313.4 2004.5 1336.3 2004.4 1358.0 2004.3 1378.7 2004.2 1398.4 2004.1 1417.1 2004.0 1434.8 2003.8 1451.7 2003.6 1467.8 2003.4 1483.1 2003.2 1497.6 2003.0 1511.4 2002.8 1524.6 2002.6 1537.1 2002.3 1549.0 2002.1 1560.2 2001.8 1571.0 2001.5 1581.2 2001.2 1590.9 2000.8 1600.2 2000.5 1608.9 2000.1 1617.3 1999.7 1625.2 1999.4 1632.8 1999.0 1640.0 1998.6 1646.8 1998.3 1653.3 1997.9 1659.5 1997.5 1665.3 1997.1 1670.9 1996.7 1676.2 1996.3 1681.3 1996.0 1686.1 1995.6 1690.6 1995.2 1695.0 1994.8 1699.1 1994.4 1703.0 1994.1 1706.7 1993.7 1710.3 1993.4 1713.7 1993.1 1716.9 1992.8 1719.9 1992.4 1722.8 1992.1 1725.6 1991.8 1728.2 1991.6 1730.7 1991.3 1733.1 1991.1 1735.3 1990.9 1737.5 1990.8 1739.5 1990.6 1741.5 1990.4 1743.3 1990.3 1745.1 1990.1 1746.7 1990.0 1748.3 1989.8 1749.8 1989.6 1751.2 1989.5 1752.6 1989.3 1753.9 1989.1 1755.1 1988.9 1756.3 1988.5 1757.4 1988.2 1758.5 1987.8 1760.2 1987.4 1761.2 1987.0 1762.1 1986.6 1762.9 1986.2 1763.8 1985.8 1764.6 1985.3 1765.3 1984.9 1766.0 1984.5 1766.7 1984.0 1767.3 1983.6 1767.9 1983.1 1768.5 1982.6 1769.1 1982.1 1769.6 1981.7 1770.1 1981.4 1770.6 1981.0 1771.0 1980.6 1771.4 1980.2 1771.8 1979.8 1772.2 1979.4 1772.6 1979.0 1772.9 1978.6 1773.3 1978.2 1773.6 1977.8 1773.9 1977.4 1774.2 1977.0 1774.5 1976.5 1774.7 1976.1 1775.0 1975.7 1775.2 1975.3 1775.4 1974.8 1775.6 1974.4 1775.8 1974.0 1776.0 1973.5 1776.2 1973.0 1776.4 1972.6 1776.6 1972.1 1776.7 1971.6 1776.9 1971.2 1777.0 1970.7 1777.2 1970.2 1777.3 1969.7 1777.4 1969.2 1777.6 1968.6 1777.7 1968.1 1777.8 1967.7 1777.9 1967.2 1778.0 1966.8 1778.1 1966.3 1778.2 1965.9 1778.3 1965.4 1778.4 1965.0 1778.5 1964.5 1778.6 1964.0 1778.7 1963.6 1778.7 1963.1 1778.8 1962.6 1778.9 1962.1 1779.0 1961.6 1779.0 1960.6 1782.1 1958.6 1782.2 1956.6 1782.2 1954.6 1782.3 1952.6 1782.4 1950.6 1782.5 1948.6 1782.5 1946.6 1782.6 1944.6 1782.6 1942.6 1782.7 1940.6 1782.7 1938.6 1782.8 1936.6 1782.8 1934.6 1782.8 1932.6 1782.8 1930.6 1782.9 1928.6 1782.9 1926.6 1782.9 1924.6 1783.0 1922.6 1783.0 1920.6 1783.0 1918.6 1783.0 1916.6 1783.0 1914.6 1783.1 1912.6 1783.1 1910.6 1783.1 1908.6 1783.1 1906.6 1783.1 1904.6 1783.1 1902.6 1783.1 1900.6 1783.2 1898.6 1783.2 1896.6 1783.2 1894.6 1783.2 1892.6 1783.2 1890.6 1783.2 1888.6 1783.2 1886.6 1783.2 1884.6 1783.2 1882.6 1783.2 1880.6 1783.2 1878.6 1783.2 1876.6 1783.2 1874.6 1783.2 1872.6 1783.2 1870.6 1783.2 1868.6 1783.2 1866.6 1783.2 1864.6 1783.2 1862.6 1783.2 1860.6 1783.2 1858.6 1783.2 1856.6 1783.2 1854.6 1783.2 1852.6 1783.2 1850.6 1783.2 1848.6 1783.2 1846.6 1783.2 1844.6 1783.2 1842.6 1783.2 1840.6 1783.2 1838.6 1783.2 1836.6 1783.2 1834.6 1783.2 1832.6 1783.2 1830.6 1783.2 1828.6 1783.2 1826.6 1783.2 1824.6 1783.2 1822.6 1783.2 1820.6 1783.2 1818.6 1783.2 1816.6 1783.2 1814.6 1783.2 1812.6 1783.2 1810.6 1783.2 1808.6 1783.1 1806.6 1783.1 1804.6 1783.1 1802.6 1783.0 1800.6 1782.9 1798.6 1782.9 1796.6 1782.8 1794.6 1782.6 1792.6 1782.5 1790.6 1782.4 1788.6 1782.3 1786.6 1782.1 1784.6 1782.0 1782.6 1781.8 1780.6 1781.7 1778.6 1781.5 1776.6 1781.4 1774.6 1781.2 1772.6 1781.1 1770.6 1780.9 1768.6 1780.8 1766.6 1780.7 1764.6 1780.5 1762.6 1780.3 1760.6 1780.2 1758.6 1780.0 1756.6 1779.8 1754.6 1779.6 1752.6 1779.4 1750.6 1779.2 1748.6 1779.0 1746.6 1778.7 1744.6 1778.5 1742.6 1778.3 1740.6 1778.1 1738.6 1777.9 1736.6 1777.7 1734.6 1777.5 1732.6 1777.4 1730.6 1777.2 1728.6 1777.0 1726.6 1776.9 1724.6 1776.7 1722.6 1776.6 1720.6 1776.5 1718.6 1776.4 1716.6 1776.3 1714.6 1776.2 1712.6 1776.1 1710.6 1776.1 1708.6 1776.0 1706.6 1775.9 1704.6 1775.8 1702.6 1775.8 1700.6 1775.7 1698.6 1775.6 1696.6 1775.5 1694.6 1775.4 1692.6 1775.3 1690.6 1775.2 1688.6 1775.1 1686.6 1775.0 1684.6 1774.9 1682.6 1774.8 1680.6 1774.6 1678.6 1774.4 1676.6 1774.2 1674.6 1774.0 1672.6 1773.7 1670.6 1773.5 1668.6 1773.2 1666.6 1773.0 1664.6 1772.7 1662.6 1772.4 1660.6 1772.2 1658.6 1772.0 1656.6 1771.7 1654.6 1771.5 1652.6 1771.3 1650.6 1771.1 1648.6 1770.9 1646.6 1770.7 1644.6 1770.5 1642.6 1770.3 1640.6 1770.1 1638.6 1769.9 1636.6 1769.7 1634.6 1769.5 1632.6 1769.3 1630.6 1769.1 1628.6 1768.9 1626.6 1768.7 1624.6 1768.5 1622.6 1768.3 1620.6 1768.1 1618.6 1767.9 1616.6 1767.8 1614.6 1767.6 1612.6 1767.4 1610.6 1767.2 1608.6 1767.0 1606.6 1766.8 1604.6 1766.6 1602.6 1766.4 1600.6 1766.2 1598.6 1766.0 1596.6 1765.8 1594.6 1765.6 1592.6 1765.4 1590.6 1765.2 1588.6 1765.0 1586.6 1764.9 1584.6 1764.7 1582.6 1764.5 1580.6 1764.3 1578.6 1764.1 1576.6 1763.9 1574.6 1763.7 1572.6 1763.5 1570.6 1763.3 1568.6 1763.1 1566.6 1762.8 1564.6 1762.6 1562.6 1762.3 1560.6 1762.0 1558.6 1761.7 1556.6 1761.4 1554.6 1760.9 1552.6 1760.4 1550.6 1759.9 1548.6 1759.4 1546.6 1759.0 1544.6 1758.7 1542.6 1758.4 1540.6 1757.7 1538.6 1756.3 1536.6 1753.3 1534.6 1747.9 1532.6 1739.5 1530.6 1729.2 1528.6 1719.6 1526.6 1714.3 1524.6 1715.8 1522.6 1723.9 1520.6 1734.9 1518.6 1744.6 1516.6 1750.9 1514.6 1754.1 1512.6 1755.4 1510.6 1755.8 1508.6 1755.9 1506.6 1755.8 1504.6 1755.8 1502.6 1755.8 1500.6 1755.8 1498.6 1755.8 1496.6 1755.8 1494.6 1755.7 1492.6 1755.7 1490.6 1755.7 1488.6 1755.7 1486.6 1755.7 1484.6 1755.7 1482.6 1755.7 1480.6 1755.7 1478.6 1755.7 1476.6 1755.7 1474.6 1755.6 1472.6 1755.6 1470.6 1755.6 1468.6 1755.5 1466.6 1755.5 1464.6 1755.4 1462.6 1755.3 1460.6 1755.2 1458.6 1755.1 1456.6 1755.0 1454.6 1754.9 1452.6 1754.8 1450.6 1754.7 1448.6 1754.6 1446.6 1754.4 1444.6 1754.3 1442.6 1754.2 1440.6 1754.1 1438.6 1754.0 1436.6 1753.8 1434.6 1753.7 1432.6 1753.6 1430.6 1753.5 1428.6 1753.4 1426.6 1753.3 1424.6 1753.2 1422.6 1753.1 1420.6 1753.0 1418.6 1752.9 1416.6 1752.8 1414.6 1752.7 1412.6 1752.6 1410.6 1752.5 1408.6 1752.4 1406.6 1752.3 1404.6 1752.2 1402.6 1752.2 1400.6 1752.1 1398.6 1752.0 1396.6 1751.9 1394.6 1751.8 1392.6 1751.7 1390.6 1751.6 1388.6 1751.5 1386.6 1751.4 1384.6 1751.3 1382.6 1751.2 1380.6 1751.1 1378.6 1751.0 1376.6 1750.9 1374.6 1750.8 1372.6 1750.7 1370.6 1750.6 1368.6 1750.4 1366.6 1750.3 1364.6 1750.2 1362.6 1750.1 1360.6 1750.0 1358.6 1749.9 1356.6 1749.8 1354.6 1749.7 1352.6 1749.6 1350.6 1749.5 1348.6 1749.4 1346.6 1749.3 1344.6 1749.2 1342.6 1749.1 1340.6 1749.0 1338.6 1748.9 1336.6 1748.8 1334.6 1748.7 1332.6 1748.7 1330.6 1748.6 1328.6 1748.5 1326.6 1748.4 1324.6 1748.3 1322.6 1748.2 1320.6 1748.1 1318.6 1748.0 1316.6 1747.9 1314.6 1747.8 1312.6 1747.7 1310.6 1747.6 1308.6 1747.5 1306.6 1747.4 1304.6 1747.2 1302.6 1747.1 1300.6 1747.0 1298.6 1746.8 1296.6 1746.7 1294.6 1746.5 1292.6 1746.3 1290.6 1746.1 1288.6 1745.9 1286.6 1745.7 1284.6 1745.5 1282.6 1745.3 1280.6 1745.2 1278.6 1745.0 1276.6 1744.8 1274.6 1744.7 1272.6 1744.5 1270.6 1744.3 1268.6 1744.2 1266.6 1744.0 1264.6 1743.9 1262.6 1743.7 1260.6 1743.6 1258.6 1743.4 1256.6 1743.2 1254.6 1743.1 1252.6 1742.9 1250.6 1742.8 1248.6 1742.6 1246.6 1742.5 1244.6 1742.4 1242.6 1742.2 1240.6 1742.1 1238.6 1741.9 1236.6 1741.8 1234.6 1741.7 1232.6 1741.5 1230.6 1741.4 1228.6 1741.3 1226.6 1741.1 1224.6 1741.0 1222.6 1740.9 1220.6 1740.8 1218.6 1740.7 1216.6 1740.6 1214.6 1740.5 1212.6 1740.4 1210.6 1740.3 1208.6 1740.2 1206.6 1740.1 1204.6 1740.0 1202.6 1739.9 1200.6 1739.8 1198.6 1739.7 1196.6 1739.6 1194.6 1739.5 1192.6 1739.4 1190.6 1739.3 1188.6 1739.2 1186.6 1739.1 1184.6 1739.0 1182.6 1738.9 1180.6 1738.8 1178.6 1738.6 1176.6 1738.5 1174.6 1738.3 1172.6 1738.1 1170.6 1738.0 1168.6 1737.8 1166.6 1737.5 1164.6 1737.3 1162.6 1737.1 1160.6 1736.9 1158.6 1736.6 1156.6 1736.4 1154.6 1736.2 1152.6 1735.9 1150.6 1735.7 1148.6 1735.5 1146.6 1735.3 1144.6 1735.1 1142.6 1734.9 1140.6 1734.7 1138.6 1734.6 1136.6 1734.4 1134.6 1734.3 1132.6 1734.2 1130.6 1734.1 1128.6 1734.0 1126.6 1733.9 1124.6 1733.8 1122.6 1733.7 1120.6 1733.6 1118.6 1733.6 1116.6 1733.5 1114.6 1733.4 1112.6 1733.3 1110.6 1733.3 1108.6 1733.2 1106.6 1733.1 1104.6 1733.0 1102.6 1732.9 1100.6 1732.8 1098.6 1732.7 1096.6 1732.5 1094.6 1732.4 1092.6 1732.2 1090.6 1732.1 1088.6 1731.8 1086.6 1731.5 1084.6 1731.2 1082.6 1730.9 1080.6 1730.5 1078.6 1730.1 1076.6 1729.7 1074.6 1729.3 1072.6 1728.9 1070.6 1728.4 1068.6 1728.0 1066.6 1727.4 1064.6 1726.8 1062.6 1725.9 1060.6 1724.7 1058.6 1723.1 1056.6 1721.0 1054.6 1718.1 1052.6 1714.4 1050.6 1709.7 1048.6 1704.1 1046.6 1698.0 1044.6 1691.8 1042.6 1686.2 1040.6 1681.8 1038.6 1679.4 1036.6 1679.3 1034.6 1681.6 1032.6 1686.0 1030.6 1691.7 1028.6 1697.9 1026.6 1703.9 1024.6 1709.1 1022.6 1713.2 1020.6 1716.3 1018.6 1718.5 1016.6 1720.0 1014.6 1721.1 1012.6 1721.8 1010.6 1722.3 1008.6 1722.7 1006.6 1723.1 1004.6 1723.5 1002.6 1723.9 1000.6 1724.3 998.6 1724.7 996.6 1725.1 994.6 1725.6 992.6 1726.1 990.6 1726.5 988.6 1727.0 986.6 1727.5 984.6 1728.0 982.6 1728.4 980.6 1728.9 978.6 1729.4 976.6 1729.9 974.6 1730.3 972.6 1730.7 970.6 1731.2 968.6 1731.6 966.6 1732.0 964.6 1732.4 962.6 1732.7 960.6 1733.1 958.6 1733.4 956.6 1733.7 954.6 1734.0 952.6 1734.3 950.6 1734.6 948.6 1734.9 946.6 1735.2 944.6 1735.5 942.6 1735.8 940.6 1736.1 938.6 1736.4 936.6 1736.7 934.6 1737.0 932.6 1737.3 930.6 1737.6 928.6 1737.9 926.6 1738.2 924.6 1738.6 922.6 1738.9 920.6 1739.3 918.6 1739.7 916.6 1740.1 914.6 1740.5 912.6 1740.9 910.6 1741.4 908.6 1741.8 906.6 1742.2 904.6 1742.7 902.6 1743.1 900.6 1743.5 898.6 1743.9 896.6 1744.4 894.6 1744.8 892.6 1745.3 890.6 1745.7 888.6 1746.2 886.6 1746.7 884.6 1747.1 882.6 1747.6 880.6 1748.1 878.6 1748.6 876.6 1749.1 874.6 1749.6 872.6 1750.1 870.6 1750.5 868.6 1751.0 866.6 1751.5 864.6 1751.9 862.6 1752.3 860.6 1752.8 858.6 1753.2 856.6 1753.6 854.6 1754.0 852.6 1754.3 850.6 1754.6 848.6 1755.0 846.6 1755.3 844.6 1755.5 842.6 1755.8 840.6 1756.0 838.6 1756.2 836.6 1756.4 834.6 1756.6 832.6 1756.8 830.6 1757.0 828.6 1757.2 826.6 1757.4 824.6 1757.6 822.6 1757.7 820.6 1757.9 818.6 1758.1 816.6 1758.3 814.6 1758.4 812.6 1758.6 810.6 1758.8 808.6 1758.9 806.6 1759.1 804.6 1759.2 802.6 1759.4 800.6 1759.5 798.6 1759.6 796.6 1759.8 794.6 1759.9 792.6 1760.0 790.6 1760.2 788.6 1760.3 786.6 1760.4 784.6 1760.5 782.6 1760.6 780.6 1760.7 778.6 1760.8 776.6 1760.9 774.6 1761.0 772.6 1761.1 770.6 1761.2 768.6 1761.3 766.6 1761.4 764.6 1761.5 762.6 1761.6 760.6 1761.6 758.6 1761.7 756.6 1761.8 754.6 1761.9 752.6 1761.9 750.6 1762.0 748.6 1762.1 746.6 1762.1 744.6 1762.2 742.6 1762.3 740.6 1762.3 738.6 1762.4 736.6 1762.5 734.6 1762.5 732.6 1762.6 730.6 1762.7 728.6 1762.7 726.6 1762.8 724.6 1762.9 722.6 1762.9 720.6 1763.0 718.6 1763.0 716.6 1763.1 714.6 1763.2 712.6 1763.2 710.6 1763.3 708.6 1763.3 706.6 1763.4 704.6 1763.4 702.6 1763.4 700.6 1763.5 698.6 1763.5 696.6 1763.6 694.6 1763.6 692.6 1763.6 690.6 1763.7 688.6 1763.7 686.6 1763.7 684.6 1763.7 682.6 1763.8 680.6 1763.8 678.6 1763.8 676.6 1763.8 674.6 1763.8 672.6 1763.8 670.6 1763.8 668.6 1763.8 666.6 1763.8 664.6 1763.8 662.6 1763.8 660.6 1763.8 658.6 1763.7 656.6 1763.7 654.6 1763.7 652.6 1763.7 650.6 1763.7 648.6 1763.6 646.6 1763.6 644.6 1763.6 642.6 1763.5 640.6 1763.5 638.6 1763.4 636.6 1763.4 634.6 1763.4 632.6 1763.3 630.6 1763.3 628.6 1763.2 626.6 1763.2 624.6 1763.1 622.6 1763.0 620.6 1763.0 618.6 1762.9 616.6 1762.9 614.6 1762.8 612.6 1762.8 610.6 1762.7 608.6 1762.6 606.6 1762.6 604.6 1762.5 602.6 1762.4 600.6 1762.4 598.6 1762.3 596.6 1762.2 594.6 1762.2 592.6 1762.1 590.6 1762.0 588.6 1761.9 586.6 1761.9 584.6 1761.8 582.6 1761.7 580.6 1761.6 578.6 1761.5 576.6 1761.4 574.6 1761.3 572.6 1761.2 570.6 1761.1 568.6 1761.0 566.6 1760.8 564.6 1760.7 562.6 1760.6 560.6 1760.4 558.6 1760.3 556.6 1760.1 554.6 1760.0 552.6 1759.8 550.6 1759.7 548.6 1759.5 546.6 1759.3 544.6 1759.2 542.6 1759.0 540.6 1758.9 538.6 1758.7 536.6 1758.5 534.6 1758.4 532.6 1758.2 530.6 1758.1 528.6 1757.9 526.6 1757.8 524.6 1757.6 522.6 1757.5 520.6 1757.3 518.6 1757.2 516.6 1757.0 514.6 1756.8 512.6 1756.6 510.6 1756.5 508.6 1756.3 506.6 1756.1 504.6 1755.9 502.6 1755.8 500.6 1755.6 498.6 1755.4 496.6 1755.2 494.6 1755.1 492.6 1754.9 490.6 1754.7 488.6 1754.6 486.6 1754.4 484.6 1754.3 482.6 1754.2 480.6 1754.0 478.6 1753.9 476.6 1753.8 474.6 1753.7 472.6 1753.6 470.6 1753.5 468.6 1753.4 466.6 1753.4 464.6 1753.3 462.6 1753.2 460.6 1753.2 458.6 1753.1 456.6 1753.1 454.6 1753.0 452.6 1752.9 450.6 1752.9 448.6 1752.8 446.6 1752.8 444.6 1752.8 442.6 1752.7 440.6 1752.7 438.6 1752.6 436.6 1752.6 434.6 1752.5 432.6 1752.5 430.6 1752.5 428.6 1752.4 426.6 1752.4 424.6 1752.4 422.6 1752.3 420.6 1752.3 418.6 1752.2 416.6 1752.2 414.6 1752.2 412.6 1752.1 410.6 1752.1 408.6 1752.0 406.6 1752.0 404.6 1752.0 402.6 1751.9 400.6 1751.9 398.6 1751.8 396.6 1751.8 394.6 1751.7 392.6 1751.6 390.6 1751.6 388.6 1751.5 386.6 1751.5 384.6 1751.4 382.6 1751.3 380.6 1751.2 378.6 1751.2 376.6 1751.1 374.6 1751.0 372.6 1750.9 370.6 1750.8 368.6 1750.7 366.6 1750.6 364.6 1750.5 362.6 1750.4 360.6 1750.3 358.6 1750.2 356.6 1750.1 354.6 1750.0 352.6 1749.8 350.6 1749.7 348.6 1749.6 346.6 1749.5 344.6 1749.4 342.6 1749.3 340.6 1749.1 338.6 1749.0 336.6 1748.9 334.6 1748.8 332.6 1748.7 330.6 1748.5 328.6 1748.4 326.6 1748.3 324.6 1748.2 322.6 1748.0 320.6 1747.9 318.6 1747.8 316.6 1747.7 314.6 1747.6 312.6 1747.5 310.6 1747.4 308.6 1747.2 306.6 1747.1 304.6 1747.0 302.6 1746.9 300.6 1746.8 298.6 1746.7 296.6 1746.6 294.6 1746.5 292.6 1746.4 290.6 1746.3 288.6 1746.2 286.6 1746.1 284.6 1745.9 282.6 1745.8 280.6 1745.7 278.6 1745.6 276.6 1745.4 274.6 1745.3 272.6 1745.2 270.6 1745.1 268.6 1744.9 266.6 1744.8 264.6 1744.7 262.6 1744.6 260.6 1744.5 258.6 1744.3 256.6 1744.2 254.6 1744.1 252.6 1744.0 250.6 1743.9 248.6 1743.8 246.6 1743.7 244.6 1743.6 242.6 1743.5 240.6 1743.4 238.6 1743.4 236.6 1743.3 234.6 1743.2 232.6 1743.1 230.6 1743.1 228.6 1743.0 226.6 1743.0 224.6 1742.9 222.6 1742.9 220.6 1742.9 218.6 1742.9 216.6 1742.9 214.6 1742.9 212.6 1742.9 210.6 1742.9 208.6 1742.9 206.6 1742.9 204.6 1742.9 202.6 1742.9 200.6 1742.9 198.6 1742.9 196.6 1742.9 194.6 1743.0 192.6 1743.0 190.6 1743.0 188.6 1743.0 186.6 1743.1 184.6 1743.1 182.6 1743.2 180.6 1743.2 178.6 1743.2 176.6 1743.3 174.6 1743.3 172.6 1743.4 170.6 1743.5 168.6 1743.5 166.6 1743.6 164.6 1743.6 162.6 1743.7 160.6 1743.8 158.6 1743.9 156.6 1744.0 154.6 1744.0 152.6 1744.1 150.6 1744.2 148.6 1744.3 146.6 1744.4 144.6 1744.5 142.6 1744.6 140.6 1744.8 138.6 1744.9Z" fill="#111" stroke="none"/>
<path d="M138.6 1741.0L140.6 1740.4 142.6 1742.8 144.6 1741.1 146.6 1747.4 148.6 1742.1 150.6 1745.9 152.6 1744.6 154.6 1732.5 156.6 1742.2 158.6 1743.5 160.6 1741.4 162.6 1745.9 164.6 1743.7 166.6 1741.9 168.6 1746.2 170.6 1737.6 172.6 1734.5 174.6 1737.5 176.6 1744.3 178.6 1740.3 180.6 1746.8 182.6 1740.3 184.6 1738.3 186.6 1743.1 188.6 1735.2 190.6 1736.3 192.6 1741.7 194.6 1737.0 196.6 1739.2 198.6 1740.4 200.6 1741.3 202.6 1743.0 204.6 1738.8 206.6 1746.4 208.6 1743.0 210.6 1736.8 212.6 1743.2 214.6 1741.8 216.6 1741.4 218.6 1744.1 220.6 1742.7 222.6 1739.6 224.6 1744.6 226.6 1739.4 228.6 1731.7 230.6 1740.1 232.6 1740.8 234.6 1743.5 236.6 1741.2 238.6 1737.8 240.6 1749.2 242.6 1737.4 244.6 1740.4 246.6 1739.0 248.6 1741.3 250.6 1743.6 252.6 1744.0 254.6 1736.4 256.6 1744.8 258.6 1740.6 260.6 1743.5 262.6 1745.2 264.6 1744.4 266.6 1740.8 268.6 1744.8 270.6 1747.2 272.6 1745.5 274.6 1738.4 276.6 1740.5 278.6 1740.2 280.6 1744.4 282.6 1745.2 284.6 1750.7 286.6 1748.9 288.6 1741.5 290.6 1739.0 292.6 1741.4 294.6 1744.8 296.6 1740.7 298.6 1743.9 300.6 1743.6 302.6 1744.8 304.6 1743.5 306.6 1746.7 308.6 1749.3 310.6 1750.3 312.6 1742.9 314.6 1746.8 316.6 1750.5 318.6 1751.4 320.6 1745.8 322.6 1743.2 324.6 1746.9 326.6 1742.7 328.6 1742.8 330.6 1747.3 332.6 1742.8 334.6 1746.6 336.6 1742.2 338.6 1746.7 340.6 1741.8 342.6 1741.5 344.6 1749.3 346.6 1745.7 348.6 1750.8 350.6 1746.4 352.6 1745.7 354.6 1748.1 356.6 1748.8 358.6 1752.1 360.6 1745.2 362.6 1745.8 364.6 1749.3 366.6 1744.5 368.6 1752.0 370.6 1746.7 372.6 1750.2 374.6 1750.4 376.6 1752.1 378.6 1744.1 380.6 1749.6 382.6 1754.0 384.6 1747.3 386.6 1747.1 388.6 1747.1 390.6 1752.3 392.6 1748.4 394.6 1745.5 396.6 1744.6 398.6 1750.8 400.6 1753.8 402.6 1745.6 404.6 1749.8 406.6 1749.2 408.6 1748.0 410.6 1750.6 412.6 1746.6 414.6 1746.5 416.6 1751.2 418.6 1741.4 420.6 1754.2 422.6 1750.0 424.6 1746.9 426.6 1745.6 428.6 1751.8 430.6 1748.5 432.6 1754.4 434.6 1749.4 436.6 1751.5 438.6 1744.2 440.6 1752.8 442.6 1750.8 444.6 1747.6 446.6 1751.0 448.6 1748.2 450.6 1751.8 452.6 1746.2 454.6 1752.8 456.6 1747.8 458.6 1750.1 460.6 1748.4 462.6 1752.9 464.6 1751.9 466.6 1754.5 468.6 1752.6 470.6 1752.1 472.6 1747.0 474.6 1749.0 476.6 1751.8 478.6 1751.3 480.6 1754.5 482.6 1747.9 484.6 1752.0 486.6 1755.9 488.6 1753.1 490.6 1745.4 492.6 1752.5 494.6 1746.2 496.6 1751.7 498.6 1757.0 500.6 1753.7 502.6 1755.4 504.6 1757.4 506.6 1754.0 508.6 1753.2 510.6 1758.4 512.6 1750.1 514.6 1759.9 516.6 1751.9 518.6 1753.6 520.6 1754.5 522.6 1755.3 524.6 1753.3 526.6 1756.5 528.6 1754.4 530.6 1759.6 532.6 1752.1 534.6 1754.4 536.6 1754.7 538.6 1764.5 540.6 1754.5 542.6 1757.3 544.6 1750.9 546.6 1758.1 548.6 1759.2 550.6 1760.4 552.6 1763.0 554.6 1756.9 556.6 1757.8 558.6 1766.6 560.6 1757.7 562.6 1755.9 564.6 1758.2 566.6 1758.4 568.6 1757.9 570.6 1759.8 572.6 1757.2 574.6 1750.5 576.6 1759.0 578.6 1759.4 580.6 1757.6 582.6 1759.6 584.6 1758.8 586.6 1752.7 588.6 1762.5 590.6 1759.3 592.6 1760.5 594.6 1756.1 596.6 1757.4 598.6 1761.5 600.6 1760.3 602.6 1761.9 604.6 1764.2 606.6 1762.7 608.6 1764.9 610.6 1761.1 612.6 1764.7 614.6 1755.2 616.6 1761.9 618.6 1762.7 620.6 1763.9 622.6 1759.1 624.6 1755.7 626.6 1761.2 628.6 1757.2 630.6 1759.0 632.6 1762.6 634.6 1763.7 636.6 1764.3 638.6 1760.3 640.6 1758.9 642.6 1763.5 644.6 1755.5 646.6 1756.7 648.6 1760.1 650.6 1764.9 652.6 1763.1 654.6 1759.2 656.6 1758.3 658.6 1762.3 660.6 1762.3 662.6 1761.9 664.6 1759.2 666.6 1760.2 668.6 1757.1 670.6 1756.4 672.6 1757.3 674.6 1765.4 676.6 1760.2 678.6 1759.4 680.6 1761.1 682.6 1762.9 684.6 1763.1 686.6 1766.4 688.6 1766.0 690.6 1761.5 692.6 1756.6 694.6 1762.5 696.6 1757.7 698.6 1762.3 700.6 1761.5 702.6 1769.3 704.6 1758.1 706.6 1756.8 708.6 1763.5 710.6 1762.0 712.6 1759.1 714.6 1762.6 716.6 1758.0 718.6 1756.6 720.6 1762.4 722.6 1757.0 724.6 1757.2 726.6 1763.6 728.6 1758.5 730.6 1753.4 732.6 1757.2 734.6 1760.6 736.6 1759.5 738.6 1763.9 740.6 1756.9 742.6 1760.6 744.6 1765.1 746.6 1757.0 748.6 1761.5 750.6 1757.3 752.6 1762.1 754.6 1762.2 756.6 1761.0 758.6 1754.6 760.6 1755.8 762.6 1756.6 764.6 1759.5 766.6 1759.8 768.6 1755.6 770.6 1754.8 772.6 1753.0 774.6 1760.2 776.6 1759.6 778.6 1756.2 780.6 1765.9 782.6 1759.6 784.6 1753.6 786.6 1761.4 788.6 1761.8 790.6 1755.9 792.6 1759.7 794.6 1755.9 796.6 1755.4 798.6 1759.1 800.6 1754.9 802.6 1749.0 804.6 1753.6 806.6 1756.2 808.6 1754.0 810.6 1757.5 812.6 1752.9 814.6 1755.4 816.6 1762.0 818.6 1753.5 820.6 1754.8 822.6 1754.2 824.6 1760.1 826.6 1752.4 828.6 1759.0 830.6 1753.4 832.6 1753.3 834.6 1753.0 836.6 1758.5 838.6 1749.4 840.6 1757.9 842.6 1757.4 844.6 1755.7 846.6 1750.2 848.6 1748.8 850.6 1746.5 852.6 1757.3 854.6 1755.1 856.6 1753.2 858.6 1751.2 860.6 1751.6 862.6 1747.5 864.6 1751.2 866.6 1748.4 868.6 1748.9 870.6 1743.7 872.6 1751.7 874.6 1749.4 876.6 1748.6 878.6 1748.7 880.6 1744.8 882.6 1745.3 884.6 1743.1 886.6 1745.5 888.6 1739.3 890.6 1742.0 892.6 1740.7 894.6 1740.0 896.6 1737.8 898.6 1739.9 900.6 1740.2 902.6 1740.7 904.6 1744.2 906.6 1743.4 908.6 1743.0 910.6 1738.0 912.6 1738.5 914.6 1738.8 916.6 1737.1 918.6 1740.8 920.6 1736.6 922.6 1732.3 924.6 1733.8 926.6 1735.1 928.6 1733.3 930.6 1737.8 932.6 1730.3 934.6 1738.1 936.6 1731.3 938.6 1733.8 940.6 1732.3 942.6 1736.1 944.6 1730.7 946.6 1725.9 948.6 1727.7 950.6 1726.9 952.6 1735.2 954.6 1732.8 956.6 1729.3 958.6 1732.8 960.6 1725.8 962.6 1730.8 964.6 1729.4 966.6 1728.0 968.6 1720.3 970.6 1727.1 972.6 1725.2 974.6 1734.0 976.6 1728.1 978.6 1726.1 980.6 1726.5 982.6 1728.3 984.6 1728.1 986.6 1721.3 988.6 1726.9 990.6 1720.5 992.6 1720.6 994.6 1721.5 996.6 1719.2 998.6 1723.8 1000.6 1720.3 1002.6 1722.6 1004.6 1718.2 1006.6 1720.5 1008.6 1717.3 1010.6 1714.1 1012.6 1722.5 1014.6 1717.1 1016.6 1715.1 1018.6 1716.5 1020.6 1708.3 1022.6 1709.5 1024.6 1711.5 1026.6 1701.7 1028.6 1694.5 1030.6 1687.8 1032.6 1682.8 1034.6 1681.4 1036.6 1674.4 1038.6 1679.2 1040.6 1677.9 1042.6 1683.5 1044.6 1686.0 1046.6 1699.9 1048.6 1700.3 1050.6 1708.9 1052.6 1704.4 1054.6 1709.8 1056.6 1717.3 1058.6 1718.7 1060.6 1723.2 1062.6 1720.8 1064.6 1730.6 1066.6 1726.3 1068.6 1722.7 1070.6 1726.0 1072.6 1728.3 1074.6 1732.2 1076.6 1722.2 1078.6 1728.4 1080.6 1722.9 1082.6 1729.7 1084.6 1729.8 1086.6 1726.0 1088.6 1731.6 1090.6 1727.8 1092.6 1726.6 1094.6 1725.3 1096.6 1731.2 1098.6 1729.9 1100.6 1733.5 1102.6 1732.1 1104.6 1730.3 1106.6 1727.8 1108.6 1729.3 1110.6 1733.6 1112.6 1725.6 1114.6 1730.1 1116.6 1732.1 1118.6 1732.6 1120.6 1732.8 1122.6 1731.0 1124.6 1732.3 1126.6 1730.8 1128.6 1734.0 1130.6 1733.3 1132.6 1733.3 1134.6 1728.0 1136.6 1731.0 1138.6 1736.0 1140.6 1736.5 1142.6 1732.9 1144.6 1728.6 1146.6 1730.4 1148.6 1735.1 1150.6 1734.6 1152.6 1732.2 1154.6 1735.8 1156.6 1727.0 1158.6 1733.8 1160.6 1734.0 1162.6 1737.2 1164.6 1735.8 1166.6 1738.2 1168.6 1733.6 1170.6 1732.4 1172.6 1733.1 1174.6 1732.8 1176.6 1736.7 1178.6 1734.6 1180.6 1734.0 1182.6 1736.5 1184.6 1739.1 1186.6 1741.6 1188.6 1738.9 1190.6 1737.8 1192.6 1734.2 1194.6 1735.9 1196.6 1741.7 1198.6 1736.5 1200.6 1740.9 1202.6 1742.0 1204.6 1739.5 1206.6 1741.3 1208.6 1732.1 1210.6 1741.1 1212.6 1739.3 1214.6 1739.5 1216.6 1735.1 1218.6 1735.3 1220.6 1739.2 1222.6 1735.5 1224.6 1735.6 1226.6 1736.1 1228.6 1733.3 1230.6 1732.0 1232.6 1735.5 1234.6 1737.7 1236.6 1739.5 1238.6 1738.6 1240.6 1741.5 1242.6 1742.1 1244.6 1741.8 1246.6 1738.8 1248.6 1734.7 1250.6 1740.9 1252.6 1745.0 1254.6 1738.9 1256.6 1739.8 1258.6 1742.5 1260.6 1750.4 1262.6 1741.0 1264.6 1743.3 1266.6 1735.3 1268.6 1740.4 1270.6 1737.6 1272.6 1743.7 1274.6 1743.0 1276.6 1741.0 1278.6 1744.3 1280.6 1745.9 1282.6 1745.6 1284.6 1746.6 1286.6 1743.5 1288.6 1742.4 1290.6 1737.7 1292.6 1743.2 1294.6 1742.2 1296.6 1744.8 1298.6 1742.8 1300.6 1742.8 1302.6 1743.9 1304.6 1744.4 1306.6 1743.5 1308.6 1739.1 1310.6 1742.3 1312.6 1742.3 1314.6 1746.7 1316.6 1743.2 1318.6 1745.9 1320.6 1747.2 1322.6 1743.8 1324.6 1746.8 1326.6 1748.7 1328.6 1739.3 1330.6 1744.6 1332.6 1744.9 1334.6 1743.7 1336.6 1744.1 1338.6 1748.7 1340.6 1739.0 1342.6 1750.6 1344.6 1746.1 1346.6 1748.6 1348.6 1745.2 1350.6 1749.3 1352.6 1743.7 1354.6 1742.8 1356.6 1744.6 1358.6 1745.8 1360.6 1745.8 1362.6 1748.4 1364.6 1742.8 1366.6 1746.2 1368.6 1746.8 1370.6 1745.4 1372.6 1745.5 1374.6 1746.0 1376.6 1745.3 1378.6 1751.9 1380.6 1745.3 1382.6 1749.7 1384.6 1754.7 1386.6 1744.6 1388.6 1749.9 1390.6 1753.7 1392.6 1750.5 1394.6 1750.5 1396.6 1746.4 1398.6 1751.3 1400.6 1754.2 1402.6 1750.0 1404.6 1744.0 1406.6 1745.9 1408.6 1743.4 1410.6 1753.1 1412.6 1754.5 1414.6 1749.2 1416.6 1750.3 1418.6 1750.8 1420.6 1754.4 1422.6 1751.6 1424.6 1751.8 1426.6 1753.5 1428.6 1750.1 1430.6 1754.1 1432.6 1757.9 1434.6 1752.4 1436.6 1750.5 1438.6 1749.2 1440.6 1752.6 1442.6 1748.2 1444.6 1749.7 1446.6 1749.0 1448.6 1752.7 1450.6 1753.2 1452.6 1756.0 1454.6 1750.0 1456.6 1750.9 1458.6 1757.1 1460.6 1753.7 1462.6 1756.6 1464.6 1752.0 1466.6 1756.3 1468.6 1756.7 1470.6 1752.9 1472.6 1754.1 1474.6 1755.9 1476.6 1750.1 1478.6 1745.9 1480.6 1756.2 1482.6 1753.1 1484.6 1750.1 1486.6 1746.7 1488.6 1753.4 1490.6 1754.5 1492.6 1753.6 1494.6 1752.6 1496.6 1748.4 1498.6 1751.3 1500.6 1749.2 1502.6 1748.0 1504.6 1748.0 1506.6 1755.2 1508.6 1757.2 1510.6 1752.0 1512.6 1751.1 1514.6 1752.4 1516.6 1753.2 1518.6 1741.4 1520.6 1738.0 1522.6 1718.4 1524.6 1718.2 1526.6 1716.5 1528.6 1720.1 1530.6 1729.6 1532.6 1734.1 1534.6 1748.5 1536.6 1749.0 1538.6 1754.5 1540.6 1755.4 1542.6 1753.8 1544.6 1761.6 1546.6 1756.1 1548.6 1752.1 1550.6 1761.5 1552.6 1758.8 1554.6 1755.9 1556.6 1761.3 1558.6 1754.3 1560.6 1759.5 1562.6 1757.0 1564.6 1756.2 1566.6 1762.9 1568.6 1759.9 1570.6 1758.8 1572.6 1757.9 1574.6 1758.2 1576.6 1760.7 1578.6 1761.4 1580.6 1759.0 1582.6 1759.1 1584.6 1766.0 1586.6 1764.9 1588.6 1763.6 1590.6 1764.3 1592.6 1758.3 1594.6 1764.1 1596.6 1762.0 1598.6 1763.7 1600.6 1765.6 1602.6 1764.3 1604.6 1767.1 1606.6 1764.1 1608.6 1761.6 1610.6 1761.7 1612.6 1763.3 1614.6 1770.5 1616.6 1765.4 1618.6 1765.6 1620.6 1766.2 1622.6 1770.7 1624.6 1766.3 1626.6 1770.6 1628.6 1769.8 1630.6 1766.7 1632.6 1763.5 1634.6 1773.3 1636.6 1771.0 1638.6 1770.8 1640.6 1774.5 1642.6 1770.5 1644.6 1762.9 1646.6 1769.6 1648.6 1769.0 1650.6 1768.5 1652.6 1768.0 1654.6 1764.4 1656.6 1769.2 1658.6 1767.5 1660.6 1767.7 1662.6 1767.8 1664.6 1769.5 1666.6 1772.7 1668.6 1768.9 1670.6 1771.0 1672.6 1771.0 1674.6 1771.2 1676.6 1769.2 1678.6 1770.4 1680.6 1770.5 1682.6 1769.3 1684.6 1773.7 1686.6 1779.9 1688.6 1777.0 1690.6 1772.1 1692.6 1766.4 1694.6 1776.6 1696.6 1775.9 1698.6 1771.5 1700.6 1771.1 1702.6 1775.7 1704.6 1771.5 1706.6 1775.0 1708.6 1771.6 1710.6 1769.7 1712.6 1772.0 1714.6 1771.3 1716.6 1775.2 1718.6 1770.9 1720.6 1772.0 1722.6 1771.7 1724.6 1771.0 1726.6 1773.3 1728.6 1773.8 1730.6 1775.0 1732.6 1772.2 1734.6 1776.4 1736.6 1777.3 1738.6 1772.8 1740.6 1772.4 1742.6 1774.4 1744.6 1775.8 1746.6 1776.3 1748.6 1776.0 1750.6 1775.3 1752.6 1775.0 1754.6 1775.6 1756.6 1782.0 1758.6 1777.7 1760.6 1778.2 1762.6 1776.9 1764.6 1775.4 1766.6 1772.6 1768.6 1780.2 1770.6 1779.4 1772.6 1780.5 1774.6 1775.9 1776.6 1781.3 1778.6 1780.8 1780.6 1782.5 1782.6 1781.1 1784.6 1779.8 1786.6 1776.9 1788.6 1781.0 1790.6 1783.7 1792.6 1784.9 1794.6 1779.8 1796.6 1782.7 1798.6 1781.7 1800.6 1783.0 1802.6 1778.2 1804.6 1781.4 1806.6 1783.1 1808.6 1778.4 1810.6 1782.1 1812.6 1777.7 1814.6 1780.6 1816.6 1781.3 1818.6 1784.0 1820.6 1777.9 1822.6 1782.3 1824.6 1781.5 1826.6 1784.8 1828.6 1781.3 1830.6 1780.7 1832.6 1779.3 1834.6 1782.7 1836.6 1778.6 1838.6 1778.2 1840.6 1777.3 1842.6 1781.5 1844.6 1784.5 1846.6 1781.0 1848.6 1782.3 1850.6 1776.6 1852.6 1778.3 1854.6 1778.7 1856.6 1781.1 1858.6 1776.5 1860.6 1780.8 1862.6 1777.6 1864.6 1783.1 1866.6 1782.0 1868.6 1779.5 1870.6 1782.1 1872.6 1782.8 1874.6 1778.0 1876.6 1776.9 1878.6 1783.6 1880.6 1777.3 1882.6 1778.8 1884.6 1779.7 1886.6 1777.5 1888.6 1781.8 1890.6 1781.2 1892.6 1780.6 1894.6 1778.9 1896.6 1778.6 1898.6 1774.4 1900.6 1779.3 1902.6 1782.0 1904.6 1783.6 1906.6 1779.3 1908.6 1784.6 1910.6 1782.1 1912.6 1781.4 1914.6 1779.7 1916.6 1774.8 1918.6 1782.7 1920.6 1780.2 1922.6 1778.6 1924.6 1777.3 1926.6 1787.1 1928.6 1780.6 1930.6 1786.9 1932.6 1777.7 1934.6 1779.8 1936.6 1780.1 1938.6 1780.1 1940.6 1781.0 1942.6 1785.0 1944.6 1778.6 1946.6 1782.7 1948.6 1778.3 1950.6 1778.6 1952.6 1778.7 1954.6 1776.3 1956.6 1767.2 1958.6 1779.3 1960.6 1777.3 1961.6 1777.8 1962.1 1778.6 1962.6 1779.4 1963.1 1778.0 1963.6 1777.5 1964.0 1776.7 1964.5 1778.8 1965.0 1778.6 1965.4 1776.3 1965.9 1777.3 1966.3 1777.6 1966.8 1778.4 1967.2 1777.5 1967.7 1778.6 1968.1 1777.6 1968.6 1777.6 1969.2 1775.9 1969.7 1778.0 1970.2 1775.2 1970.7 1775.4 1971.2 1776.9 1971.6 1776.2 1972.1 1776.4 1972.6 1776.2 1973.0 1775.6 1973.5 1775.5 1974.0 1775.6 1974.4 1774.5 1974.8 1775.3 1975.3 1774.3 1975.7 1773.5 1976.1 1775.0 1976.5 1776.0 1977.0 1774.3 1977.4 1773.5 1977.8 1773.2 1978.2 1773.7 1978.6 1773.3 1979.0 1772.4 1979.4 1771.7 1979.8 1771.4 1980.2 1771.0 1980.6 1771.3 1981.0 1769.7 1981.4 1769.6 1981.7 1769.2 1982.1 1768.6 1982.6 1768.5 1983.1 1766.6 1983.6 1766.6 1984.0 1766.1 1984.5 1765.9 1984.9 1764.6 1985.3 1765.2 1985.8 1765.1 1986.2 1762.5 1986.6 1763.4 1987.0 1760.8 1987.4 1760.8 1987.8 1759.5 1988.2 1758.5 1988.5 1757.4 1988.9 1756.3 1989.1 1755.1 1989.3 1753.9 1989.5 1752.6 1989.6 1751.2 1989.8 1749.8 1990.0 1748.3 1990.1 1746.7 1990.3 1745.1 1990.4 1743.3 1990.6 1741.5 1990.8 1739.5 1990.9 1737.5 1991.1 1735.3 1991.3 1733.1 1991.6 1730.7 1991.8 1728.2 1992.1 1725.6 1992.4 1722.8 1992.8 1719.9 1993.1 1716.9 1993.4 1713.7 1993.7 1710.3 1994.1 1706.7 1994.4 1703.0 1994.8 1699.1 1995.2 1695.0 1995.6 1690.6 1996.0 1686.1 1996.3 1681.3 1996.7 1676.2 1997.1 1670.9 1997.5 1665.3 1997.9 1659.5 1998.3 1653.3 1998.6 1646.8 1999.0 1640.0 1999.4 1632.8 1999.7 1625.2 2000.1 1617.3 2000.5 1608.9 2000.8 1600.2 2001.2 1590.9 2001.5 1581.2 2001.8 1571.0 2002.1 1560.2 2002.3 1549.0 2002.6 1537.1 2002.8 1524.6 2003.0 1511.4 2003.2 1497.6 2003.4 1483.1 2003.6 1467.8 2003.8 1451.7 2004.0 1434.8 2004.1 1417.1 2004.2 1398.4 2004.3 1378.7 2004.4 1358.0 2004.5 1336.3 2004.6 1313.4 2004.6 1289.4 2004.8 1264.1 2004.9 1237.5 2005.1 1209.6 2005.2 1180.1 2005.3 1149.2 2005.5 1116.7 2005.6 1082.5 2005.7 1064.2 2005.8 1064.2 2005.9 1064.2 2006.1 1064.2 2006.3 1064.2 2006.4 1064.2 2006.6 1064.2 2006.6 1064.2 2006.7 1064.2 2006.7 1064.2 2006.7 1064.2 2006.7 1064.2 2006.8 1064.2 2006.8 1064.2 2006.8 1064.2 2006.8 1064.2 2006.9 1064.2 2006.9 1064.2 2006.9 1064.2 2006.9 1064.2 2007.0 1064.2 2007.0 1064.2 2007.0 1064.2 2007.0 1064.2 2007.0 1064.2 2007.1 1064.2 2007.1 1064.2 2007.1 1064.2 2007.1 1064.2 2008.9 1064.2 2008.9 1064.2 2008.9 1064.2 2008.9 1064.2 2009.0 1064.2 2009.0 1064.2 2009.0 1064.2 2009.0 1064.2 2009.0 1064.2 2009.1 1064.2 2009.1 1064.2 2009.1 1064.2 2009.1 1064.2 2009.2 1064.2 2009.2 1064.2 2009.2 1064.2 2009.2 1064.2 2009.3 1064.2 2009.3 1064.2 2009.3 1064.2 2009.3 1064.2 2009.4 1064.2 2009.4 1064.2 2009.6 1064.2 2009.7 1064.2 2009.9 1064.2 2010.1 1064.2 2010.2 1064.2 2010.3 1064.2 2010.4 1082.5 2010.5 1116.7 2010.6 1149.2 2010.7 1180.1 2010.8 1209.6 2010.9 1237.5 2011.1 1264.1 2011.2 1289.4 2011.2 1313.4 2011.3 1336.3 2011.4 1358.0 2011.4 1378.7 2011.5 1398.4 2011.6 1417.1 2011.7 1434.8 2011.9 1451.7 2012.0 1467.8 2012.2 1483.1 2012.3 1497.6 2012.5 1511.4 2012.7 1524.6 2012.9 1537.1 2013.1 1549.0 2013.3 1560.2 2013.5 1571.0 2013.7 1581.2 2014.0 1590.9 2014.3 1600.2 2014.5 1608.9 2014.8 1617.3 2015.1 1625.2 2015.4 1632.8 2015.6 1640.0 2015.9 1646.8 2016.2 1653.3 2016.5 1659.5 2016.7 1665.3 2017.0 1670.9 2017.3 1676.2 2017.6 1681.3 2017.8 1686.1 2018.1 1690.6 2018.4 1695.0 2018.6 1699.1 2018.8 1703.0 2019.1 1706.7 2019.3 1710.3 2019.5 1713.7 2019.7 1716.9 2019.9 1719.9 2020.1 1722.8 2020.3 1725.6 2020.4 1728.2 2020.6 1730.7 2020.7 1733.1 2020.8 1735.3 2020.9 1737.5 2020.9 1739.5 2021.0 1741.5 2021.0 1743.3 2021.1 1745.1 2021.1 1746.7 2021.2 1748.3 2021.4 1749.8 2021.9 1751.2 2022.4 1752.6 2022.9 1753.9 2023.4 1755.1 2023.9 1756.3 2024.4 1757.4 2025.0 1758.5 2025.6 1759.2 2026.2 1760.3 2026.8 1761.1 2027.4 1760.9 2028.1 1761.4 2028.8 1763.4 2029.5 1764.3 2030.2 1765.7 2031.1 1767.4 2032.0 1766.1 2032.9 1766.1 2033.9 1767.3 2034.9 1767.5 2035.9 1768.4 2037.0 1769.1 2038.1 1769.9 2039.2 1770.0 2040.2 1771.9 2041.3 1772.1 2042.5 1770.8 2043.7 1772.6 2044.9 1771.6 2046.1 1773.0 2047.4 1772.8 2048.4 1772.2 2049.2 1773.9 2050.0 1774.0 2050.8 1775.2 2051.6 1773.7 2052.4 1772.8 2053.2 1775.3 2054.1 1775.8 2054.9 1774.8 2055.8 1774.5 2056.7 1777.0 2057.6 1772.9 2058.5 1775.9 2059.5 1776.9 2060.5 1775.7 2061.4 1776.2 2062.4 1776.6 2063.5 1777.9 2064.5 1776.6 2065.6 1777.0 2066.6 1776.3 2067.7 1776.9 2068.0 1777.7 2068.0 1776.5 2068.0 1777.5 2068.0 1775.4 2068.0 1776.7 2068.0 1777.1 2068.0 1778.4 2068.0 1777.1 2068.0 1777.0 2068.0 1777.9 2068.0 1777.7 2068.0 1776.7 2068.0 1778.1 2068.0 1778.2" fill="none"/>
<path d="M138.6 1876.3L140.6 1876.2 142.6 1876.0 144.6 1875.8 146.6 1875.6 148.6 1875.4 150.6 1875.3 152.6 1875.1 154.6 1874.9 156.6 1874.7 158.6 1874.6 160.6 1874.4 162.6 1874.3 164.6 1874.1 166.6 1874.0 168.6 1873.8 170.6 1873.7 172.6 1873.5 174.6 1873.4 176.6 1873.3 178.6 1873.2 180.6 1873.0 182.6 1872.9 184.6 1872.8 186.6 1872.7 188.6 1872.6 190.6 1872.5 192.6 1872.5 194.6 1872.4 196.6 1872.3 198.6 1872.3 200.6 1872.2 202.6 1872.1 204.6 1872.1 206.6 1872.1 208.6 1872.0 210.6 1872.0 212.6 1872.0 214.6 1872.0 216.6 1872.0 218.6 1872.0 220.6 1872.0 222.6 1872.0 224.6 1872.1 226.6 1872.1 228.6 1872.1 230.6 1872.2 232.6 1872.2 234.6 1872.3 236.6 1872.3 238.6 1872.4 240.6 1872.4 242.6 1872.5 244.6 1872.6 246.6 1872.6 248.6 1872.7 250.6 1872.8 252.6 1872.9 254.6 1872.9 256.6 1873.0 258.6 1873.1 260.6 1873.1 262.6 1873.2 264.6 1873.3 266.6 1873.4 268.6 1873.4 270.6 1873.5 272.6 1873.6 274.6 1873.6 276.6 1873.7 278.6 1873.8 280.6 1873.8 282.6 1873.9 284.6 1873.9 286.6 1873.9 288.6 1874.0 290.6 1874.0 292.6 1874.1 294.6 1874.1 296.6 1874.1 298.6 1874.1 300.6 1874.1 302.6 1874.1 304.6 1874.1 306.6 1874.1 308.6 1874.1 310.6 1874.1 312.6 1874.1 314.6 1874.1 316.6 1874.1 318.6 1874.1 320.6 1874.1 322.6 1874.1 324.6 1874.1 326.6 1874.1 328.6 1874.1 330.6 1874.1 332.6 1874.1 334.6 1874.1 336.6 1874.1 338.6 1874.1 340.6 1874.1 342.6 1874.1 344.6 1874.1 346.6 1874.1 348.6 1874.1 350.6 1874.1 352.6 1874.1 354.6 1874.1 356.6 1874.1 358.6 1874.1 360.6 1874.1 362.6 1874.1 364.6 1874.1 366.6 1874.1 368.6 1874.1 370.6 1874.1 372.6 1874.1 374.6 1874.1 376.6 1874.1 378.6 1874.1 380.6 1874.1 382.6 1874.1 384.6 1874.1 386.6 1874.1 388.6 1874.1 390.6 1874.1 392.6 1874.1 394.6 1874.0 396.6 1874.0 398.6 1874.0 400.6 1873.9 402.6 1873.9 404.6 1873.8 406.6 1873.8 408.6 1873.7 410.6 1873.7 412.6 1873.6 414.6 1873.6 416.6 1873.5 418.6 1873.4 420.6 1873.3 422.6 1873.3 424.6 1873.2 426.6 1873.1 428.6 1873.1 430.6 1873.0 432.6 1872.9 434.6 1872.8 436.6 1872.8 438.6 1872.7 440.6 1872.6 442.6 1872.5 444.6 1872.5 446.6 1872.4 448.6 1872.4 450.6 1872.3 452.6 1872.3 454.6 1872.2 456.6 1872.2 458.6 1872.1 460.6 1872.1 462.6 1872.1 464.6 1872.0 466.6 1872.0 468.6 1872.0 470.6 1872.0 472.6 1872.0 474.6 1872.0 476.6 1872.0 478.6 1872.1 480.6 1872.1 482.6 1872.2 484.6 1872.2 486.6 1872.3 488.6 1872.4 490.6 1872.4 492.6 1872.5 494.6 1872.6 496.6 1872.7 498.6 1872.7 500.6 1872.8 502.6 1872.9 504.6 1873.0 506.6 1873.1 508.6 1873.1 510.6 1873.2 512.6 1873.3 514.6 1873.3 516.6 1873.4 518.6 1873.4 520.6 1873.5 522.6 1873.5 524.6 1873.5 526.6 1873.5 528.6 1873.5 530.6 1873.5 532.6 1873.5 534.6 1873.5 536.6 1873.4 538.6 1873.4 540.6 1873.4 542.6 1873.4 544.6 1873.3 546.6 1873.3 548.6 1873.2 550.6 1873.2 552.6 1873.1 554.6 1873.1 556.6 1873.0 558.6 1872.9 560.6 1872.9 562.6 1872.8 564.6 1872.7 566.6 1872.7 568.6 1872.6 570.6 1872.5 572.6 1872.5 574.6 1872.4 576.6 1872.3 578.6 1872.2 580.6 1872.2 582.6 1872.1 584.6 1872.0 586.6 1871.9 588.6 1871.9 590.6 1871.8 592.6 1871.7 594.6 1871.6 596.6 1871.5 598.6 1871.4 600.6 1871.3 602.6 1871.2 604.6 1871.0 606.6 1870.9 608.6 1870.8 610.6 1870.7 612.6 1870.5 614.6 1870.4 616.6 1870.2 618.6 1870.1 620.6 1869.9 622.6 1869.8 624.6 1869.6 626.6 1869.5 628.6 1869.3 630.6 1869.2 632.6 1869.0 634.6 1868.8 636.6 1868.7 638.6 1868.5 640.6 1868.3 642.6 1868.1 644.6 1868.0 646.6 1867.8 648.6 1867.6 650.6 1867.4 652.6 1867.2 654.6 1867.0 656.6 1866.8 658.6 1866.7 660.6 1866.5 662.6 1866.3 664.6 1866.1 666.6 1865.9 668.6 1865.7 670.6 1865.5 672.6 1865.3 674.6 1865.1 676.6 1864.9 678.6 1864.7 680.6 1864.5 682.6 1864.3 684.6 1864.1 686.6 1863.8 688.6 1863.6 690.6 1863.4 692.6 1863.1 694.6 1862.9 696.6 1862.6 698.6 1862.4 700.6 1862.1 702.6 1861.8 704.6 1861.6 706.6 1861.3 708.6 1861.0 710.6 1860.8 712.6 1860.5 714.6 1860.2 716.6 1860.0 718.6 1859.7 720.6 1859.4 722.6 1859.1 724.6 1858.8 726.6 1858.6 728.6 1858.3 730.6 1858.0 732.6 1857.7 734.6 1857.4 736.6 1857.1 738.6 1856.9 740.6 1856.6 742.6 1856.3 744.6 1856.0 746.6 1855.7 748.6 1855.5 750.6 1855.2 752.6 1854.9 754.6 1854.6 756.6 1854.4 758.6 1854.1 760.6 1853.8 762.6 1853.6 764.6 1853.3 766.6 1853.0 768.6 1852.8 770.6 1852.5 772.6 1852.2 774.6 1852.0 776.6 1851.7 778.6 1851.4 780.6 1851.2 782.6 1850.9 784.6 1850.6 786.6 1850.3 788.6 1850.0 790.6 1849.7 792.6 1849.4 794.6 1849.1 796.6 1848.8 798.6 1848.5 800.6 1848.2 802.6 1847.8 804.6 1847.5 806.6 1847.2 808.6 1846.8 810.6 1846.5 812.6 1846.1 814.6 1845.8 816.6 1845.4 818.6 1845.0 820.6 1844.6 822.6 1844.3 824.6 1843.9 826.6 1843.4 828.6 1843.0 830.6 1842.6 832.6 1842.2 834.6 1841.7 836.6 1841.2 838.6 1840.8 840.6 1840.3 842.6 1839.8 844.6 1839.2 846.6 1838.7 848.6 1838.1 850.6 1837.4 852.6 1836.8 854.6 1836.1 856.6 1835.5 858.6 1834.8 860.6 1834.0 862.6 1833.3 864.6 1832.5 866.6 1831.8 868.6 1831.0 870.6 1830.2 872.6 1829.4 874.6 1828.6 876.6 1827.7 878.6 1826.9 880.6 1826.1 882.6 1825.2 884.6 1824.4 886.6 1823.5 888.6 1822.7 890.6 1821.8 892.6 1821.0 894.6 1820.2 896.6 1819.3 898.6 1818.5 900.6 1817.7 902.6 1816.8 904.6 1816.0 906.6 1815.1 908.6 1814.2 910.6 1813.3 912.6 1812.4 914.6 1811.5 916.6 1810.6 918.6 1809.7 920.6 1808.8 922.6 1808.0 924.6 1807.1 926.6 1806.3 928.6 1805.4 930.6 1804.6 932.6 1803.7 934.6 1802.8 936.6 1802.0 938.6 1801.1 940.6 1800.3 942.6 1799.4 944.6 1798.6 946.6 1797.7 948.6 1796.9 950.6 1796.1 952.6 1795.3 954.6 1794.5 956.6 1793.7 958.6 1793.0 960.6 1792.2 962.6 1791.5 964.6 1790.8 966.6 1790.1 968.6 1789.4 970.6 1788.8 972.6 1788.1 974.6 1787.4 976.6 1786.8 978.6 1786.1 980.6 1785.5 982.6 1784.9 984.6 1784.2 986.6 1783.6 988.6 1783.0 990.6 1782.4 992.6 1781.8 994.6 1781.3 996.6 1780.7 998.6 1780.2 1000.6 1779.7 1002.6 1779.1 1004.6 1778.7 1006.6 1778.2 1008.6 1777.7 1010.6 1777.2 1012.6 1776.7 1014.6 1776.2 1016.6 1775.7 1018.6 1775.1 1020.6 1774.6 1022.6 1774.1 1024.6 1773.5 1026.6 1772.7 1028.6 1771.7 1030.6 1770.5 1032.6 1769.0 1034.6 1767.8 1036.6 1767.2 1038.6 1767.7 1040.6 1769.3 1042.6 1771.6 1044.6 1774.0 1046.6 1776.3 1048.6 1778.2 1050.6 1779.6 1052.6 1780.7 1054.6 1781.8 1056.6 1782.8 1058.6 1783.8 1060.6 1784.9 1062.6 1785.9 1064.6 1786.9 1066.6 1787.9 1068.6 1788.9 1070.6 1789.9 1072.6 1790.8 1074.6 1791.8 1076.6 1792.7 1078.6 1793.6 1080.6 1794.5 1082.6 1795.3 1084.6 1796.1 1086.6 1796.9 1088.6 1797.7 1090.6 1798.4 1092.6 1799.1 1094.6 1799.7 1096.6 1800.3 1098.6 1800.9 1100.6 1801.5 1102.6 1802.1 1104.6 1802.6 1106.6 1803.1 1108.6 1803.7 1110.6 1804.2 1112.6 1804.7 1114.6 1805.1 1116.6 1805.6 1118.6 1806.1 1120.6 1806.5 1122.6 1807.0 1124.6 1807.4 1126.6 1807.9 1128.6 1808.3 1130.6 1808.7 1132.6 1809.2 1134.6 1809.6 1136.6 1810.1 1138.6 1810.5 1140.6 1811.0 1142.6 1811.4 1144.6 1811.9 1146.6 1812.4 1148.6 1812.8 1150.6 1813.3 1152.6 1813.8 1154.6 1814.2 1156.6 1814.7 1158.6 1815.1 1160.6 1815.5 1162.6 1815.9 1164.6 1816.3 1166.6 1816.7 1168.6 1817.0 1170.6 1817.3 1172.6 1817.6 1174.6 1817.9 1176.6 1818.1 1178.6 1818.3 1180.6 1818.5 1182.6 1818.6 1184.6 1818.8 1186.6 1818.9 1188.6 1819.0 1190.6 1819.1 1192.6 1819.2 1194.6 1819.3 1196.6 1819.4 1198.6 1819.5 1200.6 1819.6 1202.6 1819.6 1204.6 1819.7 1206.6 1819.8 1208.6 1819.9 1210.6 1820.0 1212.6 1820.1 1214.6 1820.2 1216.6 1820.3 1218.6 1820.4 1220.6 1820.6 1222.6 1820.7 1224.6 1820.9 1226.6 1821.0 1228.6 1821.2 1230.6 1821.4 1232.6 1821.6 1234.6 1821.8 1236.6 1822.1 1238.6 1822.3 1240.6 1822.6 1242.6 1822.8 1244.6 1823.0 1246.6 1823.3 1248.6 1823.5 1250.6 1823.8 1252.6 1824.0 1254.6 1824.3 1256.6 1824.5 1258.6 1824.7 1260.6 1824.9 1262.6 1825.1 1264.6 1825.3 1266.6 1825.5 1268.6 1825.8 1270.6 1826.0 1272.6 1826.2 1274.6 1826.4 1276.6 1826.6 1278.6 1826.8 1280.6 1827.0 1282.6 1827.2 1284.6 1827.4 1286.6 1827.6 1288.6 1827.7 1290.6 1827.9 1292.6 1828.1 1294.6 1828.3 1296.6 1828.5 1298.6 1828.7 1300.6 1828.9 1302.6 1829.1 1304.6 1829.3 1306.6 1829.5 1308.6 1829.8 1310.6 1830.0 1312.6 1830.2 1314.6 1830.4 1316.6 1830.6 1318.6 1830.9 1320.6 1831.1 1322.6 1831.3 1324.6 1831.5 1326.6 1831.7 1328.6 1831.9 1330.6 1832.1 1332.6 1832.3 1334.6 1832.5 1336.6 1832.7 1338.6 1832.9 1340.6 1833.1 1342.6 1833.2 1344.6 1833.4 1346.6 1833.5 1348.6 1833.6 1350.6 1833.7 1352.6 1833.9 1354.6 1834.0 1356.6 1834.1 1358.6 1834.2 1360.6 1834.3 1362.6 1834.4 1364.6 1834.5 1366.6 1834.6 1368.6 1834.7 1370.6 1834.8 1372.6 1834.9 1374.6 1835.0 1376.6 1835.1 1378.6 1835.1 1380.6 1835.2 1382.6 1835.3 1384.6 1835.4 1386.6 1835.5 1388.6 1835.6 1390.6 1835.7 1392.6 1835.8 1394.6 1835.9 1396.6 1836.0 1398.6 1836.1 1400.6 1836.2 1402.6 1836.3 1404.6 1836.3 1406.6 1836.4 1408.6 1836.5 1410.6 1836.6 1412.6 1836.7 1414.6 1836.8 1416.6 1836.9 1418.6 1837.0 1420.6 1837.1 1422.6 1837.2 1424.6 1837.3 1426.6 1837.4 1428.6 1837.5 1430.6 1837.7 1432.6 1837.8 1434.6 1838.0 1436.6 1838.1 1438.6 1838.3 1440.6 1838.5 1442.6 1838.6 1444.6 1838.8 1446.6 1839.0 1448.6 1839.2 1450.6 1839.4 1452.6 1839.6 1454.6 1839.9 1456.6 1840.1 1458.6 1840.3 1460.6 1840.5 1462.6 1840.8 1464.6 1841.0 1466.6 1841.3 1468.6 1841.5 1470.6 1841.7 1472.6 1842.0 1474.6 1842.2 1476.6 1842.5 1478.6 1842.7 1480.6 1843.0 1482.6 1843.3 1484.6 1843.6 1486.6 1843.9 1488.6 1844.2 1490.6 1844.5 1492.6 1844.8 1494.6 1845.0 1496.6 1845.3 1498.6 1845.6 1500.6 1845.9 1502.6 1846.1 1504.6 1846.4 1506.6 1846.6 1508.6 1846.8 1510.6 1846.9 1512.6 1846.6 1514.6 1845.5 1516.6 1842.5 1518.6 1836.6 1520.6 1827.6 1522.6 1817.4 1524.6 1809.8 1526.6 1808.4 1528.6 1813.3 1530.6 1822.3 1532.6 1832.0 1534.6 1839.8 1536.6 1844.9 1538.6 1847.8 1540.6 1849.1 1542.6 1849.9 1544.6 1850.3 1546.6 1850.9 1548.6 1851.7 1550.6 1852.8 1552.6 1853.9 1554.6 1855.1 1556.6 1856.1 1558.6 1856.8 1560.6 1857.3 1562.6 1857.8 1564.6 1858.2 1566.6 1858.6 1568.6 1859.0 1570.6 1859.4 1572.6 1859.7 1574.6 1860.0 1576.6 1860.3 1578.6 1860.6 1580.6 1860.9 1582.6 1861.1 1584.6 1861.4 1586.6 1861.6 1588.6 1861.9 1590.6 1862.1 1592.6 1862.3 1594.6 1862.6 1596.6 1862.8 1598.6 1863.1 1600.6 1863.3 1602.6 1863.6 1604.6 1863.8 1606.6 1864.1 1608.6 1864.3 1610.6 1864.5 1612.6 1864.8 1614.6 1865.0 1616.6 1865.2 1618.6 1865.5 1620.6 1865.7 1622.6 1865.9 1624.6 1866.1 1626.6 1866.4 1628.6 1866.6 1630.6 1866.8 1632.6 1867.0 1634.6 1867.2 1636.6 1867.4 1638.6 1867.6 1640.6 1867.8 1642.6 1868.0 1644.6 1868.3 1646.6 1868.5 1648.6 1868.7 1650.6 1868.9 1652.6 1869.1 1654.6 1869.3 1656.6 1869.5 1658.6 1869.6 1660.6 1869.8 1662.6 1870.0 1664.6 1870.2 1666.6 1870.4 1668.6 1870.5 1670.6 1870.7 1672.6 1870.9 1674.6 1871.1 1676.6 1871.2 1678.6 1871.4 1680.6 1871.6 1682.6 1871.9 1684.6 1872.1 1686.6 1872.3 1688.6 1872.6 1690.6 1872.9 1692.6 1873.2 1694.6 1873.5 1696.6 1873.8 1698.6 1874.1 1700.6 1874.5 1702.6 1874.8 1704.6 1875.1 1706.6 1875.5 1708.6 1875.8 1710.6 1876.1 1712.6 1876.4 1714.6 1876.8 1716.6 1877.1 1718.6 1877.4 1720.6 1877.6 1722.6 1877.9 1724.6 1878.2 1726.6 1878.4 1728.6 1878.7 1730.6 1878.9 1732.6 1879.1 1734.6 1879.4 1736.6 1879.6 1738.6 1879.8 1740.6 1880.0 1742.6 1880.2 1744.6 1880.5 1746.6 1880.7 1748.6 1880.9 1750.6 1881.1 1752.6 1881.3 1754.6 1881.5 1756.6 1881.6 1758.6 1881.8 1760.6 1882.0 1762.6 1882.1 1764.6 1882.3 1766.6 1882.4 1768.6 1882.6 1770.6 1882.7 1772.6 1882.8 1774.6 1883.0 1776.6 1883.1 1778.6 1883.2 1780.6 1883.3 1782.6 1883.4 1784.6 1883.5 1786.6 1883.6 1788.6 1883.7 1790.6 1883.8 1792.6 1883.9 1794.6 1884.0 1796.6 1884.1 1798.6 1884.2 1800.6 1884.2 1802.6 1884.3 1804.6 1884.4 1806.6 1884.5 1808.6 1884.6 1810.6 1884.7 1812.6 1884.8 1814.6 1884.9 1816.6 1885.1 1818.6 1885.2 1820.6 1885.3 1822.6 1885.4 1824.6 1885.6 1826.6 1885.7 1828.6 1885.8 1830.6 1886.0 1832.6 1886.1 1834.6 1886.2 1836.6 1886.3 1838.6 1886.4 1840.6 1886.5 1842.6 1886.6 1844.6 1886.7 1846.6 1886.8 1848.6 1886.8 1850.6 1886.8 1852.6 1886.8 1854.6 1886.8 1856.6 1886.8 1858.6 1886.8 1860.6 1886.8 1862.6 1886.8 1864.6 1886.8 1866.6 1886.8 1868.6 1886.8 1870.6 1886.8 1872.6 1886.8 1874.6 1886.8 1876.6 1886.8 1878.6 1886.8 1880.6 1886.8 1882.6 1886.8 1884.6 1886.8 1886.6 1886.8 1888.6 1886.8 1890.6 1886.8 1892.6 1886.8 1894.6 1886.8 1896.6 1886.8 1898.6 1886.8 1900.6 1886.8 1902.6 1886.8 1904.6 1886.8 1906.6 1886.8 1908.6 1886.8 1910.6 1886.8 1912.6 1886.8 1914.6 1886.8 1916.6 1886.8 1918.6 1886.7 1920.6 1886.7 1922.6 1886.7 1924.6 1886.7 1926.6 1886.7 1928.6 1886.7 1930.6 1886.6 1932.6 1886.6 1934.6 1886.6 1936.6 1886.6 1938.6 1886.6 1940.6 1886.5 1942.6 1886.5 1944.6 1886.4 1946.6 1886.4 1948.6 1886.3 1950.6 1886.3 1952.6 1886.2 1954.6 1886.1 1956.6 1886.0 1958.6 1886.0 1960.6 1885.9 1961.6 1886.6 1962.1 1886.5 1962.6 1886.5 1963.1 1886.4 1963.6 1886.3 1964.0 1886.2 1964.5 1886.1 1965.0 1886.1 1965.4 1886.0 1965.9 1885.9 1966.3 1885.8 1966.8 1885.7 1967.2 1885.6 1967.7 1885.5 1968.1 1885.4 1968.6 1885.3 1969.2 1885.1 1969.7 1885.0 1970.2 1884.9 1970.7 1884.7 1971.2 1884.6 1971.6 1884.4 1972.1 1884.3 1972.6 1884.1 1973.0 1884.0 1973.5 1883.8 1974.0 1883.6 1974.4 1883.4 1974.8 1883.2 1975.3 1883.0 1975.7 1882.8 1976.1 1882.5 1976.5 1882.3 1977.0 1882.0 1977.4 1881.7 1977.8 1881.5 1978.2 1881.2 1978.6 1880.8 1979.0 1880.5 1979.4 1880.2 1979.8 1879.8 1980.2 1879.4 1980.6 1879.0 1981.0 1878.6 1981.4 1878.1 1981.7 1877.6 1982.1 1877.1 1982.6 1876.6 1983.1 1876.1 1983.6 1875.5 1984.0 1874.9 1984.5 1874.2 1984.9 1873.6 1985.3 1872.9 1985.8 1872.1 1986.2 1871.3 1986.6 1870.5 1987.0 1869.6 1987.4 1868.7 1987.8 1867.8 1988.2 1867.5 1988.5 1866.4 1988.9 1865.3 1989.1 1864.1 1989.3 1862.9 1989.5 1861.6 1989.6 1860.2 1989.8 1858.8 1990.0 1857.3 1990.1 1855.7 1990.3 1854.1 1990.4 1852.3 1990.6 1850.5 1990.8 1848.5 1990.9 1846.5 1991.1 1844.3 1991.3 1842.1 1991.5 1839.7 1991.7 1837.2 1991.9 1834.6 1992.2 1831.8 1992.4 1828.9 1992.7 1825.9 1992.9 1822.7 1993.2 1819.3 1993.4 1815.7 1993.7 1812.0 1994.0 1808.1 1994.3 1804.0 1994.5 1799.6 1994.8 1795.1 1995.1 1790.3 1995.4 1785.2 1995.7 1779.9 1995.9 1774.3 1996.2 1768.5 1996.5 1762.3 1996.8 1755.8 1997.0 1749.0 1997.3 1741.8 1997.6 1734.2 1997.9 1726.3 1998.1 1717.9 1998.4 1709.2 1998.7 1699.9 1998.9 1690.2 1999.2 1680.0 1999.4 1669.2 1999.6 1658.0 1999.8 1646.1 2000.0 1633.6 2000.2 1620.4 2000.4 1606.6 2000.6 1592.1 2000.8 1576.8 2001.0 1560.7 2001.2 1543.8 2001.4 1526.1 2001.5 1507.4 2001.7 1487.7 2001.8 1467.0 2002.0 1445.3 2002.1 1422.4 2002.2 1398.4 2002.5 1373.1 2002.7 1346.5 2003.0 1318.6 2003.2 1289.1 2003.5 1258.2 2003.7 1225.7 2003.9 1191.5 2004.1 1155.5 2004.3 1117.7 2004.5 1077.9 2004.8 1064.2 2005.1 1064.2 2005.3 1064.2 2005.6 1064.2 2005.6 1064.2 2005.7 1064.2 2005.7 1064.2 2005.8 1064.2 2005.8 1064.2 2005.9 1064.2 2005.9 1064.2 2006.0 1064.2 2006.0 1064.2 2006.1 1064.2 2006.1 1064.2 2006.1 1064.2 2006.2 1064.2 2006.2 1064.2 2006.3 1064.2 2006.3 1064.2 2006.3 1064.2 2006.4 1064.2 2006.4 1064.2 2006.4 1064.2 2006.5 1064.2 2006.5 1064.2 2009.5 1064.2 2009.5 1064.2 2009.6 1064.2 2009.6 1064.2 2009.6 1064.2 2009.7 1064.2 2009.7 1064.2 2009.7 1064.2 2009.8 1064.2 2009.8 1064.2 2009.9 1064.2 2009.9 1064.2 2009.9 1064.2 2010.0 1064.2 2010.0 1064.2 2010.1 1064.2 2010.1 1064.2 2010.2 1064.2 2010.2 1064.2 2010.3 1064.2 2010.3 1064.2 2010.4 1064.2 2010.4 1064.2 2010.7 1064.2 2010.9 1064.2 2011.2 1064.2 2011.5 1077.9 2011.7 1117.7 2011.9 1155.5 2012.1 1191.5 2012.2 1225.7 2012.4 1258.2 2012.6 1289.1 2012.8 1318.6 2013.0 1346.5 2013.3 1373.1 2013.4 1398.4 2013.6 1422.4 2013.7 1445.3 2013.8 1467.0 2013.9 1487.7 2014.0 1507.4 2014.2 1526.1 2014.3 1543.8 2014.5 1560.7 2014.6 1576.8 2014.8 1592.1 2014.9 1606.6 2015.1 1620.4 2015.2 1633.6 2015.3 1646.1 2015.5 1658.0 2015.6 1669.2 2015.8 1680.0 2016.0 1690.2 2016.2 1699.9 2016.4 1709.2 2016.6 1717.9 2016.8 1726.3 2017.0 1734.2 2017.2 1741.8 2017.3 1749.0 2017.5 1755.8 2017.7 1762.3 2017.9 1768.5 2018.1 1774.3 2018.2 1779.9 2018.4 1785.2 2018.6 1790.3 2018.8 1795.1 2018.9 1799.6 2019.1 1804.0 2019.3 1808.1 2019.4 1812.0 2019.6 1815.7 2019.7 1819.3 2019.9 1822.7 2020.0 1825.9 2020.1 1828.9 2020.3 1831.8 2020.4 1834.6 2020.5 1837.2 2020.6 1839.7 2020.7 1842.1 2020.8 1844.3 2020.9 1846.5 2020.9 1848.5 2021.0 1850.5 2021.0 1852.3 2021.1 1854.1 2021.1 1855.7 2021.2 1857.3 2021.4 1858.8 2021.9 1860.2 2022.4 1861.6 2022.9 1862.9 2023.4 1864.1 2023.9 1865.3 2024.4 1866.4 2025.0 1867.5 2025.6 1867.8 2026.2 1868.7 2026.8 1869.6 2027.4 1870.5 2028.1 1871.3 2028.8 1872.1 2029.5 1872.9 2030.2 1873.6 2031.1 1874.2 2032.0 1874.9 2032.9 1875.5 2033.9 1876.1 2034.9 1876.6 2035.9 1877.1 2037.0 1877.6 2038.1 1878.1 2039.2 1878.6 2040.2 1879.0 2041.3 1879.4 2042.5 1879.8 2043.7 1880.2 2044.9 1880.5 2046.1 1880.8 2047.4 1881.2 2048.4 1881.5 2049.2 1881.7 2050.0 1882.0 2050.8 1882.3 2051.6 1882.5 2052.4 1882.8 2053.2 1883.0 2054.1 1883.2 2054.9 1883.4 2055.8 1883.6 2056.7 1883.8 2057.6 1883.9 2058.5 1884.1 2059.5 1884.3 2060.5 1884.4 2061.4 1884.5 2062.4 1884.7 2063.5 1884.8 2064.5 1884.9 2065.6 1885.0 2066.6 1885.2 2067.7 1885.3 2068.0 1885.4 2068.0 1885.5 2068.0 1885.5 2068.0 1885.6 2068.0 1885.7 2068.0 1885.8 2068.0 1885.9 2068.0 1885.9 2068.0 1886.0 2068.0 1886.1 2068.0 1886.1 2068.0 1886.2 2068.0 1886.2 2068.0 1886.3 2068.0 1887.7 2068.0 1887.7 2068.0 1887.6 2068.0 1887.6 2068.0 1887.5 2068.0 1887.4 2068.0 1887.4 2068.0 1887.3 2068.0 1887.2 2068.0 1887.1 2068.0 1887.1 2068.0 1887.0 2068.0 1886.9 2068.0 1886.8 2067.7 1886.7 2066.6 1886.6 2065.6 1886.5 2064.5 1886.4 2063.5 1886.2 2062.4 1886.1 2061.4 1886.0 2060.5 1885.8 2059.5 1885.7 2058.5 1885.5 2057.6 1885.4 2056.7 1885.2 2055.8 1885.0 2054.9 1884.8 2054.1 1884.6 2053.2 1884.4 2052.4 1884.2 2051.6 1884.0 2050.8 1883.7 2050.0 1883.5 2049.2 1883.2 2048.4 1882.9 2047.4 1882.6 2046.1 1882.3 2044.9 1881.9 2043.7 1881.6 2042.5 1881.2 2041.3 1880.8 2040.2 1880.4 2039.2 1880.0 2038.1 1879.6 2037.0 1879.1 2035.9 1878.6 2034.9 1878.1 2033.9 1877.5 2032.9 1876.9 2032.0 1876.3 2031.1 1875.7 2030.2 1875.0 2029.5 1874.3 2028.8 1873.6 2028.1 1872.8 2027.4 1871.9 2026.8 1871.1 2026.2 1870.2 2025.6 1869.2 2025.0 1867.5 2024.4 1866.4 2023.9 1865.3 2023.4 1864.1 2022.9 1862.9 2022.4 1861.6 2021.9 1860.2 2021.4 1858.8 2021.2 1857.3 2021.1 1855.7 2021.1 1854.1 2021.0 1852.3 2021.0 1850.5 2020.9 1848.5 2020.9 1846.5 2020.8 1844.3 2020.7 1842.1 2020.6 1839.7 2020.5 1837.2 2020.4 1834.6 2020.3 1831.8 2020.1 1828.9 2020.0 1825.9 2019.9 1822.7 2019.7 1819.3 2019.6 1815.7 2019.4 1812.0 2019.3 1808.1 2019.1 1804.0 2018.9 1799.6 2018.8 1795.1 2018.6 1790.3 2018.4 1785.2 2018.2 1779.9 2018.1 1774.3 2017.9 1768.5 2017.7 1762.3 2017.5 1755.8 2017.3 1749.0 2017.2 1741.8 2017.0 1734.2 2016.8 1726.3 2016.6 1717.9 2016.4 1709.2 2016.2 1699.9 2016.0 1690.2 2015.8 1680.0 2015.6 1669.2 2015.5 1658.0 2015.3 1646.1 2015.2 1633.6 2015.1 1620.4 2014.9 1606.6 2014.8 1592.1 2014.6 1576.8 2014.5 1560.7 2014.3 1543.8 2014.2 1526.1 2014.0 1507.4 2013.9 1487.7 2013.8 1467.0 2013.7 1445.3 2013.6 1422.4 2013.4 1398.4 2013.3 1373.1 2013.0 1346.5 2012.8 1318.6 2012.6 1289.1 2012.4 1258.2 2012.2 1225.7 2012.1 1191.5 2011.9 1155.5 2011.7 1117.7 2011.5 1077.9 2011.2 1064.2 2010.9 1064.2 2010.7 1064.2 2010.4 1064.2 2010.4 1064.2 2010.3 1064.2 2010.3 1064.2 2010.2 1064.2 2010.2 1064.2 2010.1 1064.2 2010.1 1064.2 2010.0 1064.2 2010.0 1064.2 2009.9 1064.2 2009.9 1064.2 2009.9 1064.2 2009.8 1064.2 2009.8 1064.2 2009.7 1064.2 2009.7 1064.2 2009.7 1064.2 2009.6 1064.2 2009.6 1064.2 2009.6 1064.2 2009.5 1064.2 2009.5 1064.2 2006.5 1064.2 2006.5 1064.2 2006.4 1064.2 2006.4 1064.2 2006.4 1064.2 2006.3 1064.2 2006.3 1064.2 2006.3 1064.2 2006.2 1064.2 2006.2 1064.2 2006.1 1064.2 2006.1 1064.2 2006.1 1064.2 2006.0 1064.2 2006.0 1064.2 2005.9 1064.2 2005.9 1064.2 2005.8 1064.2 2005.8 1064.2 2005.7 1064.2 2005.7 1064.2 2005.6 1064.2 2005.6 1064.2 2005.3 1064.2 2005.1 1064.2 2004.8 1064.2 2004.5 1077.9 2004.3 1117.7 2004.1 1155.5 2003.9 1191.5 2003.7 1225.7 2003.5 1258.2 2003.2 1289.1 2003.0 1318.6 2002.7 1346.5 2002.5 1373.1 2002.2 1398.4 2002.1 1422.4 2002.0 1445.3 2001.8 1467.0 2001.7 1487.7 2001.5 1507.4 2001.4 1526.1 2001.2 1543.8 2001.0 1560.7 2000.8 1576.8 2000.6 1592.1 2000.4 1606.6 2000.2 1620.4 2000.0 1633.6 1999.8 1646.1 1999.6 1658.0 1999.4 1669.2 1999.2 1680.0 1998.9 1690.2 1998.7 1699.9 1998.4 1709.2 1998.1 1717.9 1997.9 1726.3 1997.6 1734.2 1997.3 1741.8 1997.0 1749.0 1996.8 1755.8 1996.5 1762.3 1996.2 1768.5 1995.9 1774.3 1995.7 1779.9 1995.4 1785.2 1995.1 1790.3 1994.8 1795.1 1994.5 1799.6 1994.3 1804.0 1994.0 1808.1 1993.7 1812.0 1993.4 1815.7 1993.2 1819.3 1992.9 1822.7 1992.7 1825.9 1992.4 1828.9 1992.2 1831.8 1991.9 1834.6 1991.7 1837.2 1991.5 1839.7 1991.3 1842.1 1991.1 1844.3 1990.9 1846.5 1990.8 1848.5 1990.6 1850.5 1990.4 1852.3 1990.3 1854.1 1990.1 1855.7 1990.0 1857.3 1989.8 1858.8 1989.6 1860.2 1989.5 1861.6 1989.3 1862.9 1989.1 1864.1 1988.9 1865.3 1988.5 1866.4 1988.2 1867.5 1987.8 1869.2 1987.4 1870.2 1987.0 1871.1 1986.6 1871.9 1986.2 1872.8 1985.8 1873.6 1985.3 1874.3 1984.9 1875.0 1984.5 1875.7 1984.0 1876.3 1983.6 1876.9 1983.1 1877.5 1982.6 1878.1 1982.1 1878.6 1981.7 1879.1 1981.4 1879.6 1981.0 1880.0 1980.6 1880.4 1980.2 1880.8 1979.8 1881.2 1979.4 1881.6 1979.0 1881.9 1978.6 1882.3 1978.2 1882.6 1977.8 1882.9 1977.4 1883.2 1977.0 1883.5 1976.5 1883.7 1976.1 1884.0 1975.7 1884.2 1975.3 1884.4 1974.8 1884.6 1974.4 1884.8 1974.0 1885.0 1973.5 1885.2 1973.0 1885.4 1972.6 1885.6 1972.1 1885.7 1971.6 1885.9 1971.2 1886.0 1970.7 1886.2 1970.2 1886.3 1969.7 1886.5 1969.2 1886.6 1968.6 1886.7 1968.1 1886.8 1967.7 1886.9 1967.2 1887.0 1966.8 1887.1 1966.3 1887.2 1965.9 1887.3 1965.4 1887.4 1965.0 1887.5 1964.5 1887.6 1964.0 1887.7 1963.6 1887.7 1963.1 1887.8 1962.6 1887.9 1962.1 1888.0 1961.6 1888.0 1960.6 1890.8 1958.6 1890.9 1956.6 1891.0 1954.6 1891.0 1952.6 1891.1 1950.6 1891.2 1948.6 1891.2 1946.6 1891.3 1944.6 1891.3 1942.6 1891.4 1940.6 1891.4 1938.6 1891.5 1936.6 1891.5 1934.6 1891.5 1932.6 1891.5 1930.6 1891.5 1928.6 1891.6 1926.6 1891.6 1924.6 1891.6 1922.6 1891.6 1920.6 1891.6 1918.6 1891.7 1916.6 1891.7 1914.6 1891.7 1912.6 1891.7 1910.6 1891.7 1908.6 1891.7 1906.6 1891.7 1904.6 1891.7 1902.6 1891.7 1900.6 1891.7 1898.6 1891.8 1896.6 1891.8 1894.6 1891.8 1892.6 1891.8 1890.6 1891.8 1888.6 1891.8 1886.6 1891.8 1884.6 1891.8 1882.6 1891.8 1880.6 1891.8 1878.6 1891.8 1876.6 1891.8 1874.6 1891.8 1872.6 1891.8 1870.6 1891.8 1868.6 1891.8 1866.6 1891.8 1864.6 1891.8 1862.6 1891.8 1860.6 1891.8 1858.6 1891.8 1856.6 1891.8 1854.6 1891.8 1852.6 1891.8 1850.6 1891.7 1848.6 1891.7 1846.6 1891.7 1844.6 1891.6 1842.6 1891.5 1840.6 1891.4 1838.6 1891.3 1836.6 1891.2 1834.6 1891.1 1832.6 1891.0 1830.6 1890.9 1828.6 1890.8 1826.6 1890.6 1824.6 1890.5 1822.6 1890.4 1820.6 1890.2 1818.6 1890.1 1816.6 1890.0 1814.6 1889.9 1812.6 1889.7 1810.6 1889.6 1808.6 1889.5 1806.6 1889.4 1804.6 1889.3 1802.6 1889.3 1800.6 1889.2 1798.6 1889.1 1796.6 1889.0 1794.6 1888.9 1792.6 1888.8 1790.6 1888.7 1788.6 1888.6 1786.6 1888.5 1784.6 1888.4 1782.6 1888.3 1780.6 1888.2 1778.6 1888.1 1776.6 1888.0 1774.6 1887.9 1772.6 1887.8 1770.6 1887.6 1768.6 1887.5 1766.6 1887.4 1764.6 1887.2 1762.6 1887.1 1760.6 1886.9 1758.6 1886.7 1756.6 1886.6 1754.6 1886.4 1752.6 1886.2 1750.6 1886.0 1748.6 1885.8 1746.6 1885.6 1744.6 1885.4 1742.6 1885.2 1740.6 1885.0 1738.6 1884.8 1736.6 1884.5 1734.6 1884.3 1732.6 1884.1 1730.6 1883.8 1728.6 1883.6 1726.6 1883.4 1724.6 1883.1 1722.6 1882.9 1720.6 1882.6 1718.6 1882.3 1716.6 1882.0 1714.6 1881.7 1712.6 1881.4 1710.6 1881.1 1708.6 1880.8 1706.6 1880.4 1704.6 1880.1 1702.6 1879.8 1700.6 1879.4 1698.6 1879.1 1696.6 1878.8 1694.6 1878.5 1692.6 1878.2 1690.6 1877.9 1688.6 1877.6 1686.6 1877.3 1684.6 1877.1 1682.6 1876.9 1680.6 1876.6 1678.6 1876.4 1676.6 1876.2 1674.6 1876.1 1672.6 1875.9 1670.6 1875.7 1668.6 1875.5 1666.6 1875.4 1664.6 1875.2 1662.6 1875.0 1660.6 1874.8 1658.6 1874.7 1656.6 1874.5 1654.6 1874.3 1652.6 1874.1 1650.6 1873.9 1648.6 1873.7 1646.6 1873.5 1644.6 1873.3 1642.6 1873.1 1640.6 1872.9 1638.6 1872.7 1636.6 1872.5 1634.6 1872.2 1632.6 1872.0 1630.6 1871.8 1628.6 1871.6 1626.6 1871.4 1624.6 1871.2 1622.6 1871.0 1620.6 1870.7 1618.6 1870.5 1616.6 1870.3 1614.6 1870.1 1612.6 1869.8 1610.6 1869.6 1608.6 1869.3 1606.6 1869.1 1604.6 1868.9 1602.6 1868.6 1600.6 1868.3 1598.6 1868.1 1596.6 1867.9 1594.6 1867.6 1592.6 1867.4 1590.6 1867.2 1588.6 1866.9 1586.6 1866.7 1584.6 1866.5 1582.6 1866.2 1580.6 1866.0 1578.6 1865.7 1576.6 1865.4 1574.6 1865.1 1572.6 1864.8 1570.6 1864.5 1568.6 1864.1 1566.6 1863.7 1564.6 1863.3 1562.6 1862.9 1560.6 1862.4 1558.6 1861.9 1556.6 1861.2 1554.6 1860.2 1552.6 1859.0 1550.6 1857.9 1548.6 1856.8 1546.6 1856.0 1544.6 1855.5 1542.6 1855.0 1540.6 1854.3 1538.6 1852.9 1536.6 1850.1 1534.6 1845.0 1532.6 1837.2 1530.6 1827.6 1528.6 1818.7 1526.6 1813.8 1524.6 1815.1 1522.6 1822.7 1520.6 1832.9 1518.6 1841.8 1516.6 1847.7 1514.6 1850.6 1512.6 1851.7 1510.6 1852.0 1508.6 1851.9 1506.6 1851.7 1504.6 1851.5 1502.6 1851.3 1500.6 1851.0 1498.6 1850.8 1496.6 1850.5 1494.6 1850.2 1492.6 1849.9 1490.6 1849.6 1488.6 1849.3 1486.6 1849.0 1484.6 1848.7 1482.6 1848.5 1480.6 1848.2 1478.6 1847.9 1476.6 1847.6 1474.6 1847.4 1472.6 1847.1 1470.6 1846.9 1468.6 1846.7 1466.6 1846.4 1464.6 1846.2 1462.6 1846.0 1460.6 1845.7 1458.6 1845.5 1456.6 1845.3 1454.6 1845.1 1452.6 1844.8 1450.6 1844.6 1448.6 1844.4 1446.6 1844.2 1444.6 1844.0 1442.6 1843.8 1440.6 1843.6 1438.6 1843.5 1436.6 1843.3 1434.6 1843.2 1432.6 1843.0 1430.6 1842.9 1428.6 1842.7 1426.6 1842.6 1424.6 1842.5 1422.6 1842.4 1420.6 1842.3 1418.6 1842.2 1416.6 1842.1 1414.6 1842.0 1412.6 1841.9 1410.6 1841.8 1408.6 1841.7 1406.6 1841.6 1404.6 1841.6 1402.6 1841.5 1400.6 1841.4 1398.6 1841.3 1396.6 1841.2 1394.6 1841.1 1392.6 1841.0 1390.6 1840.9 1388.6 1840.8 1386.6 1840.7 1384.6 1840.6 1382.6 1840.5 1380.6 1840.5 1378.6 1840.4 1376.6 1840.3 1374.6 1840.2 1372.6 1840.1 1370.6 1840.0 1368.6 1839.9 1366.6 1839.8 1364.6 1839.7 1362.6 1839.6 1360.6 1839.5 1358.6 1839.4 1356.6 1839.3 1354.6 1839.2 1352.6 1839.1 1350.6 1839.0 1348.6 1838.8 1346.6 1838.7 1344.6 1838.6 1342.6 1838.4 1340.6 1838.3 1338.6 1838.1 1336.6 1837.9 1334.6 1837.8 1332.6 1837.6 1330.6 1837.4 1328.6 1837.2 1326.6 1837.0 1324.6 1836.8 1322.6 1836.5 1320.6 1836.3 1318.6 1836.1 1316.6 1835.9 1314.6 1835.7 1312.6 1835.4 1310.6 1835.2 1308.6 1835.0 1306.6 1834.8 1304.6 1834.6 1302.6 1834.4 1300.6 1834.2 1298.6 1834.0 1296.6 1833.8 1294.6 1833.6 1292.6 1833.4 1290.6 1833.2 1288.6 1833.0 1286.6 1832.8 1284.6 1832.6 1282.6 1832.4 1280.6 1832.2 1278.6 1832.0 1276.6 1831.8 1274.6 1831.6 1272.6 1831.4 1270.6 1831.2 1268.6 1831.0 1266.6 1830.8 1264.6 1830.6 1262.6 1830.4 1260.6 1830.2 1258.6 1830.0 1256.6 1829.8 1254.6 1829.5 1252.6 1829.3 1250.6 1829.1 1248.6 1828.8 1246.6 1828.6 1244.6 1828.3 1242.6 1828.1 1240.6 1827.8 1238.6 1827.6 1236.6 1827.4 1234.6 1827.1 1232.6 1826.9 1230.6 1826.7 1228.6 1826.5 1226.6 1826.3 1224.6 1826.1 1222.6 1826.0 1220.6 1825.8 1218.6 1825.7 1216.6 1825.6 1214.6 1825.5 1212.6 1825.4 1210.6 1825.3 1208.6 1825.2 1206.6 1825.1 1204.6 1825.0 1202.6 1824.9 1200.6 1824.9 1198.6 1824.8 1196.6 1824.7 1194.6 1824.6 1192.6 1824.5 1190.6 1824.4 1188.6 1824.3 1186.6 1824.2 1184.6 1824.1 1182.6 1823.9 1180.6 1823.8 1178.6 1823.6 1176.6 1823.4 1174.6 1823.2 1172.6 1822.9 1170.6 1822.7 1168.6 1822.3 1166.6 1822.0 1164.6 1821.6 1162.6 1821.2 1160.6 1820.8 1158.6 1820.4 1156.6 1820.0 1154.6 1819.5 1152.6 1819.1 1150.6 1818.6 1148.6 1818.2 1146.6 1817.7 1144.6 1817.2 1142.6 1816.8 1140.6 1816.3 1138.6 1815.9 1136.6 1815.4 1134.6 1815.0 1132.6 1814.5 1130.6 1814.1 1128.6 1813.7 1126.6 1813.2 1124.6 1812.8 1122.6 1812.4 1120.6 1811.9 1118.6 1811.5 1116.6 1811.0 1114.6 1810.5 1112.6 1810.0 1110.6 1809.6 1108.6 1809.1 1106.6 1808.5 1104.6 1808.0 1102.6 1807.5 1100.6 1806.9 1098.6 1806.3 1096.6 1805.7 1094.6 1805.1 1092.6 1804.5 1090.6 1803.8 1088.6 1803.1 1086.6 1802.3 1084.6 1801.6 1082.6 1800.7 1080.6 1799.9 1078.6 1799.0 1076.6 1798.1 1074.6 1797.2 1072.6 1796.3 1070.6 1795.3 1068.6 1794.3 1066.6 1793.4 1064.6 1792.4 1062.6 1791.4 1060.6 1790.3 1058.6 1789.3 1056.6 1788.3 1054.6 1787.3 1052.6 1786.2 1050.6 1785.1 1048.6 1783.7 1046.6 1781.8 1044.6 1779.6 1042.6 1777.1 1040.6 1774.8 1038.6 1773.2 1036.6 1772.8 1034.6 1773.4 1032.6 1774.6 1030.6 1776.0 1028.6 1777.3 1026.6 1778.3 1024.6 1779.0 1022.6 1779.6 1020.6 1780.2 1018.6 1780.7 1016.6 1781.2 1014.6 1781.7 1012.6 1782.2 1010.6 1782.7 1008.6 1783.2 1006.6 1783.7 1004.6 1784.2 1002.6 1784.7 1000.6 1785.2 998.6 1785.7 996.6 1786.2 994.6 1786.8 992.6 1787.3 990.6 1787.9 988.6 1788.5 986.6 1789.1 984.6 1789.7 982.6 1790.3 980.6 1791.0 978.6 1791.6 976.6 1792.2 974.6 1792.9 972.6 1793.6 970.6 1794.2 968.6 1794.9 966.6 1795.6 964.6 1796.3 962.6 1797.0 960.6 1797.7 958.6 1798.4 956.6 1799.2 954.6 1799.9 952.6 1800.7 950.6 1801.5 948.6 1802.3 946.6 1803.2 944.6 1804.0 942.6 1804.8 940.6 1805.7 938.6 1806.5 936.6 1807.4 934.6 1808.2 932.6 1809.1 930.6 1809.9 928.6 1810.8 926.6 1811.7 924.6 1812.5 922.6 1813.4 920.6 1814.2 918.6 1815.1 916.6 1816.0 914.6 1816.9 912.6 1817.7 910.6 1818.6 908.6 1819.5 906.6 1820.4 904.6 1821.3 902.6 1822.1 900.6 1823.0 898.6 1823.8 896.6 1824.6 894.6 1825.5 892.6 1826.3 890.6 1827.1 888.6 1828.0 886.6 1828.8 884.6 1829.7 882.6 1830.5 880.6 1831.3 878.6 1832.2 876.6 1833.0 874.6 1833.8 872.6 1834.6 870.6 1835.4 868.6 1836.2 866.6 1837.0 864.6 1837.8 862.6 1838.5 860.6 1839.3 858.6 1840.0 856.6 1840.7 854.6 1841.4 852.6 1842.0 850.6 1842.6 848.6 1843.3 846.6 1843.8 844.6 1844.4 842.6 1844.9 840.6 1845.4 838.6 1845.9 836.6 1846.4 834.6 1846.9 832.6 1847.3 830.6 1847.8 828.6 1848.2 826.6 1848.6 824.6 1849.0 822.6 1849.4 820.6 1849.8 818.6 1850.2 816.6 1850.6 814.6 1850.9 812.6 1851.3 810.6 1851.6 808.6 1852.0 806.6 1852.3 804.6 1852.6 802.6 1853.0 800.6 1853.3 798.6 1853.6 796.6 1854.0 794.6 1854.3 792.6 1854.6 790.6 1854.9 788.6 1855.2 786.6 1855.5 784.6 1855.7 782.6 1856.0 780.6 1856.3 778.6 1856.6 776.6 1856.8 774.6 1857.1 772.6 1857.4 770.6 1857.6 768.6 1857.9 766.6 1858.2 764.6 1858.4 762.6 1858.7 760.6 1858.9 758.6 1859.2 756.6 1859.5 754.6 1859.7 752.6 1860.0 750.6 1860.3 748.6 1860.6 746.6 1860.8 744.6 1861.1 742.6 1861.4 740.6 1861.7 738.6 1862.0 736.6 1862.2 734.6 1862.5 732.6 1862.8 730.6 1863.1 728.6 1863.4 726.6 1863.6 724.6 1863.9 722.6 1864.2 720.6 1864.5 718.6 1864.8 716.6 1865.0 714.6 1865.3 712.6 1865.6 710.6 1865.8 708.6 1866.1 706.6 1866.4 704.6 1866.6 702.6 1866.9 700.6 1867.2 698.6 1867.4 696.6 1867.7 694.6 1867.9 692.6 1868.2 690.6 1868.4 688.6 1868.6 686.6 1868.9 684.6 1869.1 682.6 1869.3 680.6 1869.5 678.6 1869.8 676.6 1870.0 674.6 1870.2 672.6 1870.4 670.6 1870.6 668.6 1870.7 666.6 1870.9 664.6 1871.1 662.6 1871.3 660.6 1871.5 658.6 1871.7 656.6 1871.9 654.6 1872.1 652.6 1872.2 650.6 1872.4 648.6 1872.6 646.6 1872.8 644.6 1873.0 642.6 1873.2 640.6 1873.3 638.6 1873.5 636.6 1873.7 634.6 1873.8 632.6 1874.0 630.6 1874.2 628.6 1874.3 626.6 1874.5 624.6 1874.7 622.6 1874.8 620.6 1875.0 618.6 1875.1 616.6 1875.2 614.6 1875.4 612.6 1875.5 610.6 1875.7 608.6 1875.8 606.6 1875.9 604.6 1876.0 602.6 1876.2 600.6 1876.3 598.6 1876.4 596.6 1876.5 594.6 1876.6 592.6 1876.7 590.6 1876.8 588.6 1876.9 586.6 1876.9 584.6 1877.0 582.6 1877.1 580.6 1877.2 578.6 1877.2 576.6 1877.3 574.6 1877.4 572.6 1877.5 570.6 1877.5 568.6 1877.6 566.6 1877.7 564.6 1877.7 562.6 1877.8 560.6 1877.9 558.6 1877.9 556.6 1878.0 554.6 1878.1 552.6 1878.1 550.6 1878.2 548.6 1878.2 546.6 1878.3 544.6 1878.3 542.6 1878.3 540.6 1878.4 538.6 1878.4 536.6 1878.4 534.6 1878.5 532.6 1878.5 530.6 1878.5 528.6 1878.5 526.6 1878.5 524.6 1878.5 522.6 1878.5 520.6 1878.4 518.6 1878.4 516.6 1878.4 514.6 1878.3 512.6 1878.2 510.6 1878.2 508.6 1878.1 506.6 1878.0 504.6 1878.0 502.6 1877.9 500.6 1877.8 498.6 1877.7 496.6 1877.7 494.6 1877.6 492.6 1877.5 490.6 1877.4 488.6 1877.3 486.6 1877.3 484.6 1877.2 482.6 1877.2 480.6 1877.1 478.6 1877.1 476.6 1877.0 474.6 1877.0 472.6 1877.0 470.6 1877.0 468.6 1877.0 466.6 1877.0 464.6 1877.0 462.6 1877.1 460.6 1877.1 458.6 1877.1 456.6 1877.2 454.6 1877.2 452.6 1877.3 450.6 1877.3 448.6 1877.4 446.6 1877.4 444.6 1877.5 442.6 1877.5 440.6 1877.6 438.6 1877.7 436.6 1877.8 434.6 1877.8 432.6 1877.9 430.6 1878.0 428.6 1878.0 426.6 1878.1 424.6 1878.2 422.6 1878.3 420.6 1878.3 418.6 1878.4 416.6 1878.5 414.6 1878.5 412.6 1878.6 410.6 1878.7 408.6 1878.7 406.6 1878.8 404.6 1878.8 402.6 1878.9 400.6 1878.9 398.6 1879.0 396.6 1879.0 394.6 1879.0 392.6 1879.1 390.6 1879.1 388.6 1879.1 386.6 1879.1 384.6 1879.1 382.6 1879.1 380.6 1879.1 378.6 1879.1 376.6 1879.1 374.6 1879.1 372.6 1879.1 370.6 1879.1 368.6 1879.1 366.6 1879.1 364.6 1879.1 362.6 1879.1 360.6 1879.1 358.6 1879.1 356.6 1879.1 354.6 1879.1 352.6 1879.1 350.6 1879.1 348.6 1879.1 346.6 1879.1 344.6 1879.1 342.6 1879.1 340.6 1879.1 338.6 1879.1 336.6 1879.1 334.6 1879.1 332.6 1879.1 330.6 1879.1 328.6 1879.1 326.6 1879.1 324.6 1879.1 322.6 1879.1 320.6 1879.1 318.6 1879.1 316.6 1879.1 314.6 1879.1 312.6 1879.1 310.6 1879.1 308.6 1879.1 306.6 1879.1 304.6 1879.1 302.6 1879.1 300.6 1879.1 298.6 1879.1 296.6 1879.1 294.6 1879.1 292.6 1879.0 290.6 1879.0 288.6 1879.0 286.6 1878.9 284.6 1878.9 282.6 1878.8 280.6 1878.8 278.6 1878.7 276.6 1878.7 274.6 1878.6 272.6 1878.6 270.6 1878.5 268.6 1878.4 266.6 1878.4 264.6 1878.3 262.6 1878.2 260.6 1878.1 258.6 1878.1 256.6 1878.0 254.6 1877.9 252.6 1877.9 250.6 1877.8 248.6 1877.7 246.6 1877.6 244.6 1877.6 242.6 1877.5 240.6 1877.4 238.6 1877.4 236.6 1877.3 234.6 1877.3 232.6 1877.2 230.6 1877.2 228.6 1877.1 226.6 1877.1 224.6 1877.1 222.6 1877.0 220.6 1877.0 218.6 1877.0 216.6 1877.0 214.6 1877.0 212.6 1877.0 210.6 1877.0 208.6 1877.0 206.6 1877.1 204.6 1877.1 202.6 1877.1 200.6 1877.2 198.6 1877.3 196.6 1877.3 194.6 1877.4 192.6 1877.5 190.6 1877.5 188.6 1877.6 186.6 1877.7 184.6 1877.8 182.6 1877.9 180.6 1878.0 178.6 1878.2 176.6 1878.3 174.6 1878.4 172.6 1878.5 170.6 1878.7 168.6 1878.8 166.6 1878.9 164.6 1879.1 162.6 1879.2 160.6 1879.4 158.6 1879.6 156.6 1879.7 154.6 1879.9 152.6 1880.1 150.6 1880.2 148.6 1880.4 146.6 1880.6 144.6 1880.8 142.6 1881.0 140.6 1881.1 138.6 1881.3Z" fill="#111" stroke="none"/>
<path d="M138.6 1879.1L140.6 1878.0 142.6 1877.0 144.6 1881.5 146.6 1877.0 148.6 1875.7 150.6 1871.5 152.6 1878.7 154.6 1876.0 156.6 1876.3 158.6 1883.8 160.6 1878.7 162.6 1880.6 164.6 1876.9 166.6 1880.0 168.6 1871.6 170.6 1874.3 172.6 1878.1 174.6 1874.5 176.6 1871.1 178.6 1874.1 180.6 1870.6 182.6 1877.4 184.6 1870.5 186.6 1878.1 188.6 1876.1 190.6 1872.5 192.6 1876.0 194.6 1876.7 196.6 1872.5 198.6 1868.5 200.6 1875.9 202.6 1876.9 204.6 1874.5 206.6 1874.2 208.6 1874.6 210.6 1871.9 212.6 1872.5 214.6 1875.0 216.6 1876.5 218.6 1873.7 220.6 1872.7 222.6 1871.5 224.6 1874.8 226.6 1871.8 228.6 1874.5 230.6 1878.1 232.6 1871.6 234.6 1873.3 236.6 1872.5 238.6 1875.8 240.6 1875.0 242.6 1874.0 244.6 1871.6 246.6 1870.5 248.6 1877.8 250.6 1871.9 252.6 1876.3 254.6 1873.4 256.6 1875.7 258.6 1879.2 260.6 1875.5 262.6 1879.4 264.6 1871.1 266.6 1870.6 268.6 1876.5 270.6 1875.3 272.6 1873.1 274.6 1876.7 276.6 1872.8 278.6 1875.2 280.6 1876.6 282.6 1876.0 284.6 1873.3 286.6 1879.1 288.6 1875.7 290.6 1878.0 292.6 1880.2 294.6 1882.6 296.6 1882.8 298.6 1879.9 300.6 1883.7 302.6 1876.0 304.6 1879.1 306.6 1874.7 308.6 1875.7 310.6 1875.2 312.6 1877.0 314.6 1876.4 316.6 1878.2 318.6 1879.1 320.6 1874.3 322.6 1877.6 324.6 1882.1 326.6 1885.3 328.6 1877.6 330.6 1876.9 332.6 1879.4 334.6 1875.8 336.6 1876.2 338.6 1877.4 340.6 1874.2 342.6 1884.7 344.6 1879.2 346.6 1879.3 348.6 1880.9 350.6 1877.8 352.6 1872.6 354.6 1872.2 356.6 1877.3 358.6 1879.2 360.6 1876.2 362.6 1881.0 364.6 1875.8 366.6 1872.7 368.6 1876.3 370.6 1876.3 372.6 1875.5 374.6 1873.1 376.6 1875.2 378.6 1880.8 380.6 1873.7 382.6 1877.6 384.6 1872.2 386.6 1880.2 388.6 1875.6 390.6 1875.7 392.6 1880.6 394.6 1875.8 396.6 1875.6 398.6 1878.5 400.6 1875.4 402.6 1880.2 404.6 1875.8 406.6 1875.2 408.6 1879.6 410.6 1879.6 412.6 1873.6 414.6 1879.7 416.6 1878.2 418.6 1871.8 420.6 1877.9 422.6 1872.3 424.6 1878.6 426.6 1876.6 428.6 1875.7 430.6 1872.3 432.6 1875.9 434.6 1878.4 436.6 1873.8 438.6 1872.4 440.6 1884.0 442.6 1871.0 444.6 1877.1 446.6 1877.2 448.6 1876.8 450.6 1868.7 452.6 1873.8 454.6 1875.1 456.6 1870.2 458.6 1876.7 460.6 1870.1 462.6 1870.4 464.6 1878.0 466.6 1867.9 468.6 1872.6 470.6 1875.3 472.6 1879.6 474.6 1878.2 476.6 1876.7 478.6 1879.9 480.6 1874.9 482.6 1875.7 484.6 1872.7 486.6 1877.5 488.6 1876.1 490.6 1871.3 492.6 1876.4 494.6 1879.6 496.6 1872.0 498.6 1875.0 500.6 1870.6 502.6 1870.2 504.6 1870.8 506.6 1876.2 508.6 1876.1 510.6 1874.3 512.6 1877.4 514.6 1876.6 516.6 1873.0 518.6 1877.8 520.6 1872.2 522.6 1871.2 524.6 1874.1 526.6 1879.9 528.6 1874.4 530.6 1878.4 532.6 1874.6 534.6 1877.6 536.6 1871.0 538.6 1877.1 540.6 1876.0 542.6 1873.2 544.6 1875.8 546.6 1873.6 548.6 1877.5 550.6 1879.6 552.6 1873.1 554.6 1878.7 556.6 1868.6 558.6 1873.3 560.6 1870.7 562.6 1879.4 564.6 1877.2 566.6 1873.1 568.6 1878.1 570.6 1876.8 572.6 1875.5 574.6 1876.5 576.6 1874.7 578.6 1877.2 580.6 1875.1 582.6 1872.4 584.6 1873.4 586.6 1872.3 588.6 1873.1 590.6 1871.9 592.6 1874.0 594.6 1867.4 596.6 1876.6 598.6 1877.0 600.6 1878.3 602.6 1871.4 604.6 1876.1 606.6 1875.9 608.6 1871.1 610.6 1874.6 612.6 1873.3 614.6 1871.0 616.6 1873.5 618.6 1871.3 620.6 1870.7 622.6 1872.2 624.6 1873.3 626.6 1871.6 628.6 1872.4 630.6 1869.9 632.6 1868.7 634.6 1873.2 636.6 1870.0 638.6 1868.5 640.6 1871.0 642.6 1868.8 644.6 1872.8 646.6 1868.0 648.6 1868.0 650.6 1871.7 652.6 1872.1 654.6 1863.9 656.6 1867.7 658.6 1873.2 660.6 1872.2 662.6 1868.8 664.6 1864.1 666.6 1866.7 668.6 1867.8 670.6 1862.9 672.6 1864.2 674.6 1866.7 676.6 1872.1 678.6 1868.5 680.6 1868.4 682.6 1868.8 684.6 1864.0 686.6 1863.3 688.6 1866.9 690.6 1870.9 692.6 1867.9 694.6 1864.0 696.6 1862.8 698.6 1862.3 700.6 1865.6 702.6 1864.5 704.6 1862.4 706.6 1867.9 708.6 1866.9 710.6 1861.8 712.6 1863.0 714.6 1861.2 716.6 1866.2 718.6 1859.1 720.6 1864.3 722.6 1863.4 724.6 1857.8 726.6 1861.1 728.6 1861.7 730.6 1863.8 732.6 1856.0 734.6 1854.0 736.6 1860.6 738.6 1863.3 740.6 1858.4 742.6 1861.1 744.6 1856.9 746.6 1857.0 748.6 1859.3 750.6 1859.3 752.6 1857.2 754.6 1854.4 756.6 1862.0 758.6 1856.2 760.6 1858.0 762.6 1860.3 764.6 1851.4 766.6 1855.8 768.6 1859.0 770.6 1854.2 772.6 1850.2 774.6 1853.1 776.6 1858.7 778.6 1858.7 780.6 1853.0 782.6 1849.6 784.6 1851.2 786.6 1848.8 788.6 1855.2 790.6 1857.2 792.6 1851.6 794.6 1851.2 796.6 1851.4 798.6 1852.2 800.6 1852.9 802.6 1851.5 804.6 1854.2 806.6 1845.1 808.6 1851.3 810.6 1849.2 812.6 1843.9 814.6 1843.9 816.6 1845.5 818.6 1846.0 820.6 1846.0 822.6 1846.0 824.6 1849.5 826.6 1850.8 828.6 1847.0 830.6 1845.2 832.6 1841.2 834.6 1843.9 836.6 1841.9 838.6 1841.3 840.6 1845.8 842.6 1841.9 844.6 1837.4 846.6 1844.7 848.6 1842.2 850.6 1837.6 852.6 1837.3 854.6 1837.4 856.6 1841.8 858.6 1838.2 860.6 1838.7 862.6 1837.4 864.6 1838.7 866.6 1828.1 868.6 1835.7 870.6 1837.6 872.6 1830.6 874.6 1833.4 876.6 1824.3 878.6 1828.4 880.6 1829.8 882.6 1827.6 884.6 1829.6 886.6 1824.0 888.6 1824.9 890.6 1826.8 892.6 1827.7 894.6 1823.8 896.6 1822.6 898.6 1821.5 900.6 1819.8 902.6 1814.2 904.6 1820.7 906.6 1816.6 908.6 1817.1 910.6 1815.1 912.6 1808.6 914.6 1810.2 916.6 1818.8 918.6 1812.0 920.6 1816.0 922.6 1815.3 924.6 1811.7 926.6 1810.7 928.6 1808.1 930.6 1807.1 932.6 1806.1 934.6 1807.2 936.6 1803.3 938.6 1803.1 940.6 1804.2 942.6 1803.5 944.6 1802.1 946.6 1803.0 948.6 1803.6 950.6 1793.0 952.6 1800.4 954.6 1800.9 956.6 1802.1 958.6 1798.7 960.6 1792.7 962.6 1796.7 964.6 1796.8 966.6 1790.4 968.6 1791.5 970.6 1794.0 972.6 1789.2 974.6 1790.0 976.6 1789.4 978.6 1786.4 980.6 1783.5 982.6 1782.5 984.6 1786.9 986.6 1789.4 988.6 1787.8 990.6 1781.5 992.6 1790.4 994.6 1781.0 996.6 1781.1 998.6 1780.8 1000.6 1776.6 1002.6 1778.5 1004.6 1786.2 1006.6 1781.3 1008.6 1781.3 1010.6 1777.5 1012.6 1780.5 1014.6 1779.9 1016.6 1784.1 1018.6 1777.4 1020.6 1776.3 1022.6 1775.0 1024.6 1779.8 1026.6 1774.3 1028.6 1774.9 1030.6 1774.5 1032.6 1770.2 1034.6 1770.6 1036.6 1766.2 1038.6 1772.1 1040.6 1769.3 1042.6 1769.9 1044.6 1774.2 1046.6 1778.2 1048.6 1779.6 1050.6 1785.5 1052.6 1791.2 1054.6 1784.6 1056.6 1790.6 1058.6 1786.5 1060.6 1791.4 1062.6 1782.6 1064.6 1785.0 1066.6 1787.9 1068.6 1793.6 1070.6 1792.6 1072.6 1793.7 1074.6 1792.1 1076.6 1797.8 1078.6 1794.8 1080.6 1795.8 1082.6 1800.9 1084.6 1797.7 1086.6 1801.2 1088.6 1805.6 1090.6 1799.3 1092.6 1794.6 1094.6 1799.9 1096.6 1797.1 1098.6 1804.7 1100.6 1804.8 1102.6 1801.0 1104.6 1803.4 1106.6 1806.5 1108.6 1803.0 1110.6 1808.7 1112.6 1808.4 1114.6 1807.3 1116.6 1807.0 1118.6 1810.7 1120.6 1805.6 1122.6 1804.5 1124.6 1816.4 1126.6 1811.7 1128.6 1808.2 1130.6 1812.4 1132.6 1811.4 1134.6 1808.5 1136.6 1809.7 1138.6 1816.3 1140.6 1813.2 1142.6 1811.2 1144.6 1812.7 1146.6 1813.1 1148.6 1817.7 1150.6 1820.1 1152.6 1811.2 1154.6 1814.7 1156.6 1815.7 1158.6 1811.4 1160.6 1819.7 1162.6 1823.6 1164.6 1816.3 1166.6 1817.7 1168.6 1820.7 1170.6 1816.7 1172.6 1826.0 1174.6 1815.7 1176.6 1811.4 1178.6 1819.0 1180.6 1820.5 1182.6 1823.8 1184.6 1822.3 1186.6 1822.7 1188.6 1818.3 1190.6 1823.7 1192.6 1822.3 1194.6 1820.7 1196.6 1816.6 1198.6 1819.7 1200.6 1823.0 1202.6 1822.3 1204.6 1811.9 1206.6 1824.3 1208.6 1822.6 1210.6 1821.7 1212.6 1823.7 1214.6 1829.4 1216.6 1821.9 1218.6 1825.0 1220.6 1822.5 1222.6 1823.0 1224.6 1824.2 1226.6 1823.5 1228.6 1820.5 1230.6 1828.3 1232.6 1829.5 1234.6 1828.6 1236.6 1826.8 1238.6 1826.1 1240.6 1825.0 1242.6 1822.8 1244.6 1830.2 1246.6 1823.2 1248.6 1828.0 1250.6 1820.2 1252.6 1825.8 1254.6 1826.8 1256.6 1827.4 1258.6 1824.0 1260.6 1828.8 1262.6 1827.9 1264.6 1832.4 1266.6 1830.4 1268.6 1830.9 1270.6 1831.4 1272.6 1831.1 1274.6 1833.8 1276.6 1828.3 1278.6 1832.1 1280.6 1826.9 1282.6 1829.8 1284.6 1831.3 1286.6 1829.9 1288.6 1830.3 1290.6 1828.5 1292.6 1833.2 1294.6 1829.2 1296.6 1832.4 1298.6 1830.6 1300.6 1831.4 1302.6 1833.6 1304.6 1835.8 1306.6 1837.4 1308.6 1833.2 1310.6 1830.7 1312.6 1831.5 1314.6 1834.2 1316.6 1827.7 1318.6 1838.4 1320.6 1837.2 1322.6 1832.3 1324.6 1832.4 1326.6 1835.2 1328.6 1835.3 1330.6 1830.5 1332.6 1833.4 1334.6 1833.0 1336.6 1833.4 1338.6 1833.4 1340.6 1830.5 1342.6 1835.0 1344.6 1835.6 1346.6 1833.2 1348.6 1839.9 1350.6 1835.6 1352.6 1837.1 1354.6 1835.8 1356.6 1831.7 1358.6 1832.5 1360.6 1835.7 1362.6 1837.0 1364.6 1835.2 1366.6 1841.7 1368.6 1836.1 1370.6 1835.6 1372.6 1842.4 1374.6 1834.4 1376.6 1835.7 1378.6 1842.3 1380.6 1836.8 1382.6 1837.7 1384.6 1842.7 1386.6 1832.4 1388.6 1839.2 1390.6 1839.6 1392.6 1840.7 1394.6 1840.7 1396.6 1836.8 1398.6 1840.3 1400.6 1839.5 1402.6 1841.5 1404.6 1836.6 1406.6 1839.9 1408.6 1840.3 1410.6 1841.5 1412.6 1842.7 1414.6 1833.4 1416.6 1843.0 1418.6 1835.2 1420.6 1839.9 1422.6 1842.8 1424.6 1838.1 1426.6 1843.5 1428.6 1839.5 1430.6 1841.3 1432.6 1839.3 1434.6 1839.4 1436.6 1844.9 1438.6 1840.4 1440.6 1841.9 1442.6 1840.7 1444.6 1842.6 1446.6 1843.9 1448.6 1844.8 1450.6 1838.2 1452.6 1839.7 1454.6 1841.5 1456.6 1841.6 1458.6 1844.6 1460.6 1841.1 1462.6 1845.6 1464.6 1852.9 1466.6 1844.1 1468.6 1842.8 1470.6 1848.9 1472.6 1844.6 1474.6 1847.6 1476.6 1844.2 1478.6 1845.0 1480.6 1850.8 1482.6 1845.0 1484.6 1845.2 1486.6 1849.2 1488.6 1850.1 1490.6 1850.2 1492.6 1851.9 1494.6 1846.1 1496.6 1846.0 1498.6 1847.6 1500.6 1848.3 1502.6 1849.5 1504.6 1853.7 1506.6 1850.9 1508.6 1847.9 1510.6 1849.9 1512.6 1847.7 1514.6 1845.7 1516.6 1844.5 1518.6 1835.1 1520.6 1833.1 1522.6 1820.8 1524.6 1810.7 1526.6 1816.0 1528.6 1817.0 1530.6 1823.8 1532.6 1836.4 1534.6 1841.7 1536.6 1846.8 1538.6 1850.7 1540.6 1857.3 1542.6 1851.0 1544.6 1851.9 1546.6 1854.7 1548.6 1850.9 1550.6 1853.7 1552.6 1860.1 1554.6 1862.0 1556.6 1856.3 1558.6 1857.7 1560.6 1864.1 1562.6 1863.2 1564.6 1862.9 1566.6 1857.5 1568.6 1859.5 1570.6 1863.7 1572.6 1863.0 1574.6 1860.7 1576.6 1865.5 1578.6 1862.2 1580.6 1862.8 1582.6 1866.6 1584.6 1865.9 1586.6 1860.3 1588.6 1867.8 1590.6 1863.1 1592.6 1864.2 1594.6 1870.5 1596.6 1862.7 1598.6 1865.6 1600.6 1863.9 1602.6 1863.7 1604.6 1865.8 1606.6 1867.3 1608.6 1863.0 1610.6 1863.1 1612.6 1867.0 1614.6 1866.6 1616.6 1866.9 1618.6 1863.6 1620.6 1870.8 1622.6 1870.4 1624.6 1871.5 1626.6 1869.6 1628.6 1871.5 1630.6 1870.0 1632.6 1871.0 1634.6 1869.9 1636.6 1867.9 1638.6 1871.5 1640.6 1868.4 1642.6 1879.3 1644.6 1870.7 1646.6 1872.7 1648.6 1871.3 1650.6 1870.6 1652.6 1872.3 1654.6 1875.4 1656.6 1872.8 1658.6 1869.6 1660.6 1871.5 1662.6 1872.0 1664.6 1872.3 1666.6 1873.4 1668.6 1877.7 1670.6 1873.4 1672.6 1871.9 1674.6 1876.2 1676.6 1876.5 1678.6 1873.8 1680.6 1875.1 1682.6 1872.8 1684.6 1871.1 1686.6 1877.8 1688.6 1879.6 1690.6 1873.6 1692.6 1873.4 1694.6 1878.3 1696.6 1876.8 1698.6 1881.2 1700.6 1874.0 1702.6 1875.1 1704.6 1876.4 1706.6 1877.3 1708.6 1878.3 1710.6 1872.1 1712.6 1876.6 1714.6 1878.8 1716.6 1875.3 1718.6 1877.9 1720.6 1878.4 1722.6 1878.1 1724.6 1884.5 1726.6 1883.7 1728.6 1880.6 1730.6 1881.6 1732.6 1880.4 1734.6 1883.2 1736.6 1880.3 1738.6 1877.5 1740.6 1882.4 1742.6 1881.2 1744.6 1882.0 1746.6 1884.7 1748.6 1880.9 1750.6 1883.7 1752.6 1887.2 1754.6 1879.5 1756.6 1880.3 1758.6 1884.5 1760.6 1889.1 1762.6 1888.2 1764.6 1886.6 1766.6 1885.8 1768.6 1884.1 1770.6 1884.8 1772.6 1884.4 1774.6 1881.5 1776.6 1885.2 1778.6 1886.1 1780.6 1884.4 1782.6 1888.2 1784.6 1884.6 1786.6 1887.0 1788.6 1888.3 1790.6 1889.2 1792.6 1885.3 1794.6 1884.2 1796.6 1886.6 1798.6 1887.3 1800.6 1879.7 1802.6 1887.4 1804.6 1883.5 1806.6 1883.2 1808.6 1891.6 1810.6 1889.4 1812.6 1888.4 1814.6 1886.4 1816.6 1887.5 1818.6 1891.3 1820.6 1885.2 1822.6 1888.4 1824.6 1888.0 1826.6 1888.3 1828.6 1888.6 1830.6 1884.7 1832.6 1888.8 1834.6 1889.8 1836.6 1893.4 1838.6 1890.6 1840.6 1890.7 1842.6 1891.5 1844.6 1888.3 1846.6 1889.6 1848.6 1885.9 1850.6 1890.7 1852.6 1887.8 1854.6 1889.3 1856.6 1887.6 1858.6 1890.2 1860.6 1885.9 1862.6 1889.5 1864.6 1887.8 1866.6 1891.8 1868.6 1885.8 1870.6 1889.1 1872.6 1885.9 1874.6 1890.9 1876.6 1890.5 1878.6 1888.8 1880.6 1884.3 1882.6 1888.4 1884.6 1888.0 1886.6 1889.3 1888.6 1889.8 1890.6 1888.4 1892.6 1889.9 1894.6 1885.9 1896.6 1888.0 1898.6 1890.2 1900.6 1883.1 1902.6 1887.5 1904.6 1893.5 1906.6 1887.0 1908.6 1896.8 1910.6 1886.7 1912.6 1889.6 1914.6 1886.3 1916.6 1891.5 1918.6 1889.8 1920.6 1886.4 1922.6 1882.3 1924.6 1887.4 1926.6 1889.9 1928.6 1887.6 1930.6 1893.5 1932.6 1890.3 1934.6 1883.4 1936.6 1887.1 1938.6 1891.9 1940.6 1886.2 1942.6 1890.4 1944.6 1890.7 1946.6 1890.7 1948.6 1893.5 1950.6 1893.0 1952.6 1886.8 1954.6 1883.7 1956.6 1892.4 1958.6 1893.7 1960.6 1893.5 1961.6 1886.5 1962.1 1888.5 1962.6 1887.0 1963.1 1887.7 1963.6 1886.6 1964.0 1888.7 1964.5 1885.9 1965.0 1887.8 1965.4 1886.0 1965.9 1887.9 1966.3 1887.7 1966.8 1886.1 1967.2 1886.5 1967.7 1885.6 1968.1 1886.3 1968.6 1886.1 1969.2 1884.8 1969.7 1885.6 1970.2 1885.6 1970.7 1884.9 1971.2 1884.2 1971.6 1884.8 1972.1 1884.9 1972.6 1885.4 1973.0 1883.1 1973.5 1883.2 1974.0 1883.3 1974.4 1883.9 1974.8 1884.4 1975.3 1883.8 1975.7 1884.0 1976.1 1883.1 1976.5 1883.4 1977.0 1883.9 1977.4 1883.2 1977.8 1882.1 1978.2 1881.3 1978.6 1882.4 1979.0 1880.1 1979.4 1882.4 1979.8 1880.6 1980.2 1879.2 1980.6 1880.3 1981.0 1879.4 1981.4 1879.3 1981.7 1879.4 1982.1 1877.3 1982.6 1877.9 1983.1 1875.5 1983.6 1877.2 1984.0 1876.3 1984.5 1874.9 1984.9 1873.4 1985.3 1873.2 1985.8 1873.2 1986.2 1871.5 1986.6 1870.7 1987.0 1871.1 1987.4 1868.9 1987.8 1870.4 1988.2 1867.5 1988.5 1866.4 1988.9 1865.3 1989.1 1864.1 1989.3 1862.9 1989.5 1861.6 1989.6 1860.2 1989.8 1858.8 1990.0 1857.3 1990.1 1855.7 1990.3 1854.1 1990.4 1852.3 1990.6 1850.5 1990.8 1848.5 1990.9 1846.5 1991.1 1844.3 1991.3 1842.1 1991.5 1839.7 1991.7 1837.2 1991.9 1834.6 1992.2 1831.8 1992.4 1828.9 1992.7 1825.9 1992.9 1822.7 1993.2 1819.3 1993.4 1815.7 1993.7 1812.0 1994.0 1808.1 1994.3 1804.0 1994.5 1799.6 1994.8 1795.1 1995.1 1790.3 1995.4 1785.2 1995.7 1779.9 1995.9 1774.3 1996.2 1768.5 1996.5 1762.3 1996.8 1755.8 1997.0 1749.0 1997.3 1741.8 1997.6 1734.2 1997.9 1726.3 1998.1 1717.9 1998.4 1709.2 1998.7 1699.9 1998.9 1690.2 1999.2 1680.0 1999.4 1669.2 1999.6 1658.0 1999.8 1646.1 2000.0 1633.6 2000.2 1620.4 2000.4 1606.6 2000.6 1592.1 2000.8 1576.8 2001.0 1560.7 2001.2 1543.8 2001.4 1526.1 2001.5 1507.4 2001.7 1487.7 2001.8 1467.0 2002.0 1445.3 2002.1 1422.4 2002.2 1398.4 2002.5 1373.1 2002.7 1346.5 2003.0 1318.6 2003.2 1289.1 2003.5 1258.2 2003.7 1225.7 2003.9 1191.5 2004.1 1155.5 2004.3 1117.7 2004.5 1077.9 2004.8 1064.2 2005.1 1064.2 2005.3 1064.2 2005.6 1064.2 2005.6 1064.2 2005.7 1064.2 2005.7 1064.2 2005.8 1064.2 2005.8 1064.2 2005.9 1064.2 2005.9 1064.2 2006.0 1064.2 2006.0 1064.2 2006.1 1064.2 2006.1 1064.2 2006.1 1064.2 2006.2 1064.2 2006.2 1064.2 2006.3 1064.2 2006.3 1064.2 2006.3 1064.2 2006.4 1064.2 2006.4 1064.2 2006.4 1064.2 2006.5 1064.2 2006.5 1064.2 2009.5 1064.2 2009.5 1064.2 2009.6 1064.2 2009.6 1064.2 2009.6 1064.2 2009.7 1064.2 2009.7 1064.2 2009.7 1064.2 2009.8 1064.2 2009.8 1064.2 2009.9 1064.2 2009.9 1064.2 2009.9 1064.2 2010.0 1064.2 2010.0 1064.2 2010.1 1064.2 2010.1 1064.2 2010.2 1064.2 2010.2 1064.2 2010.3 1064.2 2010.3 1064.2 2010.4 1064.2 2010.4 1064.2 2010.7 1064.2 2010.9 1064.2 2011.2 1064.2 2011.5 1077.9 2011.7 1117.7 2011.9 1155.5 2012.1 1191.5 2012.2 1225.7 2012.4 1258.2 2012.6 1289.1 2012.8 1318.6 2013.0 1346.5 2013.3 1373.1 2013.4 1398.4 2013.6 1422.4 2013.7 1445.3 2013.8 1467.0 2013.9 1487.7 2014.0 1507.4 2014.2 1526.1 2014.3 1543.8 2014.5 1560.7 2014.6 1576.8 2014.8 1592.1 2014.9 1606.6 2015.1 1620.4 2015.2 1633.6 2015.3 1646.1 2015.5 1658.0 2015.6 1669.2 2015.8 1680.0 2016.0 1690.2 2016.2 1699.9 2016.4 1709.2 2016.6 1717.9 2016.8 1726.3 2017.0 1734.2 2017.2 1741.8 2017.3 1749.0 2017.5 1755.8 2017.7 1762.3 2017.9 1768.5 2018.1 1774.3 2018.2 1779.9 2018.4 1785.2 2018.6 1790.3 2018.8 1795.1 2018.9 1799.6 2019.1 1804.0 2019.3 1808.1 2019.4 1812.0 2019.6 1815.7 2019.7 1819.3 2019.9 1822.7 2020.0 1825.9 2020.1 1828.9 2020.3 1831.8 2020.4 1834.6 2020.5 1837.2 2020.6 1839.7 2020.7 1842.1 2020.8 1844.3 2020.9 1846.5 2020.9 1848.5 2021.0 1850.5 2021.0 1852.3 2021.1 1854.1 2021.1 1855.7 2021.2 1857.3 2021.4 1858.8 2021.9 1860.2 2022.4 1861.6 2022.9 1862.9 2023.4 1864.1 2023.9 1865.3 2024.4 1866.4 2025.0 1867.5 2025.6 1867.6 2026.2 1869.7 2026.8 1870.0 2027.4 1871.5 2028.1 1872.4 2028.8 1871.9 2029.5 1873.2 2030.2 1874.4 2031.1 1875.9 2032.0 1875.8 2032.9 1875.7 2033.9 1876.9 2034.9 1877.4 2035.9 1878.4 2037.0 1878.6 2038.1 1880.3 2039.2 1879.3 2040.2 1878.7 2041.3 1878.6 2042.5 1881.5 2043.7 1881.3 2044.9 1881.2 2046.1 1880.7 2047.4 1881.9 2048.4 1882.1 2049.2 1882.4 2050.0 1882.3 2050.8 1882.3 2051.6 1882.4 2052.4 1884.2 2053.2 1883.2 2054.1 1882.6 2054.9 1883.2 2055.8 1884.2 2056.7 1883.4 2057.6 1883.0 2058.5 1883.9 2059.5 1885.4 2060.5 1884.8 2061.4 1884.7 2062.4 1885.7 2063.5 1883.8 2064.5 1885.0 2065.6 1884.6 2066.6 1885.7 2067.7 1885.7 2068.0 1886.6 2068.0 1885.5 2068.0 1885.1 2068.0 1886.4 2068.0 1887.0 2068.0 1885.6 2068.0 1885.4 2068.0 1886.8 2068.0 1886.7 2068.0 1887.4 2068.0 1886.5 2068.0 1887.4 2068.0 1888.2 2068.0 1888.0" fill="none"/>
<path d="M138.6 1985.5L140.6 1985.3 142.6 1985.0 144.6 1984.7 146.6 1984.5 148.6 1984.2 150.6 1983.9 152.6 1983.6 154.6 1983.4 156.6 1983.1 158.6 1982.9 160.6 1982.6 162.6 1982.4 164.6 1982.2 166.6 1982.0 168.6 1981.7 170.6 1981.5 172.6 1981.3 174.6 1981.1 176.6 1981.0 178.6 1980.8 180.6 1980.6 182.6 1980.4 184.6 1980.3 186.6 1980.2 188.6 1980.0 190.6 1979.9 192.6 1979.8 194.6 1979.7 196.6 1979.6 198.6 1979.5 200.6 1979.4 202.6 1979.3 204.6 1979.3 206.6 1979.2 208.6 1979.2 210.6 1979.1 212.6 1979.1 214.6 1979.1 216.6 1979.1 218.6 1979.1 220.6 1979.2 222.6 1979.2 224.6 1979.2 226.6 1979.3 228.6 1979.3 230.6 1979.4 232.6 1979.5 234.6 1979.6 236.6 1979.7 238.6 1979.8 240.6 1979.9 242.6 1980.0 244.6 1980.1 246.6 1980.2 248.6 1980.3 250.6 1980.4 252.6 1980.6 254.6 1980.7 256.6 1980.8 258.6 1981.0 260.6 1981.1 262.6 1981.2 264.6 1981.4 266.6 1981.5 268.6 1981.6 270.6 1981.8 272.6 1981.9 274.6 1982.0 276.6 1982.2 278.6 1982.3 280.6 1982.4 282.6 1982.5 284.6 1982.7 286.6 1982.8 288.6 1982.9 290.6 1983.0 292.6 1983.1 294.6 1983.2 296.6 1983.3 298.6 1983.3 300.6 1983.4 302.6 1983.5 304.6 1983.5 306.6 1983.6 308.6 1983.7 310.6 1983.7 312.6 1983.8 314.6 1983.8 316.6 1983.9 318.6 1983.9 320.6 1984.0 322.6 1984.0 324.6 1984.1 326.6 1984.1 328.6 1984.2 330.6 1984.2 332.6 1984.3 334.6 1984.3 336.6 1984.3 338.6 1984.4 340.6 1984.4 342.6 1984.5 344.6 1984.5 346.6 1984.5 348.6 1984.6 350.6 1984.6 352.6 1984.7 354.6 1984.7 356.6 1984.8 358.6 1984.8 360.6 1984.8 362.6 1984.9 364.6 1984.9 366.6 1985.0 368.6 1985.0 370.6 1985.1 372.6 1985.1 374.6 1985.2 376.6 1985.3 378.6 1985.3 380.6 1985.4 382.6 1985.4 384.6 1985.5 386.6 1985.6 388.6 1985.6 390.6 1985.7 392.6 1985.8 394.6 1985.9 396.6 1986.0 398.6 1986.0 400.6 1986.1 402.6 1986.2 404.6 1986.3 406.6 1986.4 408.6 1986.5 410.6 1986.6 412.6 1986.8 414.6 1986.9 416.6 1987.0 418.6 1987.1 420.6 1987.2 422.6 1987.3 424.6 1987.4 426.6 1987.6 428.6 1987.7 430.6 1987.8 432.6 1987.9 434.6 1988.0 436.6 1988.1 438.6 1988.3 440.6 1988.4 442.6 1988.5 444.6 1988.6 446.6 1988.7 448.6 1988.8 450.6 1989.0 452.6 1989.1 454.6 1989.2 456.6 1989.3 458.6 1989.4 460.6 1989.5 462.6 1989.6 464.6 1989.7 466.6 1989.8 468.6 1989.9 470.6 1990.0 472.6 1990.0 474.6 1990.1 476.6 1990.2 478.6 1990.3 480.6 1990.3 482.6 1990.2 484.6 1989.8 486.6 1988.9 488.6 1987.4 490.6 1985.7 492.6 1984.8 494.6 1985.3 496.6 1986.9 498.6 1988.7 500.6 1990.1 502.6 1990.8 504.6 1991.1 506.6 1991.3 508.6 1991.3 510.6 1991.4 512.6 1991.5 514.6 1991.6 516.6 1991.6 518.6 1991.7 520.6 1991.8 522.6 1991.8 524.6 1991.9 526.6 1992.0 528.6 1992.0 530.6 1992.1 532.6 1992.2 534.6 1992.2 536.6 1992.3 538.6 1992.4 540.6 1992.4 542.6 1992.5 544.6 1992.6 546.6 1992.6 548.6 1992.7 550.6 1992.8 552.6 1992.8 554.6 1992.9 556.6 1993.0 558.6 1993.0 560.6 1993.1 562.6 1993.2 564.6 1993.2 566.6 1993.3 568.6 1993.4 570.6 1993.4 572.6 1993.5 574.6 1993.6 576.6 1993.7 578.6 1993.7 580.6 1993.8 582.6 1993.9 584.6 1994.0 586.6 1994.1 588.6 1994.1 590.6 1994.2 592.6 1994.3 594.6 1994.5 596.6 1994.6 598.6 1994.7 600.6 1994.8 602.6 1994.9 604.6 1995.1 606.6 1995.2 608.6 1995.3 610.6 1995.4 612.6 1995.6 614.6 1995.7 616.6 1995.9 618.6 1996.0 620.6 1996.1 622.6 1996.3 624.6 1996.4 626.6 1996.5 628.6 1996.7 630.6 1996.8 632.6 1996.9 634.6 1997.1 636.6 1997.2 638.6 1997.3 640.6 1997.4 642.6 1997.5 644.6 1997.7 646.6 1997.8 648.6 1997.8 650.6 1997.9 652.6 1998.0 654.6 1998.1 656.6 1998.2 658.6 1998.2 660.6 1998.3 662.6 1998.3 664.6 1998.4 666.6 1998.4 668.6 1998.4 670.6 1998.4 672.6 1998.4 674.6 1998.4 676.6 1998.4 678.6 1998.4 680.6 1998.4 682.6 1998.4 684.6 1998.4 686.6 1998.4 688.6 1998.4 690.6 1998.4 692.6 1998.4 694.6 1998.4 696.6 1998.4 698.6 1998.4 700.6 1998.4 702.6 1998.4 704.6 1998.4 706.6 1998.4 708.6 1998.4 710.6 1998.4 712.6 1998.4 714.6 1998.4 716.6 1998.4 718.6 1998.4 720.6 1998.4 722.6 1998.4 724.6 1998.4 726.6 1998.4 728.6 1998.4 730.6 1998.4 732.6 1998.4 734.6 1998.4 736.6 1998.4 738.6 1998.4 740.6 1998.4 742.6 1998.4 744.6 1998.4 746.6 1998.4 748.6 1998.4 750.6 1998.4 752.6 1998.4 754.6 1998.4 756.6 1998.4 758.6 1998.4 760.6 1998.4 762.6 1998.4 764.6 1998.4 766.6 1998.3 768.6 1998.3 770.6 1998.2 772.6 1998.2 774.6 1998.1 776.6 1998.1 778.6 1998.0 780.6 1997.9 782.6 1997.9 784.6 1997.8 786.6 1997.7 788.6 1997.6 790.6 1997.5 792.6 1997.4 794.6 1997.3 796.6 1997.2 798.6 1997.1 800.6 1997.0 802.6 1996.9 804.6 1996.7 806.6 1996.6 808.6 1996.5 810.6 1996.4 812.6 1996.2 814.6 1996.1 816.6 1996.0 818.6 1995.8 820.6 1995.7 822.6 1995.6 824.6 1995.4 826.6 1995.3 828.6 1995.1 830.6 1995.0 832.6 1994.9 834.6 1994.7 836.6 1994.6 838.6 1994.4 840.6 1994.3 842.6 1994.1 844.6 1994.0 846.6 1993.9 848.6 1993.7 850.6 1993.5 852.6 1993.4 854.6 1993.2 856.6 1993.0 858.6 1992.9 860.6 1992.7 862.6 1992.5 864.6 1992.3 866.6 1992.1 868.6 1991.9 870.6 1991.7 872.6 1991.4 874.6 1991.2 876.6 1991.0 878.6 1990.7 880.6 1990.5 882.6 1990.2 884.6 1989.9 886.6 1989.7 888.6 1989.4 890.6 1989.1 892.6 1988.8 894.6 1988.5 896.6 1988.2 898.6 1987.8 900.6 1987.5 902.6 1987.0 904.6 1986.5 906.6 1986.0 908.6 1985.4 910.6 1984.8 912.6 1984.2 914.6 1983.6 916.6 1983.0 918.6 1982.4 920.6 1981.8 922.6 1981.3 924.6 1980.8 926.6 1980.4 928.6 1979.9 930.6 1979.5 932.6 1979.0 934.6 1978.6 936.6 1978.2 938.6 1977.7 940.6 1977.3 942.6 1976.9 944.6 1976.5 946.6 1976.1 948.6 1975.7 950.6 1975.3 952.6 1974.9 954.6 1974.5 956.6 1974.2 958.6 1973.8 960.6 1973.5 962.6 1973.1 964.6 1972.7 966.6 1972.4 968.6 1972.1 970.6 1971.7 972.6 1971.4 974.6 1971.1 976.6 1970.8 978.6 1970.5 980.6 1970.2 982.6 1969.9 984.6 1969.6 986.6 1969.3 988.6 1969.1 990.6 1968.8 992.6 1968.5 994.6 1968.2 996.6 1967.9 998.6 1967.6 1000.6 1967.3 1002.6 1967.1 1004.6 1966.8 1006.6 1966.5 1008.6 1966.2 1010.6 1965.8 1012.6 1965.4 1014.6 1965.0 1016.6 1964.6 1018.6 1964.2 1020.6 1963.8 1022.6 1963.5 1024.6 1963.1 1026.6 1962.8 1028.6 1962.2 1030.6 1961.2 1032.6 1959.7 1034.6 1958.3 1036.6 1957.8 1038.6 1958.8 1040.6 1961.0 1042.6 1963.4 1044.6 1965.4 1046.6 1966.8 1048.6 1967.6 1050.6 1968.2 1052.6 1968.7 1054.6 1969.2 1056.6 1969.6 1058.6 1970.1 1060.6 1970.5 1062.6 1971.0 1064.6 1971.4 1066.6 1971.8 1068.6 1972.3 1070.6 1972.7 1072.6 1973.1 1074.6 1973.5 1076.6 1973.9 1078.6 1974.3 1080.6 1974.7 1082.6 1975.1 1084.6 1975.4 1086.6 1975.8 1088.6 1976.1 1090.6 1976.5 1092.6 1976.8 1094.6 1977.2 1096.6 1977.5 1098.6 1977.8 1100.6 1978.2 1102.6 1978.5 1104.6 1978.9 1106.6 1979.2 1108.6 1979.6 1110.6 1979.9 1112.6 1980.2 1114.6 1980.5 1116.6 1980.8 1118.6 1981.1 1120.6 1981.4 1122.6 1981.7 1124.6 1981.9 1126.6 1982.1 1128.6 1982.3 1130.6 1982.5 1132.6 1982.7 1134.6 1982.8 1136.6 1983.0 1138.6 1983.1 1140.6 1983.2 1142.6 1983.3 1144.6 1983.4 1146.6 1983.4 1148.6 1983.5 1150.6 1983.6 1152.6 1983.7 1154.6 1983.7 1156.6 1983.8 1158.6 1983.9 1160.6 1983.9 1162.6 1984.0 1164.6 1984.0 1166.6 1984.1 1168.6 1984.2 1170.6 1984.2 1172.6 1984.3 1174.6 1984.3 1176.6 1984.4 1178.6 1984.4 1180.6 1984.5 1182.6 1984.5 1184.6 1984.6 1186.6 1984.6 1188.6 1984.7 1190.6 1984.7 1192.6 1984.8 1194.6 1984.8 1196.6 1984.9 1198.6 1984.9 1200.6 1984.9 1202.6 1985.0 1204.6 1985.0 1206.6 1985.1 1208.6 1985.1 1210.6 1985.2 1212.6 1985.2 1214.6 1985.2 1216.6 1985.3 1218.6 1985.3 1220.6 1985.4 1222.6 1985.5 1224.6 1985.5 1226.6 1985.6 1228.6 1985.6 1230.6 1985.7 1232.6 1985.8 1234.6 1985.9 1236.6 1985.9 1238.6 1986.0 1240.6 1986.1 1242.6 1986.2 1244.6 1986.2 1246.6 1986.3 1248.6 1986.4 1250.6 1986.5 1252.6 1986.6 1254.6 1986.6 1256.6 1986.7 1258.6 1986.8 1260.6 1986.9 1262.6 1987.0 1264.6 1987.1 1266.6 1987.2 1268.6 1987.2 1270.6 1987.3 1272.6 1987.4 1274.6 1987.5 1276.6 1987.6 1278.6 1987.7 1280.6 1987.8 1282.6 1987.9 1284.6 1988.0 1286.6 1988.1 1288.6 1988.2 1290.6 1988.3 1292.6 1988.4 1294.6 1988.5 1296.6 1988.6 1298.6 1988.7 1300.6 1988.8 1302.6 1988.9 1304.6 1989.0 1306.6 1989.2 1308.6 1989.3 1310.6 1989.4 1312.6 1989.5 1314.6 1989.6 1316.6 1989.7 1318.6 1989.8 1320.6 1989.9 1322.6 1990.1 1324.6 1990.2 1326.6 1990.3 1328.6 1990.4 1330.6 1990.5 1332.6 1990.6 1334.6 1990.7 1336.6 1990.9 1338.6 1991.0 1340.6 1991.1 1342.6 1991.2 1344.6 1991.3 1346.6 1991.3 1348.6 1991.4 1350.6 1991.5 1352.6 1991.6 1354.6 1991.7 1356.6 1991.8 1358.6 1991.9 1360.6 1991.9 1362.6 1992.0 1364.6 1992.1 1366.6 1992.2 1368.6 1992.3 1370.6 1992.3 1372.6 1992.4 1374.6 1992.5 1376.6 1992.6 1378.6 1992.6 1380.6 1992.7 1382.6 1992.8 1384.6 1992.9 1386.6 1992.9 1388.6 1993.0 1390.6 1993.1 1392.6 1993.2 1394.6 1993.2 1396.6 1993.3 1398.6 1993.4 1400.6 1993.5 1402.6 1993.6 1404.6 1993.6 1406.6 1993.7 1408.6 1993.8 1410.6 1993.9 1412.6 1994.0 1414.6 1994.0 1416.6 1994.1 1418.6 1994.2 1420.6 1994.2 1422.6 1994.3 1424.6 1994.3 1426.6 1994.4 1428.6 1994.4 1430.6 1994.5 1432.6 1994.5 1434.6 1994.6 1436.6 1994.6 1438.6 1994.6 1440.6 1994.7 1442.6 1994.7 1444.6 1994.7 1446.6 1994.8 1448.6 1994.8 1450.6 1994.8 1452.6 1994.8 1454.6 1994.9 1456.6 1994.9 1458.6 1994.9 1460.6 1994.9 1462.6 1995.0 1464.6 1995.0 1466.6 1995.0 1468.6 1995.0 1470.6 1995.0 1472.6 1995.0 1474.6 1995.0 1476.6 1995.0 1478.6 1995.0 1480.6 1995.0 1482.6 1995.0 1484.6 1995.0 1486.6 1995.0 1488.6 1995.0 1490.6 1995.0 1492.6 1995.0 1494.6 1995.0 1496.6 1995.0 1498.6 1995.0 1500.6 1995.0 1502.6 1995.0 1504.6 1995.0 1506.6 1995.0 1508.6 1995.0 1510.6 1994.9 1512.6 1994.4 1514.6 1992.9 1516.6 1989.1 1518.6 1981.3 1520.6 1968.6 1522.6 1953.1 1524.6 1939.9 1526.6 1935.0 1528.6 1940.1 1530.6 1952.3 1532.6 1966.8 1534.6 1979.3 1536.6 1987.8 1538.6 1992.5 1540.6 1994.6 1542.6 1995.5 1544.6 1995.9 1546.6 1996.2 1548.6 1996.7 1550.6 1997.4 1552.6 1998.3 1554.6 1999.1 1556.6 1999.9 1558.6 2000.5 1560.6 2001.0 1562.6 2001.4 1564.6 2001.8 1566.6 2002.2 1568.6 2002.6 1570.6 2002.9 1572.6 2003.3 1574.6 2003.6 1576.6 2003.9 1578.6 2004.2 1580.6 2004.5 1582.6 2004.8 1584.6 2005.0 1586.6 2005.3 1588.6 2005.6 1590.6 2005.8 1592.6 2006.0 1594.6 2006.3 1596.6 2006.5 1598.6 2006.7 1600.6 2006.9 1602.6 2007.1 1604.6 2007.3 1606.6 2007.5 1608.6 2007.7 1610.6 2007.9 1612.6 2008.0 1614.6 2008.2 1616.6 2008.3 1618.6 2008.4 1620.6 2008.6 1622.6 2008.7 1624.6 2008.8 1626.6 2009.0 1628.6 2009.1 1630.6 2009.2 1632.6 2009.3 1634.6 2009.5 1636.6 2009.6 1638.6 2009.7 1640.6 2009.9 1642.6 2010.0 1644.6 2010.2 1646.6 2010.3 1648.6 2010.5 1650.6 2010.7 1652.6 2010.9 1654.6 2011.0 1656.6 2011.3 1658.6 2011.5 1660.6 2011.8 1662.6 2012.2 1664.6 2012.6 1666.6 2013.0 1668.6 2013.4 1670.6 2013.8 1672.6 2014.2 1674.6 2014.6 1676.6 2014.9 1678.6 2015.2 1680.6 2015.4 1682.6 2015.4 1684.6 2015.4 1686.6 2015.4 1688.6 2015.4 1690.6 2015.4 1692.6 2015.4 1694.6 2015.4 1696.6 2015.4 1698.6 2015.4 1700.6 2015.4 1702.6 2015.4 1704.6 2015.4 1706.6 2015.4 1708.6 2015.4 1710.6 2015.4 1712.6 2015.4 1714.6 2015.4 1716.6 2015.4 1718.6 2015.4 1720.6 2015.4 1722.6 2015.4 1724.6 2015.4 1726.6 2015.4 1728.6 2015.5 1730.6 2015.5 1732.6 2015.6 1734.6 2015.7 1736.6 2015.8 1738.6 2016.0 1740.6 2016.1 1742.6 2016.2 1744.6 2016.4 1746.6 2016.5 1748.6 2016.7 1750.6 2016.9 1752.6 2017.0 1754.6 2017.1 1756.6 2017.3 1758.6 2017.4 1760.6 2017.5 1762.6 2017.6 1764.6 2017.6 1766.6 2017.6 1768.6 2017.6 1770.6 2017.6 1772.6 2017.6 1774.6 2017.6 1776.6 2017.6 1778.6 2017.6 1780.6 2017.6 1782.6 2017.6 1784.6 2017.6 1786.6 2017.6 1788.6 2017.6 1790.6 2017.6 1792.6 2017.6 1794.6 2017.6 1796.6 2017.6 1798.6 2017.6 1800.6 2017.6 1802.6 2017.6 1804.6 2017.6 1806.6 2017.6 1808.6 2017.6 1810.6 2017.6 1812.6 2017.7 1814.6 2017.7 1816.6 2017.7 1818.6 2017.8 1820.6 2017.9 1822.6 2018.0 1824.6 2018.2 1826.6 2018.3 1828.6 2018.4 1830.6 2018.6 1832.6 2018.7 1834.6 2018.9 1836.6 2019.0 1838.6 2019.2 1840.6 2019.3 1842.6 2019.4 1844.6 2019.5 1846.6 2019.6 1848.6 2019.7 1850.6 2019.7 1852.6 2019.8 1854.6 2019.8 1856.6 2019.7 1858.6 2019.7 1860.6 2019.6 1862.6 2019.5 1864.6 2019.4 1866.6 2019.3 1868.6 2019.2 1870.6 2019.1 1872.6 2018.9 1874.6 2018.8 1876.6 2018.7 1878.6 2018.5 1880.6 2018.4 1882.6 2018.3 1884.6 2018.1 1886.6 2018.0 1888.6 2017.9 1890.6 2017.8 1892.6 2017.7 1894.6 2017.7 1896.6 2017.6 1898.6 2017.6 1900.6 2017.6 1902.6 2017.5 1904.6 2017.5 1906.6 2017.5 1908.6 2017.5 1910.6 2017.4 1912.6 2017.4 1914.6 2017.4 1916.6 2017.4 1918.6 2017.4 1920.6 2017.4 1922.6 2017.3 1924.6 2017.3 1926.6 2017.3 1928.6 2017.3 1930.6 2017.3 1932.6 2017.2 1934.6 2017.2 1936.6 2017.2 1938.6 2017.1 1940.6 2017.1 1942.6 2017.1 1944.6 2017.0 1946.6 2017.0 1948.6 2016.9 1950.6 2016.8 1952.6 2016.8 1954.6 2016.7 1956.6 2016.6 1958.6 2016.5 1959.3 2016.7 1959.8 2016.6 1960.3 2016.5 1960.8 2016.4 1961.3 2016.4 1961.8 2016.3 1962.3 2016.2 1962.8 2016.1 1963.3 2016.0 1963.8 2015.9 1964.3 2015.8 1964.7 2015.7 1965.2 2015.6 1965.7 2015.5 1966.1 2015.4 1966.7 2015.3 1967.2 2015.2 1967.8 2015.0 1968.3 2014.9 1968.8 2014.8 1969.3 2014.6 1969.8 2014.5 1970.3 2014.3 1970.8 2014.2 1971.3 2014.0 1971.8 2013.8 1972.3 2013.6 1972.7 2013.4 1973.2 2013.2 1973.6 2013.0 1974.1 2012.8 1974.5 2012.5 1975.0 2012.3 1975.4 2012.0 1975.8 2011.7 1976.3 2011.5 1976.7 2011.2 1977.1 2010.8 1977.6 2010.5 1978.0 2010.2 1978.4 2009.8 1978.8 2009.4 1979.2 2009.0 1979.6 2008.6 1980.0 2008.1 1980.4 2007.6 1980.8 2007.1 1981.4 2006.6 1981.9 2006.1 1982.3 2005.5 1982.8 2004.9 1983.3 2004.2 1983.8 2003.6 1984.2 2002.9 1984.7 2002.1 1985.1 2001.3 1985.5 2000.5 1986.0 1999.6 1986.4 1998.7 1986.8 1997.8 1987.2 1997.5 1987.6 1996.4 1987.9 1995.3 1988.2 1994.1 1988.4 1992.9 1988.5 1991.6 1988.7 1990.2 1988.9 1988.8 1989.1 1987.3 1989.2 1985.7 1989.4 1984.1 1989.6 1982.3 1989.7 1980.5 1989.9 1978.5 1990.1 1976.5 1990.2 1974.3 1990.4 1972.1 1990.5 1969.7 1990.7 1967.2 1990.9 1964.6 1991.0 1961.8 1991.2 1958.9 1991.4 1955.9 1991.5 1952.7 1991.6 1949.3 1991.8 1945.7 1991.9 1942.0 1992.1 1938.1 1992.2 1934.0 1992.3 1929.6 1992.5 1925.1 1992.6 1920.3 1992.7 1915.2 1992.9 1909.9 1993.0 1904.3 1993.1 1898.5 1993.3 1892.3 1993.4 1885.8 1993.5 1879.0 1993.7 1871.8 1993.8 1864.2 1994.0 1856.3 1994.2 1847.9 1994.3 1839.2 1994.5 1829.9 1994.7 1820.2 1994.9 1810.0 1995.0 1799.2 1995.2 1788.0 1995.3 1776.1 1995.5 1763.6 1995.6 1750.4 1995.8 1736.6 1995.9 1722.1 1996.2 1706.8 1996.5 1690.7 1996.7 1673.8 1997.0 1656.1 1997.2 1637.4 1997.5 1617.7 1997.7 1597.0 1998.0 1575.3 1998.2 1552.4 1998.4 1528.4 1998.8 1503.1 1999.2 1476.5 1999.6 1448.6 2000.0 1419.1 2000.4 1388.2 2000.8 1355.7 2001.1 1321.5 2001.5 1285.5 2001.8 1247.7 2002.1 1207.9 2002.6 1166.1 2003.1 1122.1 2003.5 1075.8 2003.9 1064.2 2004.1 1064.2 2004.2 1064.2 2004.2 1064.2 2004.3 1064.2 2004.4 1064.2 2004.5 1064.2 2004.5 1064.2 2004.6 1064.2 2004.7 1064.2 2004.8 1064.2 2004.8 1064.2 2004.9 1064.2 2005.0 1064.2 2005.0 1064.2 2005.1 1064.2 2005.2 1064.2 2005.2 1064.2 2005.3 1064.2 2005.3 1064.2 2005.4 1064.2 2005.4 1064.2 2005.5 1064.2 2010.5 1064.2 2010.6 1064.2 2010.6 1064.2 2010.7 1064.2 2010.7 1064.2 2010.8 1064.2 2010.8 1064.2 2010.9 1064.2 2011.0 1064.2 2011.0 1064.2 2011.1 1064.2 2011.2 1064.2 2011.2 1064.2 2011.3 1064.2 2011.4 1064.2 2011.5 1064.2 2011.5 1064.2 2011.6 1064.2 2011.7 1064.2 2011.8 1064.2 2011.8 1064.2 2011.9 1064.2 2012.1 1064.2 2012.5 1075.8 2012.9 1122.1 2013.4 1166.1 2013.9 1207.9 2014.2 1247.7 2014.5 1285.5 2014.8 1321.5 2015.1 1355.7 2015.4 1388.2 2015.7 1419.1 2016.0 1448.6 2016.4 1476.5 2016.8 1503.1 2017.1 1528.4 2017.3 1552.4 2017.4 1575.3 2017.6 1597.0 2017.8 1617.7 2018.0 1637.4 2018.2 1656.1 2018.4 1673.8 2018.6 1690.7 2018.9 1706.8 2019.0 1722.1 2019.1 1736.6 2019.2 1750.4 2019.3 1763.6 2019.4 1776.1 2019.5 1788.0 2019.5 1799.2 2019.6 1810.0 2019.7 1820.2 2019.8 1829.9 2019.9 1839.2 2020.0 1847.9 2020.1 1856.3 2020.2 1864.2 2020.3 1871.8 2020.3 1879.0 2020.4 1885.8 2020.4 1892.3 2020.4 1898.5 2020.5 1904.3 2020.5 1909.9 2020.6 1915.2 2020.6 1920.3 2020.7 1925.1 2020.7 1929.6 2020.8 1934.0 2020.8 1938.1 2020.9 1942.0 2020.9 1945.7 2021.0 1949.3 2021.0 1952.7 2021.0 1955.9 2021.1 1958.9 2021.2 1961.8 2021.2 1964.6 2021.3 1967.2 2021.3 1969.7 2021.4 1972.1 2021.5 1974.3 2021.5 1976.5 2021.6 1978.5 2021.6 1980.5 2021.7 1982.3 2021.7 1984.1 2021.8 1985.7 2021.8 1987.3 2022.1 1988.8 2022.6 1990.2 2023.1 1991.6 2023.6 1992.9 2024.1 1994.1 2024.7 1995.3 2025.3 1996.4 2025.8 1997.5 2026.4 1997.8 2027.1 1998.7 2027.7 1999.6 2028.4 2000.5 2029.1 2001.3 2029.8 2002.1 2030.5 2002.9 2031.4 2003.6 2032.3 2004.2 2033.2 2004.9 2034.2 2005.5 2035.2 2006.1 2036.2 2006.6 2037.3 2007.1 2038.4 2007.6 2039.6 2008.1 2040.7 2008.6 2041.8 2009.0 2043.0 2009.4 2044.2 2009.8 2045.4 2010.2 2046.7 2010.5 2048.0 2010.8 2049.4 2011.2 2050.5 2011.5 2051.3 2011.7 2052.1 2012.0 2052.9 2012.3 2053.7 2012.5 2054.6 2012.8 2055.5 2013.0 2056.4 2013.2 2057.3 2013.4 2058.2 2013.6 2059.1 2013.8 2060.1 2013.9 2061.1 2014.1 2062.1 2014.3 2063.1 2014.4 2064.1 2014.5 2065.2 2014.7 2066.2 2014.8 2067.3 2014.9 2068.4 2015.0 2069.6 2015.2 2070.7 2015.3 2071.0 2015.4 2071.0 2015.5 2071.0 2015.5 2071.0 2015.6 2071.0 2015.7 2071.0 2015.8 2071.0 2015.9 2071.0 2015.9 2071.0 2016.0 2071.0 2016.1 2071.0 2016.1 2071.0 2016.2 2071.0 2016.2 2071.0 2016.3 2071.0 2017.7 2071.0 2017.7 2071.0 2017.6 2071.0 2017.6 2071.0 2017.5 2071.0 2017.4 2071.0 2017.4 2071.0 2017.3 2071.0 2017.2 2071.0 2017.1 2071.0 2017.1 2071.0 2017.0 2071.0 2016.9 2071.0 2016.8 2070.7 2016.7 2069.6 2016.6 2068.4 2016.5 2067.3 2016.4 2066.2 2016.2 2065.2 2016.1 2064.1 2016.0 2063.1 2015.8 2062.1 2015.7 2061.1 2015.5 2060.1 2015.4 2059.1 2015.2 2058.2 2015.0 2057.3 2014.8 2056.4 2014.6 2055.5 2014.4 2054.6 2014.2 2053.7 2014.0 2052.9 2013.7 2052.1 2013.5 2051.3 2013.2 2050.5 2012.9 2049.4 2012.6 2048.0 2012.3 2046.7 2011.9 2045.4 2011.6 2044.2 2011.2 2043.0 2010.8 2041.8 2010.4 2040.7 2010.0 2039.6 2009.6 2038.4 2009.1 2037.3 2008.6 2036.2 2008.1 2035.2 2007.5 2034.2 2006.9 2033.2 2006.3 2032.3 2005.7 2031.4 2005.0 2030.5 2004.3 2029.8 2003.6 2029.1 2002.8 2028.4 2001.9 2027.7 2001.1 2027.1 2000.2 2026.4 1999.2 2025.8 1997.5 2025.3 1996.4 2024.7 1995.3 2024.1 1994.1 2023.6 1992.9 2023.1 1991.6 2022.6 1990.2 2022.1 1988.8 2021.8 1987.3 2021.8 1985.7 2021.7 1984.1 2021.7 1982.3 2021.6 1980.5 2021.6 1978.5 2021.5 1976.5 2021.5 1974.3 2021.4 1972.1 2021.3 1969.7 2021.3 1967.2 2021.2 1964.6 2021.2 1961.8 2021.1 1958.9 2021.0 1955.9 2021.0 1952.7 2021.0 1949.3 2020.9 1945.7 2020.9 1942.0 2020.8 1938.1 2020.8 1934.0 2020.7 1929.6 2020.7 1925.1 2020.6 1920.3 2020.6 1915.2 2020.5 1909.9 2020.5 1904.3 2020.4 1898.5 2020.4 1892.3 2020.4 1885.8 2020.3 1879.0 2020.3 1871.8 2020.2 1864.2 2020.1 1856.3 2020.0 1847.9 2019.9 1839.2 2019.8 1829.9 2019.7 1820.2 2019.6 1810.0 2019.5 1799.2 2019.5 1788.0 2019.4 1776.1 2019.3 1763.6 2019.2 1750.4 2019.1 1736.6 2019.0 1722.1 2018.9 1706.8 2018.6 1690.7 2018.4 1673.8 2018.2 1656.1 2018.0 1637.4 2017.8 1617.7 2017.6 1597.0 2017.4 1575.3 2017.3 1552.4 2017.1 1528.4 2016.8 1503.1 2016.4 1476.5 2016.0 1448.6 2015.7 1419.1 2015.4 1388.2 2015.1 1355.7 2014.8 1321.5 2014.5 1285.5 2014.2 1247.7 2013.9 1207.9 2013.4 1166.1 2012.9 1122.1 2012.5 1075.8 2012.1 1064.2 2011.9 1064.2 2011.8 1064.2 2011.8 1064.2 2011.7 1064.2 2011.6 1064.2 2011.5 1064.2 2011.5 1064.2 2011.4 1064.2 2011.3 1064.2 2011.2 1064.2 2011.2 1064.2 2011.1 1064.2 2011.0 1064.2 2011.0 1064.2 2010.9 1064.2 2010.8 1064.2 2010.8 1064.2 2010.7 1064.2 2010.7 1064.2 2010.6 1064.2 2010.6 1064.2 2010.5 1064.2 2005.5 1064.2 2005.4 1064.2 2005.4 1064.2 2005.3 1064.2 2005.3 1064.2 2005.2 1064.2 2005.2 1064.2 2005.1 1064.2 2005.0 1064.2 2005.0 1064.2 2004.9 1064.2 2004.8 1064.2 2004.8 1064.2 2004.7 1064.2 2004.6 1064.2 2004.5 1064.2 2004.5 1064.2 2004.4 1064.2 2004.3 1064.2 2004.2 1064.2 2004.2 1064.2 2004.1 1064.2 2003.9 1064.2 2003.5 1075.8 2003.1 1122.1 2002.6 1166.1 2002.1 1207.9 2001.8 1247.7 2001.5 1285.5 2001.1 1321.5 2000.8 1355.7 2000.4 1388.2 2000.0 1419.1 1999.6 1448.6 1999.2 1476.5 1998.8 1503.1 1998.4 1528.4 1998.2 1552.4 1998.0 1575.3 1997.7 1597.0 1997.5 1617.7 1997.2 1637.4 1997.0 1656.1 1996.7 1673.8 1996.5 1690.7 1996.2 1706.8 1995.9 1722.1 1995.8 1736.6 1995.6 1750.4 1995.5 1763.6 1995.3 1776.1 1995.2 1788.0 1995.0 1799.2 1994.9 1810.0 1994.7 1820.2 1994.5 1829.9 1994.3 1839.2 1994.2 1847.9 1994.0 1856.3 1993.8 1864.2 1993.7 1871.8 1993.5 1879.0 1993.4 1885.8 1993.3 1892.3 1993.1 1898.5 1993.0 1904.3 1992.9 1909.9 1992.7 1915.2 1992.6 1920.3 1992.5 1925.1 1992.3 1929.6 1992.2 1934.0 1992.1 1938.1 1991.9 1942.0 1991.8 1945.7 1991.6 1949.3 1991.5 1952.7 1991.4 1955.9 1991.2 1958.9 1991.0 1961.8 1990.9 1964.6 1990.7 1967.2 1990.5 1969.7 1990.4 1972.1 1990.2 1974.3 1990.1 1976.5 1989.9 1978.5 1989.7 1980.5 1989.6 1982.3 1989.4 1984.1 1989.2 1985.7 1989.1 1987.3 1988.9 1988.8 1988.7 1990.2 1988.5 1991.6 1988.4 1992.9 1988.2 1994.1 1987.9 1995.3 1987.6 1996.4 1987.2 1997.5 1986.8 1999.2 1986.4 2000.2 1986.0 2001.1 1985.5 2001.9 1985.1 2002.8 1984.7 2003.6 1984.2 2004.3 1983.8 2005.0 1983.3 2005.7 1982.8 2006.3 1982.3 2006.9 1981.9 2007.5 1981.4 2008.1 1980.8 2008.6 1980.4 2009.1 1980.0 2009.6 1979.6 2010.0 1979.2 2010.4 1978.8 2010.8 1978.4 2011.2 1978.0 2011.6 1977.6 2011.9 1977.1 2012.3 1976.7 2012.6 1976.3 2012.9 1975.8 2013.2 1975.4 2013.5 1975.0 2013.7 1974.5 2014.0 1974.1 2014.2 1973.6 2014.4 1973.2 2014.6 1972.7 2014.9 1972.3 2015.1 1971.8 2015.2 1971.3 2015.4 1970.8 2015.6 1970.3 2015.8 1969.8 2015.9 1969.3 2016.1 1968.8 2016.2 1968.3 2016.4 1967.8 2016.5 1967.2 2016.6 1966.7 2016.7 1966.1 2016.9 1965.7 2017.0 1965.2 2017.1 1964.7 2017.2 1964.3 2017.3 1963.8 2017.4 1963.3 2017.5 1962.8 2017.6 1962.3 2017.6 1961.8 2017.7 1961.3 2017.8 1960.8 2017.9 1960.3 2018.0 1959.8 2018.0 1959.3 2018.1 1958.6 2020.3 1956.6 2020.3 1954.6 2020.4 1952.6 2020.5 1950.6 2020.5 1948.6 2020.6 1946.6 2020.7 1944.6 2020.7 1942.6 2020.8 1940.6 2020.8 1938.6 2020.9 1936.6 2020.9 1934.6 2020.9 1932.6 2020.9 1930.6 2021.0 1928.6 2021.0 1926.6 2021.0 1924.6 2021.0 1922.6 2021.0 1920.6 2021.1 1918.6 2021.1 1916.6 2021.1 1914.6 2021.1 1912.6 2021.1 1910.6 2021.2 1908.6 2021.2 1906.6 2021.2 1904.6 2021.2 1902.6 2021.2 1900.6 2021.3 1898.6 2021.3 1896.6 2021.3 1894.6 2021.4 1892.6 2021.4 1890.6 2021.5 1888.6 2021.6 1886.6 2021.7 1884.6 2021.8 1882.6 2022.0 1880.6 2022.1 1878.6 2022.2 1876.6 2022.4 1874.6 2022.5 1872.6 2022.6 1870.6 2022.8 1868.6 2022.9 1866.6 2023.0 1864.6 2023.1 1862.6 2023.2 1860.6 2023.3 1858.6 2023.4 1856.6 2023.4 1854.6 2023.4 1852.6 2023.4 1850.6 2023.4 1848.6 2023.4 1846.6 2023.3 1844.6 2023.2 1842.6 2023.1 1840.6 2023.0 1838.6 2022.9 1836.6 2022.7 1834.6 2022.6 1832.6 2022.4 1830.6 2022.3 1828.6 2022.1 1826.6 2022.0 1824.6 2021.9 1822.6 2021.7 1820.6 2021.6 1818.6 2021.5 1816.6 2021.5 1814.6 2021.4 1812.6 2021.4 1810.6 2021.4 1808.6 2021.4 1806.6 2021.4 1804.6 2021.4 1802.6 2021.4 1800.6 2021.4 1798.6 2021.4 1796.6 2021.4 1794.6 2021.4 1792.6 2021.4 1790.6 2021.4 1788.6 2021.4 1786.6 2021.4 1784.6 2021.4 1782.6 2021.4 1780.6 2021.4 1778.6 2021.4 1776.6 2021.4 1774.6 2021.4 1772.6 2021.4 1770.6 2021.4 1768.6 2021.4 1766.6 2021.3 1764.6 2021.3 1762.6 2021.3 1760.6 2021.2 1758.6 2021.1 1756.6 2021.0 1754.6 2020.9 1752.6 2020.7 1750.6 2020.6 1748.6 2020.4 1746.6 2020.3 1744.6 2020.1 1742.6 2020.0 1740.6 2019.8 1738.6 2019.7 1736.6 2019.6 1734.6 2019.4 1732.6 2019.4 1730.6 2019.3 1728.6 2019.2 1726.6 2019.2 1724.6 2019.2 1722.6 2019.2 1720.6 2019.2 1718.6 2019.2 1716.6 2019.2 1714.6 2019.2 1712.6 2019.2 1710.6 2019.2 1708.6 2019.2 1706.6 2019.2 1704.6 2019.2 1702.6 2019.2 1700.6 2019.2 1698.6 2019.2 1696.6 2019.2 1694.6 2019.2 1692.6 2019.2 1690.6 2019.2 1688.6 2019.2 1686.6 2019.2 1684.6 2019.2 1682.6 2019.2 1680.6 2019.1 1678.6 2018.9 1676.6 2018.7 1674.6 2018.4 1672.6 2018.0 1670.6 2017.6 1668.6 2017.2 1666.6 2016.8 1664.6 2016.3 1662.6 2016.0 1660.6 2015.6 1658.6 2015.3 1656.6 2015.1 1654.6 2014.9 1652.6 2014.7 1650.6 2014.5 1648.6 2014.3 1646.6 2014.1 1644.6 2014.0 1642.6 2013.8 1640.6 2013.7 1638.6 2013.6 1636.6 2013.4 1634.6 2013.3 1632.6 2013.2 1630.6 2013.0 1628.6 2012.9 1626.6 2012.8 1624.6 2012.7 1622.6 2012.6 1620.6 2012.4 1618.6 2012.3 1616.6 2012.2 1614.6 2012.0 1612.6 2011.9 1610.6 2011.7 1608.6 2011.5 1606.6 2011.4 1604.6 2011.2 1602.6 2011.0 1600.6 2010.8 1598.6 2010.6 1596.6 2010.4 1594.6 2010.1 1592.6 2009.9 1590.6 2009.7 1588.6 2009.4 1586.6 2009.2 1584.6 2008.9 1582.6 2008.7 1580.6 2008.4 1578.6 2008.1 1576.6 2007.8 1574.6 2007.5 1572.6 2007.2 1570.6 2006.8 1568.6 2006.5 1566.6 2006.1 1564.6 2005.7 1562.6 2005.3 1560.6 2004.9 1558.6 2004.5 1556.6 2003.9 1554.6 2003.1 1552.6 2002.3 1550.6 2001.4 1548.6 2000.7 1546.6 2000.2 1544.6 1999.9 1542.6 1999.5 1540.6 1998.7 1538.6 1996.5 1536.6 1991.8 1534.6 1983.5 1532.6 1971.1 1530.6 1956.7 1528.6 1944.7 1526.6 1939.6 1524.6 1944.4 1522.6 1957.5 1520.6 1972.9 1518.6 1985.5 1516.6 1993.2 1514.6 1997.0 1512.6 1998.4 1510.6 1998.9 1508.6 1999.0 1506.6 1999.0 1504.6 1999.0 1502.6 1999.0 1500.6 1999.0 1498.6 1999.0 1496.6 1999.0 1494.6 1999.0 1492.6 1999.0 1490.6 1999.0 1488.6 1999.0 1486.6 1999.0 1484.6 1999.0 1482.6 1999.0 1480.6 1999.0 1478.6 1999.0 1476.6 1999.0 1474.6 1999.0 1472.6 1999.0 1470.6 1999.0 1468.6 1999.0 1466.6 1999.0 1464.6 1999.0 1462.6 1999.0 1460.6 1998.9 1458.6 1998.9 1456.6 1998.9 1454.6 1998.9 1452.6 1998.9 1450.6 1998.8 1448.6 1998.8 1446.6 1998.8 1444.6 1998.7 1442.6 1998.7 1440.6 1998.7 1438.6 1998.6 1436.6 1998.6 1434.6 1998.6 1432.6 1998.5 1430.6 1998.5 1428.6 1998.5 1426.6 1998.4 1424.6 1998.4 1422.6 1998.3 1420.6 1998.3 1418.6 1998.2 1416.6 1998.1 1414.6 1998.1 1412.6 1998.0 1410.6 1997.9 1408.6 1997.8 1406.6 1997.8 1404.6 1997.7 1402.6 1997.6 1400.6 1997.5 1398.6 1997.4 1396.6 1997.3 1394.6 1997.3 1392.6 1997.2 1390.6 1997.1 1388.6 1997.0 1386.6 1997.0 1384.6 1996.9 1382.6 1996.8 1380.6 1996.7 1378.6 1996.7 1376.6 1996.6 1374.6 1996.5 1372.6 1996.4 1370.6 1996.4 1368.6 1996.3 1366.6 1996.2 1364.6 1996.1 1362.6 1996.1 1360.6 1996.0 1358.6 1995.9 1356.6 1995.8 1354.6 1995.7 1352.6 1995.7 1350.6 1995.6 1348.6 1995.5 1346.6 1995.4 1344.6 1995.3 1342.6 1995.2 1340.6 1995.1 1338.6 1995.0 1336.6 1994.9 1334.6 1994.8 1332.6 1994.7 1330.6 1994.6 1328.6 1994.5 1326.6 1994.4 1324.6 1994.2 1322.6 1994.1 1320.6 1994.0 1318.6 1993.9 1316.6 1993.8 1314.6 1993.7 1312.6 1993.6 1310.6 1993.4 1308.6 1993.3 1306.6 1993.2 1304.6 1993.1 1302.6 1993.0 1300.6 1992.9 1298.6 1992.8 1296.6 1992.7 1294.6 1992.6 1292.6 1992.5 1290.6 1992.4 1288.6 1992.3 1286.6 1992.2 1284.6 1992.1 1282.6 1992.0 1280.6 1991.9 1278.6 1991.8 1276.6 1991.7 1274.6 1991.6 1272.6 1991.5 1270.6 1991.4 1268.6 1991.3 1266.6 1991.2 1264.6 1991.2 1262.6 1991.1 1260.6 1991.0 1258.6 1990.9 1256.6 1990.8 1254.6 1990.7 1252.6 1990.7 1250.6 1990.6 1248.6 1990.5 1246.6 1990.4 1244.6 1990.3 1242.6 1990.3 1240.6 1990.2 1238.6 1990.1 1236.6 1990.0 1234.6 1990.0 1232.6 1989.9 1230.6 1989.8 1228.6 1989.8 1226.6 1989.7 1224.6 1989.6 1222.6 1989.6 1220.6 1989.5 1218.6 1989.5 1216.6 1989.4 1214.6 1989.4 1212.6 1989.3 1210.6 1989.3 1208.6 1989.2 1206.6 1989.2 1204.6 1989.1 1202.6 1989.1 1200.6 1989.1 1198.6 1989.0 1196.6 1989.0 1194.6 1988.9 1192.6 1988.9 1190.6 1988.8 1188.6 1988.8 1186.6 1988.8 1184.6 1988.7 1182.6 1988.7 1180.6 1988.6 1178.6 1988.6 1176.6 1988.5 1174.6 1988.4 1172.6 1988.4 1170.6 1988.3 1168.6 1988.3 1166.6 1988.2 1164.6 1988.2 1162.6 1988.1 1160.6 1988.1 1158.6 1988.0 1156.6 1987.9 1154.6 1987.9 1152.6 1987.8 1150.6 1987.7 1148.6 1987.7 1146.6 1987.6 1144.6 1987.5 1142.6 1987.4 1140.6 1987.3 1138.6 1987.2 1136.6 1987.1 1134.6 1987.0 1132.6 1986.8 1130.6 1986.7 1128.6 1986.5 1126.6 1986.3 1124.6 1986.1 1122.6 1985.8 1120.6 1985.6 1118.6 1985.3 1116.6 1985.0 1114.6 1984.7 1112.6 1984.4 1110.6 1984.1 1108.6 1983.7 1106.6 1983.4 1104.6 1983.1 1102.6 1982.7 1100.6 1982.4 1098.6 1982.0 1096.6 1981.7 1094.6 1981.4 1092.6 1981.0 1090.6 1980.7 1088.6 1980.4 1086.6 1980.0 1084.6 1979.6 1082.6 1979.3 1080.6 1978.9 1078.6 1978.5 1076.6 1978.1 1074.6 1977.7 1072.6 1977.3 1070.6 1976.9 1068.6 1976.5 1066.6 1976.1 1064.6 1975.7 1062.6 1975.2 1060.6 1974.8 1058.6 1974.4 1056.6 1973.9 1054.6 1973.5 1052.6 1973.0 1050.6 1972.5 1048.6 1971.9 1046.6 1971.1 1044.6 1969.7 1042.6 1967.8 1040.6 1965.3 1038.6 1963.2 1036.6 1962.2 1034.6 1962.7 1032.6 1964.1 1030.6 1965.5 1028.6 1966.5 1026.6 1967.1 1024.6 1967.5 1022.6 1967.8 1020.6 1968.1 1018.6 1968.5 1016.6 1968.9 1014.6 1969.3 1012.6 1969.7 1010.6 1970.1 1008.6 1970.5 1006.6 1970.8 1004.6 1971.1 1002.6 1971.4 1000.6 1971.6 998.6 1971.9 996.6 1972.2 994.6 1972.5 992.6 1972.8 990.6 1973.1 988.6 1973.3 986.6 1973.6 984.6 1973.9 982.6 1974.2 980.6 1974.5 978.6 1974.8 976.6 1975.1 974.6 1975.4 972.6 1975.7 970.6 1976.0 968.6 1976.3 966.6 1976.7 964.6 1977.0 962.6 1977.3 960.6 1977.7 958.6 1978.0 956.6 1978.4 954.6 1978.8 952.6 1979.1 950.6 1979.5 948.6 1979.9 946.6 1980.3 944.6 1980.7 942.6 1981.1 940.6 1981.5 938.6 1981.9 936.6 1982.3 934.6 1982.8 932.6 1983.2 930.6 1983.7 928.6 1984.1 926.6 1984.5 924.6 1985.0 922.6 1985.5 920.6 1986.0 918.6 1986.5 916.6 1987.1 914.6 1987.7 912.6 1988.3 910.6 1988.9 908.6 1989.5 906.6 1990.1 904.6 1990.6 902.6 1991.1 900.6 1991.6 898.6 1991.9 896.6 1992.2 894.6 1992.6 892.6 1992.9 890.6 1993.2 888.6 1993.5 886.6 1993.7 884.6 1994.0 882.6 1994.3 880.6 1994.5 878.6 1994.8 876.6 1995.0 874.6 1995.3 872.6 1995.5 870.6 1995.7 868.6 1995.9 866.6 1996.1 864.6 1996.3 862.6 1996.5 860.6 1996.7 858.6 1996.9 856.6 1997.1 854.6 1997.2 852.6 1997.4 850.6 1997.6 848.6 1997.7 846.6 1997.9 844.6 1998.0 842.6 1998.2 840.6 1998.3 838.6 1998.4 836.6 1998.6 834.6 1998.7 832.6 1998.9 830.6 1999.0 828.6 1999.1 826.6 1999.3 824.6 1999.4 822.6 1999.6 820.6 1999.7 818.6 1999.8 816.6 2000.0 814.6 2000.1 812.6 2000.2 810.6 2000.4 808.6 2000.5 806.6 2000.6 804.6 2000.7 802.6 2000.8 800.6 2001.0 798.6 2001.1 796.6 2001.2 794.6 2001.3 792.6 2001.4 790.6 2001.5 788.6 2001.6 786.6 2001.7 784.6 2001.7 782.6 2001.8 780.6 2001.9 778.6 2002.0 776.6 2002.0 774.6 2002.1 772.6 2002.2 770.6 2002.2 768.6 2002.3 766.6 2002.3 764.6 2002.3 762.6 2002.3 760.6 2002.4 758.6 2002.4 756.6 2002.4 754.6 2002.4 752.6 2002.4 750.6 2002.4 748.6 2002.4 746.6 2002.4 744.6 2002.4 742.6 2002.4 740.6 2002.4 738.6 2002.4 736.6 2002.4 734.6 2002.4 732.6 2002.4 730.6 2002.4 728.6 2002.4 726.6 2002.4 724.6 2002.4 722.6 2002.4 720.6 2002.4 718.6 2002.4 716.6 2002.4 714.6 2002.4 712.6 2002.4 710.6 2002.4 708.6 2002.4 706.6 2002.4 704.6 2002.4 702.6 2002.4 700.6 2002.4 698.6 2002.4 696.6 2002.4 694.6 2002.4 692.6 2002.4 690.6 2002.4 688.6 2002.4 686.6 2002.4 684.6 2002.4 682.6 2002.4 680.6 2002.4 678.6 2002.4 676.6 2002.4 674.6 2002.4 672.6 2002.4 670.6 2002.4 668.6 2002.4 666.6 2002.4 664.6 2002.3 662.6 2002.3 660.6 2002.3 658.6 2002.2 656.6 2002.1 654.6 2002.1 652.6 2002.0 650.6 2001.9 648.6 2001.8 646.6 2001.7 644.6 2001.6 642.6 2001.5 640.6 2001.4 638.6 2001.3 636.6 2001.2 634.6 2001.1 632.6 2000.9 630.6 2000.8 628.6 2000.7 626.6 2000.5 624.6 2000.4 622.6 2000.3 620.6 2000.1 618.6 2000.0 616.6 1999.9 614.6 1999.7 612.6 1999.6 610.6 1999.5 608.6 1999.3 606.6 1999.2 604.6 1999.1 602.6 1998.9 600.6 1998.8 598.6 1998.7 596.6 1998.6 594.6 1998.5 592.6 1998.4 590.6 1998.3 588.6 1998.2 586.6 1998.1 584.6 1998.0 582.6 1997.9 580.6 1997.8 578.6 1997.8 576.6 1997.7 574.6 1997.6 572.6 1997.5 570.6 1997.5 568.6 1997.4 566.6 1997.3 564.6 1997.3 562.6 1997.2 560.6 1997.1 558.6 1997.1 556.6 1997.0 554.6 1996.9 552.6 1996.9 550.6 1996.8 548.6 1996.7 546.6 1996.7 544.6 1996.6 542.6 1996.5 540.6 1996.5 538.6 1996.4 536.6 1996.3 534.6 1996.3 532.6 1996.2 530.6 1996.1 528.6 1996.1 526.6 1996.0 524.6 1995.9 522.6 1995.9 520.6 1995.8 518.6 1995.7 516.6 1995.7 514.6 1995.6 512.6 1995.5 510.6 1995.5 508.6 1995.4 506.6 1995.3 504.6 1995.2 502.6 1994.9 500.6 1994.1 498.6 1992.8 496.6 1991.0 494.6 1989.4 492.6 1988.9 490.6 1989.8 488.6 1991.5 486.6 1993.0 484.6 1993.9 482.6 1994.3 480.6 1994.4 478.6 1994.3 476.6 1994.3 474.6 1994.2 472.6 1994.1 470.6 1994.0 468.6 1993.9 466.6 1993.8 464.6 1993.7 462.6 1993.7 460.6 1993.6 458.6 1993.5 456.6 1993.4 454.6 1993.2 452.6 1993.1 450.6 1993.0 448.6 1992.9 446.6 1992.8 444.6 1992.7 442.6 1992.6 440.6 1992.5 438.6 1992.3 436.6 1992.2 434.6 1992.1 432.6 1992.0 430.6 1991.9 428.6 1991.8 426.6 1991.6 424.6 1991.5 422.6 1991.4 420.6 1991.3 418.6 1991.2 416.6 1991.1 414.6 1991.0 412.6 1990.9 410.6 1990.7 408.6 1990.6 406.6 1990.5 404.6 1990.4 402.6 1990.3 400.6 1990.2 398.6 1990.2 396.6 1990.1 394.6 1990.0 392.6 1989.9 390.6 1989.8 388.6 1989.7 386.6 1989.7 384.6 1989.6 382.6 1989.5 380.6 1989.5 378.6 1989.4 376.6 1989.4 374.6 1989.3 372.6 1989.3 370.6 1989.2 368.6 1989.2 366.6 1989.1 364.6 1989.1 362.6 1989.0 360.6 1989.0 358.6 1988.9 356.6 1988.9 354.6 1988.8 352.6 1988.8 350.6 1988.8 348.6 1988.7 346.6 1988.7 344.6 1988.6 342.6 1988.6 340.6 1988.5 338.6 1988.5 336.6 1988.5 334.6 1988.4 332.6 1988.4 330.6 1988.3 328.6 1988.3 326.6 1988.3 324.6 1988.2 322.6 1988.2 320.6 1988.1 318.6 1988.1 316.6 1988.0 314.6 1988.0 312.6 1987.9 310.6 1987.9 308.6 1987.8 306.6 1987.7 304.6 1987.7 302.6 1987.6 300.6 1987.6 298.6 1987.5 296.6 1987.4 294.6 1987.3 292.6 1987.2 290.6 1987.1 288.6 1987.0 286.6 1986.9 284.6 1986.8 282.6 1986.7 280.6 1986.6 278.6 1986.4 276.6 1986.3 274.6 1986.2 272.6 1986.1 270.6 1985.9 268.6 1985.8 266.6 1985.7 264.6 1985.5 262.6 1985.4 260.6 1985.2 258.6 1985.1 256.6 1985.0 254.6 1984.9 252.6 1984.7 250.6 1984.6 248.6 1984.5 246.6 1984.4 244.6 1984.2 242.6 1984.1 240.6 1984.0 238.6 1983.9 236.6 1983.8 234.6 1983.7 232.6 1983.7 230.6 1983.6 228.6 1983.5 226.6 1983.5 224.6 1983.4 222.6 1983.4 220.6 1983.3 218.6 1983.3 216.6 1983.3 214.6 1983.3 212.6 1983.3 210.6 1983.3 208.6 1983.3 206.6 1983.4 204.6 1983.4 202.6 1983.5 200.6 1983.6 198.6 1983.6 196.6 1983.7 194.6 1983.8 192.6 1983.9 190.6 1984.1 188.6 1984.2 186.6 1984.3 184.6 1984.5 182.6 1984.6 180.6 1984.8 178.6 1984.9 176.6 1985.1 174.6 1985.3 172.6 1985.5 170.6 1985.7 168.6 1985.9 166.6 1986.1 164.6 1986.3 162.6 1986.6 160.6 1986.8 158.6 1987.0 156.6 1987.3 154.6 1987.5 152.6 1987.8 150.6 1988.0 148.6 1988.3 146.6 1988.6 144.6 1988.9 142.6 1989.1 140.6 1989.4 138.6 1989.7Z" fill="#111" stroke="none"/>
<path d="M138.6 1988.5L140.6 1987.0 142.6 1989.5 144.6 1985.5 146.6 1986.1 148.6 1984.7 150.6 1991.0 152.6 1983.0 154.6 1987.9 156.6 1981.4 158.6 1986.4 160.6 1982.2 162.6 1985.5 164.6 1982.9 166.6 1987.0 168.6 1984.2 170.6 1984.2 172.6 1984.0 174.6 1983.1 176.6 1982.7 178.6 1981.4 180.6 1984.1 182.6 1983.5 184.6 1981.2 186.6 1980.9 188.6 1978.8 190.6 1983.0 192.6 1986.0 194.6 1981.7 196.6 1982.1 198.6 1981.6 200.6 1981.8 202.6 1980.6 204.6 1981.1 206.6 1978.4 208.6 1977.2 210.6 1978.9 212.6 1982.7 214.6 1982.0 216.6 1982.4 218.6 1978.4 220.6 1982.1 222.6 1980.4 224.6 1981.0 226.6 1983.5 228.6 1979.8 230.6 1978.2 232.6 1985.9 234.6 1977.3 236.6 1983.2 238.6 1982.0 240.6 1983.4 242.6 1982.0 244.6 1979.5 246.6 1984.7 248.6 1983.4 250.6 1981.1 252.6 1979.7 254.6 1982.9 256.6 1981.4 258.6 1978.6 260.6 1984.4 262.6 1986.6 264.6 1983.7 266.6 1984.7 268.6 1983.5 270.6 1986.0 272.6 1984.3 274.6 1980.4 276.6 1987.5 278.6 1984.2 280.6 1986.2 282.6 1984.5 284.6 1981.4 286.6 1979.7 288.6 1985.8 290.6 1983.4 292.6 1987.0 294.6 1988.0 296.6 1985.3 298.6 1982.7 300.6 1988.4 302.6 1982.3 304.6 1983.5 306.6 1986.5 308.6 1985.6 310.6 1986.1 312.6 1984.3 314.6 1981.7 316.6 1990.5 318.6 1989.9 320.6 1987.8 322.6 1988.3 324.6 1990.9 326.6 1985.8 328.6 1983.3 330.6 1984.3 332.6 1986.1 334.6 1986.6 336.6 1987.8 338.6 1988.6 340.6 1983.8 342.6 1987.8 344.6 1985.7 346.6 1987.0 348.6 1987.0 350.6 1985.5 352.6 1987.4 354.6 1985.7 356.6 1988.0 358.6 1985.6 360.6 1989.0 362.6 1985.5 364.6 1983.3 366.6 1983.1 368.6 1986.8 370.6 1983.1 372.6 1985.1 374.6 1986.2 376.6 1991.1 378.6 1990.7 380.6 1990.3 382.6 1989.1 384.6 1985.5 386.6 1984.4 388.6 1984.9 390.6 1988.2 392.6 1993.8 394.6 1990.7 396.6 1986.6 398.6 1986.4 400.6 1989.5 402.6 1988.1 404.6 1990.3 406.6 1992.9 408.6 1990.4 410.6 1990.0 412.6 1992.7 414.6 1988.1 416.6 1988.7 418.6 1989.0 420.6 1984.8 422.6 1990.8 424.6 1990.7 426.6 1988.6 428.6 1989.5 430.6 1986.8 432.6 1992.1 434.6 1991.9 436.6 1989.8 438.6 1988.9 440.6 1988.4 442.6 1988.9 444.6 1992.6 446.6 1993.8 448.6 1991.9 450.6 1990.0 452.6 1992.6 454.6 1992.2 456.6 1989.9 458.6 1990.6 460.6 1992.5 462.6 1988.6 464.6 1993.9 466.6 1993.4 468.6 1993.9 470.6 1993.2 472.6 1989.9 474.6 1985.4 476.6 1987.6 478.6 1988.8 480.6 1990.5 482.6 1995.3 484.6 1994.8 486.6 1993.2 488.6 1989.8 490.6 1988.8 492.6 1985.9 494.6 1991.0 496.6 1990.8 498.6 1987.4 500.6 1991.6 502.6 1991.4 504.6 1994.6 506.6 1989.5 508.6 1990.9 510.6 1997.5 512.6 1990.5 514.6 1994.9 516.6 1990.3 518.6 1992.2 520.6 1994.6 522.6 1998.7 524.6 1995.2 526.6 1992.5 528.6 1993.0 530.6 1994.5 532.6 1994.0 534.6 1993.7 536.6 1991.8 538.6 1991.7 540.6 1990.3 542.6 1996.4 544.6 1994.8 546.6 1995.5 548.6 1995.1 550.6 1991.9 552.6 1991.8 554.6 1997.8 556.6 1995.5 558.6 1995.0 560.6 1999.7 562.6 1995.3 564.6 1994.1 566.6 1992.4 568.6 1995.2 570.6 1996.1 572.6 1998.9 574.6 1991.6 576.6 1994.0 578.6 1994.8 580.6 1996.3 582.6 1996.4 584.6 1995.6 586.6 2000.3 588.6 1994.2 590.6 1994.0 592.6 1995.9 594.6 1995.3 596.6 1994.1 598.6 1996.4 600.6 1999.1 602.6 1995.5 604.6 1996.3 606.6 1996.0 608.6 1997.2 610.6 1997.4 612.6 1999.6 614.6 1997.2 616.6 1998.4 618.6 1997.2 620.6 1996.5 622.6 2000.2 624.6 1997.2 626.6 1998.6 628.6 2001.7 630.6 1999.4 632.6 2002.5 634.6 1997.1 636.6 1998.7 638.6 1998.4 640.6 2002.6 642.6 1998.4 644.6 2000.9 646.6 1999.2 648.6 1997.7 650.6 2002.2 652.6 2003.4 654.6 2003.3 656.6 2000.6 658.6 2000.9 660.6 2001.6 662.6 1999.6 664.6 1998.1 666.6 1996.0 668.6 2001.9 670.6 2001.6 672.6 1999.5 674.6 2003.8 676.6 2001.8 678.6 2000.6 680.6 1999.6 682.6 2002.4 684.6 2001.5 686.6 1999.0 688.6 1999.5 690.6 2000.0 692.6 2001.5 694.6 1997.4 696.6 1999.9 698.6 2002.0 700.6 2001.4 702.6 2000.8 704.6 2003.1 706.6 2003.8 708.6 2000.9 710.6 2005.3 712.6 1996.9 714.6 1998.5 716.6 2000.0 718.6 2004.1 720.6 2002.6 722.6 1998.8 724.6 2001.6 726.6 2004.5 728.6 2004.0 730.6 2003.5 732.6 2001.6 734.6 2000.7 736.6 2001.6 738.6 2002.4 740.6 2002.0 742.6 1998.8 744.6 2000.6 746.6 1997.9 748.6 1999.1 750.6 1999.9 752.6 2001.9 754.6 1998.4 756.6 2001.1 758.6 2002.0 760.6 2001.5 762.6 1995.5 764.6 1999.4 766.6 2002.1 768.6 1999.5 770.6 1999.8 772.6 2001.2 774.6 2003.3 776.6 1999.6 778.6 2001.2 780.6 2003.3 782.6 1997.1 784.6 1997.1 786.6 1995.5 788.6 1996.5 790.6 1999.7 792.6 2000.5 794.6 1997.6 796.6 2000.0 798.6 1997.1 800.6 1996.3 802.6 1996.6 804.6 1999.5 806.6 1999.7 808.6 1998.0 810.6 1993.3 812.6 2001.1 814.6 1996.2 816.6 1996.6 818.6 1997.0 820.6 1994.0 822.6 1999.0 824.6 1998.6 826.6 1997.5 828.6 1998.3 830.6 1997.2 832.6 1996.6 834.6 1996.4 836.6 1997.8 838.6 1998.5 840.6 1994.1 842.6 1998.6 844.6 1998.1 846.6 1999.3 848.6 1993.9 850.6 1996.6 852.6 1996.0 854.6 1999.5 856.6 1998.7 858.6 1991.2 860.6 1993.5 862.6 1992.9 864.6 1995.6 866.6 1990.3 868.6 1996.0 870.6 1999.6 872.6 1987.0 874.6 1994.8 876.6 1993.6 878.6 1992.4 880.6 1994.5 882.6 1995.2 884.6 1993.0 886.6 1990.8 888.6 1992.7 890.6 1994.6 892.6 1992.8 894.6 1990.4 896.6 1988.8 898.6 1992.1 900.6 1990.6 902.6 1989.6 904.6 1987.1 906.6 1989.4 908.6 1987.6 910.6 1988.2 912.6 1984.6 914.6 1985.8 916.6 1983.9 918.6 1983.1 920.6 1984.7 922.6 1984.6 924.6 1977.8 926.6 1983.3 928.6 1986.3 930.6 1980.0 932.6 1982.3 934.6 1977.3 936.6 1979.8 938.6 1979.0 940.6 1980.5 942.6 1977.4 944.6 1976.7 946.6 1979.6 948.6 1977.8 950.6 1977.8 952.6 1975.1 954.6 1976.1 956.6 1978.1 958.6 1974.3 960.6 1975.7 962.6 1969.6 964.6 1977.8 966.6 1974.4 968.6 1971.8 970.6 1976.3 972.6 1970.5 974.6 1974.7 976.6 1976.6 978.6 1977.1 980.6 1971.8 982.6 1971.6 984.6 1973.5 986.6 1976.8 988.6 1972.0 990.6 1971.4 992.6 1971.4 994.6 1967.1 996.6 1966.9 998.6 1969.5 1000.6 1966.2 1002.6 1965.6 1004.6 1970.2 1006.6 1969.5 1008.6 1973.3 1010.6 1966.4 1012.6 1968.2 1014.6 1964.8 1016.6 1970.0 1018.6 1967.0 1020.6 1966.0 1022.6 1966.1 1024.6 1961.2 1026.6 1967.1 1028.6 1966.9 1030.6 1959.5 1032.6 1961.8 1034.6 1959.7 1036.6 1960.8 1038.6 1965.4 1040.6 1962.1 1042.6 1966.0 1044.6 1966.7 1046.6 1970.7 1048.6 1968.4 1050.6 1973.3 1052.6 1967.0 1054.6 1971.8 1056.6 1974.3 1058.6 1971.2 1060.6 1975.0 1062.6 1972.5 1064.6 1973.9 1066.6 1978.1 1068.6 1975.0 1070.6 1972.7 1072.6 1972.5 1074.6 1979.1 1076.6 1972.6 1078.6 1980.7 1080.6 1972.9 1082.6 1982.8 1084.6 1977.0 1086.6 1978.0 1088.6 1977.6 1090.6 1976.4 1092.6 1979.8 1094.6 1980.1 1096.6 1981.2 1098.6 1979.1 1100.6 1982.1 1102.6 1978.8 1104.6 1980.2 1106.6 1979.1 1108.6 1984.9 1110.6 1981.3 1112.6 1981.4 1114.6 1982.1 1116.6 1978.2 1118.6 1983.2 1120.6 1983.8 1122.6 1985.1 1124.6 1983.0 1126.6 1983.0 1128.6 1984.7 1130.6 1981.7 1132.6 1984.0 1134.6 1987.2 1136.6 1980.5 1138.6 1985.5 1140.6 1985.3 1142.6 1986.8 1144.6 1985.3 1146.6 1984.4 1148.6 1983.4 1150.6 1986.1 1152.6 1987.9 1154.6 1987.3 1156.6 1984.4 1158.6 1989.3 1160.6 1987.0 1162.6 1984.6 1164.6 1987.4 1166.6 1981.6 1168.6 1985.8 1170.6 1983.7 1172.6 1989.3 1174.6 1987.8 1176.6 1989.8 1178.6 1983.7 1180.6 1987.2 1182.6 1987.3 1184.6 1984.9 1186.6 1984.5 1188.6 1985.5 1190.6 1988.2 1192.6 1987.6 1194.6 1988.3 1196.6 1984.1 1198.6 1991.6 1200.6 1985.7 1202.6 1984.6 1204.6 1990.5 1206.6 1983.9 1208.6 1985.8 1210.6 1988.2 1212.6 1989.3 1214.6 1986.4 1216.6 1988.1 1218.6 1985.4 1220.6 1990.8 1222.6 1989.9 1224.6 1985.5 1226.6 1989.9 1228.6 1986.7 1230.6 1989.4 1232.6 1989.8 1234.6 1985.4 1236.6 1990.6 1238.6 1985.3 1240.6 1986.6 1242.6 1989.4 1244.6 1989.4 1246.6 1987.6 1248.6 1984.4 1250.6 1992.1 1252.6 1988.8 1254.6 1989.2 1256.6 1986.8 1258.6 1993.8 1260.6 1988.7 1262.6 1986.7 1264.6 1985.9 1266.6 1989.8 1268.6 1990.2 1270.6 1990.3 1272.6 1990.3 1274.6 1992.5 1276.6 1992.4 1278.6 1991.9 1280.6 1988.8 1282.6 1989.4 1284.6 1989.2 1286.6 1992.0 1288.6 1991.9 1290.6 1991.3 1292.6 1990.2 1294.6 1989.0 1296.6 1988.7 1298.6 1992.2 1300.6 1985.8 1302.6 1987.2 1304.6 1992.4 1306.6 1991.0 1308.6 1993.6 1310.6 1989.4 1312.6 1992.9 1314.6 1994.1 1316.6 1995.9 1318.6 1995.2 1320.6 1988.8 1322.6 1990.7 1324.6 1988.9 1326.6 1989.3 1328.6 1990.8 1330.6 1993.5 1332.6 1996.3 1334.6 1998.7 1336.6 1996.8 1338.6 1991.1 1340.6 1993.3 1342.6 1994.1 1344.6 1992.7 1346.6 1995.4 1348.6 1997.3 1350.6 1990.9 1352.6 1995.8 1354.6 1991.8 1356.6 1997.8 1358.6 1998.2 1360.6 1994.4 1362.6 1992.9 1364.6 1992.5 1366.6 1997.1 1368.6 1992.0 1370.6 1996.0 1372.6 1997.8 1374.6 1997.7 1376.6 1995.9 1378.6 1991.7 1380.6 1995.5 1382.6 1999.0 1384.6 1990.3 1386.6 1994.7 1388.6 1997.3 1390.6 1991.7 1392.6 1990.3 1394.6 1993.2 1396.6 1996.6 1398.6 1998.7 1400.6 1995.7 1402.6 1996.4 1404.6 1991.7 1406.6 1997.2 1408.6 1997.4 1410.6 1994.3 1412.6 1999.2 1414.6 1998.2 1416.6 1998.6 1418.6 1996.3 1420.6 1997.2 1422.6 1994.9 1424.6 1998.3 1426.6 1997.1 1428.6 1993.6 1430.6 1994.9 1432.6 1999.5 1434.6 1992.4 1436.6 1999.7 1438.6 1999.9 1440.6 1998.4 1442.6 1992.0 1444.6 1997.9 1446.6 1997.8 1448.6 2000.1 1450.6 1988.7 1452.6 1996.8 1454.6 1996.9 1456.6 1997.5 1458.6 1992.4 1460.6 1997.7 1462.6 1998.5 1464.6 1994.1 1466.6 1997.2 1468.6 1999.5 1470.6 1995.9 1472.6 1997.5 1474.6 1995.4 1476.6 1994.6 1478.6 1996.5 1480.6 1999.6 1482.6 1995.8 1484.6 2000.2 1486.6 1997.9 1488.6 1998.5 1490.6 1997.7 1492.6 1994.9 1494.6 1991.6 1496.6 1998.6 1498.6 1992.6 1500.6 1997.4 1502.6 1999.7 1504.6 1993.8 1506.6 1994.3 1508.6 1999.7 1510.6 1992.3 1512.6 1996.8 1514.6 1998.0 1516.6 1991.0 1518.6 1984.6 1520.6 1971.5 1522.6 1956.1 1524.6 1942.8 1526.6 1937.8 1528.6 1943.6 1530.6 1958.3 1532.6 1969.4 1534.6 1979.5 1536.6 1988.9 1538.6 1993.2 1540.6 1997.3 1542.6 1995.0 1544.6 1998.9 1546.6 1997.4 1548.6 1999.6 1550.6 2002.3 1552.6 1999.8 1554.6 1997.9 1556.6 1999.0 1558.6 2002.6 1560.6 1999.5 1562.6 2004.1 1564.6 2002.4 1566.6 2002.2 1568.6 2003.3 1570.6 2002.5 1572.6 2007.6 1574.6 2007.7 1576.6 2004.1 1578.6 2006.4 1580.6 2008.1 1582.6 2006.5 1584.6 2006.7 1586.6 2010.8 1588.6 2008.2 1590.6 2007.0 1592.6 2008.0 1594.6 2010.2 1596.6 2009.5 1598.6 2007.1 1600.6 2008.2 1602.6 2010.5 1604.6 2010.5 1606.6 2011.5 1608.6 2009.3 1610.6 2011.6 1612.6 2009.0 1614.6 2009.9 1616.6 2011.4 1618.6 2011.4 1620.6 2011.7 1622.6 2009.8 1624.6 2012.9 1626.6 2009.1 1628.6 2010.1 1630.6 2009.2 1632.6 2010.6 1634.6 2013.2 1636.6 2007.1 1638.6 2014.5 1640.6 2010.0 1642.6 2010.2 1644.6 2011.0 1646.6 2011.9 1648.6 2012.9 1650.6 2012.7 1652.6 2012.2 1654.6 2011.2 1656.6 2012.0 1658.6 2013.9 1660.6 2018.3 1662.6 2011.8 1664.6 2013.7 1666.6 2018.8 1668.6 2015.7 1670.6 2018.2 1672.6 2018.3 1674.6 2015.3 1676.6 2018.8 1678.6 2014.3 1680.6 2018.5 1682.6 2016.2 1684.6 2022.3 1686.6 2019.2 1688.6 2017.8 1690.6 2020.0 1692.6 2017.2 1694.6 2018.5 1696.6 2017.5 1698.6 2019.3 1700.6 2019.1 1702.6 2017.1 1704.6 2016.9 1706.6 2017.5 1708.6 2018.2 1710.6 2019.7 1712.6 2019.7 1714.6 2018.6 1716.6 2016.2 1718.6 2015.8 1720.6 2016.7 1722.6 2018.8 1724.6 2017.0 1726.6 2016.5 1728.6 2017.5 1730.6 2017.2 1732.6 2014.7 1734.6 2017.2 1736.6 2019.8 1738.6 2016.6 1740.6 2019.9 1742.6 2018.4 1744.6 2019.7 1746.6 2017.7 1748.6 2011.6 1750.6 2023.1 1752.6 2019.1 1754.6 2022.6 1756.6 2021.4 1758.6 2020.8 1760.6 2013.7 1762.6 2020.3 1764.6 2022.9 1766.6 2021.1 1768.6 2019.4 1770.6 2018.3 1772.6 2017.6 1774.6 2017.1 1776.6 2021.6 1778.6 2021.0 1780.6 2017.6 1782.6 2019.4 1784.6 2018.4 1786.6 2020.5 1788.6 2020.2 1790.6 2019.1 1792.6 2019.1 1794.6 2019.8 1796.6 2018.4 1798.6 2021.3 1800.6 2020.2 1802.6 2021.6 1804.6 2019.5 1806.6 2015.2 1808.6 2020.1 1810.6 2022.1 1812.6 2019.1 1814.6 2015.4 1816.6 2022.7 1818.6 2023.8 1820.6 2020.5 1822.6 2016.9 1824.6 2021.7 1826.6 2018.8 1828.6 2018.1 1830.6 2020.1 1832.6 2017.0 1834.6 2018.2 1836.6 2021.1 1838.6 2025.2 1840.6 2015.2 1842.6 2022.1 1844.6 2023.3 1846.6 2021.8 1848.6 2025.3 1850.6 2021.8 1852.6 2020.8 1854.6 2020.2 1856.6 2020.4 1858.6 2019.5 1860.6 2021.3 1862.6 2023.5 1864.6 2020.0 1866.6 2021.1 1868.6 2020.0 1870.6 2020.1 1872.6 2016.3 1874.6 2019.3 1876.6 2017.6 1878.6 2016.7 1880.6 2021.3 1882.6 2023.4 1884.6 2020.2 1886.6 2019.6 1888.6 2020.2 1890.6 2019.5 1892.6 2016.7 1894.6 2018.4 1896.6 2019.7 1898.6 2018.3 1900.6 2020.2 1902.6 2021.8 1904.6 2018.7 1906.6 2017.9 1908.6 2019.1 1910.6 2017.7 1912.6 2015.6 1914.6 2017.7 1916.6 2019.2 1918.6 2018.0 1920.6 2017.9 1922.6 2017.1 1924.6 2022.1 1926.6 2017.8 1928.6 2023.7 1930.6 2019.9 1932.6 2020.1 1934.6 2016.1 1936.6 2017.5 1938.6 2016.6 1940.6 2016.3 1942.6 2018.7 1944.6 2020.5 1946.6 2018.2 1948.6 2019.9 1950.6 2017.6 1952.6 2018.7 1954.6 2019.5 1956.6 2018.0 1958.6 2016.1 1959.3 2016.5 1959.8 2016.8 1960.3 2015.3 1960.8 2017.4 1961.3 2017.9 1961.8 2016.1 1962.3 2016.3 1962.8 2017.1 1963.3 2016.9 1963.8 2017.2 1964.3 2016.4 1964.7 2016.7 1965.2 2015.7 1965.7 2016.2 1966.1 2017.2 1966.7 2015.9 1967.2 2014.7 1967.8 2016.0 1968.3 2014.8 1968.8 2015.2 1969.3 2015.9 1969.8 2014.2 1970.3 2013.9 1970.8 2014.4 1971.3 2015.7 1971.8 2013.2 1972.3 2013.1 1972.7 2014.3 1973.2 2015.0 1973.6 2014.1 1974.1 2012.7 1974.5 2012.9 1975.0 2013.5 1975.4 2014.0 1975.8 2011.9 1976.3 2013.4 1976.7 2012.8 1977.1 2012.4 1977.6 2011.7 1978.0 2011.7 1978.4 2009.7 1978.8 2011.8 1979.2 2009.4 1979.6 2009.9 1980.0 2008.2 1980.4 2006.5 1980.8 2008.2 1981.4 2006.4 1981.9 2006.3 1982.3 2007.0 1982.8 2005.5 1983.3 2004.9 1983.8 2005.5 1984.2 2003.3 1984.7 2002.2 1985.1 2001.7 1985.5 2000.4 1986.0 2001.5 1986.4 1999.8 1986.8 1999.6 1987.2 1997.5 1987.6 1996.4 1987.9 1995.3 1988.2 1994.1 1988.4 1992.9 1988.5 1991.6 1988.7 1990.2 1988.9 1988.8 1989.1 1987.3 1989.2 1985.7 1989.4 1984.1 1989.6 1982.3 1989.7 1980.5 1989.9 1978.5 1990.1 1976.5 1990.2 1974.3 1990.4 1972.1 1990.5 1969.7 1990.7 1967.2 1990.9 1964.6 1991.0 1961.8 1991.2 1958.9 1991.4 1955.9 1991.5 1952.7 1991.6 1949.3 1991.8 1945.7 1991.9 1942.0 1992.1 1938.1 1992.2 1934.0 1992.3 1929.6 1992.5 1925.1 1992.6 1920.3 1992.7 1915.2 1992.9 1909.9 1993.0 1904.3 1993.1 1898.5 1993.3 1892.3 1993.4 1885.8 1993.5 1879.0 1993.7 1871.8 1993.8 1864.2 1994.0 1856.3 1994.2 1847.9 1994.3 1839.2 1994.5 1829.9 1994.7 1820.2 1994.9 1810.0 1995.0 1799.2 1995.2 1788.0 1995.3 1776.1 1995.5 1763.6 1995.6 1750.4 1995.8 1736.6 1995.9 1722.1 1996.2 1706.8 1996.5 1690.7 1996.7 1673.8 1997.0 1656.1 1997.2 1637.4 1997.5 1617.7 1997.7 1597.0 1998.0 1575.3 1998.2 1552.4 1998.4 1528.4 1998.8 1503.1 1999.2 1476.5 1999.6 1448.6 2000.0 1419.1 2000.4 1388.2 2000.8 1355.7 2001.1 1321.5 2001.5 1285.5 2001.8 1247.7 2002.1 1207.9 2002.6 1166.1 2003.1 1122.1 2003.5 1075.8 2003.9 1064.2 2004.1 1064.2 2004.2 1064.2 2004.2 1064.2 2004.3 1064.2 2004.4 1064.2 2004.5 1064.2 2004.5 1064.2 2004.6 1064.2 2004.7 1064.2 2004.8 1064.2 2004.8 1064.2 2004.9 1064.2 2005.0 1064.2 2005.0 1064.2 2005.1 1064.2 2005.2 1064.2 2005.2 1064.2 2005.3 1064.2 2005.3 1064.2 2005.4 1064.2 2005.4 1064.2 2005.5 1064.2 2010.5 1064.2 2010.6 1064.2 2010.6 1064.2 2010.7 1064.2 2010.7 1064.2 2010.8 1064.2 2010.8 1064.2 2010.9 1064.2 2011.0 1064.2 2011.0 1064.2 2011.1 1064.2 2011.2 1064.2 2011.2 1064.2 2011.3 1064.2 2011.4 1064.2 2011.5 1064.2 2011.5 1064.2 2011.6 1064.2 2011.7 1064.2 2011.8 1064.2 2011.8 1064.2 2011.9 1064.2 2012.1 1064.2 2012.5 1075.8 2012.9 1122.1 2013.4 1166.1 2013.9 1207.9 2014.2 1247.7 2014.5 1285.5 2014.8 1321.5 2015.1 1355.7 2015.4 1388.2 2015.7 1419.1 2016.0 1448.6 2016.4 1476.5 2016.8 1503.1 2017.1 1528.4 2017.3 1552.4 2017.4 1575.3 2017.6 1597.0 2017.8 1617.7 2018.0 1637.4 2018.2 1656.1 2018.4 1673.8 2018.6 1690.7 2018.9 1706.8 2019.0 1722.1 2019.1 1736.6 2019.2 1750.4 2019.3 1763.6 2019.4 1776.1 2019.5 1788.0 2019.5 1799.2 2019.6 1810.0 2019.7 1820.2 2019.8 1829.9 2019.9 1839.2 2020.0 1847.9 2020.1 1856.3 2020.2 1864.2 2020.3 1871.8 2020.3 1879.0 2020.4 1885.8 2020.4 1892.3 2020.4 1898.5 2020.5 1904.3 2020.5 1909.9 2020.6 1915.2 2020.6 1920.3 2020.7 1925.1 2020.7 1929.6 2020.8 1934.0 2020.8 1938.1 2020.9 1942.0 2020.9 1945.7 2021.0 1949.3 2021.0 1952.7 2021.0 1955.9 2021.1 1958.9 2021.2 1961.8 2021.2 1964.6 2021.3 1967.2 2021.3 1969.7 2021.4 1972.1 2021.5 1974.3 2021.5 1976.5 2021.6 1978.5 2021.6 1980.5 2021.7 1982.3 2021.7 1984.1 2021.8 1985.7 2021.8 1987.3 2022.1 1988.8 2022.6 1990.2 2023.1 1991.6 2023.6 1992.9 2024.1 1994.1 2024.7 1995.3 2025.3 1996.4 2025.8 1997.5 2026.4 1998.6 2027.1 1999.1 2027.7 2001.5 2028.4 1999.3 2029.1 2002.4 2029.8 2001.0 2030.5 2004.3 2031.4 2003.8 2032.3 2006.2 2033.2 2005.7 2034.2 2008.0 2035.2 2007.0 2036.2 2008.2 2037.3 2007.8 2038.4 2009.0 2039.6 2008.4 2040.7 2009.8 2041.8 2009.8 2043.0 2010.8 2044.2 2010.4 2045.4 2009.8 2046.7 2012.7 2048.0 2012.3 2049.4 2011.5 2050.5 2012.4 2051.3 2011.8 2052.1 2012.1 2052.9 2013.8 2053.7 2013.0 2054.6 2013.7 2055.5 2013.6 2056.4 2013.8 2057.3 2013.0 2058.2 2013.5 2059.1 2013.3 2060.1 2013.5 2061.1 2015.1 2062.1 2015.5 2063.1 2015.5 2064.1 2013.8 2065.2 2014.5 2066.2 2015.9 2067.3 2014.9 2068.4 2016.1 2069.6 2015.0 2070.7 2016.0 2071.0 2014.9 2071.0 2016.1 2071.0 2016.0 2071.0 2016.3 2071.0 2016.2 2071.0 2016.2 2071.0 2016.6 2071.0 2017.4 2071.0 2016.5 2071.0 2017.7 2071.0 2016.4 2071.0 2015.8 2071.0 2016.6 2071.0 2017.0" fill="none"/>
</g>
<rect x="137.9" y="41.8" width="1907.6999999999998" height="951.0" fill="none" stroke="#231f20" stroke-width="4.2"/>
<line x1="137.9" y1="992.8" x2="137.9" y2="1011.5" stroke="#231f20" stroke-width="4.2"/>
<line x1="519.6" y1="992.8" x2="519.6" y2="1011.5" stroke="#231f20" stroke-width="4.2"/>
<line x1="901.5" y1="992.8" x2="901.5" y2="1011.5" stroke="#231f20" stroke-width="4.2"/>
<line x1="1283.3" y1="992.8" x2="1283.3" y2="1011.5" stroke="#231f20" stroke-width="4.2"/>
<line x1="1664.7" y1="992.8" x2="1664.7" y2="1011.5" stroke="#231f20" stroke-width="4.2"/>
<line x1="2045.6" y1="992.8" x2="2045.6" y2="1011.5" stroke="#231f20" stroke-width="4.2"/>
<rect x="137.6" y="1094.2" width="1904.0" height="951.3999999999999" fill="none" stroke="#231f20" stroke-width="4.2"/>
<line x1="137.6" y1="2045.6" x2="137.6" y2="2064.5" stroke="#231f20" stroke-width="4.2"/>
<line x1="519.6" y1="2045.6" x2="519.6" y2="2064.5" stroke="#231f20" stroke-width="4.2"/>
<line x1="899.6" y1="2045.6" x2="899.6" y2="2064.5" stroke="#231f20" stroke-width="4.2"/>
<line x1="1280.4" y1="2045.6" x2="1280.4" y2="2064.5" stroke="#231f20" stroke-width="4.2"/>
<line x1="1660.6" y1="2045.6" x2="1660.6" y2="2064.5" stroke="#231f20" stroke-width="4.2"/>
<line x1="2041.6" y1="2045.6" x2="2041.6" y2="2064.5" stroke="#231f20" stroke-width="4.2"/>
<text x="138.2" y="1071" text-anchor="middle" class="tl">5</text>
<text x="521.8" y="1071" text-anchor="middle" class="tl">10</text>
<text x="903.2" y="1071" text-anchor="middle" class="tl">15</text>
<text x="1285.0" y="1071" text-anchor="middle" class="tl">20</text>
<text x="1666.3" y="1071" text-anchor="middle" class="tl">25</text>
<text x="2047.5" y="1071" text-anchor="middle" class="tl">30</text>
<text x="138.2" y="2123.4" text-anchor="middle" class="tl">5</text>
<text x="521.3" y="2123.4" text-anchor="middle" class="tl">10</text>
<text x="901.1" y="2123.4" text-anchor="middle" class="tl">15</text>
<text x="1281.9" y="2123.4" text-anchor="middle" class="tl">20</text>
<text x="1662.3" y="2123.4" text-anchor="middle" class="tl">25</text>
<text x="2043.0" y="2123.4" text-anchor="middle" class="tl">30</text>
<text transform="translate(148.1,116) scale(0.96,1)" class="pan">(a)</text>
<text x="151.4" y="1163.7" class="pan">(b)</text>
<text transform="translate(1453.1,103) scale(1.0078,1)" class="ttl">PLLA/CaCO<tspan font-size="35" dy="18">3</tspan><tspan dy="-18"> (%wt)</tspan></text>
<text transform="translate(1030.1,1156) scale(1.004,1)" class="ttl">PLLA-<tspan font-style="italic">b</tspan>-PEG-<tspan font-style="italic">b</tspan>-PLLA/CaCO<tspan font-size="35" dy="18">3</tspan><tspan dy="-18"> (%wt)</tspan></text>
<text x="1749.1" y="434.5" class="lab">100/0</text>
<text x="1773.8" y="557.1" class="lab">95/5</text>
<text x="1769.9" y="693.7" class="lab">90/10</text>
<text x="1764.6" y="816.6" class="lab">80/20</text>
<text x="1764" y="944.6" class="lab">70/30</text>
<text x="1751.6" y="1487.6" class="lab">100/0</text>
<text x="1770.1" y="1613.7" class="lab">95/5</text>
<text x="1753.6" y="1763.2" class="lab">90/10</text>
<text x="1754.1" y="1877.7" class="lab">80/20</text>
<text x="1759.4" y="2001.2" class="lab">70/30</text>
<text transform="translate(82.6,662.2) rotate(-90) scale(0.935,1)" class="yl">Intensity</text>
<text transform="translate(82.6,1735.7) rotate(-90) scale(0.935,1)" class="yl">Intensity</text>
<text x="920.7" y="2226" class="xl">2<tspan font-family="'Liberation Serif', serif" font-weight="normal">&#952;</tspan> (degree)</text>
<line x1="802" y1="1267" x2="811" y2="1267" stroke="#888" stroke-width="1.5"/>
</svg>
</body></html>
